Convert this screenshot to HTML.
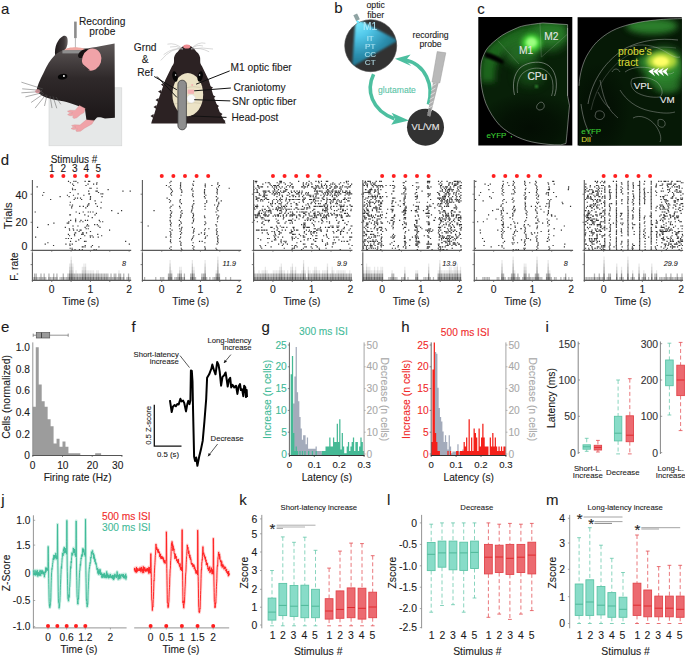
<!DOCTYPE html>
<html><head><meta charset="utf-8"><style>
html,body{margin:0;padding:0;background:#fff;width:685px;height:656px;overflow:hidden;}
svg{display:block;font-family:"Liberation Sans", sans-serif;}
</style></head><body>
<svg width="685" height="656" viewBox="0 0 685 656" font-family='"Liberation Sans", sans-serif'><defs><linearGradient id="mg" x1="0" y1="0" x2="0" y2="1"><stop offset="0" stop-color="#5e5858"/><stop offset="0.45" stop-color="#2f292a"/><stop offset="1" stop-color="#1b1617"/></linearGradient><linearGradient id="eg" x1="0" y1="0" x2="1" y2="0"><stop offset="0" stop-color="#1e191a"/><stop offset="0.7" stop-color="#3e3839"/><stop offset="1" stop-color="#6a6464"/></linearGradient><radialGradient id="cone" cx="357" cy="21" r="52" gradientUnits="userSpaceOnUse"><stop offset="0" stop-color="#7cecff"/><stop offset="0.3" stop-color="#52c8ea"/><stop offset="0.65" stop-color="#2c90b0"/><stop offset="1" stop-color="#1c6378"/></radialGradient><clipPath id="m1c"><circle cx="370.7" cy="45.7" r="25.8"/></clipPath><radialGradient id="dk" cx="0.5" cy="0.5" r="0.5"><stop offset="0" stop-color="#020a02" stop-opacity="0.85"/><stop offset="0.5" stop-color="#020a02" stop-opacity="0.6"/><stop offset="1" stop-color="#020a02" stop-opacity="0"/></radialGradient><filter id="b1" x="-50%" y="-50%" width="200%" height="200%"><feGaussianBlur stdDeviation="0.8"/></filter><filter id="b2" x="-50%" y="-50%" width="200%" height="200%"><feGaussianBlur stdDeviation="1.6"/></filter><filter id="b3" x="-50%" y="-50%" width="200%" height="200%"><feGaussianBlur stdDeviation="2.4000000000000004"/></filter><filter id="b4" x="-50%" y="-50%" width="200%" height="200%"><feGaussianBlur stdDeviation="3.2"/></filter><filter id="b6" x="-50%" y="-50%" width="200%" height="200%"><feGaussianBlur stdDeviation="4.800000000000001"/></filter><filter id="b10" x="-50%" y="-50%" width="200%" height="200%"><feGaussianBlur stdDeviation="8.0"/></filter><clipPath id="lbc"><path d="M567.6 24.6L542.9 22.9C530 24.5 522 25.5 517.3 27.8C510 31 503 34 497.7 38.6C492 43 488.5 46.5 485.9 50.4C483 56 481.5 60 481 64.2C480.5 70 480.5 76 481 81.9C481.8 90 483.5 97 485.9 103.5C489.5 112 494 119 499.6 125.2C505 130.5 511 134 517.3 137C524 140 530 141.8 537 142.9C545 144.2 553 145 560.6 144.9L566 143.5C567.5 130 568.2 118 569.5 105.5L567.6 95.7Z"/></clipPath><clipPath id="rbc"><path d="M681.8 18.6C670 18.8 662 19.3 655.6 20C648 20.8 642 21.6 636 22.9C628 24.6 622 26.5 616.3 28.8C610 31.6 605 34.8 600.6 38.6C595 43 592 47.5 588.8 52.4C585.5 57.5 583.5 62.5 581.9 68.1C580.2 74 579.4 80 579 85.8L578.8 145.5L681.8 145.5Z"/></clipPath></defs><text x="1" y="13.9" font-size="15" text-anchor="start" fill="#1a1a1a" stroke="#1a1a1a" stroke-width="0.1">a</text>
<rect x="49" y="87.8" width="72.8" height="58" fill="#e6e8e8" stroke="#d2d4d4" stroke-width="0.6"/>
<rect x="74.1" y="21.6" width="2.6" height="16.5" fill="#8c8c8c"/>
<line x1="75.4" y1="37.5" x2="75.4" y2="49" stroke="#9a9a9a" stroke-width="0.7"/>
<path d="M55.2 55.5C54 47 58 38.5 62.8 36.2C67.2 34.3 68.4 39 67.4 44.5C66.6 49 63.5 52.5 59.5 54.8Z" fill="url(#eg)" stroke="none" stroke-width="1"/>
<path d="M54.3 55.8C57.5 52.4 61 50.6 65 50.2L84 48.6C90 48 95 47 100 46.2L114.6 43.4L114.9 117.7L105 118.4C101 117.2 99 117 97 117.5L93.5 121.2L86.5 120.6L85 109.5C80 106 72 103.5 63.2 101.2C55 99.8 47 98.8 41.5 95.2L36.4 91.4C37 86 40 80 43.5 73C47 65 50.5 59.5 54.3 55.8Z" fill="url(#mg)" stroke="none" stroke-width="1"/>
<path d="M63.5 50.6C66 47.8 72 47.2 78 47.4C82 47.6 85 48.6 86 50.2Z" fill="#f0a8a2" stroke="none" stroke-width="1"/>
<rect x="62.4" y="50.2" width="19.8" height="3.2" fill="#8e8e8e"/>
<ellipse cx="83.6" cy="53.6" rx="6.2" ry="3.6" transform="rotate(-32 83.6 53.6)" fill="#171213"/>
<ellipse cx="91.7" cy="59.6" rx="9.6" ry="11.2" transform="rotate(18 91.7 59.6)" fill="#f0a3a8"/>
<path d="M80.6 62C83 66 85 69 86.5 71L90 70.2C86 67 83 64 80.6 62Z" fill="#3a3334" stroke="none" stroke-width="1"/>
<ellipse cx="62.6" cy="76.7" rx="4.8" ry="2.8" transform="rotate(-8 62.6 76.7)" fill="#050505"/>
<circle cx="63.9" cy="76" r="0.95" fill="#fff"/>
<ellipse cx="37.7" cy="91.3" rx="2.5" ry="2.0" fill="#f2a2aa"/>
<line x1="43" y1="89" x2="21.4" y2="82.2" stroke="#5a5a5a" stroke-width="0.5"/>
<line x1="42" y1="90.5" x2="22.2" y2="88.8" stroke="#5a5a5a" stroke-width="0.5"/>
<line x1="42" y1="91.5" x2="21.4" y2="92.8" stroke="#5a5a5a" stroke-width="0.5"/>
<line x1="43" y1="92.5" x2="25.4" y2="96.9" stroke="#5a5a5a" stroke-width="0.5"/>
<line x1="44" y1="93.5" x2="31.1" y2="102.5" stroke="#5a5a5a" stroke-width="0.5"/>
<line x1="46" y1="94.5" x2="35.1" y2="108.1" stroke="#5a5a5a" stroke-width="0.5"/>
<line x1="50" y1="96" x2="52" y2="108.1" stroke="#5a5a5a" stroke-width="0.5"/>
<line x1="53" y1="96.5" x2="56.8" y2="108.3" stroke="#5a5a5a" stroke-width="0.5"/>
<line x1="56" y1="97" x2="60.8" y2="104.3" stroke="#5a5a5a" stroke-width="0.5"/>
<line x1="47" y1="95" x2="44.5" y2="106" stroke="#5a5a5a" stroke-width="0.5"/>
<path d="M79.4 105.4L85.2 108.6L84 112.6L80.5 114.6L76.8 117.8L74 118.6L72.5 117.2L73.8 115.6L70 115.8L67.6 114.8L69 113.4L72.6 112.8L68.8 112.2L67.4 111.2L70.2 110.2L75 110.4Z" fill="#f0a3a8" stroke="#c88" stroke-width="0.3"/>
<path d="M86.2 119.8L94 120.4L92 124L84.5 128.2L80.5 131.2L76.6 131.6L75.8 130.2L77.4 129.2L73.2 129.6L71 128.6L72.6 127.6L76 127.2L72.6 126.6L71.6 125.4L74.5 124.8L80 125Z" fill="#f0a3a8" stroke="#c88" stroke-width="0.3"/>
<text x="102.1" y="25.3" font-size="10.2" text-anchor="middle" fill="#1a1a1a" stroke="#1a1a1a" stroke-width="0.1">Recording</text>
<text x="102.4" y="35.2" font-size="10.2" text-anchor="middle" fill="#1a1a1a" stroke="#1a1a1a" stroke-width="0.1">probe</text>
<text x="145.2" y="50.6" font-size="10.2" text-anchor="middle" fill="#1a1a1a" stroke="#1a1a1a" stroke-width="0.1">Grnd</text>
<text x="145.2" y="62.8" font-size="10.2" text-anchor="middle" fill="#1a1a1a" stroke="#1a1a1a" stroke-width="0.1">&amp;</text>
<text x="145.2" y="76.3" font-size="10.2" text-anchor="middle" fill="#1a1a1a" stroke="#1a1a1a" stroke-width="0.1">Ref</text>
<text x="230.6" y="70.6" font-size="10.2" text-anchor="start" fill="#1a1a1a" stroke="#1a1a1a" stroke-width="0.1">M1 optic fiber</text>
<text x="233.4" y="90.6" font-size="10.2" text-anchor="start" fill="#1a1a1a" stroke="#1a1a1a" stroke-width="0.1">Craniotomy</text>
<text x="231.9" y="104.6" font-size="10.2" text-anchor="start" fill="#1a1a1a" stroke="#1a1a1a" stroke-width="0.1">SNr optic fiber</text>
<text x="231.4" y="120.5" font-size="10.2" text-anchor="start" fill="#1a1a1a" stroke="#1a1a1a" stroke-width="0.1">Head-post</text>
<path d="M187 45.2C190.5 45.2 194 47.8 196.2 51.6C199.2 53.6 200.6 57 200.2 60.6C200 63 200.8 64.8 202 66.2L208.8 80.3L213.8 97L220.5 113.9L225.8 123.4L151.2 123.4L151.7 121.4L154.3 113.9L159.3 97L165.2 80.3L172 66.2C173.4 64.8 174.2 63 174 60.6C173.6 57 175 53.6 178 51.6C180.2 47.8 183.5 45.2 187 45.2Z" fill="#2c2223" stroke="none" stroke-width="1"/>
<path d="M156.5 105l-3 2l3.5 2.5z" fill="#2c2223" stroke="none" stroke-width="1"/>
<path d="M158.5 98l-3 2l3.5 2.5z" fill="#2c2223" stroke="none" stroke-width="1"/>
<path d="M161 90l-3 1.5l3.5 2.5z" fill="#2c2223" stroke="none" stroke-width="1"/>
<path d="M163.5 83l-2.5 1.5l3 2.5z" fill="#2c2223" stroke="none" stroke-width="1"/>
<path d="M210 86l3 1.5l-2.5 2.5z" fill="#2c2223" stroke="none" stroke-width="1"/>
<path d="M212.5 95l3 1.5l-2.5 2.5z" fill="#2c2223" stroke="none" stroke-width="1"/>
<path d="M216 104l3 2l-2.5 2.5z" fill="#2c2223" stroke="none" stroke-width="1"/>
<path d="M219.5 112l3 2l-2.5 2.5z" fill="#2c2223" stroke="none" stroke-width="1"/>
<path d="M153.5 114l-3 2l3.5 2.5z" fill="#2c2223" stroke="none" stroke-width="1"/>
<path d="M222.5 119l3 2l-2.5 2.5z" fill="#2c2223" stroke="none" stroke-width="1"/>
<ellipse cx="187.8" cy="94.6" rx="15.4" ry="21.6" fill="#ece3c6"/>
<path d="M174 104C180 102 186 105 192 103C196 102 199 104 202 103" fill="none" stroke="#b9ae95" stroke-width="0.4"/>
<path d="M175 88C180 87 185 89 190 87C195 86 199 88 201 87" fill="none" stroke="#b9ae95" stroke-width="0.4"/>
<ellipse cx="175.0" cy="76.5" rx="2.6" ry="5.4" transform="rotate(-12 175 76.5)" fill="#060606"/>
<ellipse cx="200.2" cy="76.5" rx="2.6" ry="5.4" transform="rotate(12 200.2 76.5)" fill="#060606"/>
<circle cx="175.6" cy="75" r="0.8" fill="#fff"/>
<circle cx="199.6" cy="75" r="0.8" fill="#fff"/>
<rect x="187.6" y="89.6" width="6.4" height="4.2" fill="#f4b2b4"/>
<circle cx="192.2" cy="85" r="1" fill="#f4b2b4"/>
<circle cx="191.2" cy="98.7" r="4.2" fill="#fbfbfb" stroke="#d8d8d8" stroke-width="0.5"/>
<rect x="177.9" y="80.2" width="8.5" height="49.6" fill="#8e8e8e" rx="4.2" stroke="#3a3a3a" stroke-width="0.8"/>
<ellipse cx="186.8" cy="46.6" rx="3.6" ry="2.0" fill="#ee8c92"/>
<path d="M183 49Q171.9 47 160.8 60.4" fill="none" stroke="#aaa" stroke-width="0.45"/>
<path d="M183 49Q175.2 42.2 167.4 44.2" fill="none" stroke="#aaa" stroke-width="0.45"/>
<path d="M183 49Q173.3 47 163.6 54.7" fill="none" stroke="#aaa" stroke-width="0.45"/>
<path d="M183 49Q176.5 45 170 47" fill="none" stroke="#aaa" stroke-width="0.45"/>
<path d="M191 49Q202 47 213 49" fill="none" stroke="#aaa" stroke-width="0.45"/>
<path d="M191 49Q198.2 41.3 205.4 43.3" fill="none" stroke="#aaa" stroke-width="0.45"/>
<path d="M191 49Q200.1 47 209.2 51.8" fill="none" stroke="#aaa" stroke-width="0.45"/>
<path d="M191 49Q197 44 203 46" fill="none" stroke="#aaa" stroke-width="0.45"/>
<line x1="229.7" y1="70.9" x2="196.1" y2="84.2" stroke="#111" stroke-width="1"/>
<line x1="230.9" y1="88" x2="194.2" y2="90.8" stroke="#111" stroke-width="1"/>
<line x1="230.3" y1="100.9" x2="194.2" y2="99.7" stroke="#111" stroke-width="1"/>
<line x1="226.5" y1="117.4" x2="191.4" y2="116" stroke="#111" stroke-width="1"/>
<line x1="154.2" y1="76.5" x2="176.9" y2="89.8" stroke="#111" stroke-width="1"/>
<line x1="157" y1="76.5" x2="176.9" y2="97.4" stroke="#111" stroke-width="1"/>
<text x="334.3" y="12.6" font-size="15" text-anchor="start" fill="#1a1a1a" stroke="#1a1a1a" stroke-width="0.1">b</text>
<text x="375.7" y="7.8" font-size="8.7" text-anchor="middle" fill="#1a1a1a" stroke="#1a1a1a" stroke-width="0.1">optic</text>
<text x="375.7" y="17.8" font-size="8.7" text-anchor="middle" fill="#1a1a1a" stroke="#1a1a1a" stroke-width="0.1">fiber</text>
<text x="430.6" y="38.3" font-size="8.7" text-anchor="middle" fill="#1a1a1a" stroke="#1a1a1a" stroke-width="0.1">recording</text>
<text x="430.6" y="47.3" font-size="8.7" text-anchor="middle" fill="#1a1a1a" stroke="#1a1a1a" stroke-width="0.1">probe</text>
<circle cx="370.7" cy="45.7" r="26" fill="#323232" stroke="#4a4a4a" stroke-width="0.6"/>
<g clip-path="url(#m1c)"><path d="M355.6 18L398 40.6L352.2 66.8Z" fill="url(#cone)" filter="url(#b1)"/></g>
<path d="M355.6 19.5L359.6 21.5L357.4 24Z" fill="#6ee8ff" stroke="none" stroke-width="1"/>
<line x1="355.2" y1="14.4" x2="358" y2="20.2" stroke="#8fa3a3" stroke-width="4.2"/>
<text x="370" y="30.4" font-size="10.2" text-anchor="middle" fill="#b6f0ff" opacity="0.9" stroke="#b6f0ff" stroke-width="0.1">M1</text>
<text x="370.2" y="41.2" font-size="8" text-anchor="middle" fill="#c0eef8" opacity="0.85" stroke="#c0eef8" stroke-width="0.1">IT</text>
<text x="370.2" y="49" font-size="8" text-anchor="middle" fill="#c0eef8" opacity="0.85" stroke="#c0eef8" stroke-width="0.1">PT</text>
<text x="370.2" y="57" font-size="8" text-anchor="middle" fill="#c0eef8" opacity="0.85" stroke="#c0eef8" stroke-width="0.1">CC</text>
<text x="370.2" y="64.9" font-size="8" text-anchor="middle" fill="#c0eef8" opacity="0.85" stroke="#c0eef8" stroke-width="0.1">CT</text>
<path d="M373.6 74.2C366 90 371 110 394.5 118.8" fill="none" stroke="#4dbfa0" stroke-width="3.6"/>
<path d="M409 120.6L391.6 112.8L395.2 118.8L391.2 124.8Z" fill="#4dbfa0" stroke="none" stroke-width="1"/>
<path d="M428.4 104.4C434 86 426 64 404 59.8" fill="none" stroke="#4dbfa0" stroke-width="3.6"/>
<path d="M395 58.8L410.6 54.6L405.6 60.6L411.2 66Z" fill="#4dbfa0" stroke="none" stroke-width="1"/>
<text x="378.1" y="93.4" font-size="8.6" text-anchor="start" fill="#58c4a6" stroke="#58c4a6" stroke-width="0.1">glutamate</text>
<circle cx="425.5" cy="127.2" r="18.5" fill="#323232"/>
<path d="M437.2 51.6L445.8 52.8L439.8 82.9L432.0 82.0Z" fill="#b9b9b9" stroke="#9a9a9a" stroke-width="0.5"/>
<path d="M433.0 82.2L438.6 82.9L430.2 116.5L427.4 115.6Z" fill="#b0b0b0" stroke="none" stroke-width="1"/>
<line x1="431.82" y1="86.2" x2="436.22" y2="83.6" stroke="#eeeeee" stroke-width="0.7"/>
<line x1="431.12" y1="90.6" x2="435.52" y2="88" stroke="#eeeeee" stroke-width="0.7"/>
<line x1="430.41" y1="95" x2="434.81" y2="92.4" stroke="#eeeeee" stroke-width="0.7"/>
<line x1="429.71" y1="99.4" x2="434.11" y2="96.8" stroke="#eeeeee" stroke-width="0.7"/>
<line x1="429" y1="103.8" x2="433.4" y2="101.2" stroke="#eeeeee" stroke-width="0.7"/>
<line x1="428.3" y1="108.2" x2="432.7" y2="105.6" stroke="#eeeeee" stroke-width="0.7"/>
<line x1="427.6" y1="112.6" x2="432" y2="110" stroke="#eeeeee" stroke-width="0.7"/>
<path d="M428.8 108L431.2 109L430.2 116.5L427.4 115.6Z" fill="#8a8a8a" stroke="none" stroke-width="1"/>
<text x="425.5" y="130.4" font-size="9.3" text-anchor="middle" fill="#ececec" stroke="#ececec" stroke-width="0.1">VL/VM</text>
<text x="477.2" y="14" font-size="15" text-anchor="start" fill="#1a1a1a" stroke="#1a1a1a" stroke-width="0.1">c</text>
<rect x="478.3" y="17" width="94" height="128.5" fill="#000"/>
<rect x="577.6" y="17.2" width="104.2" height="128.3" fill="#000"/>
<g clip-path="url(#lbc)">
<rect x="478" y="17" width="95" height="129" fill="#082008"/>
<path d="M565 24L542.9 22.9C530 24.5 522 25.5 517.3 27.8C510 31 503 34 497.7 38.6C492 43 488.5 46.5 485.9 50.4C483 56 481.5 60 481 64.2C480.5 70 480.5 76 481 81.9L495 82C494 70 497 60 503 53C512 44 524 40 540 40L566 40Z" fill="#1f661f" stroke="none" stroke-width="1" filter="url(#b4)"/>
<ellipse cx="550" cy="36" rx="17" ry="14" fill="#2c7e2c" filter="url(#b6)" opacity="0.9"/>
<ellipse cx="522" cy="52" rx="18" ry="14" fill="#2a7a2a" filter="url(#b6)" opacity="0.8"/>
<ellipse cx="531.5" cy="43" rx="10" ry="9" fill="#45d838" filter="url(#b3)"/>
<ellipse cx="531.5" cy="42.5" rx="5.5" ry="5" fill="#9cff80" filter="url(#b2)"/>
<ellipse cx="530" cy="76" rx="14" ry="10" fill="#1d5a1d" filter="url(#b6)" opacity="0.7"/>
<ellipse cx="530" cy="128" rx="56" ry="36" fill="url(#dk)"/>
<path d="M484 52C490 52.5 497 55.5 502 59.5C505 62 504.5 64.5 501 63.5C495 61.5 490 58.5 485 57.5Z" fill="#010301" stroke="none" stroke-width="1" filter="url(#b1)"/>
<circle cx="536.5" cy="86.5" r="1.2" fill="#4c4" filter="url(#b1)"/>
</g>
<path d="M567.6 24.6L542.9 22.9C530 24.5 522 25.5 517.3 27.8C510 31 503 34 497.7 38.6C492 43 488.5 46.5 485.9 50.4C483 56 481.5 60 481 64.2C480.5 70 480.5 76 481 81.9C481.8 90 483.5 97 485.9 103.5C489.5 112 494 119 499.6 125.2C505 130.5 511 134 517.3 137C524 140 530 141.8 537 142.9C545 144.2 553 145 560.6 144.9L566 143.5C567.5 130 568.2 118 569.5 105.5L567.6 95.7Z" fill="none" stroke="#d9d9d9" stroke-width="0.6" stroke-opacity="0.8"/>
<path d="M567.6 28L567.6 96" fill="none" stroke="#d0d0d0" stroke-width="0.6" stroke-opacity="0.8"/>
<path d="M497.7 40.5L519 64M540 23L541.3 57M541.5 57L567 34.5" fill="none" stroke="#cfcfcf" stroke-width="0.45" stroke-opacity="0.45"/>
<path d="M514.5 95C512 84 514 74 520 68C526 63 534 61.5 541 62.5C549 64 554 69 556 79C557 86 556 92 554.5 96" fill="none" stroke="#d0d0d0" stroke-width="0.6" stroke-opacity="0.8"/>
<path d="M517.5 93C516.5 85 518 78 523 73C529 68.5 535 67.5 541 68.5C547 70 551 74.5 552.5 81C553.5 87 553 92 551.5 96" fill="none" stroke="#d0d0d0" stroke-width="0.5" stroke-opacity="0.8"/>
<path d="M538 104C540 101.5 543 101.5 544 104.5C545 107.5 543 110 539 110C536 109 536 106 538 104Z" fill="none" stroke="#d0d0d0" stroke-width="0.5" stroke-opacity="0.8"/>
<text x="519" y="54.4" font-size="10.2" text-anchor="start" fill="#e6e6e6" stroke="#e6e6e6" stroke-width="0.1">M1</text>
<text x="544.2" y="39.6" font-size="10.2" text-anchor="start" fill="#e6e6e6" stroke="#e6e6e6" stroke-width="0.1">M2</text>
<text x="527.4" y="80" font-size="10.2" text-anchor="start" fill="#e6e6e6" stroke="#e6e6e6" stroke-width="0.1">CPu</text>
<text x="486.4" y="137.8" font-size="8" text-anchor="start" fill="#3cd034" stroke="#3cd034" stroke-width="0.1">eYFP</text>
<circle cx="511.4" cy="136.8" r="0.7" fill="#3c3"/>
<g clip-path="url(#rbc)">
<rect x="577" y="17" width="105" height="129" fill="#061906"/>
<ellipse cx="652" cy="26" rx="26" ry="8" fill="#2e842e" filter="url(#b4)" opacity="0.95"/>
<ellipse cx="664" cy="68" rx="20" ry="20" fill="#2e8a2e" filter="url(#b6)"/>
<ellipse cx="668" cy="86" rx="12" ry="7" fill="#2a7a2a" filter="url(#b4)" opacity="0.8"/>
<ellipse cx="646" cy="62" rx="10" ry="7" fill="#2e8a2e" filter="url(#b4)" opacity="0.8"/>
<ellipse cx="662" cy="61" rx="15" ry="9" fill="#b8dc3a" filter="url(#b3)"/>
<ellipse cx="661" cy="61.5" rx="8" ry="5" fill="#ffff66" filter="url(#b2)"/>
<ellipse cx="598" cy="112" rx="32" ry="50" fill="url(#dk)" opacity="0.8"/>
</g>
<path d="M681.8 18.6C670 18.8 662 19.3 655.6 20C648 20.8 642 21.6 636 22.9C628 24.6 622 26.5 616.3 28.8C610 31.6 605 34.8 600.6 38.6C595 43 592 47.5 588.8 52.4C585.5 57.5 583.5 62.5 581.9 68.1C580.2 74 579.4 80 579 85.8" fill="none" stroke="#d0d0d0" stroke-width="0.6" stroke-opacity="0.8"/>
<path d="M581 104C583 120 587 130 592 137" fill="none" stroke="#cfcfcf" stroke-width="0.5" stroke-opacity="0.8"/>
<path d="M588 104C592 80 606 60 626 48C642 40 660 38 678 40" fill="none" stroke="#cfcfcf" stroke-width="0.5" stroke-opacity="0.8"/>
<path d="M591 110C596 86 610 66 628 55C644 47 660 46 676 48" fill="none" stroke="#cfcfcf" stroke-width="0.4" stroke-opacity="0.55"/>
<path d="M630 47C640 43 655 45 666 52C672 56 676 58 680 57" fill="none" stroke="#cfcfcf" stroke-width="0.4" stroke-opacity="0.8"/>
<path d="M625 72C633 66 647 66 656 70C664 73 670 76 674 72" fill="none" stroke="#cfcfcf" stroke-width="0.45" stroke-opacity="0.8"/>
<path d="M632 79C640 76 650 77 657 82C662 87 664 93 660 97C652 98 642 96 636 92C631 88 630 83 632 79Z" fill="none" stroke="#cfcfcf" stroke-width="0.45" stroke-opacity="0.8"/>
<path d="M620 90C626 100 636 108 650 111C660 113 668 114 675 112" fill="none" stroke="#cfcfcf" stroke-width="0.45" stroke-opacity="0.8"/>
<path d="M600 80C602 90 604 100 609 108C612 113 616 116 618 118" fill="none" stroke="#cfcfcf" stroke-width="0.45" stroke-opacity="0.8"/>
<path d="M598 92C602 100 605 105 610 108" fill="none" stroke="#cfcfcf" stroke-width="0.4" stroke-opacity="0.8"/>
<path d="M596 112C600 109 606 112 604 117C602 121 596 120 595 116Z" fill="none" stroke="#cfcfcf" stroke-width="0.45" stroke-opacity="0.8"/>
<path d="M633 118C640 114 650 118 656 126C660 132 662 138 660 142" fill="none" stroke="#cfcfcf" stroke-width="0.45" stroke-opacity="0.8"/>
<path d="M658 120C662 118 666 121 665 125C664 128 660 128 658 125Z" fill="none" stroke="#cfcfcf" stroke-width="0.45" stroke-opacity="0.8"/>
<path d="M612 72C614 68 618 68 620 72" fill="none" stroke="#cfcfcf" stroke-width="0.45" stroke-opacity="0.8"/>
<text x="618" y="54.8" font-size="10.4" text-anchor="start" fill="#d8d838" stroke="#d8d838" stroke-width="0.1">probe's</text>
<text x="618" y="66.4" font-size="10.4" text-anchor="start" fill="#d8d838" stroke="#d8d838" stroke-width="0.1">tract</text>
<text x="633.8" y="89.4" font-size="9.8" text-anchor="start" fill="#ececec" stroke="#ececec" stroke-width="0.1">VPL</text>
<text x="660" y="103" font-size="9.8" text-anchor="start" fill="#ececec" stroke="#ececec" stroke-width="0.1">VM</text>
<text x="581.2" y="133.6" font-size="8" text-anchor="start" fill="#3cd034" stroke="#3cd034" stroke-width="0.1">eYFP</text>
<text x="581.2" y="141.6" font-size="8" text-anchor="start" fill="#d8d838" stroke="#d8d838" stroke-width="0.1">DiI</text>
<path d="M648.4 71.2L654.9 67.8L652.8 71.2L655 76.2Z" fill="#ffffff" stroke="none" stroke-width="1"/>
<path d="M652.9 71.2L659.4 67.8L657.3 71.2L659.5 76.2Z" fill="#ffffff" stroke="none" stroke-width="1"/>
<path d="M657.4 71.2L663.9 67.8L661.8 71.2L664 76.2Z" fill="#ffffff" stroke="none" stroke-width="1"/>
<path d="M661.9 71.2L668.4 67.8L666.3 71.2L668.5 76.2Z" fill="#ffffff" stroke="none" stroke-width="1"/>
<text x="0.8" y="165.2" font-size="15" text-anchor="start" fill="#1a1a1a" stroke="#1a1a1a" stroke-width="0.1">d</text>
<text x="74" y="162.6" font-size="10" text-anchor="middle" fill="#1a1a1a" stroke="#1a1a1a" stroke-width="0.1">Stimulus #</text>
<text x="51.7" y="171.9" font-size="10" text-anchor="middle" fill="#1a1a1a" stroke="#1a1a1a" stroke-width="0.1">1</text>
<text x="63.4" y="171.9" font-size="10" text-anchor="middle" fill="#1a1a1a" stroke="#1a1a1a" stroke-width="0.1">2</text>
<text x="74.9" y="171.9" font-size="10" text-anchor="middle" fill="#1a1a1a" stroke="#1a1a1a" stroke-width="0.1">3</text>
<text x="86.3" y="171.9" font-size="10" text-anchor="middle" fill="#1a1a1a" stroke="#1a1a1a" stroke-width="0.1">4</text>
<text x="98.3" y="171.9" font-size="10" text-anchor="middle" fill="#1a1a1a" stroke="#1a1a1a" stroke-width="0.1">5</text>
<circle cx="51.75" cy="176" r="2" fill="#ff1f1f"/>
<circle cx="63.36" cy="176" r="2" fill="#ff1f1f"/>
<circle cx="74.97" cy="176" r="2" fill="#ff1f1f"/>
<circle cx="86.58" cy="176" r="2" fill="#ff1f1f"/>
<circle cx="98.19" cy="176" r="2" fill="#ff1f1f"/>
<path d="M71.6 249.1h1.2v1.15h-1.2zM74.43 249.1h1.2v1.15h-1.2zM78.86 249.1h1.2v1.15h-1.2zM81.72 249.1h1.2v1.15h-1.2zM93.49 249.1h1.2v1.15h-1.2zM95.59 249.1h1.2v1.15h-1.2zM69.57 247.71h1.2v1.15h-1.2zM71.49 247.71h1.2v1.15h-1.2zM81.68 246.31h1.2v1.15h-1.2zM82.52 246.31h1.2v1.15h-1.2zM84.45 246.31h1.2v1.15h-1.2zM90.71 246.31h1.2v1.15h-1.2zM98.32 246.31h1.2v1.15h-1.2zM52.96 244.92h1.2v1.15h-1.2zM69.46 244.92h1.2v1.15h-1.2zM84.63 244.92h1.2v1.15h-1.2zM91.86 244.92h1.2v1.15h-1.2zM44.64 243.52h1.2v1.15h-1.2zM65.32 243.52h1.2v1.15h-1.2zM69.29 243.52h1.2v1.15h-1.2zM71.68 243.52h1.2v1.15h-1.2zM128.73 243.52h1.2v1.15h-1.2zM47.3 242.13h1.2v1.15h-1.2zM69.91 240.73h1.2v1.15h-1.2zM75.4 240.73h1.2v1.15h-1.2zM83.91 240.73h1.2v1.15h-1.2zM85.35 240.73h1.2v1.15h-1.2zM125.06 240.73h1.2v1.15h-1.2zM78.13 239.34h1.2v1.15h-1.2zM65.44 237.94h1.2v1.15h-1.2zM67.84 237.94h1.2v1.15h-1.2zM70.78 237.94h1.2v1.15h-1.2zM80.03 237.94h1.2v1.15h-1.2zM35.03 236.55h1.2v1.15h-1.2zM89.81 236.55h1.2v1.15h-1.2zM92.62 236.55h1.2v1.15h-1.2zM97.65 236.55h1.2v1.15h-1.2zM68.92 235.15h1.2v1.15h-1.2zM74.06 235.15h1.2v1.15h-1.2zM84.14 235.15h1.2v1.15h-1.2zM89.63 235.15h1.2v1.15h-1.2zM91.46 235.15h1.2v1.15h-1.2zM101.05 235.15h1.2v1.15h-1.2zM67.81 233.76h1.2v1.15h-1.2zM73.9 233.76h1.2v1.15h-1.2zM81.14 233.76h1.2v1.15h-1.2zM82.51 233.76h1.2v1.15h-1.2zM97.17 233.76h1.2v1.15h-1.2zM74.61 232.36h1.2v1.15h-1.2zM75.09 232.36h1.2v1.15h-1.2zM81.95 232.36h1.2v1.15h-1.2zM82.53 232.36h1.2v1.15h-1.2zM85.92 232.36h1.2v1.15h-1.2zM78.5 230.97h1.2v1.15h-1.2zM89.89 230.97h1.2v1.15h-1.2zM68.97 229.57h1.2v1.15h-1.2zM73.03 229.57h1.2v1.15h-1.2zM76.55 229.57h1.2v1.15h-1.2zM79.49 229.57h1.2v1.15h-1.2zM80.45 229.57h1.2v1.15h-1.2zM108.96 229.57h1.2v1.15h-1.2zM68.75 228.18h1.2v1.15h-1.2zM72.52 228.18h1.2v1.15h-1.2zM85.59 228.18h1.2v1.15h-1.2zM87.68 228.18h1.2v1.15h-1.2zM37 226.78h1.2v1.15h-1.2zM64.74 226.78h1.2v1.15h-1.2zM84.54 226.78h1.2v1.15h-1.2zM99.4 226.78h1.2v1.15h-1.2zM72.3 225.39h1.2v1.15h-1.2zM72.51 225.39h1.2v1.15h-1.2zM77.35 225.39h1.2v1.15h-1.2zM86.02 225.39h1.2v1.15h-1.2zM87.69 225.39h1.2v1.15h-1.2zM88.09 225.39h1.2v1.15h-1.2zM97.72 225.39h1.2v1.15h-1.2zM97.99 225.39h1.2v1.15h-1.2zM47.69 223.99h1.2v1.15h-1.2zM86.88 223.99h1.2v1.15h-1.2zM94.08 223.99h1.2v1.15h-1.2zM96.69 223.99h1.2v1.15h-1.2zM53.3 222.6h1.2v1.15h-1.2zM66.67 222.6h1.2v1.15h-1.2zM68.03 222.6h1.2v1.15h-1.2zM68.24 221.2h1.2v1.15h-1.2zM75.02 221.2h1.2v1.15h-1.2zM79.36 221.2h1.2v1.15h-1.2zM82.3 221.2h1.2v1.15h-1.2zM99.54 221.2h1.2v1.15h-1.2zM102.09 221.2h1.2v1.15h-1.2zM70.09 219.81h1.2v1.15h-1.2zM75.06 219.81h1.2v1.15h-1.2zM80.39 219.81h1.2v1.15h-1.2zM84.85 219.81h1.2v1.15h-1.2zM86.95 219.81h1.2v1.15h-1.2zM98.71 219.81h1.2v1.15h-1.2zM75.03 218.41h1.2v1.15h-1.2zM91.65 217.02h1.2v1.15h-1.2zM87.71 215.62h1.2v1.15h-1.2zM69.21 214.23h1.2v1.15h-1.2zM69.85 214.23h1.2v1.15h-1.2zM84.23 214.23h1.2v1.15h-1.2zM94.43 214.23h1.2v1.15h-1.2zM78.84 212.83h1.2v1.15h-1.2zM95.81 212.83h1.2v1.15h-1.2zM117.51 212.83h1.2v1.15h-1.2zM34.62 211.44h1.2v1.15h-1.2zM75.57 211.44h1.2v1.15h-1.2zM82.62 211.44h1.2v1.15h-1.2zM87.65 211.44h1.2v1.15h-1.2zM89.83 211.44h1.2v1.15h-1.2zM92.39 211.44h1.2v1.15h-1.2zM111.13 210.04h1.2v1.15h-1.2zM120.98 210.04h1.2v1.15h-1.2zM71.02 207.25h1.2v1.15h-1.2zM85.18 207.25h1.2v1.15h-1.2zM100.33 207.25h1.2v1.15h-1.2zM71.37 205.86h1.2v1.15h-1.2zM79.24 205.86h1.2v1.15h-1.2zM82.74 205.86h1.2v1.15h-1.2zM86.83 205.86h1.2v1.15h-1.2zM96.74 205.86h1.2v1.15h-1.2zM69.36 204.46h1.2v1.15h-1.2zM71.94 204.46h1.2v1.15h-1.2zM87.29 204.46h1.2v1.15h-1.2zM88.14 204.46h1.2v1.15h-1.2zM88.3 203.07h1.2v1.15h-1.2zM95.16 203.07h1.2v1.15h-1.2zM69.74 201.67h1.2v1.15h-1.2zM100.66 201.67h1.2v1.15h-1.2zM94.51 200.28h1.2v1.15h-1.2zM50.05 198.88h1.2v1.15h-1.2zM73.57 198.88h1.2v1.15h-1.2zM81.05 198.88h1.2v1.15h-1.2zM89.68 198.88h1.2v1.15h-1.2zM74.64 197.49h1.2v1.15h-1.2zM76.93 197.49h1.2v1.15h-1.2zM79.93 197.49h1.2v1.15h-1.2zM89.85 197.49h1.2v1.15h-1.2zM59.53 196.09h1.2v1.15h-1.2zM68.53 196.09h1.2v1.15h-1.2zM89.92 196.09h1.2v1.15h-1.2zM101.45 196.09h1.2v1.15h-1.2zM42.02 194.7h1.2v1.15h-1.2zM66.84 194.7h1.2v1.15h-1.2zM72.88 194.7h1.2v1.15h-1.2zM83.24 194.7h1.2v1.15h-1.2zM77.51 193.3h1.2v1.15h-1.2zM88.24 193.3h1.2v1.15h-1.2zM88.87 193.3h1.2v1.15h-1.2zM100.43 193.3h1.2v1.15h-1.2zM102.16 193.3h1.2v1.15h-1.2zM43.22 191.91h1.2v1.15h-1.2zM69.59 191.91h1.2v1.15h-1.2zM97.92 191.91h1.2v1.15h-1.2zM88.09 190.51h1.2v1.15h-1.2zM95.46 190.51h1.2v1.15h-1.2zM96.67 190.51h1.2v1.15h-1.2zM122.36 190.51h1.2v1.15h-1.2zM129.62 190.51h1.2v1.15h-1.2zM72.11 189.12h1.2v1.15h-1.2zM74.56 189.12h1.2v1.15h-1.2zM107.54 189.12h1.2v1.15h-1.2zM71.9 187.72h1.2v1.15h-1.2zM89.23 187.72h1.2v1.15h-1.2zM90.55 187.72h1.2v1.15h-1.2zM96.48 187.72h1.2v1.15h-1.2zM36.58 186.33h1.2v1.15h-1.2zM73.07 184.93h1.2v1.15h-1.2zM85.42 184.93h1.2v1.15h-1.2zM72.09 183.54h1.2v1.15h-1.2zM87.47 183.54h1.2v1.15h-1.2zM93.02 183.54h1.2v1.15h-1.2zM96.05 183.54h1.2v1.15h-1.2zM69.85 182.14h1.2v1.15h-1.2zM77.2 182.14h1.2v1.15h-1.2zM96.37 182.14h1.2v1.15h-1.2zM67.91 180.75h1.2v1.15h-1.2zM73.34 180.75h1.2v1.15h-1.2zM75.29 180.75h1.2v1.15h-1.2zM84.52 180.75h1.2v1.15h-1.2zM88.06 180.75h1.2v1.15h-1.2zM88.2 180.75h1.2v1.15h-1.2zM89.07 180.75h1.2v1.15h-1.2z" fill="#333"/>
<path d="M32.4 280.4h1.27v-3.4h-1.27zM33.99 280.4h1.27v-3.4h-1.27zM35.58 280.4h1.27v-3.4h-1.27zM37.18 280.4h1.27v-3.4h-1.27zM38.77 280.4h1.27v-3.4h-1.27zM40.36 280.4h1.27v-3.4h-1.27zM41.95 280.4h1.27v-3.4h-1.27zM43.54 280.4h1.27v-3.4h-1.27zM45.13 280.4h1.27v-3.4h-1.27zM48.32 280.4h1.27v-3.4h-1.27zM49.91 280.4h1.27v-3.4h-1.27zM51.5 280.4h1.27v-3.4h-1.27zM53.09 280.4h1.27v-3.4h-1.27zM54.68 280.4h1.27v-3.4h-1.27zM56.28 280.4h1.27v-3.4h-1.27zM59.46 280.4h1.27v-3.4h-1.27zM61.05 280.4h1.27v-3.4h-1.27zM62.64 280.4h1.27v-3.4h-1.27zM64.23 280.4h1.27v-3.4h-1.27zM65.83 280.4h1.27v-3.4h-1.27zM67.42 280.4h1.27v-3.4h-1.27zM69.01 280.4h1.27v-3.4h-1.27zM70.6 280.4h1.27v-3.4h-1.27zM72.19 280.4h1.27v-3.4h-1.27zM73.78 280.4h1.27v-3.4h-1.27zM75.38 280.4h1.27v-3.4h-1.27zM76.97 280.4h1.27v-3.4h-1.27zM78.56 280.4h1.27v-3.4h-1.27zM80.15 280.4h1.27v-3.4h-1.27zM81.74 280.4h1.27v-3.4h-1.27zM83.33 280.4h1.27v-3.4h-1.27zM84.93 280.4h1.27v-3.4h-1.27zM86.52 280.4h1.27v-3.4h-1.27zM88.11 280.4h1.27v-3.4h-1.27zM89.7 280.4h1.27v-3.4h-1.27zM91.29 280.4h1.27v-3.4h-1.27zM92.88 280.4h1.27v-3.4h-1.27zM94.48 280.4h1.27v-3.4h-1.27zM96.07 280.4h1.27v-3.4h-1.27zM97.66 280.4h1.27v-3.4h-1.27zM99.25 280.4h1.27v-3.4h-1.27zM100.84 280.4h1.27v-3.4h-1.27zM102.43 280.4h1.27v-3.4h-1.27zM104.03 280.4h1.27v-3.4h-1.27zM105.62 280.4h1.27v-3.4h-1.27zM107.21 280.4h1.27v-3.4h-1.27zM108.8 280.4h1.27v-3.4h-1.27zM110.39 280.4h1.27v-3.4h-1.27zM111.98 280.4h1.27v-3.4h-1.27zM113.58 280.4h1.27v-3.4h-1.27zM115.17 280.4h1.27v-3.4h-1.27zM116.76 280.4h1.27v-3.4h-1.27zM118.35 280.4h1.27v-3.4h-1.27zM119.94 280.4h1.27v-3.4h-1.27zM121.53 280.4h1.27v-3.4h-1.27zM123.13 280.4h1.27v-3.4h-1.27zM126.31 280.4h1.27v-3.4h-1.27zM127.9 280.4h1.27v-3.4h-1.27zM129.49 280.4h1.27v-3.4h-1.27z" fill="#000" opacity="0.3"/>
<path d="M33.99 280.4h1.27v-6.8h-1.27zM35.58 280.4h1.27v-6.8h-1.27zM40.36 280.4h1.27v-6.8h-1.27zM43.54 280.4h1.27v-6.8h-1.27zM48.32 280.4h1.27v-6.8h-1.27zM53.09 280.4h1.27v-6.8h-1.27zM56.28 280.4h1.27v-6.8h-1.27zM62.64 280.4h1.27v-6.8h-1.27zM67.42 280.4h1.27v-6.8h-1.27zM69.01 280.4h1.27v-6.8h-1.27zM70.6 280.4h1.27v-6.8h-1.27zM72.19 280.4h1.27v-6.8h-1.27zM73.78 280.4h1.27v-6.8h-1.27zM75.38 280.4h1.27v-6.8h-1.27zM76.97 280.4h1.27v-6.8h-1.27zM78.56 280.4h1.27v-6.8h-1.27zM80.15 280.4h1.27v-6.8h-1.27zM81.74 280.4h1.27v-6.8h-1.27zM83.33 280.4h1.27v-6.8h-1.27zM84.93 280.4h1.27v-6.8h-1.27zM86.52 280.4h1.27v-6.8h-1.27zM88.11 280.4h1.27v-6.8h-1.27zM89.7 280.4h1.27v-6.8h-1.27zM91.29 280.4h1.27v-6.8h-1.27zM92.88 280.4h1.27v-6.8h-1.27zM94.48 280.4h1.27v-6.8h-1.27zM96.07 280.4h1.27v-6.8h-1.27zM97.66 280.4h1.27v-6.8h-1.27zM99.25 280.4h1.27v-6.8h-1.27zM100.84 280.4h1.27v-6.8h-1.27zM102.43 280.4h1.27v-6.8h-1.27zM104.03 280.4h1.27v-6.8h-1.27zM105.62 280.4h1.27v-6.8h-1.27zM107.21 280.4h1.27v-6.8h-1.27zM110.39 280.4h1.27v-6.8h-1.27zM113.58 280.4h1.27v-6.8h-1.27zM115.17 280.4h1.27v-6.8h-1.27zM118.35 280.4h1.27v-6.8h-1.27zM119.94 280.4h1.27v-6.8h-1.27zM123.13 280.4h1.27v-6.8h-1.27zM127.9 280.4h1.27v-6.8h-1.27z" fill="#000" opacity="0.3"/>
<path d="M69.01 280.4h1.27v-10.2h-1.27zM70.6 280.4h1.27v-10.2h-1.27zM72.19 280.4h1.27v-10.2h-1.27zM75.38 280.4h1.27v-10.2h-1.27zM81.74 280.4h1.27v-10.2h-1.27zM83.33 280.4h1.27v-10.2h-1.27zM84.93 280.4h1.27v-10.2h-1.27zM86.52 280.4h1.27v-10.2h-1.27zM88.11 280.4h1.27v-10.2h-1.27zM89.7 280.4h1.27v-10.2h-1.27zM91.29 280.4h1.27v-10.2h-1.27zM92.88 280.4h1.27v-10.2h-1.27zM96.07 280.4h1.27v-10.2h-1.27zM97.66 280.4h1.27v-10.2h-1.27zM118.35 280.4h1.27v-10.2h-1.27z" fill="#000" opacity="0.09"/>
<path d="M69.01 280.4h1.27v-13.6h-1.27zM70.6 280.4h1.27v-13.6h-1.27zM72.19 280.4h1.27v-13.6h-1.27zM81.74 280.4h1.27v-13.6h-1.27zM83.33 280.4h1.27v-13.6h-1.27zM84.93 280.4h1.27v-13.6h-1.27z" fill="#000" opacity="0.09"/>
<path d="M69.01 280.4h1.27v-17h-1.27zM70.6 280.4h1.27v-17h-1.27zM72.19 280.4h1.27v-17h-1.27zM83.33 280.4h1.27v-17h-1.27zM84.93 280.4h1.27v-17h-1.27z" fill="#000" opacity="0.09"/>
<path d="M70.6 280.4h1.27v-20.4h-1.27z" fill="#000" opacity="0.09"/>
<path d="M70.6 280.4h1.27v-23.8h-1.27z" fill="#000" opacity="0.09"/>
<line x1="32.4" y1="180" x2="32.4" y2="250.9" stroke="#5a5a5a" stroke-width="1.1"/>
<line x1="32.4" y1="252.3" x2="32.4" y2="280.9" stroke="#5a5a5a" stroke-width="1.1"/>
<line x1="31.9" y1="250.4" x2="131.2" y2="250.4" stroke="#5a5a5a" stroke-width="1.2"/>
<line x1="31.9" y1="280.4" x2="131.2" y2="280.4" stroke="#5a5a5a" stroke-width="1.2"/>
<line x1="32.4" y1="280.4" x2="32.4" y2="282" stroke="#5a5a5a" stroke-width="0.8"/>
<line x1="32.4" y1="250.4" x2="32.4" y2="251.8" stroke="#5a5a5a" stroke-width="0.7"/>
<line x1="51.75" y1="280.4" x2="51.75" y2="282" stroke="#5a5a5a" stroke-width="0.8"/>
<line x1="51.75" y1="250.4" x2="51.75" y2="251.8" stroke="#5a5a5a" stroke-width="0.7"/>
<line x1="71.1" y1="280.4" x2="71.1" y2="282" stroke="#5a5a5a" stroke-width="0.8"/>
<line x1="71.1" y1="250.4" x2="71.1" y2="251.8" stroke="#5a5a5a" stroke-width="0.7"/>
<line x1="90.45" y1="280.4" x2="90.45" y2="282" stroke="#5a5a5a" stroke-width="0.8"/>
<line x1="90.45" y1="250.4" x2="90.45" y2="251.8" stroke="#5a5a5a" stroke-width="0.7"/>
<line x1="109.8" y1="280.4" x2="109.8" y2="282" stroke="#5a5a5a" stroke-width="0.8"/>
<line x1="109.8" y1="250.4" x2="109.8" y2="251.8" stroke="#5a5a5a" stroke-width="0.7"/>
<line x1="129.15" y1="280.4" x2="129.15" y2="282" stroke="#5a5a5a" stroke-width="0.8"/>
<line x1="129.15" y1="250.4" x2="129.15" y2="251.8" stroke="#5a5a5a" stroke-width="0.7"/>
<line x1="30.6" y1="250.4" x2="32.4" y2="250.4" stroke="#5a5a5a" stroke-width="0.8"/>
<line x1="30.6" y1="222.3" x2="32.4" y2="222.3" stroke="#5a5a5a" stroke-width="0.8"/>
<line x1="30.6" y1="194.2" x2="32.4" y2="194.2" stroke="#5a5a5a" stroke-width="0.8"/>
<line x1="30.6" y1="264.6" x2="32.4" y2="264.6" stroke="#5a5a5a" stroke-width="0.8"/>
<text x="51.75" y="292.9" font-size="10.4" text-anchor="middle" fill="#1a1a1a" stroke="#1a1a1a" stroke-width="0.1">0</text>
<text x="90.45" y="292.9" font-size="10.4" text-anchor="middle" fill="#1a1a1a" stroke="#1a1a1a" stroke-width="0.1">1</text>
<text x="129.15" y="292.9" font-size="10.4" text-anchor="middle" fill="#1a1a1a" stroke="#1a1a1a" stroke-width="0.1">2</text>
<text x="80.78" y="305" font-size="10.2" text-anchor="middle" fill="#1a1a1a" stroke="#1a1a1a" stroke-width="0.1">Time (s)</text>
<text x="125.9" y="266.4" font-size="7.2" text-anchor="end" fill="#222" font-style="italic" stroke="#222" stroke-width="0.1">8</text>
<circle cx="161.75" cy="176" r="2" fill="#ff1f1f"/>
<circle cx="173.36" cy="176" r="2" fill="#ff1f1f"/>
<circle cx="184.97" cy="176" r="2" fill="#ff1f1f"/>
<circle cx="196.58" cy="176" r="2" fill="#ff1f1f"/>
<circle cx="208.19" cy="176" r="2" fill="#ff1f1f"/>
<path d="M170.49 249.1h1.2v1.15h-1.2zM181.23 249.1h1.2v1.15h-1.2zM193.23 249.1h1.2v1.15h-1.2zM204.54 249.1h1.2v1.15h-1.2zM216.22 249.1h1.2v1.15h-1.2zM169 247.71h1.2v1.15h-1.2zM180.69 247.71h1.2v1.15h-1.2zM192.45 247.71h1.2v1.15h-1.2zM204.73 247.71h1.2v1.15h-1.2zM215.42 247.71h1.2v1.15h-1.2zM170.45 246.31h1.2v1.15h-1.2zM193.36 246.31h1.2v1.15h-1.2zM204.19 246.31h1.2v1.15h-1.2zM180.4 244.92h1.2v1.15h-1.2zM191.89 244.92h1.2v1.15h-1.2zM180.13 243.52h1.2v1.15h-1.2zM216.47 243.52h1.2v1.15h-1.2zM170.4 242.13h1.2v1.15h-1.2zM180.46 242.13h1.2v1.15h-1.2zM192.53 242.13h1.2v1.15h-1.2zM204.28 242.13h1.2v1.15h-1.2zM217.62 242.13h1.2v1.15h-1.2zM198.93 240.73h1.2v1.15h-1.2zM201.54 240.73h1.2v1.15h-1.2zM169.82 240.73h1.2v1.15h-1.2zM179.43 240.73h1.2v1.15h-1.2zM217.04 240.73h1.2v1.15h-1.2zM169.99 239.34h1.2v1.15h-1.2zM191.03 239.34h1.2v1.15h-1.2zM217.25 239.34h1.2v1.15h-1.2zM179.13 237.94h1.2v1.15h-1.2zM191.78 237.94h1.2v1.15h-1.2zM204.54 237.94h1.2v1.15h-1.2zM217.23 237.94h1.2v1.15h-1.2zM165.47 236.55h1.2v1.15h-1.2zM170.29 236.55h1.2v1.15h-1.2zM179.99 236.55h1.2v1.15h-1.2zM192.39 236.55h1.2v1.15h-1.2zM204.92 236.55h1.2v1.15h-1.2zM216.76 236.55h1.2v1.15h-1.2zM169.85 235.15h1.2v1.15h-1.2zM193.11 235.15h1.2v1.15h-1.2zM206.66 235.15h1.2v1.15h-1.2zM217.68 235.15h1.2v1.15h-1.2zM198.3 233.76h1.2v1.15h-1.2zM170.3 233.76h1.2v1.15h-1.2zM179.97 233.76h1.2v1.15h-1.2zM203.91 233.76h1.2v1.15h-1.2zM216.12 233.76h1.2v1.15h-1.2zM200.77 232.36h1.2v1.15h-1.2zM170.13 232.36h1.2v1.15h-1.2zM180.95 232.36h1.2v1.15h-1.2zM192.74 232.36h1.2v1.15h-1.2zM204.19 232.36h1.2v1.15h-1.2zM216.24 232.36h1.2v1.15h-1.2zM169.44 230.97h1.2v1.15h-1.2zM179.6 230.97h1.2v1.15h-1.2zM193.25 230.97h1.2v1.15h-1.2zM216.55 230.97h1.2v1.15h-1.2zM171.45 229.57h1.2v1.15h-1.2zM180.52 229.57h1.2v1.15h-1.2zM193.07 229.57h1.2v1.15h-1.2zM203.93 229.57h1.2v1.15h-1.2zM215.79 229.57h1.2v1.15h-1.2zM178.98 228.18h1.2v1.15h-1.2zM208.24 228.18h1.2v1.15h-1.2zM169.67 228.18h1.2v1.15h-1.2zM180.89 228.18h1.2v1.15h-1.2zM193.81 228.18h1.2v1.15h-1.2zM204.83 228.18h1.2v1.15h-1.2zM216.34 228.18h1.2v1.15h-1.2zM181.31 226.78h1.2v1.15h-1.2zM191.83 226.78h1.2v1.15h-1.2zM147.56 225.39h1.2v1.15h-1.2zM170.27 225.39h1.2v1.15h-1.2zM178.57 225.39h1.2v1.15h-1.2zM216.04 225.39h1.2v1.15h-1.2zM169.89 223.99h1.2v1.15h-1.2zM179.11 223.99h1.2v1.15h-1.2zM204.18 223.99h1.2v1.15h-1.2zM215.33 223.99h1.2v1.15h-1.2zM170.62 222.6h1.2v1.15h-1.2zM180.75 222.6h1.2v1.15h-1.2zM191.64 222.6h1.2v1.15h-1.2zM205.18 222.6h1.2v1.15h-1.2zM169.79 221.2h1.2v1.15h-1.2zM180.02 221.2h1.2v1.15h-1.2zM192.83 221.2h1.2v1.15h-1.2zM204.5 221.2h1.2v1.15h-1.2zM216.86 221.2h1.2v1.15h-1.2zM169.52 219.81h1.2v1.15h-1.2zM178.72 219.81h1.2v1.15h-1.2zM192.84 219.81h1.2v1.15h-1.2zM193.22 218.41h1.2v1.15h-1.2zM216.9 218.41h1.2v1.15h-1.2zM169.63 217.02h1.2v1.15h-1.2zM179.86 217.02h1.2v1.15h-1.2zM192.04 217.02h1.2v1.15h-1.2zM204.3 217.02h1.2v1.15h-1.2zM217.29 217.02h1.2v1.15h-1.2zM170.43 215.62h1.2v1.15h-1.2zM180.31 215.62h1.2v1.15h-1.2zM192.81 215.62h1.2v1.15h-1.2zM203.92 215.62h1.2v1.15h-1.2zM218.1 215.62h1.2v1.15h-1.2zM169.82 214.23h1.2v1.15h-1.2zM180.31 214.23h1.2v1.15h-1.2zM192.91 214.23h1.2v1.15h-1.2zM216.23 214.23h1.2v1.15h-1.2zM170.65 212.83h1.2v1.15h-1.2zM181.54 212.83h1.2v1.15h-1.2zM192.38 212.83h1.2v1.15h-1.2zM190.74 211.44h1.2v1.15h-1.2zM171.21 211.44h1.2v1.15h-1.2zM180.13 211.44h1.2v1.15h-1.2zM215.4 211.44h1.2v1.15h-1.2zM153.45 210.04h1.2v1.15h-1.2zM169.95 210.04h1.2v1.15h-1.2zM181.2 210.04h1.2v1.15h-1.2zM191.19 210.04h1.2v1.15h-1.2zM217.38 210.04h1.2v1.15h-1.2zM191.42 208.65h1.2v1.15h-1.2zM204.48 208.65h1.2v1.15h-1.2zM216.25 208.65h1.2v1.15h-1.2zM169.49 207.25h1.2v1.15h-1.2zM179.58 207.25h1.2v1.15h-1.2zM192.08 207.25h1.2v1.15h-1.2zM216.3 207.25h1.2v1.15h-1.2zM170.46 205.86h1.2v1.15h-1.2zM178.95 205.86h1.2v1.15h-1.2zM191.65 205.86h1.2v1.15h-1.2zM204.38 205.86h1.2v1.15h-1.2zM217.03 205.86h1.2v1.15h-1.2zM213.96 204.46h1.2v1.15h-1.2zM172.24 204.46h1.2v1.15h-1.2zM192.3 204.46h1.2v1.15h-1.2zM217.46 204.46h1.2v1.15h-1.2zM180.84 203.07h1.2v1.15h-1.2zM193.21 203.07h1.2v1.15h-1.2zM204.45 203.07h1.2v1.15h-1.2zM218.22 203.07h1.2v1.15h-1.2zM169.1 201.67h1.2v1.15h-1.2zM179.53 201.67h1.2v1.15h-1.2zM206.04 201.67h1.2v1.15h-1.2zM218.14 201.67h1.2v1.15h-1.2zM220.66 200.28h1.2v1.15h-1.2zM169.94 200.28h1.2v1.15h-1.2zM179.25 200.28h1.2v1.15h-1.2zM193.05 200.28h1.2v1.15h-1.2zM206.12 200.28h1.2v1.15h-1.2zM216 200.28h1.2v1.15h-1.2zM168.67 198.88h1.2v1.15h-1.2zM179.76 198.88h1.2v1.15h-1.2zM216.25 198.88h1.2v1.15h-1.2zM166.51 197.49h1.2v1.15h-1.2zM204.61 197.49h1.2v1.15h-1.2zM217.24 197.49h1.2v1.15h-1.2zM192.63 196.09h1.2v1.15h-1.2zM203.82 196.09h1.2v1.15h-1.2zM215.74 196.09h1.2v1.15h-1.2zM171.01 194.7h1.2v1.15h-1.2zM180.5 194.7h1.2v1.15h-1.2zM191.89 194.7h1.2v1.15h-1.2zM205.25 194.7h1.2v1.15h-1.2zM170.22 193.3h1.2v1.15h-1.2zM192.22 193.3h1.2v1.15h-1.2zM203.95 193.3h1.2v1.15h-1.2zM216.71 193.3h1.2v1.15h-1.2zM170.95 191.91h1.2v1.15h-1.2zM181.18 191.91h1.2v1.15h-1.2zM203.86 191.91h1.2v1.15h-1.2zM216.37 191.91h1.2v1.15h-1.2zM171.85 190.51h1.2v1.15h-1.2zM181.26 190.51h1.2v1.15h-1.2zM192.48 190.51h1.2v1.15h-1.2zM203.88 190.51h1.2v1.15h-1.2zM216.62 190.51h1.2v1.15h-1.2zM170.68 189.12h1.2v1.15h-1.2zM180.59 189.12h1.2v1.15h-1.2zM191.22 189.12h1.2v1.15h-1.2zM204.04 189.12h1.2v1.15h-1.2zM216.83 189.12h1.2v1.15h-1.2zM228.61 187.72h1.2v1.15h-1.2zM170.06 187.72h1.2v1.15h-1.2zM179.68 187.72h1.2v1.15h-1.2zM191.71 187.72h1.2v1.15h-1.2zM216.06 187.72h1.2v1.15h-1.2zM168.49 186.33h1.2v1.15h-1.2zM180.04 186.33h1.2v1.15h-1.2zM204.7 186.33h1.2v1.15h-1.2zM217.88 186.33h1.2v1.15h-1.2zM165.85 184.93h1.2v1.15h-1.2zM211.31 184.93h1.2v1.15h-1.2zM170.08 184.93h1.2v1.15h-1.2zM179.9 184.93h1.2v1.15h-1.2zM192.73 184.93h1.2v1.15h-1.2zM204.57 184.93h1.2v1.15h-1.2zM218.85 184.93h1.2v1.15h-1.2zM179.98 183.54h1.2v1.15h-1.2zM192.29 183.54h1.2v1.15h-1.2zM204.67 183.54h1.2v1.15h-1.2zM217.12 183.54h1.2v1.15h-1.2zM169.27 182.14h1.2v1.15h-1.2zM180.11 182.14h1.2v1.15h-1.2zM217.34 182.14h1.2v1.15h-1.2zM170.46 180.75h1.2v1.15h-1.2zM193.12 180.75h1.2v1.15h-1.2z" fill="#333"/>
<path d="M143.99 280.4h1.27v-3.4h-1.27zM155.13 280.4h1.27v-3.4h-1.27zM159.91 280.4h1.27v-3.4h-1.27zM161.5 280.4h1.27v-3.4h-1.27zM163.09 280.4h1.27v-3.4h-1.27zM167.87 280.4h1.27v-3.4h-1.27zM169.46 280.4h1.27v-3.4h-1.27zM171.05 280.4h1.27v-3.4h-1.27zM174.23 280.4h1.27v-3.4h-1.27zM175.83 280.4h1.27v-3.4h-1.27zM177.42 280.4h1.27v-3.4h-1.27zM179.01 280.4h1.27v-3.4h-1.27zM180.6 280.4h1.27v-3.4h-1.27zM182.19 280.4h1.27v-3.4h-1.27zM183.78 280.4h1.27v-3.4h-1.27zM190.15 280.4h1.27v-3.4h-1.27zM191.74 280.4h1.27v-3.4h-1.27zM193.33 280.4h1.27v-3.4h-1.27zM194.93 280.4h1.27v-3.4h-1.27zM201.29 280.4h1.27v-3.4h-1.27zM202.88 280.4h1.27v-3.4h-1.27zM204.48 280.4h1.27v-3.4h-1.27zM206.07 280.4h1.27v-3.4h-1.27zM209.25 280.4h1.27v-3.4h-1.27zM212.43 280.4h1.27v-3.4h-1.27zM214.03 280.4h1.27v-3.4h-1.27zM215.62 280.4h1.27v-3.4h-1.27zM217.21 280.4h1.27v-3.4h-1.27zM218.8 280.4h1.27v-3.4h-1.27zM225.17 280.4h1.27v-3.4h-1.27zM229.94 280.4h1.27v-3.4h-1.27z" fill="#000" opacity="0.3"/>
<path d="M167.87 280.4h1.27v-6.8h-1.27zM169.46 280.4h1.27v-6.8h-1.27zM171.05 280.4h1.27v-6.8h-1.27zM177.42 280.4h1.27v-6.8h-1.27zM179.01 280.4h1.27v-6.8h-1.27zM180.6 280.4h1.27v-6.8h-1.27zM183.78 280.4h1.27v-6.8h-1.27zM190.15 280.4h1.27v-6.8h-1.27zM191.74 280.4h1.27v-6.8h-1.27zM193.33 280.4h1.27v-6.8h-1.27zM201.29 280.4h1.27v-6.8h-1.27zM202.88 280.4h1.27v-6.8h-1.27zM204.48 280.4h1.27v-6.8h-1.27zM215.62 280.4h1.27v-6.8h-1.27zM217.21 280.4h1.27v-6.8h-1.27zM218.8 280.4h1.27v-6.8h-1.27z" fill="#000" opacity="0.3"/>
<path d="M169.46 280.4h1.27v-10.2h-1.27zM171.05 280.4h1.27v-10.2h-1.27zM179.01 280.4h1.27v-10.2h-1.27zM180.6 280.4h1.27v-10.2h-1.27zM191.74 280.4h1.27v-10.2h-1.27zM193.33 280.4h1.27v-10.2h-1.27zM204.48 280.4h1.27v-10.2h-1.27zM215.62 280.4h1.27v-10.2h-1.27zM217.21 280.4h1.27v-10.2h-1.27z" fill="#000" opacity="0.09"/>
<path d="M169.46 280.4h1.27v-13.6h-1.27zM179.01 280.4h1.27v-13.6h-1.27zM180.6 280.4h1.27v-13.6h-1.27zM191.74 280.4h1.27v-13.6h-1.27zM193.33 280.4h1.27v-13.6h-1.27zM204.48 280.4h1.27v-13.6h-1.27zM217.21 280.4h1.27v-13.6h-1.27z" fill="#000" opacity="0.09"/>
<path d="M169.46 280.4h1.27v-17h-1.27zM191.74 280.4h1.27v-17h-1.27zM204.48 280.4h1.27v-17h-1.27zM217.21 280.4h1.27v-17h-1.27z" fill="#000" opacity="0.09"/>
<path d="M169.46 280.4h1.27v-20.4h-1.27zM191.74 280.4h1.27v-20.4h-1.27zM204.48 280.4h1.27v-20.4h-1.27zM217.21 280.4h1.27v-20.4h-1.27z" fill="#000" opacity="0.09"/>
<path d="M217.21 280.4h1.27v-23.8h-1.27z" fill="#000" opacity="0.09"/>
<line x1="142.4" y1="180" x2="142.4" y2="250.9" stroke="#5a5a5a" stroke-width="1.1"/>
<line x1="142.4" y1="252.3" x2="142.4" y2="280.9" stroke="#5a5a5a" stroke-width="1.1"/>
<line x1="141.9" y1="250.4" x2="241.2" y2="250.4" stroke="#5a5a5a" stroke-width="1.2"/>
<line x1="141.9" y1="280.4" x2="241.2" y2="280.4" stroke="#5a5a5a" stroke-width="1.2"/>
<line x1="142.4" y1="280.4" x2="142.4" y2="282" stroke="#5a5a5a" stroke-width="0.8"/>
<line x1="142.4" y1="250.4" x2="142.4" y2="251.8" stroke="#5a5a5a" stroke-width="0.7"/>
<line x1="161.75" y1="280.4" x2="161.75" y2="282" stroke="#5a5a5a" stroke-width="0.8"/>
<line x1="161.75" y1="250.4" x2="161.75" y2="251.8" stroke="#5a5a5a" stroke-width="0.7"/>
<line x1="181.1" y1="280.4" x2="181.1" y2="282" stroke="#5a5a5a" stroke-width="0.8"/>
<line x1="181.1" y1="250.4" x2="181.1" y2="251.8" stroke="#5a5a5a" stroke-width="0.7"/>
<line x1="200.45" y1="280.4" x2="200.45" y2="282" stroke="#5a5a5a" stroke-width="0.8"/>
<line x1="200.45" y1="250.4" x2="200.45" y2="251.8" stroke="#5a5a5a" stroke-width="0.7"/>
<line x1="219.8" y1="280.4" x2="219.8" y2="282" stroke="#5a5a5a" stroke-width="0.8"/>
<line x1="219.8" y1="250.4" x2="219.8" y2="251.8" stroke="#5a5a5a" stroke-width="0.7"/>
<line x1="239.15" y1="280.4" x2="239.15" y2="282" stroke="#5a5a5a" stroke-width="0.8"/>
<line x1="239.15" y1="250.4" x2="239.15" y2="251.8" stroke="#5a5a5a" stroke-width="0.7"/>
<line x1="140.6" y1="250.4" x2="142.4" y2="250.4" stroke="#5a5a5a" stroke-width="0.8"/>
<line x1="140.6" y1="222.3" x2="142.4" y2="222.3" stroke="#5a5a5a" stroke-width="0.8"/>
<line x1="140.6" y1="194.2" x2="142.4" y2="194.2" stroke="#5a5a5a" stroke-width="0.8"/>
<line x1="140.6" y1="264.6" x2="142.4" y2="264.6" stroke="#5a5a5a" stroke-width="0.8"/>
<text x="161.75" y="292.9" font-size="10.4" text-anchor="middle" fill="#1a1a1a" stroke="#1a1a1a" stroke-width="0.1">0</text>
<text x="200.45" y="292.9" font-size="10.4" text-anchor="middle" fill="#1a1a1a" stroke="#1a1a1a" stroke-width="0.1">1</text>
<text x="239.15" y="292.9" font-size="10.4" text-anchor="middle" fill="#1a1a1a" stroke="#1a1a1a" stroke-width="0.1">2</text>
<text x="190.78" y="305" font-size="10.2" text-anchor="middle" fill="#1a1a1a" stroke="#1a1a1a" stroke-width="0.1">Time (s)</text>
<text x="235.9" y="266.4" font-size="7.2" text-anchor="end" fill="#222" font-style="italic" stroke="#222" stroke-width="0.1">11.9</text>
<circle cx="272.95" cy="176" r="2" fill="#ff1f1f"/>
<circle cx="284.56" cy="176" r="2" fill="#ff1f1f"/>
<circle cx="296.17" cy="176" r="2" fill="#ff1f1f"/>
<circle cx="307.78" cy="176" r="2" fill="#ff1f1f"/>
<circle cx="319.39" cy="176" r="2" fill="#ff1f1f"/>
<path d="M301.03 249.1h1.2v1.15h-1.2zM318.87 249.1h1.2v1.15h-1.2zM339.61 249.1h1.2v1.15h-1.2zM291.45 249.1h1.2v1.15h-1.2zM261.13 247.71h1.2v1.15h-1.2zM283.7 247.71h1.2v1.15h-1.2zM292.28 247.71h1.2v1.15h-1.2zM293.75 247.71h1.2v1.15h-1.2zM311.65 247.71h1.2v1.15h-1.2zM318.6 247.71h1.2v1.15h-1.2zM349.38 247.71h1.2v1.15h-1.2zM291.64 247.71h1.2v1.15h-1.2zM302.83 247.71h1.2v1.15h-1.2zM325.48 247.71h1.2v1.15h-1.2zM260.19 246.31h1.2v1.15h-1.2zM270.51 246.31h1.2v1.15h-1.2zM293.94 246.31h1.2v1.15h-1.2zM296.48 246.31h1.2v1.15h-1.2zM304.31 246.31h1.2v1.15h-1.2zM305.71 246.31h1.2v1.15h-1.2zM310.52 246.31h1.2v1.15h-1.2zM316.45 246.31h1.2v1.15h-1.2zM331.65 246.31h1.2v1.15h-1.2zM316.82 246.31h1.2v1.15h-1.2zM259.46 244.92h1.2v1.15h-1.2zM264.91 244.92h1.2v1.15h-1.2zM281.77 244.92h1.2v1.15h-1.2zM294.61 244.92h1.2v1.15h-1.2zM295.35 244.92h1.2v1.15h-1.2zM324.97 244.92h1.2v1.15h-1.2zM351.49 244.92h1.2v1.15h-1.2zM291.54 244.92h1.2v1.15h-1.2zM315.42 244.92h1.2v1.15h-1.2zM278.02 243.52h1.2v1.15h-1.2zM282.71 243.52h1.2v1.15h-1.2zM286.82 243.52h1.2v1.15h-1.2zM304.23 243.52h1.2v1.15h-1.2zM310.95 243.52h1.2v1.15h-1.2zM312.31 243.52h1.2v1.15h-1.2zM325.13 243.52h1.2v1.15h-1.2zM332.39 243.52h1.2v1.15h-1.2zM348.24 243.52h1.2v1.15h-1.2zM302.83 243.52h1.2v1.15h-1.2zM326.98 243.52h1.2v1.15h-1.2zM267.42 242.13h1.2v1.15h-1.2zM284.82 242.13h1.2v1.15h-1.2zM285.17 242.13h1.2v1.15h-1.2zM296.31 242.13h1.2v1.15h-1.2zM326.72 242.13h1.2v1.15h-1.2zM332.35 242.13h1.2v1.15h-1.2zM333.17 242.13h1.2v1.15h-1.2zM334.91 242.13h1.2v1.15h-1.2zM280.65 242.13h1.2v1.15h-1.2zM271.38 240.73h1.2v1.15h-1.2zM283.49 240.73h1.2v1.15h-1.2zM285.38 240.73h1.2v1.15h-1.2zM300.14 240.73h1.2v1.15h-1.2zM315.12 240.73h1.2v1.15h-1.2zM321.89 240.73h1.2v1.15h-1.2zM341.07 240.73h1.2v1.15h-1.2zM343.56 240.73h1.2v1.15h-1.2zM346.41 240.73h1.2v1.15h-1.2zM347.01 240.73h1.2v1.15h-1.2zM280.4 240.73h1.2v1.15h-1.2zM314.55 240.73h1.2v1.15h-1.2zM260.11 239.34h1.2v1.15h-1.2zM273.88 239.34h1.2v1.15h-1.2zM275.2 239.34h1.2v1.15h-1.2zM291.76 239.34h1.2v1.15h-1.2zM307.25 239.34h1.2v1.15h-1.2zM313.03 239.34h1.2v1.15h-1.2zM321.68 239.34h1.2v1.15h-1.2zM333.71 239.34h1.2v1.15h-1.2zM338.33 239.34h1.2v1.15h-1.2zM349.41 239.34h1.2v1.15h-1.2zM280.58 239.34h1.2v1.15h-1.2zM303.62 239.34h1.2v1.15h-1.2zM257.53 237.94h1.2v1.15h-1.2zM266.95 237.94h1.2v1.15h-1.2zM268.57 237.94h1.2v1.15h-1.2zM274.86 237.94h1.2v1.15h-1.2zM293.67 237.94h1.2v1.15h-1.2zM297.4 237.94h1.2v1.15h-1.2zM307.51 237.94h1.2v1.15h-1.2zM309.95 237.94h1.2v1.15h-1.2zM316.3 237.94h1.2v1.15h-1.2zM291.71 237.94h1.2v1.15h-1.2zM315.04 237.94h1.2v1.15h-1.2zM328.12 237.94h1.2v1.15h-1.2zM274.01 236.55h1.2v1.15h-1.2zM277.58 236.55h1.2v1.15h-1.2zM282.03 236.55h1.2v1.15h-1.2zM291.31 236.55h1.2v1.15h-1.2zM291.93 236.55h1.2v1.15h-1.2zM295.25 236.55h1.2v1.15h-1.2zM302.81 236.55h1.2v1.15h-1.2zM304.14 236.55h1.2v1.15h-1.2zM333.14 236.55h1.2v1.15h-1.2zM335.53 236.55h1.2v1.15h-1.2zM335.73 236.55h1.2v1.15h-1.2zM337.34 236.55h1.2v1.15h-1.2zM342.57 236.55h1.2v1.15h-1.2zM349.08 236.55h1.2v1.15h-1.2zM349.89 236.55h1.2v1.15h-1.2zM351.06 236.55h1.2v1.15h-1.2zM326.64 236.55h1.2v1.15h-1.2zM273.34 235.15h1.2v1.15h-1.2zM275.22 235.15h1.2v1.15h-1.2zM299.95 235.15h1.2v1.15h-1.2zM302.65 235.15h1.2v1.15h-1.2zM303.05 235.15h1.2v1.15h-1.2zM312.07 235.15h1.2v1.15h-1.2zM315.63 235.15h1.2v1.15h-1.2zM316.26 235.15h1.2v1.15h-1.2zM323.04 235.15h1.2v1.15h-1.2zM325.88 235.15h1.2v1.15h-1.2zM315.23 235.15h1.2v1.15h-1.2zM267.75 233.76h1.2v1.15h-1.2zM274.62 233.76h1.2v1.15h-1.2zM278.58 233.76h1.2v1.15h-1.2zM292.96 233.76h1.2v1.15h-1.2zM294.45 233.76h1.2v1.15h-1.2zM298.69 233.76h1.2v1.15h-1.2zM305.64 233.76h1.2v1.15h-1.2zM310.67 233.76h1.2v1.15h-1.2zM325.82 233.76h1.2v1.15h-1.2zM340 233.76h1.2v1.15h-1.2zM291.97 233.76h1.2v1.15h-1.2zM261.66 232.36h1.2v1.15h-1.2zM266.72 232.36h1.2v1.15h-1.2zM274.04 232.36h1.2v1.15h-1.2zM279.13 232.36h1.2v1.15h-1.2zM280.52 232.36h1.2v1.15h-1.2zM289.24 232.36h1.2v1.15h-1.2zM289.98 232.36h1.2v1.15h-1.2zM291.09 232.36h1.2v1.15h-1.2zM310.2 232.36h1.2v1.15h-1.2zM312.62 232.36h1.2v1.15h-1.2zM312.74 232.36h1.2v1.15h-1.2zM313.54 232.36h1.2v1.15h-1.2zM333.21 232.36h1.2v1.15h-1.2zM339.94 232.36h1.2v1.15h-1.2zM346.63 232.36h1.2v1.15h-1.2zM350.96 232.36h1.2v1.15h-1.2zM303.67 232.36h1.2v1.15h-1.2zM316.06 232.36h1.2v1.15h-1.2zM271.41 230.97h1.2v1.15h-1.2zM273.74 230.97h1.2v1.15h-1.2zM278.06 230.97h1.2v1.15h-1.2zM278.67 230.97h1.2v1.15h-1.2zM291.02 230.97h1.2v1.15h-1.2zM292.07 230.97h1.2v1.15h-1.2zM303.85 230.97h1.2v1.15h-1.2zM308.21 230.97h1.2v1.15h-1.2zM310.42 230.97h1.2v1.15h-1.2zM310.72 230.97h1.2v1.15h-1.2zM313.22 230.97h1.2v1.15h-1.2zM314.21 230.97h1.2v1.15h-1.2zM320.57 230.97h1.2v1.15h-1.2zM332.55 230.97h1.2v1.15h-1.2zM336.04 230.97h1.2v1.15h-1.2zM340.04 230.97h1.2v1.15h-1.2zM340.57 230.97h1.2v1.15h-1.2zM342.68 230.97h1.2v1.15h-1.2zM342.92 230.97h1.2v1.15h-1.2zM291.55 230.97h1.2v1.15h-1.2zM314.59 230.97h1.2v1.15h-1.2zM326.56 230.97h1.2v1.15h-1.2zM255.9 229.57h1.2v1.15h-1.2zM257.23 229.57h1.2v1.15h-1.2zM257.61 229.57h1.2v1.15h-1.2zM258.38 229.57h1.2v1.15h-1.2zM260.94 229.57h1.2v1.15h-1.2zM261.21 229.57h1.2v1.15h-1.2zM261.61 229.57h1.2v1.15h-1.2zM263.3 229.57h1.2v1.15h-1.2zM264.06 229.57h1.2v1.15h-1.2zM264.11 229.57h1.2v1.15h-1.2zM265.87 229.57h1.2v1.15h-1.2zM266.3 229.57h1.2v1.15h-1.2zM276.51 229.57h1.2v1.15h-1.2zM281.6 229.57h1.2v1.15h-1.2zM284.87 229.57h1.2v1.15h-1.2zM293.77 229.57h1.2v1.15h-1.2zM295.92 229.57h1.2v1.15h-1.2zM297.18 229.57h1.2v1.15h-1.2zM305.81 229.57h1.2v1.15h-1.2zM308.86 229.57h1.2v1.15h-1.2zM315.98 229.57h1.2v1.15h-1.2zM317.21 229.57h1.2v1.15h-1.2zM319.56 229.57h1.2v1.15h-1.2zM320.69 229.57h1.2v1.15h-1.2zM337.09 229.57h1.2v1.15h-1.2zM338.1 229.57h1.2v1.15h-1.2zM341.23 229.57h1.2v1.15h-1.2zM348.47 229.57h1.2v1.15h-1.2zM290.7 229.57h1.2v1.15h-1.2zM326.7 229.57h1.2v1.15h-1.2zM273.61 228.18h1.2v1.15h-1.2zM277.28 228.18h1.2v1.15h-1.2zM313.57 228.18h1.2v1.15h-1.2zM314.61 228.18h1.2v1.15h-1.2zM317.5 228.18h1.2v1.15h-1.2zM319.38 228.18h1.2v1.15h-1.2zM342.75 228.18h1.2v1.15h-1.2zM343.5 228.18h1.2v1.15h-1.2zM349.75 228.18h1.2v1.15h-1.2zM293.02 228.18h1.2v1.15h-1.2zM303.3 228.18h1.2v1.15h-1.2zM314.84 228.18h1.2v1.15h-1.2zM261.18 226.78h1.2v1.15h-1.2zM270.24 226.78h1.2v1.15h-1.2zM271.46 226.78h1.2v1.15h-1.2zM276.57 226.78h1.2v1.15h-1.2zM283.05 226.78h1.2v1.15h-1.2zM286.25 226.78h1.2v1.15h-1.2zM292.51 226.78h1.2v1.15h-1.2zM293.37 226.78h1.2v1.15h-1.2zM304.08 226.78h1.2v1.15h-1.2zM306.3 226.78h1.2v1.15h-1.2zM306.6 226.78h1.2v1.15h-1.2zM307.26 226.78h1.2v1.15h-1.2zM308.43 226.78h1.2v1.15h-1.2zM308.64 226.78h1.2v1.15h-1.2zM319.91 226.78h1.2v1.15h-1.2zM327.61 226.78h1.2v1.15h-1.2zM328.78 226.78h1.2v1.15h-1.2zM331.64 226.78h1.2v1.15h-1.2zM332.51 226.78h1.2v1.15h-1.2zM336.57 226.78h1.2v1.15h-1.2zM337.5 226.78h1.2v1.15h-1.2zM343.76 226.78h1.2v1.15h-1.2zM281.39 226.78h1.2v1.15h-1.2zM302.9 226.78h1.2v1.15h-1.2zM324.92 226.78h1.2v1.15h-1.2zM275.88 225.39h1.2v1.15h-1.2zM302.9 225.39h1.2v1.15h-1.2zM304.53 225.39h1.2v1.15h-1.2zM304.68 225.39h1.2v1.15h-1.2zM330.3 225.39h1.2v1.15h-1.2zM332.26 225.39h1.2v1.15h-1.2zM336.41 225.39h1.2v1.15h-1.2zM338.27 225.39h1.2v1.15h-1.2zM350.51 225.39h1.2v1.15h-1.2zM351.33 225.39h1.2v1.15h-1.2zM279.73 225.39h1.2v1.15h-1.2zM313.69 225.39h1.2v1.15h-1.2zM263.46 223.99h1.2v1.15h-1.2zM301.04 223.99h1.2v1.15h-1.2zM303.37 223.99h1.2v1.15h-1.2zM313.04 223.99h1.2v1.15h-1.2zM346.1 223.99h1.2v1.15h-1.2zM346.32 223.99h1.2v1.15h-1.2zM304.25 223.99h1.2v1.15h-1.2zM261.19 222.6h1.2v1.15h-1.2zM261.69 222.6h1.2v1.15h-1.2zM277.31 222.6h1.2v1.15h-1.2zM278.45 222.6h1.2v1.15h-1.2zM284.46 222.6h1.2v1.15h-1.2zM289.54 222.6h1.2v1.15h-1.2zM291.79 222.6h1.2v1.15h-1.2zM304.47 222.6h1.2v1.15h-1.2zM311.59 222.6h1.2v1.15h-1.2zM321.22 222.6h1.2v1.15h-1.2zM328.88 222.6h1.2v1.15h-1.2zM337.55 222.6h1.2v1.15h-1.2zM337.99 222.6h1.2v1.15h-1.2zM344.33 222.6h1.2v1.15h-1.2zM303.24 222.6h1.2v1.15h-1.2zM256.79 221.2h1.2v1.15h-1.2zM262.35 221.2h1.2v1.15h-1.2zM267.95 221.2h1.2v1.15h-1.2zM276.25 221.2h1.2v1.15h-1.2zM285.48 221.2h1.2v1.15h-1.2zM291.38 221.2h1.2v1.15h-1.2zM291.45 221.2h1.2v1.15h-1.2zM318.13 221.2h1.2v1.15h-1.2zM322.39 221.2h1.2v1.15h-1.2zM328.88 221.2h1.2v1.15h-1.2zM338.53 221.2h1.2v1.15h-1.2zM347.66 221.2h1.2v1.15h-1.2zM314.47 221.2h1.2v1.15h-1.2zM326.25 221.2h1.2v1.15h-1.2zM253.43 219.81h1.2v1.15h-1.2zM264.7 219.81h1.2v1.15h-1.2zM266.34 219.81h1.2v1.15h-1.2zM268.04 219.81h1.2v1.15h-1.2zM268.73 219.81h1.2v1.15h-1.2zM277.52 219.81h1.2v1.15h-1.2zM288.07 219.81h1.2v1.15h-1.2zM288.65 219.81h1.2v1.15h-1.2zM289.74 219.81h1.2v1.15h-1.2zM290.83 219.81h1.2v1.15h-1.2zM294.48 219.81h1.2v1.15h-1.2zM304.48 219.81h1.2v1.15h-1.2zM307.04 219.81h1.2v1.15h-1.2zM309.84 219.81h1.2v1.15h-1.2zM312.93 219.81h1.2v1.15h-1.2zM321.29 219.81h1.2v1.15h-1.2zM321.61 219.81h1.2v1.15h-1.2zM321.76 219.81h1.2v1.15h-1.2zM336.04 219.81h1.2v1.15h-1.2zM342.04 219.81h1.2v1.15h-1.2zM342.87 219.81h1.2v1.15h-1.2zM261.4 218.41h1.2v1.15h-1.2zM263.54 218.41h1.2v1.15h-1.2zM275.52 218.41h1.2v1.15h-1.2zM282.68 218.41h1.2v1.15h-1.2zM282.8 218.41h1.2v1.15h-1.2zM298.46 218.41h1.2v1.15h-1.2zM306.53 218.41h1.2v1.15h-1.2zM308.13 218.41h1.2v1.15h-1.2zM310.22 218.41h1.2v1.15h-1.2zM311.35 218.41h1.2v1.15h-1.2zM320.75 218.41h1.2v1.15h-1.2zM326.11 218.41h1.2v1.15h-1.2zM292.13 218.41h1.2v1.15h-1.2zM255.17 217.02h1.2v1.15h-1.2zM256.52 217.02h1.2v1.15h-1.2zM260.63 217.02h1.2v1.15h-1.2zM262.1 217.02h1.2v1.15h-1.2zM262.29 217.02h1.2v1.15h-1.2zM283.16 217.02h1.2v1.15h-1.2zM296.02 217.02h1.2v1.15h-1.2zM307.34 217.02h1.2v1.15h-1.2zM312.72 217.02h1.2v1.15h-1.2zM316.07 217.02h1.2v1.15h-1.2zM322 217.02h1.2v1.15h-1.2zM322.5 217.02h1.2v1.15h-1.2zM324.07 217.02h1.2v1.15h-1.2zM335.35 217.02h1.2v1.15h-1.2zM340.76 217.02h1.2v1.15h-1.2zM341.59 217.02h1.2v1.15h-1.2zM302.45 217.02h1.2v1.15h-1.2zM314.26 217.02h1.2v1.15h-1.2zM325.86 217.02h1.2v1.15h-1.2zM255.3 215.62h1.2v1.15h-1.2zM257.14 215.62h1.2v1.15h-1.2zM259.69 215.62h1.2v1.15h-1.2zM264.58 215.62h1.2v1.15h-1.2zM266.61 215.62h1.2v1.15h-1.2zM267.57 215.62h1.2v1.15h-1.2zM272.58 215.62h1.2v1.15h-1.2zM274.97 215.62h1.2v1.15h-1.2zM277.36 215.62h1.2v1.15h-1.2zM277.8 215.62h1.2v1.15h-1.2zM279.92 215.62h1.2v1.15h-1.2zM282.69 215.62h1.2v1.15h-1.2zM285.64 215.62h1.2v1.15h-1.2zM289.44 215.62h1.2v1.15h-1.2zM291.55 215.62h1.2v1.15h-1.2zM291.71 215.62h1.2v1.15h-1.2zM295.96 215.62h1.2v1.15h-1.2zM299.53 215.62h1.2v1.15h-1.2zM303.09 215.62h1.2v1.15h-1.2zM309.47 215.62h1.2v1.15h-1.2zM311.21 215.62h1.2v1.15h-1.2zM311.4 215.62h1.2v1.15h-1.2zM314.02 215.62h1.2v1.15h-1.2zM315.67 215.62h1.2v1.15h-1.2zM320.25 215.62h1.2v1.15h-1.2zM323.15 215.62h1.2v1.15h-1.2zM325.8 215.62h1.2v1.15h-1.2zM328.2 215.62h1.2v1.15h-1.2zM328.26 215.62h1.2v1.15h-1.2zM336.57 215.62h1.2v1.15h-1.2zM340.49 215.62h1.2v1.15h-1.2zM341.41 215.62h1.2v1.15h-1.2zM345.86 215.62h1.2v1.15h-1.2zM346.19 215.62h1.2v1.15h-1.2zM347.3 215.62h1.2v1.15h-1.2zM349.13 215.62h1.2v1.15h-1.2zM349.21 215.62h1.2v1.15h-1.2zM302.95 215.62h1.2v1.15h-1.2zM314.17 215.62h1.2v1.15h-1.2zM324.99 215.62h1.2v1.15h-1.2zM254.31 214.23h1.2v1.15h-1.2zM254.78 214.23h1.2v1.15h-1.2zM256.42 214.23h1.2v1.15h-1.2zM257.53 214.23h1.2v1.15h-1.2zM258.64 214.23h1.2v1.15h-1.2zM263.06 214.23h1.2v1.15h-1.2zM263.51 214.23h1.2v1.15h-1.2zM264.43 214.23h1.2v1.15h-1.2zM264.64 214.23h1.2v1.15h-1.2zM264.8 214.23h1.2v1.15h-1.2zM265.27 214.23h1.2v1.15h-1.2zM265.59 214.23h1.2v1.15h-1.2zM268.36 214.23h1.2v1.15h-1.2zM274.29 214.23h1.2v1.15h-1.2zM276.66 214.23h1.2v1.15h-1.2zM277.93 214.23h1.2v1.15h-1.2zM282.69 214.23h1.2v1.15h-1.2zM286.08 214.23h1.2v1.15h-1.2zM289.65 214.23h1.2v1.15h-1.2zM291.13 214.23h1.2v1.15h-1.2zM292.85 214.23h1.2v1.15h-1.2zM294.04 214.23h1.2v1.15h-1.2zM298.33 214.23h1.2v1.15h-1.2zM299.21 214.23h1.2v1.15h-1.2zM304.86 214.23h1.2v1.15h-1.2zM305.27 214.23h1.2v1.15h-1.2zM308.5 214.23h1.2v1.15h-1.2zM313.54 214.23h1.2v1.15h-1.2zM316.87 214.23h1.2v1.15h-1.2zM317.97 214.23h1.2v1.15h-1.2zM319.72 214.23h1.2v1.15h-1.2zM320.15 214.23h1.2v1.15h-1.2zM323.67 214.23h1.2v1.15h-1.2zM326.41 214.23h1.2v1.15h-1.2zM326.52 214.23h1.2v1.15h-1.2zM327.06 214.23h1.2v1.15h-1.2zM327.49 214.23h1.2v1.15h-1.2zM331 214.23h1.2v1.15h-1.2zM331.95 214.23h1.2v1.15h-1.2zM334.42 214.23h1.2v1.15h-1.2zM336.07 214.23h1.2v1.15h-1.2zM336.81 214.23h1.2v1.15h-1.2zM338.84 214.23h1.2v1.15h-1.2zM340.62 214.23h1.2v1.15h-1.2zM347.81 214.23h1.2v1.15h-1.2zM291.7 214.23h1.2v1.15h-1.2zM314.55 214.23h1.2v1.15h-1.2zM257.62 212.83h1.2v1.15h-1.2zM258.89 212.83h1.2v1.15h-1.2zM260.99 212.83h1.2v1.15h-1.2zM264.42 212.83h1.2v1.15h-1.2zM270.47 212.83h1.2v1.15h-1.2zM278.94 212.83h1.2v1.15h-1.2zM284.26 212.83h1.2v1.15h-1.2zM287.73 212.83h1.2v1.15h-1.2zM292.21 212.83h1.2v1.15h-1.2zM303.04 212.83h1.2v1.15h-1.2zM308.33 212.83h1.2v1.15h-1.2zM313.23 212.83h1.2v1.15h-1.2zM314.33 212.83h1.2v1.15h-1.2zM319.16 212.83h1.2v1.15h-1.2zM321.47 212.83h1.2v1.15h-1.2zM330.29 212.83h1.2v1.15h-1.2zM333.49 212.83h1.2v1.15h-1.2zM333.62 212.83h1.2v1.15h-1.2zM343.93 212.83h1.2v1.15h-1.2zM344.94 212.83h1.2v1.15h-1.2zM346.84 212.83h1.2v1.15h-1.2zM280.36 212.83h1.2v1.15h-1.2zM292.13 212.83h1.2v1.15h-1.2zM304.09 212.83h1.2v1.15h-1.2zM327.69 212.83h1.2v1.15h-1.2zM258.21 211.44h1.2v1.15h-1.2zM258.73 211.44h1.2v1.15h-1.2zM263.28 211.44h1.2v1.15h-1.2zM265.04 211.44h1.2v1.15h-1.2zM267.65 211.44h1.2v1.15h-1.2zM269.57 211.44h1.2v1.15h-1.2zM270.49 211.44h1.2v1.15h-1.2zM281.15 211.44h1.2v1.15h-1.2zM285.07 211.44h1.2v1.15h-1.2zM289.74 211.44h1.2v1.15h-1.2zM289.86 211.44h1.2v1.15h-1.2zM296.02 211.44h1.2v1.15h-1.2zM296.44 211.44h1.2v1.15h-1.2zM299.27 211.44h1.2v1.15h-1.2zM301.08 211.44h1.2v1.15h-1.2zM302.03 211.44h1.2v1.15h-1.2zM303.37 211.44h1.2v1.15h-1.2zM304.91 211.44h1.2v1.15h-1.2zM306.12 211.44h1.2v1.15h-1.2zM310.02 211.44h1.2v1.15h-1.2zM316.99 211.44h1.2v1.15h-1.2zM317.11 211.44h1.2v1.15h-1.2zM317.25 211.44h1.2v1.15h-1.2zM318.11 211.44h1.2v1.15h-1.2zM324.61 211.44h1.2v1.15h-1.2zM339.81 211.44h1.2v1.15h-1.2zM341.25 211.44h1.2v1.15h-1.2zM291.74 211.44h1.2v1.15h-1.2zM314.36 211.44h1.2v1.15h-1.2zM326.69 211.44h1.2v1.15h-1.2zM259.5 210.04h1.2v1.15h-1.2zM261.87 210.04h1.2v1.15h-1.2zM266.21 210.04h1.2v1.15h-1.2zM268.01 210.04h1.2v1.15h-1.2zM268.1 210.04h1.2v1.15h-1.2zM268.8 210.04h1.2v1.15h-1.2zM270.1 210.04h1.2v1.15h-1.2zM276.92 210.04h1.2v1.15h-1.2zM279.21 210.04h1.2v1.15h-1.2zM280.48 210.04h1.2v1.15h-1.2zM285.79 210.04h1.2v1.15h-1.2zM312.22 210.04h1.2v1.15h-1.2zM322.07 210.04h1.2v1.15h-1.2zM323.75 210.04h1.2v1.15h-1.2zM324.67 210.04h1.2v1.15h-1.2zM326.31 210.04h1.2v1.15h-1.2zM333.87 210.04h1.2v1.15h-1.2zM336.25 210.04h1.2v1.15h-1.2zM341.97 210.04h1.2v1.15h-1.2zM342.72 210.04h1.2v1.15h-1.2zM344.75 210.04h1.2v1.15h-1.2zM350.33 210.04h1.2v1.15h-1.2zM279.55 210.04h1.2v1.15h-1.2zM326.2 210.04h1.2v1.15h-1.2zM254.24 208.65h1.2v1.15h-1.2zM261.64 208.65h1.2v1.15h-1.2zM263.84 208.65h1.2v1.15h-1.2zM264.71 208.65h1.2v1.15h-1.2zM269.35 208.65h1.2v1.15h-1.2zM272.4 208.65h1.2v1.15h-1.2zM275.11 208.65h1.2v1.15h-1.2zM276.27 208.65h1.2v1.15h-1.2zM276.41 208.65h1.2v1.15h-1.2zM277.46 208.65h1.2v1.15h-1.2zM282.56 208.65h1.2v1.15h-1.2zM285.28 208.65h1.2v1.15h-1.2zM285.73 208.65h1.2v1.15h-1.2zM287.34 208.65h1.2v1.15h-1.2zM288.68 208.65h1.2v1.15h-1.2zM290.5 208.65h1.2v1.15h-1.2zM290.59 208.65h1.2v1.15h-1.2zM293.65 208.65h1.2v1.15h-1.2zM297.3 208.65h1.2v1.15h-1.2zM298.17 208.65h1.2v1.15h-1.2zM300.59 208.65h1.2v1.15h-1.2zM301.77 208.65h1.2v1.15h-1.2zM302.25 208.65h1.2v1.15h-1.2zM303.23 208.65h1.2v1.15h-1.2zM306.26 208.65h1.2v1.15h-1.2zM313.01 208.65h1.2v1.15h-1.2zM314.12 208.65h1.2v1.15h-1.2zM321.97 208.65h1.2v1.15h-1.2zM322.23 208.65h1.2v1.15h-1.2zM322.6 208.65h1.2v1.15h-1.2zM325.15 208.65h1.2v1.15h-1.2zM326.73 208.65h1.2v1.15h-1.2zM326.99 208.65h1.2v1.15h-1.2zM327.1 208.65h1.2v1.15h-1.2zM330.91 208.65h1.2v1.15h-1.2zM337.74 208.65h1.2v1.15h-1.2zM339.73 208.65h1.2v1.15h-1.2zM339.93 208.65h1.2v1.15h-1.2zM341.88 208.65h1.2v1.15h-1.2zM342.7 208.65h1.2v1.15h-1.2zM346.63 208.65h1.2v1.15h-1.2zM350.56 208.65h1.2v1.15h-1.2zM280.5 208.65h1.2v1.15h-1.2zM314.12 208.65h1.2v1.15h-1.2zM253.56 207.25h1.2v1.15h-1.2zM256.35 207.25h1.2v1.15h-1.2zM268.24 207.25h1.2v1.15h-1.2zM275.8 207.25h1.2v1.15h-1.2zM275.91 207.25h1.2v1.15h-1.2zM277.99 207.25h1.2v1.15h-1.2zM278.94 207.25h1.2v1.15h-1.2zM281.51 207.25h1.2v1.15h-1.2zM284.37 207.25h1.2v1.15h-1.2zM295.29 207.25h1.2v1.15h-1.2zM296.37 207.25h1.2v1.15h-1.2zM303.79 207.25h1.2v1.15h-1.2zM303.87 207.25h1.2v1.15h-1.2zM306.2 207.25h1.2v1.15h-1.2zM306.6 207.25h1.2v1.15h-1.2zM306.98 207.25h1.2v1.15h-1.2zM307.31 207.25h1.2v1.15h-1.2zM309.2 207.25h1.2v1.15h-1.2zM324.72 207.25h1.2v1.15h-1.2zM325.11 207.25h1.2v1.15h-1.2zM326.64 207.25h1.2v1.15h-1.2zM329.98 207.25h1.2v1.15h-1.2zM340.23 207.25h1.2v1.15h-1.2zM279.88 207.25h1.2v1.15h-1.2zM325.96 207.25h1.2v1.15h-1.2zM254.97 205.86h1.2v1.15h-1.2zM255.45 205.86h1.2v1.15h-1.2zM256.26 205.86h1.2v1.15h-1.2zM257.14 205.86h1.2v1.15h-1.2zM262.42 205.86h1.2v1.15h-1.2zM267.11 205.86h1.2v1.15h-1.2zM271.62 205.86h1.2v1.15h-1.2zM277.4 205.86h1.2v1.15h-1.2zM283.02 205.86h1.2v1.15h-1.2zM283.96 205.86h1.2v1.15h-1.2zM285.99 205.86h1.2v1.15h-1.2zM290.66 205.86h1.2v1.15h-1.2zM301.93 205.86h1.2v1.15h-1.2zM308.93 205.86h1.2v1.15h-1.2zM313.53 205.86h1.2v1.15h-1.2zM314.48 205.86h1.2v1.15h-1.2zM314.96 205.86h1.2v1.15h-1.2zM315.39 205.86h1.2v1.15h-1.2zM317.26 205.86h1.2v1.15h-1.2zM318.95 205.86h1.2v1.15h-1.2zM319.95 205.86h1.2v1.15h-1.2zM320.42 205.86h1.2v1.15h-1.2zM320.73 205.86h1.2v1.15h-1.2zM322.16 205.86h1.2v1.15h-1.2zM324.03 205.86h1.2v1.15h-1.2zM330.55 205.86h1.2v1.15h-1.2zM333.01 205.86h1.2v1.15h-1.2zM333.27 205.86h1.2v1.15h-1.2zM336.17 205.86h1.2v1.15h-1.2zM339.81 205.86h1.2v1.15h-1.2zM341.02 205.86h1.2v1.15h-1.2zM342.43 205.86h1.2v1.15h-1.2zM343.15 205.86h1.2v1.15h-1.2zM346.54 205.86h1.2v1.15h-1.2zM350.62 205.86h1.2v1.15h-1.2zM351.3 205.86h1.2v1.15h-1.2zM351.51 205.86h1.2v1.15h-1.2zM281.1 205.86h1.2v1.15h-1.2zM314.6 205.86h1.2v1.15h-1.2zM326.85 205.86h1.2v1.15h-1.2zM253.34 204.46h1.2v1.15h-1.2zM256.6 204.46h1.2v1.15h-1.2zM270.48 204.46h1.2v1.15h-1.2zM280.33 204.46h1.2v1.15h-1.2zM284.89 204.46h1.2v1.15h-1.2zM295.76 204.46h1.2v1.15h-1.2zM296.62 204.46h1.2v1.15h-1.2zM297.04 204.46h1.2v1.15h-1.2zM305.37 204.46h1.2v1.15h-1.2zM307.85 204.46h1.2v1.15h-1.2zM323.12 204.46h1.2v1.15h-1.2zM324.22 204.46h1.2v1.15h-1.2zM326.78 204.46h1.2v1.15h-1.2zM338.71 204.46h1.2v1.15h-1.2zM340.44 204.46h1.2v1.15h-1.2zM343.46 204.46h1.2v1.15h-1.2zM343.56 204.46h1.2v1.15h-1.2zM349.2 204.46h1.2v1.15h-1.2zM349.8 204.46h1.2v1.15h-1.2zM327 204.46h1.2v1.15h-1.2zM270.04 203.07h1.2v1.15h-1.2zM271.76 203.07h1.2v1.15h-1.2zM274.76 203.07h1.2v1.15h-1.2zM278.44 203.07h1.2v1.15h-1.2zM278.68 203.07h1.2v1.15h-1.2zM280.32 203.07h1.2v1.15h-1.2zM286.59 203.07h1.2v1.15h-1.2zM295.62 203.07h1.2v1.15h-1.2zM296.02 203.07h1.2v1.15h-1.2zM307.32 203.07h1.2v1.15h-1.2zM310.43 203.07h1.2v1.15h-1.2zM314.92 203.07h1.2v1.15h-1.2zM317.9 203.07h1.2v1.15h-1.2zM319.62 203.07h1.2v1.15h-1.2zM324.88 203.07h1.2v1.15h-1.2zM325.67 203.07h1.2v1.15h-1.2zM330.1 203.07h1.2v1.15h-1.2zM335.33 203.07h1.2v1.15h-1.2zM336.81 203.07h1.2v1.15h-1.2zM290.43 203.07h1.2v1.15h-1.2zM268.02 201.67h1.2v1.15h-1.2zM271.94 201.67h1.2v1.15h-1.2zM276.84 201.67h1.2v1.15h-1.2zM281.07 201.67h1.2v1.15h-1.2zM287.25 201.67h1.2v1.15h-1.2zM293.53 201.67h1.2v1.15h-1.2zM298.6 201.67h1.2v1.15h-1.2zM302.91 201.67h1.2v1.15h-1.2zM310.83 201.67h1.2v1.15h-1.2zM311.39 201.67h1.2v1.15h-1.2zM314.07 201.67h1.2v1.15h-1.2zM329.66 201.67h1.2v1.15h-1.2zM329.72 201.67h1.2v1.15h-1.2zM330.08 201.67h1.2v1.15h-1.2zM332.22 201.67h1.2v1.15h-1.2zM332.29 201.67h1.2v1.15h-1.2zM335.93 201.67h1.2v1.15h-1.2zM339.42 201.67h1.2v1.15h-1.2zM340.69 201.67h1.2v1.15h-1.2zM344.42 201.67h1.2v1.15h-1.2zM326.08 201.67h1.2v1.15h-1.2zM257.32 200.28h1.2v1.15h-1.2zM260.08 200.28h1.2v1.15h-1.2zM262.19 200.28h1.2v1.15h-1.2zM271.95 200.28h1.2v1.15h-1.2zM277.25 200.28h1.2v1.15h-1.2zM279.74 200.28h1.2v1.15h-1.2zM285.22 200.28h1.2v1.15h-1.2zM289.01 200.28h1.2v1.15h-1.2zM302.16 200.28h1.2v1.15h-1.2zM312.82 200.28h1.2v1.15h-1.2zM315.25 200.28h1.2v1.15h-1.2zM317.45 200.28h1.2v1.15h-1.2zM320.56 200.28h1.2v1.15h-1.2zM330.57 200.28h1.2v1.15h-1.2zM332.64 200.28h1.2v1.15h-1.2zM336.45 200.28h1.2v1.15h-1.2zM338.62 200.28h1.2v1.15h-1.2zM340.84 200.28h1.2v1.15h-1.2zM347.16 200.28h1.2v1.15h-1.2zM347.43 200.28h1.2v1.15h-1.2zM348.54 200.28h1.2v1.15h-1.2zM302.64 200.28h1.2v1.15h-1.2zM314.86 200.28h1.2v1.15h-1.2zM326.23 200.28h1.2v1.15h-1.2zM255.68 198.88h1.2v1.15h-1.2zM256.3 198.88h1.2v1.15h-1.2zM260.38 198.88h1.2v1.15h-1.2zM261.24 198.88h1.2v1.15h-1.2zM263.73 198.88h1.2v1.15h-1.2zM266.53 198.88h1.2v1.15h-1.2zM267.16 198.88h1.2v1.15h-1.2zM267.98 198.88h1.2v1.15h-1.2zM273.31 198.88h1.2v1.15h-1.2zM275.86 198.88h1.2v1.15h-1.2zM279.01 198.88h1.2v1.15h-1.2zM281.11 198.88h1.2v1.15h-1.2zM281.46 198.88h1.2v1.15h-1.2zM285.59 198.88h1.2v1.15h-1.2zM288.52 198.88h1.2v1.15h-1.2zM288.81 198.88h1.2v1.15h-1.2zM289.48 198.88h1.2v1.15h-1.2zM291.6 198.88h1.2v1.15h-1.2zM292.77 198.88h1.2v1.15h-1.2zM293.29 198.88h1.2v1.15h-1.2zM295.45 198.88h1.2v1.15h-1.2zM297.25 198.88h1.2v1.15h-1.2zM298.03 198.88h1.2v1.15h-1.2zM299.02 198.88h1.2v1.15h-1.2zM303.75 198.88h1.2v1.15h-1.2zM308.96 198.88h1.2v1.15h-1.2zM309.66 198.88h1.2v1.15h-1.2zM310.1 198.88h1.2v1.15h-1.2zM310.98 198.88h1.2v1.15h-1.2zM312.94 198.88h1.2v1.15h-1.2zM313.19 198.88h1.2v1.15h-1.2zM314.12 198.88h1.2v1.15h-1.2zM322.66 198.88h1.2v1.15h-1.2zM323.64 198.88h1.2v1.15h-1.2zM328.65 198.88h1.2v1.15h-1.2zM329.49 198.88h1.2v1.15h-1.2zM329.82 198.88h1.2v1.15h-1.2zM332.6 198.88h1.2v1.15h-1.2zM332.77 198.88h1.2v1.15h-1.2zM333.88 198.88h1.2v1.15h-1.2zM334.67 198.88h1.2v1.15h-1.2zM337.43 198.88h1.2v1.15h-1.2zM342.78 198.88h1.2v1.15h-1.2zM343.87 198.88h1.2v1.15h-1.2zM345.85 198.88h1.2v1.15h-1.2zM279.29 198.88h1.2v1.15h-1.2zM302.29 198.88h1.2v1.15h-1.2zM326.58 198.88h1.2v1.15h-1.2zM255.86 197.49h1.2v1.15h-1.2zM257.1 197.49h1.2v1.15h-1.2zM257.72 197.49h1.2v1.15h-1.2zM258.54 197.49h1.2v1.15h-1.2zM264.64 197.49h1.2v1.15h-1.2zM265.49 197.49h1.2v1.15h-1.2zM265.92 197.49h1.2v1.15h-1.2zM279.85 197.49h1.2v1.15h-1.2zM285.81 197.49h1.2v1.15h-1.2zM304.78 197.49h1.2v1.15h-1.2zM313.54 197.49h1.2v1.15h-1.2zM317.38 197.49h1.2v1.15h-1.2zM318.17 197.49h1.2v1.15h-1.2zM321.63 197.49h1.2v1.15h-1.2zM322.35 197.49h1.2v1.15h-1.2zM333.38 197.49h1.2v1.15h-1.2zM334.27 197.49h1.2v1.15h-1.2zM343.91 197.49h1.2v1.15h-1.2zM344.55 197.49h1.2v1.15h-1.2zM347.62 197.49h1.2v1.15h-1.2zM349.5 197.49h1.2v1.15h-1.2zM303.27 197.49h1.2v1.15h-1.2zM315.43 197.49h1.2v1.15h-1.2zM326.31 197.49h1.2v1.15h-1.2zM255.45 196.09h1.2v1.15h-1.2zM262.35 196.09h1.2v1.15h-1.2zM263.78 196.09h1.2v1.15h-1.2zM276.35 196.09h1.2v1.15h-1.2zM281.87 196.09h1.2v1.15h-1.2zM289.21 196.09h1.2v1.15h-1.2zM295.01 196.09h1.2v1.15h-1.2zM298.48 196.09h1.2v1.15h-1.2zM301.97 196.09h1.2v1.15h-1.2zM309.56 196.09h1.2v1.15h-1.2zM310.09 196.09h1.2v1.15h-1.2zM312.6 196.09h1.2v1.15h-1.2zM323.27 196.09h1.2v1.15h-1.2zM331.78 196.09h1.2v1.15h-1.2zM336.29 196.09h1.2v1.15h-1.2zM292.57 196.09h1.2v1.15h-1.2zM315.24 196.09h1.2v1.15h-1.2zM258.67 194.7h1.2v1.15h-1.2zM260.11 194.7h1.2v1.15h-1.2zM263.07 194.7h1.2v1.15h-1.2zM263.71 194.7h1.2v1.15h-1.2zM264.08 194.7h1.2v1.15h-1.2zM265.55 194.7h1.2v1.15h-1.2zM266.33 194.7h1.2v1.15h-1.2zM266.48 194.7h1.2v1.15h-1.2zM273.68 194.7h1.2v1.15h-1.2zM278.7 194.7h1.2v1.15h-1.2zM281.4 194.7h1.2v1.15h-1.2zM281.75 194.7h1.2v1.15h-1.2zM286.54 194.7h1.2v1.15h-1.2zM287.38 194.7h1.2v1.15h-1.2zM291.54 194.7h1.2v1.15h-1.2zM291.95 194.7h1.2v1.15h-1.2zM293.19 194.7h1.2v1.15h-1.2zM298.64 194.7h1.2v1.15h-1.2zM302.89 194.7h1.2v1.15h-1.2zM303.12 194.7h1.2v1.15h-1.2zM306.44 194.7h1.2v1.15h-1.2zM308.2 194.7h1.2v1.15h-1.2zM308.63 194.7h1.2v1.15h-1.2zM308.99 194.7h1.2v1.15h-1.2zM310.22 194.7h1.2v1.15h-1.2zM312.63 194.7h1.2v1.15h-1.2zM315.54 194.7h1.2v1.15h-1.2zM320.35 194.7h1.2v1.15h-1.2zM323.76 194.7h1.2v1.15h-1.2zM323.88 194.7h1.2v1.15h-1.2zM326.32 194.7h1.2v1.15h-1.2zM329.58 194.7h1.2v1.15h-1.2zM331.98 194.7h1.2v1.15h-1.2zM333.97 194.7h1.2v1.15h-1.2zM335.28 194.7h1.2v1.15h-1.2zM335.91 194.7h1.2v1.15h-1.2zM337.92 194.7h1.2v1.15h-1.2zM344.5 194.7h1.2v1.15h-1.2zM348.37 194.7h1.2v1.15h-1.2zM326.85 194.7h1.2v1.15h-1.2zM258.8 193.3h1.2v1.15h-1.2zM263.48 193.3h1.2v1.15h-1.2zM264.1 193.3h1.2v1.15h-1.2zM271.6 193.3h1.2v1.15h-1.2zM273.65 193.3h1.2v1.15h-1.2zM274.28 193.3h1.2v1.15h-1.2zM275.16 193.3h1.2v1.15h-1.2zM276.79 193.3h1.2v1.15h-1.2zM288.93 193.3h1.2v1.15h-1.2zM295.86 193.3h1.2v1.15h-1.2zM296.12 193.3h1.2v1.15h-1.2zM296.46 193.3h1.2v1.15h-1.2zM297.68 193.3h1.2v1.15h-1.2zM298.16 193.3h1.2v1.15h-1.2zM300.9 193.3h1.2v1.15h-1.2zM305.05 193.3h1.2v1.15h-1.2zM307.2 193.3h1.2v1.15h-1.2zM307.57 193.3h1.2v1.15h-1.2zM316.14 193.3h1.2v1.15h-1.2zM317.45 193.3h1.2v1.15h-1.2zM322.78 193.3h1.2v1.15h-1.2zM324.76 193.3h1.2v1.15h-1.2zM327.02 193.3h1.2v1.15h-1.2zM327.85 193.3h1.2v1.15h-1.2zM330.55 193.3h1.2v1.15h-1.2zM334.1 193.3h1.2v1.15h-1.2zM334.44 193.3h1.2v1.15h-1.2zM337.29 193.3h1.2v1.15h-1.2zM339.36 193.3h1.2v1.15h-1.2zM340.1 193.3h1.2v1.15h-1.2zM345.53 193.3h1.2v1.15h-1.2zM346.98 193.3h1.2v1.15h-1.2zM347.28 193.3h1.2v1.15h-1.2zM348.84 193.3h1.2v1.15h-1.2zM349.67 193.3h1.2v1.15h-1.2zM351.06 193.3h1.2v1.15h-1.2zM279.05 193.3h1.2v1.15h-1.2zM314.53 193.3h1.2v1.15h-1.2zM327.41 193.3h1.2v1.15h-1.2zM253.37 191.91h1.2v1.15h-1.2zM255.47 191.91h1.2v1.15h-1.2zM256.9 191.91h1.2v1.15h-1.2zM257.23 191.91h1.2v1.15h-1.2zM263.39 191.91h1.2v1.15h-1.2zM265.14 191.91h1.2v1.15h-1.2zM265.2 191.91h1.2v1.15h-1.2zM269.42 191.91h1.2v1.15h-1.2zM272.81 191.91h1.2v1.15h-1.2zM275.62 191.91h1.2v1.15h-1.2zM277.71 191.91h1.2v1.15h-1.2zM278.58 191.91h1.2v1.15h-1.2zM281.35 191.91h1.2v1.15h-1.2zM283.16 191.91h1.2v1.15h-1.2zM287.82 191.91h1.2v1.15h-1.2zM291.03 191.91h1.2v1.15h-1.2zM291.36 191.91h1.2v1.15h-1.2zM294.84 191.91h1.2v1.15h-1.2zM297.81 191.91h1.2v1.15h-1.2zM298.16 191.91h1.2v1.15h-1.2zM298.53 191.91h1.2v1.15h-1.2zM298.93 191.91h1.2v1.15h-1.2zM301.36 191.91h1.2v1.15h-1.2zM305.62 191.91h1.2v1.15h-1.2zM307.79 191.91h1.2v1.15h-1.2zM316.57 191.91h1.2v1.15h-1.2zM321.53 191.91h1.2v1.15h-1.2zM324.31 191.91h1.2v1.15h-1.2zM324.54 191.91h1.2v1.15h-1.2zM326.45 191.91h1.2v1.15h-1.2zM326.82 191.91h1.2v1.15h-1.2zM327.19 191.91h1.2v1.15h-1.2zM329.47 191.91h1.2v1.15h-1.2zM331.7 191.91h1.2v1.15h-1.2zM334.73 191.91h1.2v1.15h-1.2zM336.03 191.91h1.2v1.15h-1.2zM336.52 191.91h1.2v1.15h-1.2zM338.27 191.91h1.2v1.15h-1.2zM338.84 191.91h1.2v1.15h-1.2zM342.39 191.91h1.2v1.15h-1.2zM343.86 191.91h1.2v1.15h-1.2zM344.99 191.91h1.2v1.15h-1.2zM347.1 191.91h1.2v1.15h-1.2zM348.65 191.91h1.2v1.15h-1.2zM349.48 191.91h1.2v1.15h-1.2zM256.59 190.51h1.2v1.15h-1.2zM256.8 190.51h1.2v1.15h-1.2zM262.64 190.51h1.2v1.15h-1.2zM263.84 190.51h1.2v1.15h-1.2zM264.67 190.51h1.2v1.15h-1.2zM264.82 190.51h1.2v1.15h-1.2zM265.33 190.51h1.2v1.15h-1.2zM267.58 190.51h1.2v1.15h-1.2zM268.66 190.51h1.2v1.15h-1.2zM272.5 190.51h1.2v1.15h-1.2zM274.31 190.51h1.2v1.15h-1.2zM276.53 190.51h1.2v1.15h-1.2zM282.9 190.51h1.2v1.15h-1.2zM284.04 190.51h1.2v1.15h-1.2zM285.13 190.51h1.2v1.15h-1.2zM290.68 190.51h1.2v1.15h-1.2zM293.62 190.51h1.2v1.15h-1.2zM293.88 190.51h1.2v1.15h-1.2zM296.42 190.51h1.2v1.15h-1.2zM298.88 190.51h1.2v1.15h-1.2zM301.51 190.51h1.2v1.15h-1.2zM313.95 190.51h1.2v1.15h-1.2zM315.94 190.51h1.2v1.15h-1.2zM316.14 190.51h1.2v1.15h-1.2zM316.59 190.51h1.2v1.15h-1.2zM317.06 190.51h1.2v1.15h-1.2zM318.89 190.51h1.2v1.15h-1.2zM319.66 190.51h1.2v1.15h-1.2zM321.24 190.51h1.2v1.15h-1.2zM321.39 190.51h1.2v1.15h-1.2zM325.78 190.51h1.2v1.15h-1.2zM327.36 190.51h1.2v1.15h-1.2zM327.95 190.51h1.2v1.15h-1.2zM328.53 190.51h1.2v1.15h-1.2zM330.64 190.51h1.2v1.15h-1.2zM331.92 190.51h1.2v1.15h-1.2zM332.2 190.51h1.2v1.15h-1.2zM334.58 190.51h1.2v1.15h-1.2zM335.2 190.51h1.2v1.15h-1.2zM336.04 190.51h1.2v1.15h-1.2zM338 190.51h1.2v1.15h-1.2zM339.68 190.51h1.2v1.15h-1.2zM342.01 190.51h1.2v1.15h-1.2zM345.16 190.51h1.2v1.15h-1.2zM346.06 190.51h1.2v1.15h-1.2zM346.23 190.51h1.2v1.15h-1.2zM349.11 190.51h1.2v1.15h-1.2zM280 190.51h1.2v1.15h-1.2zM315.65 190.51h1.2v1.15h-1.2zM253.23 189.12h1.2v1.15h-1.2zM256.45 189.12h1.2v1.15h-1.2zM273.98 189.12h1.2v1.15h-1.2zM277.85 189.12h1.2v1.15h-1.2zM285.23 189.12h1.2v1.15h-1.2zM286.33 189.12h1.2v1.15h-1.2zM314.74 189.12h1.2v1.15h-1.2zM326.99 189.12h1.2v1.15h-1.2zM332.35 189.12h1.2v1.15h-1.2zM340.47 189.12h1.2v1.15h-1.2zM327.47 189.12h1.2v1.15h-1.2zM255.24 187.72h1.2v1.15h-1.2zM258.54 187.72h1.2v1.15h-1.2zM258.78 187.72h1.2v1.15h-1.2zM273.32 187.72h1.2v1.15h-1.2zM273.59 187.72h1.2v1.15h-1.2zM276.03 187.72h1.2v1.15h-1.2zM284.06 187.72h1.2v1.15h-1.2zM292.22 187.72h1.2v1.15h-1.2zM303.56 187.72h1.2v1.15h-1.2zM313.18 187.72h1.2v1.15h-1.2zM315.38 187.72h1.2v1.15h-1.2zM315.46 187.72h1.2v1.15h-1.2zM318.53 187.72h1.2v1.15h-1.2zM319.36 187.72h1.2v1.15h-1.2zM322.7 187.72h1.2v1.15h-1.2zM325.68 187.72h1.2v1.15h-1.2zM329.04 187.72h1.2v1.15h-1.2zM329.77 187.72h1.2v1.15h-1.2zM333.69 187.72h1.2v1.15h-1.2zM335.22 187.72h1.2v1.15h-1.2zM338.91 187.72h1.2v1.15h-1.2zM340.38 187.72h1.2v1.15h-1.2zM346.81 187.72h1.2v1.15h-1.2zM346.93 187.72h1.2v1.15h-1.2zM280.15 187.72h1.2v1.15h-1.2zM314.37 187.72h1.2v1.15h-1.2zM253.06 186.33h1.2v1.15h-1.2zM257.52 186.33h1.2v1.15h-1.2zM258.38 186.33h1.2v1.15h-1.2zM260.37 186.33h1.2v1.15h-1.2zM261.47 186.33h1.2v1.15h-1.2zM261.91 186.33h1.2v1.15h-1.2zM267.14 186.33h1.2v1.15h-1.2zM267.24 186.33h1.2v1.15h-1.2zM271.82 186.33h1.2v1.15h-1.2zM274.3 186.33h1.2v1.15h-1.2zM275.93 186.33h1.2v1.15h-1.2zM278.7 186.33h1.2v1.15h-1.2zM281.61 186.33h1.2v1.15h-1.2zM285.79 186.33h1.2v1.15h-1.2zM289.11 186.33h1.2v1.15h-1.2zM292.67 186.33h1.2v1.15h-1.2zM301.08 186.33h1.2v1.15h-1.2zM301.44 186.33h1.2v1.15h-1.2zM302.27 186.33h1.2v1.15h-1.2zM302.37 186.33h1.2v1.15h-1.2zM304.11 186.33h1.2v1.15h-1.2zM304.73 186.33h1.2v1.15h-1.2zM304.82 186.33h1.2v1.15h-1.2zM306.79 186.33h1.2v1.15h-1.2zM311.03 186.33h1.2v1.15h-1.2zM312.05 186.33h1.2v1.15h-1.2zM316.04 186.33h1.2v1.15h-1.2zM316.37 186.33h1.2v1.15h-1.2zM318.06 186.33h1.2v1.15h-1.2zM320.82 186.33h1.2v1.15h-1.2zM321.69 186.33h1.2v1.15h-1.2zM326.02 186.33h1.2v1.15h-1.2zM326.34 186.33h1.2v1.15h-1.2zM330.46 186.33h1.2v1.15h-1.2zM330.53 186.33h1.2v1.15h-1.2zM331.03 186.33h1.2v1.15h-1.2zM334.08 186.33h1.2v1.15h-1.2zM335.48 186.33h1.2v1.15h-1.2zM336.77 186.33h1.2v1.15h-1.2zM339.64 186.33h1.2v1.15h-1.2zM341.58 186.33h1.2v1.15h-1.2zM344.47 186.33h1.2v1.15h-1.2zM346.23 186.33h1.2v1.15h-1.2zM348.15 186.33h1.2v1.15h-1.2zM348.46 186.33h1.2v1.15h-1.2zM349.16 186.33h1.2v1.15h-1.2zM349.26 186.33h1.2v1.15h-1.2zM349.43 186.33h1.2v1.15h-1.2zM291.55 186.33h1.2v1.15h-1.2zM315.49 186.33h1.2v1.15h-1.2zM256.99 184.93h1.2v1.15h-1.2zM257.55 184.93h1.2v1.15h-1.2zM270.6 184.93h1.2v1.15h-1.2zM273.15 184.93h1.2v1.15h-1.2zM274.35 184.93h1.2v1.15h-1.2zM275.08 184.93h1.2v1.15h-1.2zM277.07 184.93h1.2v1.15h-1.2zM277.73 184.93h1.2v1.15h-1.2zM287.34 184.93h1.2v1.15h-1.2zM289.78 184.93h1.2v1.15h-1.2zM302.94 184.93h1.2v1.15h-1.2zM307.35 184.93h1.2v1.15h-1.2zM307.94 184.93h1.2v1.15h-1.2zM315.19 184.93h1.2v1.15h-1.2zM317.23 184.93h1.2v1.15h-1.2zM321.07 184.93h1.2v1.15h-1.2zM323.81 184.93h1.2v1.15h-1.2zM326.05 184.93h1.2v1.15h-1.2zM329.23 184.93h1.2v1.15h-1.2zM335.26 184.93h1.2v1.15h-1.2zM342.16 184.93h1.2v1.15h-1.2zM349.91 184.93h1.2v1.15h-1.2zM262.26 183.54h1.2v1.15h-1.2zM269.42 183.54h1.2v1.15h-1.2zM269.62 183.54h1.2v1.15h-1.2zM278.49 183.54h1.2v1.15h-1.2zM284.77 183.54h1.2v1.15h-1.2zM290.91 183.54h1.2v1.15h-1.2zM305.46 183.54h1.2v1.15h-1.2zM308.05 183.54h1.2v1.15h-1.2zM311.34 183.54h1.2v1.15h-1.2zM320.93 183.54h1.2v1.15h-1.2zM324.88 183.54h1.2v1.15h-1.2zM330.21 183.54h1.2v1.15h-1.2zM332.11 183.54h1.2v1.15h-1.2zM334.17 183.54h1.2v1.15h-1.2zM338.64 183.54h1.2v1.15h-1.2zM347.54 183.54h1.2v1.15h-1.2zM351.02 183.54h1.2v1.15h-1.2zM291.51 183.54h1.2v1.15h-1.2zM302.65 183.54h1.2v1.15h-1.2zM255.54 182.14h1.2v1.15h-1.2zM265.07 182.14h1.2v1.15h-1.2zM267.61 182.14h1.2v1.15h-1.2zM268.61 182.14h1.2v1.15h-1.2zM276.61 182.14h1.2v1.15h-1.2zM279.44 182.14h1.2v1.15h-1.2zM280.29 182.14h1.2v1.15h-1.2zM280.77 182.14h1.2v1.15h-1.2zM283.37 182.14h1.2v1.15h-1.2zM289.55 182.14h1.2v1.15h-1.2zM302.77 182.14h1.2v1.15h-1.2zM306.07 182.14h1.2v1.15h-1.2zM310.59 182.14h1.2v1.15h-1.2zM318.24 182.14h1.2v1.15h-1.2zM318.64 182.14h1.2v1.15h-1.2zM332.41 182.14h1.2v1.15h-1.2zM339.99 182.14h1.2v1.15h-1.2zM343.45 182.14h1.2v1.15h-1.2zM345.99 182.14h1.2v1.15h-1.2zM254.71 180.75h1.2v1.15h-1.2zM254.97 180.75h1.2v1.15h-1.2zM256.13 180.75h1.2v1.15h-1.2zM279.25 180.75h1.2v1.15h-1.2zM280.28 180.75h1.2v1.15h-1.2zM280.84 180.75h1.2v1.15h-1.2zM298.04 180.75h1.2v1.15h-1.2zM308.51 180.75h1.2v1.15h-1.2zM315.32 180.75h1.2v1.15h-1.2zM315.39 180.75h1.2v1.15h-1.2zM317.98 180.75h1.2v1.15h-1.2zM320.82 180.75h1.2v1.15h-1.2zM327.05 180.75h1.2v1.15h-1.2zM345.79 180.75h1.2v1.15h-1.2zM347.6 180.75h1.2v1.15h-1.2zM279.85 180.75h1.2v1.15h-1.2zM325.78 180.75h1.2v1.15h-1.2z" fill="#333"/>
<path d="M253.6 280.4h1.27v-3.4h-1.27zM255.19 280.4h1.27v-3.4h-1.27zM256.78 280.4h1.27v-3.4h-1.27zM258.38 280.4h1.27v-3.4h-1.27zM259.97 280.4h1.27v-3.4h-1.27zM261.56 280.4h1.27v-3.4h-1.27zM263.15 280.4h1.27v-3.4h-1.27zM264.74 280.4h1.27v-3.4h-1.27zM266.33 280.4h1.27v-3.4h-1.27zM267.93 280.4h1.27v-3.4h-1.27zM269.52 280.4h1.27v-3.4h-1.27zM271.11 280.4h1.27v-3.4h-1.27zM272.7 280.4h1.27v-3.4h-1.27zM274.29 280.4h1.27v-3.4h-1.27zM275.88 280.4h1.27v-3.4h-1.27zM277.48 280.4h1.27v-3.4h-1.27zM279.07 280.4h1.27v-3.4h-1.27zM280.66 280.4h1.27v-3.4h-1.27zM282.25 280.4h1.27v-3.4h-1.27zM283.84 280.4h1.27v-3.4h-1.27zM285.43 280.4h1.27v-3.4h-1.27zM287.03 280.4h1.27v-3.4h-1.27zM288.62 280.4h1.27v-3.4h-1.27zM290.21 280.4h1.27v-3.4h-1.27zM291.8 280.4h1.27v-3.4h-1.27zM293.39 280.4h1.27v-3.4h-1.27zM294.98 280.4h1.27v-3.4h-1.27zM296.58 280.4h1.27v-3.4h-1.27zM298.17 280.4h1.27v-3.4h-1.27zM299.76 280.4h1.27v-3.4h-1.27zM301.35 280.4h1.27v-3.4h-1.27zM302.94 280.4h1.27v-3.4h-1.27zM304.53 280.4h1.27v-3.4h-1.27zM306.13 280.4h1.27v-3.4h-1.27zM307.72 280.4h1.27v-3.4h-1.27zM309.31 280.4h1.27v-3.4h-1.27zM310.9 280.4h1.27v-3.4h-1.27zM312.49 280.4h1.27v-3.4h-1.27zM314.08 280.4h1.27v-3.4h-1.27zM315.68 280.4h1.27v-3.4h-1.27zM317.27 280.4h1.27v-3.4h-1.27zM318.86 280.4h1.27v-3.4h-1.27zM320.45 280.4h1.27v-3.4h-1.27zM322.04 280.4h1.27v-3.4h-1.27zM323.63 280.4h1.27v-3.4h-1.27zM325.23 280.4h1.27v-3.4h-1.27zM326.82 280.4h1.27v-3.4h-1.27zM328.41 280.4h1.27v-3.4h-1.27zM330 280.4h1.27v-3.4h-1.27zM331.59 280.4h1.27v-3.4h-1.27zM333.18 280.4h1.27v-3.4h-1.27zM334.78 280.4h1.27v-3.4h-1.27zM336.37 280.4h1.27v-3.4h-1.27zM337.96 280.4h1.27v-3.4h-1.27zM339.55 280.4h1.27v-3.4h-1.27zM341.14 280.4h1.27v-3.4h-1.27zM342.73 280.4h1.27v-3.4h-1.27zM344.33 280.4h1.27v-3.4h-1.27zM345.92 280.4h1.27v-3.4h-1.27zM347.51 280.4h1.27v-3.4h-1.27zM349.1 280.4h1.27v-3.4h-1.27zM350.69 280.4h1.27v-3.4h-1.27z" fill="#000" opacity="0.3"/>
<path d="M253.6 280.4h1.27v-6.8h-1.27zM255.19 280.4h1.27v-6.8h-1.27zM256.78 280.4h1.27v-6.8h-1.27zM258.38 280.4h1.27v-6.8h-1.27zM259.97 280.4h1.27v-6.8h-1.27zM261.56 280.4h1.27v-6.8h-1.27zM263.15 280.4h1.27v-6.8h-1.27zM264.74 280.4h1.27v-6.8h-1.27zM266.33 280.4h1.27v-6.8h-1.27zM267.93 280.4h1.27v-6.8h-1.27zM269.52 280.4h1.27v-6.8h-1.27zM271.11 280.4h1.27v-6.8h-1.27zM272.7 280.4h1.27v-6.8h-1.27zM274.29 280.4h1.27v-6.8h-1.27zM275.88 280.4h1.27v-6.8h-1.27zM277.48 280.4h1.27v-6.8h-1.27zM279.07 280.4h1.27v-6.8h-1.27zM280.66 280.4h1.27v-6.8h-1.27zM282.25 280.4h1.27v-6.8h-1.27zM283.84 280.4h1.27v-6.8h-1.27zM285.43 280.4h1.27v-6.8h-1.27zM287.03 280.4h1.27v-6.8h-1.27zM288.62 280.4h1.27v-6.8h-1.27zM290.21 280.4h1.27v-6.8h-1.27zM291.8 280.4h1.27v-6.8h-1.27zM293.39 280.4h1.27v-6.8h-1.27zM294.98 280.4h1.27v-6.8h-1.27zM296.58 280.4h1.27v-6.8h-1.27zM298.17 280.4h1.27v-6.8h-1.27zM299.76 280.4h1.27v-6.8h-1.27zM301.35 280.4h1.27v-6.8h-1.27zM302.94 280.4h1.27v-6.8h-1.27zM304.53 280.4h1.27v-6.8h-1.27zM307.72 280.4h1.27v-6.8h-1.27zM309.31 280.4h1.27v-6.8h-1.27zM310.9 280.4h1.27v-6.8h-1.27zM312.49 280.4h1.27v-6.8h-1.27zM314.08 280.4h1.27v-6.8h-1.27zM315.68 280.4h1.27v-6.8h-1.27zM317.27 280.4h1.27v-6.8h-1.27zM318.86 280.4h1.27v-6.8h-1.27zM320.45 280.4h1.27v-6.8h-1.27zM322.04 280.4h1.27v-6.8h-1.27zM323.63 280.4h1.27v-6.8h-1.27zM325.23 280.4h1.27v-6.8h-1.27zM326.82 280.4h1.27v-6.8h-1.27zM328.41 280.4h1.27v-6.8h-1.27zM330 280.4h1.27v-6.8h-1.27zM331.59 280.4h1.27v-6.8h-1.27zM333.18 280.4h1.27v-6.8h-1.27zM334.78 280.4h1.27v-6.8h-1.27zM336.37 280.4h1.27v-6.8h-1.27zM337.96 280.4h1.27v-6.8h-1.27zM339.55 280.4h1.27v-6.8h-1.27zM341.14 280.4h1.27v-6.8h-1.27zM342.73 280.4h1.27v-6.8h-1.27zM344.33 280.4h1.27v-6.8h-1.27zM345.92 280.4h1.27v-6.8h-1.27zM347.51 280.4h1.27v-6.8h-1.27zM349.1 280.4h1.27v-6.8h-1.27zM350.69 280.4h1.27v-6.8h-1.27z" fill="#000" opacity="0.3"/>
<path d="M253.6 280.4h1.27v-10.2h-1.27zM258.38 280.4h1.27v-10.2h-1.27zM261.56 280.4h1.27v-10.2h-1.27zM263.15 280.4h1.27v-10.2h-1.27zM264.74 280.4h1.27v-10.2h-1.27zM266.33 280.4h1.27v-10.2h-1.27zM272.7 280.4h1.27v-10.2h-1.27zM274.29 280.4h1.27v-10.2h-1.27zM275.88 280.4h1.27v-10.2h-1.27zM277.48 280.4h1.27v-10.2h-1.27zM279.07 280.4h1.27v-10.2h-1.27zM280.66 280.4h1.27v-10.2h-1.27zM282.25 280.4h1.27v-10.2h-1.27zM283.84 280.4h1.27v-10.2h-1.27zM287.03 280.4h1.27v-10.2h-1.27zM290.21 280.4h1.27v-10.2h-1.27zM291.8 280.4h1.27v-10.2h-1.27zM293.39 280.4h1.27v-10.2h-1.27zM294.98 280.4h1.27v-10.2h-1.27zM301.35 280.4h1.27v-10.2h-1.27zM302.94 280.4h1.27v-10.2h-1.27zM304.53 280.4h1.27v-10.2h-1.27zM307.72 280.4h1.27v-10.2h-1.27zM309.31 280.4h1.27v-10.2h-1.27zM312.49 280.4h1.27v-10.2h-1.27zM314.08 280.4h1.27v-10.2h-1.27zM315.68 280.4h1.27v-10.2h-1.27zM317.27 280.4h1.27v-10.2h-1.27zM318.86 280.4h1.27v-10.2h-1.27zM322.04 280.4h1.27v-10.2h-1.27zM323.63 280.4h1.27v-10.2h-1.27zM325.23 280.4h1.27v-10.2h-1.27zM326.82 280.4h1.27v-10.2h-1.27zM331.59 280.4h1.27v-10.2h-1.27zM333.18 280.4h1.27v-10.2h-1.27zM336.37 280.4h1.27v-10.2h-1.27zM337.96 280.4h1.27v-10.2h-1.27zM339.55 280.4h1.27v-10.2h-1.27zM341.14 280.4h1.27v-10.2h-1.27zM342.73 280.4h1.27v-10.2h-1.27zM344.33 280.4h1.27v-10.2h-1.27zM349.1 280.4h1.27v-10.2h-1.27z" fill="#000" opacity="0.09"/>
<path d="M253.6 280.4h1.27v-13.6h-1.27zM264.74 280.4h1.27v-13.6h-1.27zM279.07 280.4h1.27v-13.6h-1.27zM280.66 280.4h1.27v-13.6h-1.27zM290.21 280.4h1.27v-13.6h-1.27zM291.8 280.4h1.27v-13.6h-1.27zM294.98 280.4h1.27v-13.6h-1.27zM302.94 280.4h1.27v-13.6h-1.27zM307.72 280.4h1.27v-13.6h-1.27zM314.08 280.4h1.27v-13.6h-1.27zM315.68 280.4h1.27v-13.6h-1.27zM326.82 280.4h1.27v-13.6h-1.27zM331.59 280.4h1.27v-13.6h-1.27z" fill="#000" opacity="0.09"/>
<path d="M280.66 280.4h1.27v-17h-1.27zM291.8 280.4h1.27v-17h-1.27zM302.94 280.4h1.27v-17h-1.27zM326.82 280.4h1.27v-17h-1.27z" fill="#000" opacity="0.09"/>
<path d="M302.94 280.4h1.27v-20.4h-1.27z" fill="#000" opacity="0.09"/>
<line x1="253.6" y1="180" x2="253.6" y2="250.9" stroke="#5a5a5a" stroke-width="1.1"/>
<line x1="253.6" y1="252.3" x2="253.6" y2="280.9" stroke="#5a5a5a" stroke-width="1.1"/>
<line x1="253.1" y1="250.4" x2="352.4" y2="250.4" stroke="#5a5a5a" stroke-width="1.2"/>
<line x1="253.1" y1="280.4" x2="352.4" y2="280.4" stroke="#5a5a5a" stroke-width="1.2"/>
<line x1="253.6" y1="280.4" x2="253.6" y2="282" stroke="#5a5a5a" stroke-width="0.8"/>
<line x1="253.6" y1="250.4" x2="253.6" y2="251.8" stroke="#5a5a5a" stroke-width="0.7"/>
<line x1="272.95" y1="280.4" x2="272.95" y2="282" stroke="#5a5a5a" stroke-width="0.8"/>
<line x1="272.95" y1="250.4" x2="272.95" y2="251.8" stroke="#5a5a5a" stroke-width="0.7"/>
<line x1="292.3" y1="280.4" x2="292.3" y2="282" stroke="#5a5a5a" stroke-width="0.8"/>
<line x1="292.3" y1="250.4" x2="292.3" y2="251.8" stroke="#5a5a5a" stroke-width="0.7"/>
<line x1="311.65" y1="280.4" x2="311.65" y2="282" stroke="#5a5a5a" stroke-width="0.8"/>
<line x1="311.65" y1="250.4" x2="311.65" y2="251.8" stroke="#5a5a5a" stroke-width="0.7"/>
<line x1="331" y1="280.4" x2="331" y2="282" stroke="#5a5a5a" stroke-width="0.8"/>
<line x1="331" y1="250.4" x2="331" y2="251.8" stroke="#5a5a5a" stroke-width="0.7"/>
<line x1="350.35" y1="280.4" x2="350.35" y2="282" stroke="#5a5a5a" stroke-width="0.8"/>
<line x1="350.35" y1="250.4" x2="350.35" y2="251.8" stroke="#5a5a5a" stroke-width="0.7"/>
<line x1="251.8" y1="250.4" x2="253.6" y2="250.4" stroke="#5a5a5a" stroke-width="0.8"/>
<line x1="251.8" y1="222.3" x2="253.6" y2="222.3" stroke="#5a5a5a" stroke-width="0.8"/>
<line x1="251.8" y1="194.2" x2="253.6" y2="194.2" stroke="#5a5a5a" stroke-width="0.8"/>
<line x1="251.8" y1="264.6" x2="253.6" y2="264.6" stroke="#5a5a5a" stroke-width="0.8"/>
<text x="272.95" y="292.9" font-size="10.4" text-anchor="middle" fill="#1a1a1a" stroke="#1a1a1a" stroke-width="0.1">0</text>
<text x="311.65" y="292.9" font-size="10.4" text-anchor="middle" fill="#1a1a1a" stroke="#1a1a1a" stroke-width="0.1">1</text>
<text x="350.35" y="292.9" font-size="10.4" text-anchor="middle" fill="#1a1a1a" stroke="#1a1a1a" stroke-width="0.1">2</text>
<text x="301.98" y="305" font-size="10.2" text-anchor="middle" fill="#1a1a1a" stroke="#1a1a1a" stroke-width="0.1">Time (s)</text>
<text x="347.1" y="266.4" font-size="7.2" text-anchor="end" fill="#222" font-style="italic" stroke="#222" stroke-width="0.1">9.9</text>
<circle cx="382.15" cy="176" r="2" fill="#ff1f1f"/>
<circle cx="393.76" cy="176" r="2" fill="#ff1f1f"/>
<circle cx="405.37" cy="176" r="2" fill="#ff1f1f"/>
<circle cx="416.98" cy="176" r="2" fill="#ff1f1f"/>
<circle cx="428.59" cy="176" r="2" fill="#ff1f1f"/>
<path d="M366.14 249.1h1.2v1.15h-1.2zM366.75 249.1h1.2v1.15h-1.2zM376.6 249.1h1.2v1.15h-1.2zM380.2 249.1h1.2v1.15h-1.2zM398.65 249.1h1.2v1.15h-1.2zM416.69 249.1h1.2v1.15h-1.2zM416.8 249.1h1.2v1.15h-1.2zM431.47 249.1h1.2v1.15h-1.2zM438.49 249.1h1.2v1.15h-1.2zM440.01 249.1h1.2v1.15h-1.2zM440.22 249.1h1.2v1.15h-1.2zM442.24 249.1h1.2v1.15h-1.2zM443.15 249.1h1.2v1.15h-1.2zM446.34 249.1h1.2v1.15h-1.2zM460.58 249.1h1.2v1.15h-1.2zM362.9 247.71h1.2v1.15h-1.2zM365.83 247.71h1.2v1.15h-1.2zM368.32 247.71h1.2v1.15h-1.2zM370.67 247.71h1.2v1.15h-1.2zM370.97 247.71h1.2v1.15h-1.2zM372.83 247.71h1.2v1.15h-1.2zM374.75 247.71h1.2v1.15h-1.2zM377.14 247.71h1.2v1.15h-1.2zM391.81 247.71h1.2v1.15h-1.2zM394.83 247.71h1.2v1.15h-1.2zM404.94 247.71h1.2v1.15h-1.2zM405.3 247.71h1.2v1.15h-1.2zM426.61 247.71h1.2v1.15h-1.2zM427.66 247.71h1.2v1.15h-1.2zM437.68 247.71h1.2v1.15h-1.2zM439.99 247.71h1.2v1.15h-1.2zM451.54 247.71h1.2v1.15h-1.2zM451.8 247.71h1.2v1.15h-1.2zM362.56 246.31h1.2v1.15h-1.2zM365.89 246.31h1.2v1.15h-1.2zM369.89 246.31h1.2v1.15h-1.2zM371.35 246.31h1.2v1.15h-1.2zM377.14 246.31h1.2v1.15h-1.2zM380.69 246.31h1.2v1.15h-1.2zM397.44 246.31h1.2v1.15h-1.2zM402.8 246.31h1.2v1.15h-1.2zM405.27 246.31h1.2v1.15h-1.2zM417.61 246.31h1.2v1.15h-1.2zM426.86 246.31h1.2v1.15h-1.2zM428.01 246.31h1.2v1.15h-1.2zM428.12 246.31h1.2v1.15h-1.2zM428.92 246.31h1.2v1.15h-1.2zM438.59 246.31h1.2v1.15h-1.2zM439.84 246.31h1.2v1.15h-1.2zM441.74 246.31h1.2v1.15h-1.2zM442.02 246.31h1.2v1.15h-1.2zM444.58 246.31h1.2v1.15h-1.2zM460.32 246.31h1.2v1.15h-1.2zM363.64 244.92h1.2v1.15h-1.2zM365.18 244.92h1.2v1.15h-1.2zM367.05 244.92h1.2v1.15h-1.2zM369.66 244.92h1.2v1.15h-1.2zM370.17 244.92h1.2v1.15h-1.2zM371.36 244.92h1.2v1.15h-1.2zM374.43 244.92h1.2v1.15h-1.2zM380.35 244.92h1.2v1.15h-1.2zM380.54 244.92h1.2v1.15h-1.2zM382.61 244.92h1.2v1.15h-1.2zM393.1 244.92h1.2v1.15h-1.2zM397.77 244.92h1.2v1.15h-1.2zM404.31 244.92h1.2v1.15h-1.2zM409.03 244.92h1.2v1.15h-1.2zM415.47 244.92h1.2v1.15h-1.2zM416.47 244.92h1.2v1.15h-1.2zM437.98 244.92h1.2v1.15h-1.2zM445.55 244.92h1.2v1.15h-1.2zM447.05 244.92h1.2v1.15h-1.2zM447.35 244.92h1.2v1.15h-1.2zM447.59 244.92h1.2v1.15h-1.2zM451.33 244.92h1.2v1.15h-1.2zM455.45 244.92h1.2v1.15h-1.2zM455.54 244.92h1.2v1.15h-1.2zM460.24 244.92h1.2v1.15h-1.2zM363.87 243.52h1.2v1.15h-1.2zM370.08 243.52h1.2v1.15h-1.2zM373.3 243.52h1.2v1.15h-1.2zM377.23 243.52h1.2v1.15h-1.2zM378.07 243.52h1.2v1.15h-1.2zM380.62 243.52h1.2v1.15h-1.2zM381.11 243.52h1.2v1.15h-1.2zM389.6 243.52h1.2v1.15h-1.2zM404.44 243.52h1.2v1.15h-1.2zM404.74 243.52h1.2v1.15h-1.2zM415.17 243.52h1.2v1.15h-1.2zM415.64 243.52h1.2v1.15h-1.2zM416.77 243.52h1.2v1.15h-1.2zM417.27 243.52h1.2v1.15h-1.2zM426.33 243.52h1.2v1.15h-1.2zM427.45 243.52h1.2v1.15h-1.2zM428.24 243.52h1.2v1.15h-1.2zM429.71 243.52h1.2v1.15h-1.2zM430.82 243.52h1.2v1.15h-1.2zM437.74 243.52h1.2v1.15h-1.2zM438.47 243.52h1.2v1.15h-1.2zM447.11 243.52h1.2v1.15h-1.2zM448.99 243.52h1.2v1.15h-1.2zM449.36 243.52h1.2v1.15h-1.2zM452.64 243.52h1.2v1.15h-1.2zM453.85 243.52h1.2v1.15h-1.2zM454.15 243.52h1.2v1.15h-1.2zM454.86 243.52h1.2v1.15h-1.2zM455.1 243.52h1.2v1.15h-1.2zM457.94 243.52h1.2v1.15h-1.2zM458.85 243.52h1.2v1.15h-1.2zM363.07 242.13h1.2v1.15h-1.2zM367.89 242.13h1.2v1.15h-1.2zM373.62 242.13h1.2v1.15h-1.2zM378.2 242.13h1.2v1.15h-1.2zM378.73 242.13h1.2v1.15h-1.2zM380.34 242.13h1.2v1.15h-1.2zM391.29 242.13h1.2v1.15h-1.2zM404.3 242.13h1.2v1.15h-1.2zM405.42 242.13h1.2v1.15h-1.2zM416.44 242.13h1.2v1.15h-1.2zM416.47 242.13h1.2v1.15h-1.2zM417.89 242.13h1.2v1.15h-1.2zM418.98 242.13h1.2v1.15h-1.2zM427.59 242.13h1.2v1.15h-1.2zM428 242.13h1.2v1.15h-1.2zM440.95 242.13h1.2v1.15h-1.2zM441.71 242.13h1.2v1.15h-1.2zM444.97 242.13h1.2v1.15h-1.2zM446.25 242.13h1.2v1.15h-1.2zM449.11 242.13h1.2v1.15h-1.2zM452.69 242.13h1.2v1.15h-1.2zM453.13 242.13h1.2v1.15h-1.2zM453.67 242.13h1.2v1.15h-1.2zM454 242.13h1.2v1.15h-1.2zM454.17 242.13h1.2v1.15h-1.2zM456.94 242.13h1.2v1.15h-1.2zM362.5 240.73h1.2v1.15h-1.2zM364.27 240.73h1.2v1.15h-1.2zM367.24 240.73h1.2v1.15h-1.2zM369.47 240.73h1.2v1.15h-1.2zM370.36 240.73h1.2v1.15h-1.2zM372.19 240.73h1.2v1.15h-1.2zM372.84 240.73h1.2v1.15h-1.2zM374.35 240.73h1.2v1.15h-1.2zM374.58 240.73h1.2v1.15h-1.2zM376.81 240.73h1.2v1.15h-1.2zM376.85 240.73h1.2v1.15h-1.2zM381.03 240.73h1.2v1.15h-1.2zM393.69 240.73h1.2v1.15h-1.2zM403.86 240.73h1.2v1.15h-1.2zM404.7 240.73h1.2v1.15h-1.2zM415.38 240.73h1.2v1.15h-1.2zM415.6 240.73h1.2v1.15h-1.2zM417.26 240.73h1.2v1.15h-1.2zM417.74 240.73h1.2v1.15h-1.2zM417.86 240.73h1.2v1.15h-1.2zM418.39 240.73h1.2v1.15h-1.2zM427.76 240.73h1.2v1.15h-1.2zM443.52 240.73h1.2v1.15h-1.2zM445.2 240.73h1.2v1.15h-1.2zM447.51 240.73h1.2v1.15h-1.2zM448.15 240.73h1.2v1.15h-1.2zM448.67 240.73h1.2v1.15h-1.2zM450.54 240.73h1.2v1.15h-1.2zM364.02 239.34h1.2v1.15h-1.2zM365.27 239.34h1.2v1.15h-1.2zM372.32 239.34h1.2v1.15h-1.2zM375.48 239.34h1.2v1.15h-1.2zM380.43 239.34h1.2v1.15h-1.2zM409.2 239.34h1.2v1.15h-1.2zM409.6 239.34h1.2v1.15h-1.2zM415.6 239.34h1.2v1.15h-1.2zM438.64 239.34h1.2v1.15h-1.2zM441.05 239.34h1.2v1.15h-1.2zM446.84 239.34h1.2v1.15h-1.2zM446.97 239.34h1.2v1.15h-1.2zM448.86 239.34h1.2v1.15h-1.2zM452.53 239.34h1.2v1.15h-1.2zM454.77 239.34h1.2v1.15h-1.2zM367.11 237.94h1.2v1.15h-1.2zM369.53 237.94h1.2v1.15h-1.2zM380.72 237.94h1.2v1.15h-1.2zM392.37 237.94h1.2v1.15h-1.2zM392.52 237.94h1.2v1.15h-1.2zM403.67 237.94h1.2v1.15h-1.2zM404.34 237.94h1.2v1.15h-1.2zM415.63 237.94h1.2v1.15h-1.2zM415.83 237.94h1.2v1.15h-1.2zM417.82 237.94h1.2v1.15h-1.2zM429.91 237.94h1.2v1.15h-1.2zM440.94 237.94h1.2v1.15h-1.2zM442.73 237.94h1.2v1.15h-1.2zM444.97 237.94h1.2v1.15h-1.2zM445.89 237.94h1.2v1.15h-1.2zM447.33 237.94h1.2v1.15h-1.2zM448.06 237.94h1.2v1.15h-1.2zM448.2 237.94h1.2v1.15h-1.2zM449.95 237.94h1.2v1.15h-1.2zM454.18 237.94h1.2v1.15h-1.2zM456.07 237.94h1.2v1.15h-1.2zM460.29 237.94h1.2v1.15h-1.2zM368.18 236.55h1.2v1.15h-1.2zM368.41 236.55h1.2v1.15h-1.2zM370.92 236.55h1.2v1.15h-1.2zM373.34 236.55h1.2v1.15h-1.2zM374.97 236.55h1.2v1.15h-1.2zM380.86 236.55h1.2v1.15h-1.2zM381.31 236.55h1.2v1.15h-1.2zM390.48 236.55h1.2v1.15h-1.2zM392.48 236.55h1.2v1.15h-1.2zM392.65 236.55h1.2v1.15h-1.2zM393.74 236.55h1.2v1.15h-1.2zM404.11 236.55h1.2v1.15h-1.2zM404.59 236.55h1.2v1.15h-1.2zM411.86 236.55h1.2v1.15h-1.2zM414.84 236.55h1.2v1.15h-1.2zM415.81 236.55h1.2v1.15h-1.2zM417.27 236.55h1.2v1.15h-1.2zM417.35 236.55h1.2v1.15h-1.2zM417.45 236.55h1.2v1.15h-1.2zM427.59 236.55h1.2v1.15h-1.2zM428.38 236.55h1.2v1.15h-1.2zM438.56 236.55h1.2v1.15h-1.2zM438.9 236.55h1.2v1.15h-1.2zM439.22 236.55h1.2v1.15h-1.2zM441.6 236.55h1.2v1.15h-1.2zM442.8 236.55h1.2v1.15h-1.2zM443.77 236.55h1.2v1.15h-1.2zM446.2 236.55h1.2v1.15h-1.2zM448.67 236.55h1.2v1.15h-1.2zM450.93 236.55h1.2v1.15h-1.2zM451.42 236.55h1.2v1.15h-1.2zM452.4 236.55h1.2v1.15h-1.2zM456.16 236.55h1.2v1.15h-1.2zM457.3 236.55h1.2v1.15h-1.2zM362.6 235.15h1.2v1.15h-1.2zM363 235.15h1.2v1.15h-1.2zM363.75 235.15h1.2v1.15h-1.2zM365.75 235.15h1.2v1.15h-1.2zM373.64 235.15h1.2v1.15h-1.2zM374.74 235.15h1.2v1.15h-1.2zM376.8 235.15h1.2v1.15h-1.2zM378.57 235.15h1.2v1.15h-1.2zM391.95 235.15h1.2v1.15h-1.2zM394.24 235.15h1.2v1.15h-1.2zM403.94 235.15h1.2v1.15h-1.2zM414.75 235.15h1.2v1.15h-1.2zM416.36 235.15h1.2v1.15h-1.2zM416.38 235.15h1.2v1.15h-1.2zM423.69 235.15h1.2v1.15h-1.2zM426.85 235.15h1.2v1.15h-1.2zM427.49 235.15h1.2v1.15h-1.2zM439.08 235.15h1.2v1.15h-1.2zM440.12 235.15h1.2v1.15h-1.2zM440.21 235.15h1.2v1.15h-1.2zM442.02 235.15h1.2v1.15h-1.2zM446.96 235.15h1.2v1.15h-1.2zM448.16 235.15h1.2v1.15h-1.2zM449.46 235.15h1.2v1.15h-1.2zM455.36 235.15h1.2v1.15h-1.2zM458.43 235.15h1.2v1.15h-1.2zM365.18 233.76h1.2v1.15h-1.2zM365.94 233.76h1.2v1.15h-1.2zM370.03 233.76h1.2v1.15h-1.2zM371.37 233.76h1.2v1.15h-1.2zM373.1 233.76h1.2v1.15h-1.2zM380.8 233.76h1.2v1.15h-1.2zM392.83 233.76h1.2v1.15h-1.2zM415.92 233.76h1.2v1.15h-1.2zM438.8 233.76h1.2v1.15h-1.2zM455.01 233.76h1.2v1.15h-1.2zM459.37 233.76h1.2v1.15h-1.2zM459.83 233.76h1.2v1.15h-1.2zM363.48 232.36h1.2v1.15h-1.2zM363.94 232.36h1.2v1.15h-1.2zM377.18 232.36h1.2v1.15h-1.2zM404.51 232.36h1.2v1.15h-1.2zM416.58 232.36h1.2v1.15h-1.2zM416.98 232.36h1.2v1.15h-1.2zM427.97 232.36h1.2v1.15h-1.2zM428.1 232.36h1.2v1.15h-1.2zM428.25 232.36h1.2v1.15h-1.2zM437.81 232.36h1.2v1.15h-1.2zM441.48 232.36h1.2v1.15h-1.2zM445.47 232.36h1.2v1.15h-1.2zM445.9 232.36h1.2v1.15h-1.2zM447.37 232.36h1.2v1.15h-1.2zM450.36 232.36h1.2v1.15h-1.2zM450.61 232.36h1.2v1.15h-1.2zM450.87 232.36h1.2v1.15h-1.2zM458.88 232.36h1.2v1.15h-1.2zM363.43 230.97h1.2v1.15h-1.2zM366.61 230.97h1.2v1.15h-1.2zM367.76 230.97h1.2v1.15h-1.2zM368.4 230.97h1.2v1.15h-1.2zM370.73 230.97h1.2v1.15h-1.2zM371.59 230.97h1.2v1.15h-1.2zM382.11 230.97h1.2v1.15h-1.2zM405.03 230.97h1.2v1.15h-1.2zM416.47 230.97h1.2v1.15h-1.2zM418.02 230.97h1.2v1.15h-1.2zM427.08 230.97h1.2v1.15h-1.2zM429.26 230.97h1.2v1.15h-1.2zM431.14 230.97h1.2v1.15h-1.2zM438.55 230.97h1.2v1.15h-1.2zM444.03 230.97h1.2v1.15h-1.2zM444.52 230.97h1.2v1.15h-1.2zM446.33 230.97h1.2v1.15h-1.2zM448.61 230.97h1.2v1.15h-1.2zM449.32 230.97h1.2v1.15h-1.2zM452.73 230.97h1.2v1.15h-1.2zM453.01 230.97h1.2v1.15h-1.2zM456.02 230.97h1.2v1.15h-1.2zM366.33 229.57h1.2v1.15h-1.2zM376.55 229.57h1.2v1.15h-1.2zM376.82 229.57h1.2v1.15h-1.2zM380.03 229.57h1.2v1.15h-1.2zM380.74 229.57h1.2v1.15h-1.2zM385.85 229.57h1.2v1.15h-1.2zM408.14 229.57h1.2v1.15h-1.2zM414.22 229.57h1.2v1.15h-1.2zM415.17 229.57h1.2v1.15h-1.2zM416.66 229.57h1.2v1.15h-1.2zM425.35 229.57h1.2v1.15h-1.2zM426.78 229.57h1.2v1.15h-1.2zM427.26 229.57h1.2v1.15h-1.2zM427.7 229.57h1.2v1.15h-1.2zM428.21 229.57h1.2v1.15h-1.2zM429.25 229.57h1.2v1.15h-1.2zM432.17 229.57h1.2v1.15h-1.2zM438.05 229.57h1.2v1.15h-1.2zM440.13 229.57h1.2v1.15h-1.2zM447.88 229.57h1.2v1.15h-1.2zM450.64 229.57h1.2v1.15h-1.2zM451.19 229.57h1.2v1.15h-1.2zM453.75 229.57h1.2v1.15h-1.2zM454.49 229.57h1.2v1.15h-1.2zM460.28 229.57h1.2v1.15h-1.2zM364.95 228.18h1.2v1.15h-1.2zM370.41 228.18h1.2v1.15h-1.2zM373.6 228.18h1.2v1.15h-1.2zM376.36 228.18h1.2v1.15h-1.2zM377.32 228.18h1.2v1.15h-1.2zM381.37 228.18h1.2v1.15h-1.2zM384.9 228.18h1.2v1.15h-1.2zM392.42 228.18h1.2v1.15h-1.2zM402.85 228.18h1.2v1.15h-1.2zM416.6 228.18h1.2v1.15h-1.2zM421.35 228.18h1.2v1.15h-1.2zM428.29 228.18h1.2v1.15h-1.2zM428.44 228.18h1.2v1.15h-1.2zM429.92 228.18h1.2v1.15h-1.2zM439.07 228.18h1.2v1.15h-1.2zM446.95 228.18h1.2v1.15h-1.2zM447.05 228.18h1.2v1.15h-1.2zM449.82 228.18h1.2v1.15h-1.2zM450.15 228.18h1.2v1.15h-1.2zM459.48 228.18h1.2v1.15h-1.2zM460.4 228.18h1.2v1.15h-1.2zM363.61 226.78h1.2v1.15h-1.2zM367.02 226.78h1.2v1.15h-1.2zM367.35 226.78h1.2v1.15h-1.2zM374.07 226.78h1.2v1.15h-1.2zM378.74 226.78h1.2v1.15h-1.2zM379.62 226.78h1.2v1.15h-1.2zM381 226.78h1.2v1.15h-1.2zM392.64 226.78h1.2v1.15h-1.2zM403.83 226.78h1.2v1.15h-1.2zM404.12 226.78h1.2v1.15h-1.2zM404.98 226.78h1.2v1.15h-1.2zM415.15 226.78h1.2v1.15h-1.2zM416.2 226.78h1.2v1.15h-1.2zM420.05 226.78h1.2v1.15h-1.2zM437.9 226.78h1.2v1.15h-1.2zM439.11 226.78h1.2v1.15h-1.2zM439.97 226.78h1.2v1.15h-1.2zM444.23 226.78h1.2v1.15h-1.2zM450.54 226.78h1.2v1.15h-1.2zM450.81 226.78h1.2v1.15h-1.2zM453.84 226.78h1.2v1.15h-1.2zM460.87 226.78h1.2v1.15h-1.2zM365.16 225.39h1.2v1.15h-1.2zM365.71 225.39h1.2v1.15h-1.2zM374.95 225.39h1.2v1.15h-1.2zM391.31 225.39h1.2v1.15h-1.2zM414.16 225.39h1.2v1.15h-1.2zM415.37 225.39h1.2v1.15h-1.2zM416.5 225.39h1.2v1.15h-1.2zM418.42 225.39h1.2v1.15h-1.2zM441.56 225.39h1.2v1.15h-1.2zM448.18 225.39h1.2v1.15h-1.2zM449.6 225.39h1.2v1.15h-1.2zM452.99 225.39h1.2v1.15h-1.2zM459.1 225.39h1.2v1.15h-1.2zM366.22 223.99h1.2v1.15h-1.2zM367.13 223.99h1.2v1.15h-1.2zM373.59 223.99h1.2v1.15h-1.2zM377.04 223.99h1.2v1.15h-1.2zM392.55 223.99h1.2v1.15h-1.2zM401.98 223.99h1.2v1.15h-1.2zM405.59 223.99h1.2v1.15h-1.2zM413.99 223.99h1.2v1.15h-1.2zM427.84 223.99h1.2v1.15h-1.2zM428.3 223.99h1.2v1.15h-1.2zM428.62 223.99h1.2v1.15h-1.2zM438.71 223.99h1.2v1.15h-1.2zM443.18 223.99h1.2v1.15h-1.2zM445.63 223.99h1.2v1.15h-1.2zM448.5 223.99h1.2v1.15h-1.2zM451.88 223.99h1.2v1.15h-1.2zM456.6 223.99h1.2v1.15h-1.2zM458.73 223.99h1.2v1.15h-1.2zM458.84 223.99h1.2v1.15h-1.2zM460.04 223.99h1.2v1.15h-1.2zM460.8 223.99h1.2v1.15h-1.2zM365.9 222.6h1.2v1.15h-1.2zM366.09 222.6h1.2v1.15h-1.2zM367.37 222.6h1.2v1.15h-1.2zM370.81 222.6h1.2v1.15h-1.2zM374.15 222.6h1.2v1.15h-1.2zM376 222.6h1.2v1.15h-1.2zM376.3 222.6h1.2v1.15h-1.2zM377.18 222.6h1.2v1.15h-1.2zM380.71 222.6h1.2v1.15h-1.2zM381.88 222.6h1.2v1.15h-1.2zM388.96 222.6h1.2v1.15h-1.2zM392.5 222.6h1.2v1.15h-1.2zM392.86 222.6h1.2v1.15h-1.2zM403.92 222.6h1.2v1.15h-1.2zM404.26 222.6h1.2v1.15h-1.2zM405.64 222.6h1.2v1.15h-1.2zM415.96 222.6h1.2v1.15h-1.2zM416.33 222.6h1.2v1.15h-1.2zM427.68 222.6h1.2v1.15h-1.2zM427.78 222.6h1.2v1.15h-1.2zM428.87 222.6h1.2v1.15h-1.2zM439.73 222.6h1.2v1.15h-1.2zM445.51 222.6h1.2v1.15h-1.2zM449.45 222.6h1.2v1.15h-1.2zM449.79 222.6h1.2v1.15h-1.2zM456.4 222.6h1.2v1.15h-1.2zM457.18 222.6h1.2v1.15h-1.2zM363.06 221.2h1.2v1.15h-1.2zM368.88 221.2h1.2v1.15h-1.2zM373.97 221.2h1.2v1.15h-1.2zM374.33 221.2h1.2v1.15h-1.2zM376.32 221.2h1.2v1.15h-1.2zM380.32 221.2h1.2v1.15h-1.2zM386.99 221.2h1.2v1.15h-1.2zM392.84 221.2h1.2v1.15h-1.2zM393.16 221.2h1.2v1.15h-1.2zM393.7 221.2h1.2v1.15h-1.2zM403.45 221.2h1.2v1.15h-1.2zM416.19 221.2h1.2v1.15h-1.2zM416.42 221.2h1.2v1.15h-1.2zM426.43 221.2h1.2v1.15h-1.2zM428.13 221.2h1.2v1.15h-1.2zM428.17 221.2h1.2v1.15h-1.2zM440.35 221.2h1.2v1.15h-1.2zM440.97 221.2h1.2v1.15h-1.2zM442.52 221.2h1.2v1.15h-1.2zM447.4 221.2h1.2v1.15h-1.2zM451.02 221.2h1.2v1.15h-1.2zM451.4 221.2h1.2v1.15h-1.2zM454.03 221.2h1.2v1.15h-1.2zM459.96 221.2h1.2v1.15h-1.2zM362.66 219.81h1.2v1.15h-1.2zM372.2 219.81h1.2v1.15h-1.2zM376.53 219.81h1.2v1.15h-1.2zM390.38 219.81h1.2v1.15h-1.2zM391.65 219.81h1.2v1.15h-1.2zM391.69 219.81h1.2v1.15h-1.2zM399.06 219.81h1.2v1.15h-1.2zM415.12 219.81h1.2v1.15h-1.2zM415.73 219.81h1.2v1.15h-1.2zM416.41 219.81h1.2v1.15h-1.2zM433.34 219.81h1.2v1.15h-1.2zM433.91 219.81h1.2v1.15h-1.2zM439.95 219.81h1.2v1.15h-1.2zM440.03 219.81h1.2v1.15h-1.2zM440.87 219.81h1.2v1.15h-1.2zM444.75 219.81h1.2v1.15h-1.2zM448.94 219.81h1.2v1.15h-1.2zM452.91 219.81h1.2v1.15h-1.2zM457.84 219.81h1.2v1.15h-1.2zM457.97 219.81h1.2v1.15h-1.2zM458.28 219.81h1.2v1.15h-1.2zM458.69 219.81h1.2v1.15h-1.2zM364.25 218.41h1.2v1.15h-1.2zM364.77 218.41h1.2v1.15h-1.2zM365.23 218.41h1.2v1.15h-1.2zM367.97 218.41h1.2v1.15h-1.2zM368.34 218.41h1.2v1.15h-1.2zM369.35 218.41h1.2v1.15h-1.2zM369.82 218.41h1.2v1.15h-1.2zM376.59 218.41h1.2v1.15h-1.2zM378.13 218.41h1.2v1.15h-1.2zM379.36 218.41h1.2v1.15h-1.2zM393.47 218.41h1.2v1.15h-1.2zM403.33 218.41h1.2v1.15h-1.2zM404.89 218.41h1.2v1.15h-1.2zM418.67 218.41h1.2v1.15h-1.2zM438.17 218.41h1.2v1.15h-1.2zM439.19 218.41h1.2v1.15h-1.2zM439.77 218.41h1.2v1.15h-1.2zM442.07 218.41h1.2v1.15h-1.2zM442.24 218.41h1.2v1.15h-1.2zM443.7 218.41h1.2v1.15h-1.2zM445.34 218.41h1.2v1.15h-1.2zM447.73 218.41h1.2v1.15h-1.2zM448.91 218.41h1.2v1.15h-1.2zM448.97 218.41h1.2v1.15h-1.2zM449.79 218.41h1.2v1.15h-1.2zM453.67 218.41h1.2v1.15h-1.2zM453.94 218.41h1.2v1.15h-1.2zM457.61 218.41h1.2v1.15h-1.2zM460.15 218.41h1.2v1.15h-1.2zM460.28 218.41h1.2v1.15h-1.2zM364.11 217.02h1.2v1.15h-1.2zM365.61 217.02h1.2v1.15h-1.2zM371.74 217.02h1.2v1.15h-1.2zM371.92 217.02h1.2v1.15h-1.2zM374.03 217.02h1.2v1.15h-1.2zM381.04 217.02h1.2v1.15h-1.2zM385.3 217.02h1.2v1.15h-1.2zM391.37 217.02h1.2v1.15h-1.2zM392.49 217.02h1.2v1.15h-1.2zM403.77 217.02h1.2v1.15h-1.2zM404.97 217.02h1.2v1.15h-1.2zM428 217.02h1.2v1.15h-1.2zM434.69 217.02h1.2v1.15h-1.2zM439.09 217.02h1.2v1.15h-1.2zM441.41 217.02h1.2v1.15h-1.2zM445.58 217.02h1.2v1.15h-1.2zM448.51 217.02h1.2v1.15h-1.2zM455.52 217.02h1.2v1.15h-1.2zM457.88 217.02h1.2v1.15h-1.2zM458.2 217.02h1.2v1.15h-1.2zM458.97 217.02h1.2v1.15h-1.2zM459.3 217.02h1.2v1.15h-1.2zM460.32 217.02h1.2v1.15h-1.2zM363.17 215.62h1.2v1.15h-1.2zM363.35 215.62h1.2v1.15h-1.2zM364.08 215.62h1.2v1.15h-1.2zM368.21 215.62h1.2v1.15h-1.2zM369.36 215.62h1.2v1.15h-1.2zM370.94 215.62h1.2v1.15h-1.2zM372.83 215.62h1.2v1.15h-1.2zM376.99 215.62h1.2v1.15h-1.2zM377.07 215.62h1.2v1.15h-1.2zM378.11 215.62h1.2v1.15h-1.2zM379.75 215.62h1.2v1.15h-1.2zM393.44 215.62h1.2v1.15h-1.2zM393.98 215.62h1.2v1.15h-1.2zM414.77 215.62h1.2v1.15h-1.2zM417.89 215.62h1.2v1.15h-1.2zM426.47 215.62h1.2v1.15h-1.2zM428.28 215.62h1.2v1.15h-1.2zM442.87 215.62h1.2v1.15h-1.2zM445.14 215.62h1.2v1.15h-1.2zM446.6 215.62h1.2v1.15h-1.2zM447.65 215.62h1.2v1.15h-1.2zM448.05 215.62h1.2v1.15h-1.2zM448.22 215.62h1.2v1.15h-1.2zM451.19 215.62h1.2v1.15h-1.2zM452.67 215.62h1.2v1.15h-1.2zM455.76 215.62h1.2v1.15h-1.2zM455.83 215.62h1.2v1.15h-1.2zM460.08 215.62h1.2v1.15h-1.2zM366.94 214.23h1.2v1.15h-1.2zM368.17 214.23h1.2v1.15h-1.2zM370.83 214.23h1.2v1.15h-1.2zM374.98 214.23h1.2v1.15h-1.2zM380.07 214.23h1.2v1.15h-1.2zM381.75 214.23h1.2v1.15h-1.2zM381.83 214.23h1.2v1.15h-1.2zM394 214.23h1.2v1.15h-1.2zM403.04 214.23h1.2v1.15h-1.2zM403.09 214.23h1.2v1.15h-1.2zM404.15 214.23h1.2v1.15h-1.2zM417.42 214.23h1.2v1.15h-1.2zM430.89 214.23h1.2v1.15h-1.2zM442.11 214.23h1.2v1.15h-1.2zM445.31 214.23h1.2v1.15h-1.2zM445.98 214.23h1.2v1.15h-1.2zM447.6 214.23h1.2v1.15h-1.2zM451.28 214.23h1.2v1.15h-1.2zM453.06 214.23h1.2v1.15h-1.2zM455.92 214.23h1.2v1.15h-1.2zM457.28 214.23h1.2v1.15h-1.2zM457.65 214.23h1.2v1.15h-1.2zM458.5 214.23h1.2v1.15h-1.2zM362.4 212.83h1.2v1.15h-1.2zM362.78 212.83h1.2v1.15h-1.2zM363.95 212.83h1.2v1.15h-1.2zM365.92 212.83h1.2v1.15h-1.2zM366.14 212.83h1.2v1.15h-1.2zM367.4 212.83h1.2v1.15h-1.2zM385.97 212.83h1.2v1.15h-1.2zM404.31 212.83h1.2v1.15h-1.2zM404.49 212.83h1.2v1.15h-1.2zM404.97 212.83h1.2v1.15h-1.2zM425.35 212.83h1.2v1.15h-1.2zM426.38 212.83h1.2v1.15h-1.2zM427.45 212.83h1.2v1.15h-1.2zM428.61 212.83h1.2v1.15h-1.2zM439.42 212.83h1.2v1.15h-1.2zM445.08 212.83h1.2v1.15h-1.2zM447.61 212.83h1.2v1.15h-1.2zM450.98 212.83h1.2v1.15h-1.2zM364.17 211.44h1.2v1.15h-1.2zM364.84 211.44h1.2v1.15h-1.2zM368.42 211.44h1.2v1.15h-1.2zM376.45 211.44h1.2v1.15h-1.2zM378.13 211.44h1.2v1.15h-1.2zM378.5 211.44h1.2v1.15h-1.2zM378.77 211.44h1.2v1.15h-1.2zM381.35 211.44h1.2v1.15h-1.2zM391.61 211.44h1.2v1.15h-1.2zM401.6 211.44h1.2v1.15h-1.2zM402.83 211.44h1.2v1.15h-1.2zM404.35 211.44h1.2v1.15h-1.2zM404.73 211.44h1.2v1.15h-1.2zM415.47 211.44h1.2v1.15h-1.2zM416.96 211.44h1.2v1.15h-1.2zM427.55 211.44h1.2v1.15h-1.2zM439.46 211.44h1.2v1.15h-1.2zM441.69 211.44h1.2v1.15h-1.2zM443.37 211.44h1.2v1.15h-1.2zM444.77 211.44h1.2v1.15h-1.2zM450.51 211.44h1.2v1.15h-1.2zM453.52 211.44h1.2v1.15h-1.2zM453.75 211.44h1.2v1.15h-1.2zM454.53 211.44h1.2v1.15h-1.2zM458.7 211.44h1.2v1.15h-1.2zM459.66 211.44h1.2v1.15h-1.2zM363.87 210.04h1.2v1.15h-1.2zM366.64 210.04h1.2v1.15h-1.2zM367.7 210.04h1.2v1.15h-1.2zM371.81 210.04h1.2v1.15h-1.2zM376.12 210.04h1.2v1.15h-1.2zM391.7 210.04h1.2v1.15h-1.2zM392.23 210.04h1.2v1.15h-1.2zM403.04 210.04h1.2v1.15h-1.2zM404.05 210.04h1.2v1.15h-1.2zM404.46 210.04h1.2v1.15h-1.2zM404.56 210.04h1.2v1.15h-1.2zM405.48 210.04h1.2v1.15h-1.2zM410.82 210.04h1.2v1.15h-1.2zM414.69 210.04h1.2v1.15h-1.2zM415.77 210.04h1.2v1.15h-1.2zM422.88 210.04h1.2v1.15h-1.2zM428.31 210.04h1.2v1.15h-1.2zM438.45 210.04h1.2v1.15h-1.2zM443.09 210.04h1.2v1.15h-1.2zM444.12 210.04h1.2v1.15h-1.2zM451.01 210.04h1.2v1.15h-1.2zM451.97 210.04h1.2v1.15h-1.2zM363.24 208.65h1.2v1.15h-1.2zM366.16 208.65h1.2v1.15h-1.2zM367.23 208.65h1.2v1.15h-1.2zM367.34 208.65h1.2v1.15h-1.2zM371.81 208.65h1.2v1.15h-1.2zM375.66 208.65h1.2v1.15h-1.2zM376.39 208.65h1.2v1.15h-1.2zM378.64 208.65h1.2v1.15h-1.2zM379.28 208.65h1.2v1.15h-1.2zM380.34 208.65h1.2v1.15h-1.2zM387.04 208.65h1.2v1.15h-1.2zM390.45 208.65h1.2v1.15h-1.2zM391.15 208.65h1.2v1.15h-1.2zM392.42 208.65h1.2v1.15h-1.2zM403.8 208.65h1.2v1.15h-1.2zM404.85 208.65h1.2v1.15h-1.2zM416.35 208.65h1.2v1.15h-1.2zM418.17 208.65h1.2v1.15h-1.2zM425.86 208.65h1.2v1.15h-1.2zM427.03 208.65h1.2v1.15h-1.2zM441.29 208.65h1.2v1.15h-1.2zM455.81 208.65h1.2v1.15h-1.2zM365.68 207.25h1.2v1.15h-1.2zM372.99 207.25h1.2v1.15h-1.2zM373.68 207.25h1.2v1.15h-1.2zM374.74 207.25h1.2v1.15h-1.2zM375.74 207.25h1.2v1.15h-1.2zM376.5 207.25h1.2v1.15h-1.2zM378.78 207.25h1.2v1.15h-1.2zM404.56 207.25h1.2v1.15h-1.2zM405.8 207.25h1.2v1.15h-1.2zM417.77 207.25h1.2v1.15h-1.2zM427 207.25h1.2v1.15h-1.2zM427.45 207.25h1.2v1.15h-1.2zM434.23 207.25h1.2v1.15h-1.2zM441.55 207.25h1.2v1.15h-1.2zM453.55 207.25h1.2v1.15h-1.2zM454.65 207.25h1.2v1.15h-1.2zM456.17 207.25h1.2v1.15h-1.2zM363.44 205.86h1.2v1.15h-1.2zM366.89 205.86h1.2v1.15h-1.2zM366.95 205.86h1.2v1.15h-1.2zM369.39 205.86h1.2v1.15h-1.2zM369.62 205.86h1.2v1.15h-1.2zM370.04 205.86h1.2v1.15h-1.2zM375.36 205.86h1.2v1.15h-1.2zM379.74 205.86h1.2v1.15h-1.2zM380.48 205.86h1.2v1.15h-1.2zM391.46 205.86h1.2v1.15h-1.2zM391.69 205.86h1.2v1.15h-1.2zM391.82 205.86h1.2v1.15h-1.2zM392.62 205.86h1.2v1.15h-1.2zM392.83 205.86h1.2v1.15h-1.2zM393.16 205.86h1.2v1.15h-1.2zM399.71 205.86h1.2v1.15h-1.2zM405.32 205.86h1.2v1.15h-1.2zM415.36 205.86h1.2v1.15h-1.2zM416.32 205.86h1.2v1.15h-1.2zM417.79 205.86h1.2v1.15h-1.2zM426.33 205.86h1.2v1.15h-1.2zM426.74 205.86h1.2v1.15h-1.2zM428.49 205.86h1.2v1.15h-1.2zM430.23 205.86h1.2v1.15h-1.2zM438.57 205.86h1.2v1.15h-1.2zM440.35 205.86h1.2v1.15h-1.2zM444.03 205.86h1.2v1.15h-1.2zM446.04 205.86h1.2v1.15h-1.2zM447.63 205.86h1.2v1.15h-1.2zM447.68 205.86h1.2v1.15h-1.2zM447.95 205.86h1.2v1.15h-1.2zM455.49 205.86h1.2v1.15h-1.2zM363.6 204.46h1.2v1.15h-1.2zM364.52 204.46h1.2v1.15h-1.2zM367.01 204.46h1.2v1.15h-1.2zM369.12 204.46h1.2v1.15h-1.2zM378.01 204.46h1.2v1.15h-1.2zM379.2 204.46h1.2v1.15h-1.2zM397.67 204.46h1.2v1.15h-1.2zM403.48 204.46h1.2v1.15h-1.2zM403.8 204.46h1.2v1.15h-1.2zM412.91 204.46h1.2v1.15h-1.2zM429.18 204.46h1.2v1.15h-1.2zM436.93 204.46h1.2v1.15h-1.2zM439.41 204.46h1.2v1.15h-1.2zM439.54 204.46h1.2v1.15h-1.2zM446.57 204.46h1.2v1.15h-1.2zM447.38 204.46h1.2v1.15h-1.2zM454.69 204.46h1.2v1.15h-1.2zM366.11 203.07h1.2v1.15h-1.2zM369.14 203.07h1.2v1.15h-1.2zM373.91 203.07h1.2v1.15h-1.2zM380.14 203.07h1.2v1.15h-1.2zM381 203.07h1.2v1.15h-1.2zM391.29 203.07h1.2v1.15h-1.2zM402.81 203.07h1.2v1.15h-1.2zM403.66 203.07h1.2v1.15h-1.2zM432.53 203.07h1.2v1.15h-1.2zM437.71 203.07h1.2v1.15h-1.2zM439.75 203.07h1.2v1.15h-1.2zM441.19 203.07h1.2v1.15h-1.2zM445.24 203.07h1.2v1.15h-1.2zM447.31 203.07h1.2v1.15h-1.2zM447.6 203.07h1.2v1.15h-1.2zM363.89 201.67h1.2v1.15h-1.2zM368.02 201.67h1.2v1.15h-1.2zM369.14 201.67h1.2v1.15h-1.2zM369.65 201.67h1.2v1.15h-1.2zM370.07 201.67h1.2v1.15h-1.2zM371.65 201.67h1.2v1.15h-1.2zM371.86 201.67h1.2v1.15h-1.2zM372.65 201.67h1.2v1.15h-1.2zM375.04 201.67h1.2v1.15h-1.2zM377.91 201.67h1.2v1.15h-1.2zM377.97 201.67h1.2v1.15h-1.2zM379.95 201.67h1.2v1.15h-1.2zM380.93 201.67h1.2v1.15h-1.2zM391.67 201.67h1.2v1.15h-1.2zM395.11 201.67h1.2v1.15h-1.2zM404.31 201.67h1.2v1.15h-1.2zM416.33 201.67h1.2v1.15h-1.2zM418.65 201.67h1.2v1.15h-1.2zM426.88 201.67h1.2v1.15h-1.2zM441.2 201.67h1.2v1.15h-1.2zM443.66 201.67h1.2v1.15h-1.2zM445.92 201.67h1.2v1.15h-1.2zM446.92 201.67h1.2v1.15h-1.2zM447.12 201.67h1.2v1.15h-1.2zM448.96 201.67h1.2v1.15h-1.2zM449.89 201.67h1.2v1.15h-1.2zM451.15 201.67h1.2v1.15h-1.2zM453.06 201.67h1.2v1.15h-1.2zM458.16 201.67h1.2v1.15h-1.2zM458.95 201.67h1.2v1.15h-1.2zM366.75 200.28h1.2v1.15h-1.2zM369.1 200.28h1.2v1.15h-1.2zM375.74 200.28h1.2v1.15h-1.2zM377.55 200.28h1.2v1.15h-1.2zM378.15 200.28h1.2v1.15h-1.2zM378.37 200.28h1.2v1.15h-1.2zM378.73 200.28h1.2v1.15h-1.2zM381.95 200.28h1.2v1.15h-1.2zM391.7 200.28h1.2v1.15h-1.2zM392.61 200.28h1.2v1.15h-1.2zM399.55 200.28h1.2v1.15h-1.2zM403.47 200.28h1.2v1.15h-1.2zM440.23 200.28h1.2v1.15h-1.2zM440.95 200.28h1.2v1.15h-1.2zM441.81 200.28h1.2v1.15h-1.2zM444.41 200.28h1.2v1.15h-1.2zM446.03 200.28h1.2v1.15h-1.2zM446.89 200.28h1.2v1.15h-1.2zM448.8 200.28h1.2v1.15h-1.2zM451.48 200.28h1.2v1.15h-1.2zM455.81 200.28h1.2v1.15h-1.2zM456.27 200.28h1.2v1.15h-1.2zM457.77 200.28h1.2v1.15h-1.2zM458.38 200.28h1.2v1.15h-1.2zM460.37 200.28h1.2v1.15h-1.2zM364.31 198.88h1.2v1.15h-1.2zM370.37 198.88h1.2v1.15h-1.2zM370.44 198.88h1.2v1.15h-1.2zM374.46 198.88h1.2v1.15h-1.2zM403.57 198.88h1.2v1.15h-1.2zM415.32 198.88h1.2v1.15h-1.2zM430.01 198.88h1.2v1.15h-1.2zM438.83 198.88h1.2v1.15h-1.2zM441.28 198.88h1.2v1.15h-1.2zM443.13 198.88h1.2v1.15h-1.2zM443.92 198.88h1.2v1.15h-1.2zM446.88 198.88h1.2v1.15h-1.2zM449.28 198.88h1.2v1.15h-1.2zM451.14 198.88h1.2v1.15h-1.2zM451.45 198.88h1.2v1.15h-1.2zM454.66 198.88h1.2v1.15h-1.2zM456.3 198.88h1.2v1.15h-1.2zM456.8 198.88h1.2v1.15h-1.2zM458.65 198.88h1.2v1.15h-1.2zM365.33 197.49h1.2v1.15h-1.2zM367.23 197.49h1.2v1.15h-1.2zM372.18 197.49h1.2v1.15h-1.2zM375.05 197.49h1.2v1.15h-1.2zM375.44 197.49h1.2v1.15h-1.2zM379.45 197.49h1.2v1.15h-1.2zM379.5 197.49h1.2v1.15h-1.2zM379.79 197.49h1.2v1.15h-1.2zM380.52 197.49h1.2v1.15h-1.2zM392.18 197.49h1.2v1.15h-1.2zM392.77 197.49h1.2v1.15h-1.2zM394.18 197.49h1.2v1.15h-1.2zM403.5 197.49h1.2v1.15h-1.2zM404.66 197.49h1.2v1.15h-1.2zM416.41 197.49h1.2v1.15h-1.2zM416.58 197.49h1.2v1.15h-1.2zM437.13 197.49h1.2v1.15h-1.2zM438.03 197.49h1.2v1.15h-1.2zM439.21 197.49h1.2v1.15h-1.2zM440.34 197.49h1.2v1.15h-1.2zM442.13 197.49h1.2v1.15h-1.2zM443 197.49h1.2v1.15h-1.2zM444.5 197.49h1.2v1.15h-1.2zM449.17 197.49h1.2v1.15h-1.2zM450.71 197.49h1.2v1.15h-1.2zM455.61 197.49h1.2v1.15h-1.2zM460.06 197.49h1.2v1.15h-1.2zM362.33 196.09h1.2v1.15h-1.2zM367.94 196.09h1.2v1.15h-1.2zM368.24 196.09h1.2v1.15h-1.2zM370.43 196.09h1.2v1.15h-1.2zM371.98 196.09h1.2v1.15h-1.2zM373.4 196.09h1.2v1.15h-1.2zM374.78 196.09h1.2v1.15h-1.2zM376.81 196.09h1.2v1.15h-1.2zM379.33 196.09h1.2v1.15h-1.2zM379.82 196.09h1.2v1.15h-1.2zM381.91 196.09h1.2v1.15h-1.2zM382.04 196.09h1.2v1.15h-1.2zM386.24 196.09h1.2v1.15h-1.2zM404.5 196.09h1.2v1.15h-1.2zM404.57 196.09h1.2v1.15h-1.2zM414.82 196.09h1.2v1.15h-1.2zM416.19 196.09h1.2v1.15h-1.2zM416.37 196.09h1.2v1.15h-1.2zM416.77 196.09h1.2v1.15h-1.2zM427.6 196.09h1.2v1.15h-1.2zM442.08 196.09h1.2v1.15h-1.2zM443.56 196.09h1.2v1.15h-1.2zM444.79 196.09h1.2v1.15h-1.2zM447.86 196.09h1.2v1.15h-1.2zM452.06 196.09h1.2v1.15h-1.2zM456.25 196.09h1.2v1.15h-1.2zM459.07 196.09h1.2v1.15h-1.2zM371.41 194.7h1.2v1.15h-1.2zM374.33 194.7h1.2v1.15h-1.2zM376.86 194.7h1.2v1.15h-1.2zM404.43 194.7h1.2v1.15h-1.2zM416.66 194.7h1.2v1.15h-1.2zM428.3 194.7h1.2v1.15h-1.2zM429.11 194.7h1.2v1.15h-1.2zM439.05 194.7h1.2v1.15h-1.2zM443.64 194.7h1.2v1.15h-1.2zM445.31 194.7h1.2v1.15h-1.2zM448.65 194.7h1.2v1.15h-1.2zM455.04 194.7h1.2v1.15h-1.2zM455.41 194.7h1.2v1.15h-1.2zM460.12 194.7h1.2v1.15h-1.2zM460.51 194.7h1.2v1.15h-1.2zM362.86 193.3h1.2v1.15h-1.2zM368.45 193.3h1.2v1.15h-1.2zM370.15 193.3h1.2v1.15h-1.2zM377.69 193.3h1.2v1.15h-1.2zM378.13 193.3h1.2v1.15h-1.2zM379.01 193.3h1.2v1.15h-1.2zM391.15 193.3h1.2v1.15h-1.2zM401.32 193.3h1.2v1.15h-1.2zM403.32 193.3h1.2v1.15h-1.2zM405.34 193.3h1.2v1.15h-1.2zM414.6 193.3h1.2v1.15h-1.2zM427.21 193.3h1.2v1.15h-1.2zM427.97 193.3h1.2v1.15h-1.2zM429.63 193.3h1.2v1.15h-1.2zM438.02 193.3h1.2v1.15h-1.2zM438.82 193.3h1.2v1.15h-1.2zM444.66 193.3h1.2v1.15h-1.2zM445.98 193.3h1.2v1.15h-1.2zM448.03 193.3h1.2v1.15h-1.2zM449.31 193.3h1.2v1.15h-1.2zM453.05 193.3h1.2v1.15h-1.2zM455.54 193.3h1.2v1.15h-1.2zM458.2 193.3h1.2v1.15h-1.2zM363.47 191.91h1.2v1.15h-1.2zM365.1 191.91h1.2v1.15h-1.2zM366.46 191.91h1.2v1.15h-1.2zM367.8 191.91h1.2v1.15h-1.2zM368.42 191.91h1.2v1.15h-1.2zM368.79 191.91h1.2v1.15h-1.2zM368.99 191.91h1.2v1.15h-1.2zM369.11 191.91h1.2v1.15h-1.2zM369.31 191.91h1.2v1.15h-1.2zM373.79 191.91h1.2v1.15h-1.2zM377.57 191.91h1.2v1.15h-1.2zM385.36 191.91h1.2v1.15h-1.2zM403.34 191.91h1.2v1.15h-1.2zM415.6 191.91h1.2v1.15h-1.2zM416.14 191.91h1.2v1.15h-1.2zM436.9 191.91h1.2v1.15h-1.2zM437.26 191.91h1.2v1.15h-1.2zM443.44 191.91h1.2v1.15h-1.2zM446.59 191.91h1.2v1.15h-1.2zM447.09 191.91h1.2v1.15h-1.2zM447.93 191.91h1.2v1.15h-1.2zM453.41 191.91h1.2v1.15h-1.2zM455.67 191.91h1.2v1.15h-1.2zM460.26 191.91h1.2v1.15h-1.2zM367.69 190.51h1.2v1.15h-1.2zM368.06 190.51h1.2v1.15h-1.2zM369.01 190.51h1.2v1.15h-1.2zM369.82 190.51h1.2v1.15h-1.2zM374.13 190.51h1.2v1.15h-1.2zM375.15 190.51h1.2v1.15h-1.2zM377.71 190.51h1.2v1.15h-1.2zM392.6 190.51h1.2v1.15h-1.2zM393.22 190.51h1.2v1.15h-1.2zM404.38 190.51h1.2v1.15h-1.2zM421.47 190.51h1.2v1.15h-1.2zM439.63 190.51h1.2v1.15h-1.2zM441.48 190.51h1.2v1.15h-1.2zM441.86 190.51h1.2v1.15h-1.2zM445.11 190.51h1.2v1.15h-1.2zM446.9 190.51h1.2v1.15h-1.2zM447.02 190.51h1.2v1.15h-1.2zM448.79 190.51h1.2v1.15h-1.2zM451.58 190.51h1.2v1.15h-1.2zM456.45 190.51h1.2v1.15h-1.2zM458.53 190.51h1.2v1.15h-1.2zM364.92 189.12h1.2v1.15h-1.2zM365.29 189.12h1.2v1.15h-1.2zM369.25 189.12h1.2v1.15h-1.2zM369.81 189.12h1.2v1.15h-1.2zM370.89 189.12h1.2v1.15h-1.2zM371.01 189.12h1.2v1.15h-1.2zM371.26 189.12h1.2v1.15h-1.2zM374.44 189.12h1.2v1.15h-1.2zM377.32 189.12h1.2v1.15h-1.2zM380.26 189.12h1.2v1.15h-1.2zM405.15 189.12h1.2v1.15h-1.2zM415.91 189.12h1.2v1.15h-1.2zM441.76 189.12h1.2v1.15h-1.2zM444.92 189.12h1.2v1.15h-1.2zM447.51 189.12h1.2v1.15h-1.2zM447.95 189.12h1.2v1.15h-1.2zM448.56 189.12h1.2v1.15h-1.2zM449.41 189.12h1.2v1.15h-1.2zM451.23 189.12h1.2v1.15h-1.2zM452.68 189.12h1.2v1.15h-1.2zM457.66 189.12h1.2v1.15h-1.2zM370.67 187.72h1.2v1.15h-1.2zM377.71 187.72h1.2v1.15h-1.2zM392.74 187.72h1.2v1.15h-1.2zM393.23 187.72h1.2v1.15h-1.2zM402.98 187.72h1.2v1.15h-1.2zM403.79 187.72h1.2v1.15h-1.2zM404.49 187.72h1.2v1.15h-1.2zM405.13 187.72h1.2v1.15h-1.2zM417.51 187.72h1.2v1.15h-1.2zM427.04 187.72h1.2v1.15h-1.2zM427.75 187.72h1.2v1.15h-1.2zM428.19 187.72h1.2v1.15h-1.2zM428.79 187.72h1.2v1.15h-1.2zM440.51 187.72h1.2v1.15h-1.2zM443.76 187.72h1.2v1.15h-1.2zM443.9 187.72h1.2v1.15h-1.2zM445.86 187.72h1.2v1.15h-1.2zM448.64 187.72h1.2v1.15h-1.2zM450.2 187.72h1.2v1.15h-1.2zM456.89 187.72h1.2v1.15h-1.2zM459.64 187.72h1.2v1.15h-1.2zM460.28 187.72h1.2v1.15h-1.2zM366.83 186.33h1.2v1.15h-1.2zM372.68 186.33h1.2v1.15h-1.2zM376.32 186.33h1.2v1.15h-1.2zM377.2 186.33h1.2v1.15h-1.2zM379.77 186.33h1.2v1.15h-1.2zM382.02 186.33h1.2v1.15h-1.2zM382.37 186.33h1.2v1.15h-1.2zM394.07 186.33h1.2v1.15h-1.2zM404.39 186.33h1.2v1.15h-1.2zM416.18 186.33h1.2v1.15h-1.2zM418.21 186.33h1.2v1.15h-1.2zM426.76 186.33h1.2v1.15h-1.2zM427.34 186.33h1.2v1.15h-1.2zM427.81 186.33h1.2v1.15h-1.2zM427.92 186.33h1.2v1.15h-1.2zM430.35 186.33h1.2v1.15h-1.2zM439.92 186.33h1.2v1.15h-1.2zM442.49 186.33h1.2v1.15h-1.2zM444.82 186.33h1.2v1.15h-1.2zM445.84 186.33h1.2v1.15h-1.2zM446.74 186.33h1.2v1.15h-1.2zM449.87 186.33h1.2v1.15h-1.2zM453.23 186.33h1.2v1.15h-1.2zM457.41 186.33h1.2v1.15h-1.2zM459.37 186.33h1.2v1.15h-1.2zM363.31 184.93h1.2v1.15h-1.2zM363.83 184.93h1.2v1.15h-1.2zM366.31 184.93h1.2v1.15h-1.2zM366.75 184.93h1.2v1.15h-1.2zM371.57 184.93h1.2v1.15h-1.2zM372.03 184.93h1.2v1.15h-1.2zM374.68 184.93h1.2v1.15h-1.2zM376.21 184.93h1.2v1.15h-1.2zM378.16 184.93h1.2v1.15h-1.2zM379.62 184.93h1.2v1.15h-1.2zM381.03 184.93h1.2v1.15h-1.2zM381.55 184.93h1.2v1.15h-1.2zM385.43 184.93h1.2v1.15h-1.2zM389.7 184.93h1.2v1.15h-1.2zM391.91 184.93h1.2v1.15h-1.2zM393.29 184.93h1.2v1.15h-1.2zM402.9 184.93h1.2v1.15h-1.2zM412.07 184.93h1.2v1.15h-1.2zM427.16 184.93h1.2v1.15h-1.2zM439.99 184.93h1.2v1.15h-1.2zM440.83 184.93h1.2v1.15h-1.2zM448.21 184.93h1.2v1.15h-1.2zM453.55 184.93h1.2v1.15h-1.2zM454.36 184.93h1.2v1.15h-1.2zM455.19 184.93h1.2v1.15h-1.2zM455.41 184.93h1.2v1.15h-1.2zM459.64 184.93h1.2v1.15h-1.2zM460.65 184.93h1.2v1.15h-1.2zM362.59 183.54h1.2v1.15h-1.2zM365.29 183.54h1.2v1.15h-1.2zM365.3 183.54h1.2v1.15h-1.2zM366.93 183.54h1.2v1.15h-1.2zM370.56 183.54h1.2v1.15h-1.2zM372.86 183.54h1.2v1.15h-1.2zM373.19 183.54h1.2v1.15h-1.2zM373.73 183.54h1.2v1.15h-1.2zM374.23 183.54h1.2v1.15h-1.2zM438.52 183.54h1.2v1.15h-1.2zM441.25 183.54h1.2v1.15h-1.2zM448.13 183.54h1.2v1.15h-1.2zM448.49 183.54h1.2v1.15h-1.2zM451.73 183.54h1.2v1.15h-1.2zM453.9 183.54h1.2v1.15h-1.2zM454.92 183.54h1.2v1.15h-1.2zM456.32 183.54h1.2v1.15h-1.2zM457.16 183.54h1.2v1.15h-1.2zM364.16 182.14h1.2v1.15h-1.2zM365.39 182.14h1.2v1.15h-1.2zM369.83 182.14h1.2v1.15h-1.2zM372.07 182.14h1.2v1.15h-1.2zM374.52 182.14h1.2v1.15h-1.2zM402.66 182.14h1.2v1.15h-1.2zM403.77 182.14h1.2v1.15h-1.2zM415.69 182.14h1.2v1.15h-1.2zM417.28 182.14h1.2v1.15h-1.2zM426.92 182.14h1.2v1.15h-1.2zM428.4 182.14h1.2v1.15h-1.2zM428.92 182.14h1.2v1.15h-1.2zM439.92 182.14h1.2v1.15h-1.2zM448.65 182.14h1.2v1.15h-1.2zM448.79 182.14h1.2v1.15h-1.2zM449.39 182.14h1.2v1.15h-1.2zM449.93 182.14h1.2v1.15h-1.2zM451.89 182.14h1.2v1.15h-1.2zM456.84 182.14h1.2v1.15h-1.2zM457.08 182.14h1.2v1.15h-1.2zM457.48 182.14h1.2v1.15h-1.2zM458.18 182.14h1.2v1.15h-1.2zM460.74 182.14h1.2v1.15h-1.2zM364.74 180.75h1.2v1.15h-1.2zM367.26 180.75h1.2v1.15h-1.2zM368.28 180.75h1.2v1.15h-1.2zM369.66 180.75h1.2v1.15h-1.2zM375.62 180.75h1.2v1.15h-1.2zM379.09 180.75h1.2v1.15h-1.2zM380.57 180.75h1.2v1.15h-1.2zM380.74 180.75h1.2v1.15h-1.2zM392.73 180.75h1.2v1.15h-1.2zM405.24 180.75h1.2v1.15h-1.2zM426.93 180.75h1.2v1.15h-1.2zM427.86 180.75h1.2v1.15h-1.2zM428.45 180.75h1.2v1.15h-1.2zM429.08 180.75h1.2v1.15h-1.2zM437.94 180.75h1.2v1.15h-1.2zM441.23 180.75h1.2v1.15h-1.2zM446.47 180.75h1.2v1.15h-1.2zM453.68 180.75h1.2v1.15h-1.2zM454.72 180.75h1.2v1.15h-1.2zM454.97 180.75h1.2v1.15h-1.2zM455.14 180.75h1.2v1.15h-1.2zM456.72 180.75h1.2v1.15h-1.2zM457.45 180.75h1.2v1.15h-1.2zM459.42 180.75h1.2v1.15h-1.2z" fill="#333"/>
<path d="M362.8 280.4h1.27v-3.4h-1.27zM364.39 280.4h1.27v-3.4h-1.27zM365.98 280.4h1.27v-3.4h-1.27zM367.58 280.4h1.27v-3.4h-1.27zM369.17 280.4h1.27v-3.4h-1.27zM370.76 280.4h1.27v-3.4h-1.27zM372.35 280.4h1.27v-3.4h-1.27zM373.94 280.4h1.27v-3.4h-1.27zM375.53 280.4h1.27v-3.4h-1.27zM377.13 280.4h1.27v-3.4h-1.27zM378.72 280.4h1.27v-3.4h-1.27zM380.31 280.4h1.27v-3.4h-1.27zM381.9 280.4h1.27v-3.4h-1.27zM388.27 280.4h1.27v-3.4h-1.27zM389.86 280.4h1.27v-3.4h-1.27zM391.45 280.4h1.27v-3.4h-1.27zM393.04 280.4h1.27v-3.4h-1.27zM394.63 280.4h1.27v-3.4h-1.27zM396.23 280.4h1.27v-3.4h-1.27zM401 280.4h1.27v-3.4h-1.27zM402.59 280.4h1.27v-3.4h-1.27zM404.18 280.4h1.27v-3.4h-1.27zM407.37 280.4h1.27v-3.4h-1.27zM415.33 280.4h1.27v-3.4h-1.27zM416.92 280.4h1.27v-3.4h-1.27zM423.28 280.4h1.27v-3.4h-1.27zM424.88 280.4h1.27v-3.4h-1.27zM426.47 280.4h1.27v-3.4h-1.27zM428.06 280.4h1.27v-3.4h-1.27zM429.65 280.4h1.27v-3.4h-1.27zM432.83 280.4h1.27v-3.4h-1.27zM437.61 280.4h1.27v-3.4h-1.27zM439.2 280.4h1.27v-3.4h-1.27zM440.79 280.4h1.27v-3.4h-1.27zM442.38 280.4h1.27v-3.4h-1.27zM443.98 280.4h1.27v-3.4h-1.27zM445.57 280.4h1.27v-3.4h-1.27zM447.16 280.4h1.27v-3.4h-1.27zM448.75 280.4h1.27v-3.4h-1.27zM450.34 280.4h1.27v-3.4h-1.27zM451.93 280.4h1.27v-3.4h-1.27zM453.53 280.4h1.27v-3.4h-1.27zM455.12 280.4h1.27v-3.4h-1.27zM456.71 280.4h1.27v-3.4h-1.27zM458.3 280.4h1.27v-3.4h-1.27zM459.89 280.4h1.27v-3.4h-1.27z" fill="#000" opacity="0.3"/>
<path d="M362.8 280.4h1.27v-6.8h-1.27zM364.39 280.4h1.27v-6.8h-1.27zM365.98 280.4h1.27v-6.8h-1.27zM367.58 280.4h1.27v-6.8h-1.27zM369.17 280.4h1.27v-6.8h-1.27zM370.76 280.4h1.27v-6.8h-1.27zM372.35 280.4h1.27v-6.8h-1.27zM373.94 280.4h1.27v-6.8h-1.27zM375.53 280.4h1.27v-6.8h-1.27zM377.13 280.4h1.27v-6.8h-1.27zM378.72 280.4h1.27v-6.8h-1.27zM380.31 280.4h1.27v-6.8h-1.27zM381.9 280.4h1.27v-6.8h-1.27zM391.45 280.4h1.27v-6.8h-1.27zM393.04 280.4h1.27v-6.8h-1.27zM404.18 280.4h1.27v-6.8h-1.27zM415.33 280.4h1.27v-6.8h-1.27zM416.92 280.4h1.27v-6.8h-1.27zM428.06 280.4h1.27v-6.8h-1.27zM437.61 280.4h1.27v-6.8h-1.27zM439.2 280.4h1.27v-6.8h-1.27zM440.79 280.4h1.27v-6.8h-1.27zM442.38 280.4h1.27v-6.8h-1.27zM443.98 280.4h1.27v-6.8h-1.27zM445.57 280.4h1.27v-6.8h-1.27zM447.16 280.4h1.27v-6.8h-1.27zM448.75 280.4h1.27v-6.8h-1.27zM450.34 280.4h1.27v-6.8h-1.27zM451.93 280.4h1.27v-6.8h-1.27zM453.53 280.4h1.27v-6.8h-1.27zM455.12 280.4h1.27v-6.8h-1.27zM456.71 280.4h1.27v-6.8h-1.27zM458.3 280.4h1.27v-6.8h-1.27zM459.89 280.4h1.27v-6.8h-1.27z" fill="#000" opacity="0.3"/>
<path d="M362.8 280.4h1.27v-10.2h-1.27zM364.39 280.4h1.27v-10.2h-1.27zM365.98 280.4h1.27v-10.2h-1.27zM367.58 280.4h1.27v-10.2h-1.27zM369.17 280.4h1.27v-10.2h-1.27zM370.76 280.4h1.27v-10.2h-1.27zM372.35 280.4h1.27v-10.2h-1.27zM373.94 280.4h1.27v-10.2h-1.27zM375.53 280.4h1.27v-10.2h-1.27zM377.13 280.4h1.27v-10.2h-1.27zM378.72 280.4h1.27v-10.2h-1.27zM380.31 280.4h1.27v-10.2h-1.27zM381.9 280.4h1.27v-10.2h-1.27zM391.45 280.4h1.27v-10.2h-1.27zM404.18 280.4h1.27v-10.2h-1.27zM415.33 280.4h1.27v-10.2h-1.27zM416.92 280.4h1.27v-10.2h-1.27zM428.06 280.4h1.27v-10.2h-1.27zM437.61 280.4h1.27v-10.2h-1.27zM439.2 280.4h1.27v-10.2h-1.27zM440.79 280.4h1.27v-10.2h-1.27zM442.38 280.4h1.27v-10.2h-1.27zM443.98 280.4h1.27v-10.2h-1.27zM445.57 280.4h1.27v-10.2h-1.27zM447.16 280.4h1.27v-10.2h-1.27zM448.75 280.4h1.27v-10.2h-1.27zM450.34 280.4h1.27v-10.2h-1.27zM451.93 280.4h1.27v-10.2h-1.27zM453.53 280.4h1.27v-10.2h-1.27zM455.12 280.4h1.27v-10.2h-1.27zM456.71 280.4h1.27v-10.2h-1.27zM458.3 280.4h1.27v-10.2h-1.27zM459.89 280.4h1.27v-10.2h-1.27z" fill="#000" opacity="0.09"/>
<path d="M362.8 280.4h1.27v-13.6h-1.27zM365.98 280.4h1.27v-13.6h-1.27zM367.58 280.4h1.27v-13.6h-1.27zM369.17 280.4h1.27v-13.6h-1.27zM373.94 280.4h1.27v-13.6h-1.27zM377.13 280.4h1.27v-13.6h-1.27zM380.31 280.4h1.27v-13.6h-1.27zM381.9 280.4h1.27v-13.6h-1.27zM404.18 280.4h1.27v-13.6h-1.27zM428.06 280.4h1.27v-13.6h-1.27zM439.2 280.4h1.27v-13.6h-1.27zM448.75 280.4h1.27v-13.6h-1.27zM450.34 280.4h1.27v-13.6h-1.27zM453.53 280.4h1.27v-13.6h-1.27zM455.12 280.4h1.27v-13.6h-1.27zM456.71 280.4h1.27v-13.6h-1.27zM459.89 280.4h1.27v-13.6h-1.27z" fill="#000" opacity="0.09"/>
<path d="M365.98 280.4h1.27v-17h-1.27zM428.06 280.4h1.27v-17h-1.27zM439.2 280.4h1.27v-17h-1.27zM456.71 280.4h1.27v-17h-1.27z" fill="#000" opacity="0.09"/>
<path d="M439.2 280.4h1.27v-20.4h-1.27z" fill="#000" opacity="0.09"/>
<line x1="362.8" y1="180" x2="362.8" y2="250.9" stroke="#5a5a5a" stroke-width="1.1"/>
<line x1="362.8" y1="252.3" x2="362.8" y2="280.9" stroke="#5a5a5a" stroke-width="1.1"/>
<line x1="362.3" y1="250.4" x2="461.6" y2="250.4" stroke="#5a5a5a" stroke-width="1.2"/>
<line x1="362.3" y1="280.4" x2="461.6" y2="280.4" stroke="#5a5a5a" stroke-width="1.2"/>
<line x1="362.8" y1="280.4" x2="362.8" y2="282" stroke="#5a5a5a" stroke-width="0.8"/>
<line x1="362.8" y1="250.4" x2="362.8" y2="251.8" stroke="#5a5a5a" stroke-width="0.7"/>
<line x1="382.15" y1="280.4" x2="382.15" y2="282" stroke="#5a5a5a" stroke-width="0.8"/>
<line x1="382.15" y1="250.4" x2="382.15" y2="251.8" stroke="#5a5a5a" stroke-width="0.7"/>
<line x1="401.5" y1="280.4" x2="401.5" y2="282" stroke="#5a5a5a" stroke-width="0.8"/>
<line x1="401.5" y1="250.4" x2="401.5" y2="251.8" stroke="#5a5a5a" stroke-width="0.7"/>
<line x1="420.85" y1="280.4" x2="420.85" y2="282" stroke="#5a5a5a" stroke-width="0.8"/>
<line x1="420.85" y1="250.4" x2="420.85" y2="251.8" stroke="#5a5a5a" stroke-width="0.7"/>
<line x1="440.2" y1="280.4" x2="440.2" y2="282" stroke="#5a5a5a" stroke-width="0.8"/>
<line x1="440.2" y1="250.4" x2="440.2" y2="251.8" stroke="#5a5a5a" stroke-width="0.7"/>
<line x1="459.55" y1="280.4" x2="459.55" y2="282" stroke="#5a5a5a" stroke-width="0.8"/>
<line x1="459.55" y1="250.4" x2="459.55" y2="251.8" stroke="#5a5a5a" stroke-width="0.7"/>
<line x1="361" y1="250.4" x2="362.8" y2="250.4" stroke="#5a5a5a" stroke-width="0.8"/>
<line x1="361" y1="222.3" x2="362.8" y2="222.3" stroke="#5a5a5a" stroke-width="0.8"/>
<line x1="361" y1="194.2" x2="362.8" y2="194.2" stroke="#5a5a5a" stroke-width="0.8"/>
<line x1="361" y1="264.6" x2="362.8" y2="264.6" stroke="#5a5a5a" stroke-width="0.8"/>
<text x="382.15" y="292.9" font-size="10.4" text-anchor="middle" fill="#1a1a1a" stroke="#1a1a1a" stroke-width="0.1">0</text>
<text x="420.85" y="292.9" font-size="10.4" text-anchor="middle" fill="#1a1a1a" stroke="#1a1a1a" stroke-width="0.1">1</text>
<text x="459.55" y="292.9" font-size="10.4" text-anchor="middle" fill="#1a1a1a" stroke="#1a1a1a" stroke-width="0.1">2</text>
<text x="411.18" y="305" font-size="10.2" text-anchor="middle" fill="#1a1a1a" stroke="#1a1a1a" stroke-width="0.1">Time (s)</text>
<text x="456.3" y="266.4" font-size="7.2" text-anchor="end" fill="#222" font-style="italic" stroke="#222" stroke-width="0.1">13.9</text>
<circle cx="493.65" cy="176" r="2" fill="#ff1f1f"/>
<circle cx="505.26" cy="176" r="2" fill="#ff1f1f"/>
<circle cx="516.87" cy="176" r="2" fill="#ff1f1f"/>
<circle cx="528.48" cy="176" r="2" fill="#ff1f1f"/>
<circle cx="540.09" cy="176" r="2" fill="#ff1f1f"/>
<path d="M512.66 249.1h1.2v1.15h-1.2zM517.76 249.1h1.2v1.15h-1.2zM515.47 249.1h1.2v1.15h-1.2zM523.75 249.1h1.2v1.15h-1.2zM536.01 249.1h1.2v1.15h-1.2zM548.41 249.1h1.2v1.15h-1.2zM474.74 247.71h1.2v1.15h-1.2zM524.61 247.71h1.2v1.15h-1.2zM503.29 247.71h1.2v1.15h-1.2zM523.26 247.71h1.2v1.15h-1.2zM537.29 247.71h1.2v1.15h-1.2zM549.14 247.71h1.2v1.15h-1.2zM490.58 246.31h1.2v1.15h-1.2zM563.81 246.31h1.2v1.15h-1.2zM501.48 246.31h1.2v1.15h-1.2zM536.43 246.31h1.2v1.15h-1.2zM548.39 246.31h1.2v1.15h-1.2zM483.38 244.92h1.2v1.15h-1.2zM498.2 244.92h1.2v1.15h-1.2zM552.51 244.92h1.2v1.15h-1.2zM501.4 244.92h1.2v1.15h-1.2zM524.05 244.92h1.2v1.15h-1.2zM537.34 244.92h1.2v1.15h-1.2zM564.2 243.52h1.2v1.15h-1.2zM512.29 243.52h1.2v1.15h-1.2zM524.76 243.52h1.2v1.15h-1.2zM537.38 243.52h1.2v1.15h-1.2zM511.54 242.13h1.2v1.15h-1.2zM516.94 242.13h1.2v1.15h-1.2zM502.62 242.13h1.2v1.15h-1.2zM513.5 242.13h1.2v1.15h-1.2zM523.8 242.13h1.2v1.15h-1.2zM537.55 242.13h1.2v1.15h-1.2zM483.78 240.73h1.2v1.15h-1.2zM546.52 240.73h1.2v1.15h-1.2zM503.94 240.73h1.2v1.15h-1.2zM524.2 240.73h1.2v1.15h-1.2zM536.25 240.73h1.2v1.15h-1.2zM546.97 240.73h1.2v1.15h-1.2zM520.91 239.34h1.2v1.15h-1.2zM529.92 239.34h1.2v1.15h-1.2zM513.04 239.34h1.2v1.15h-1.2zM524.42 239.34h1.2v1.15h-1.2zM536.12 239.34h1.2v1.15h-1.2zM548.66 239.34h1.2v1.15h-1.2zM481.97 237.94h1.2v1.15h-1.2zM527.7 237.94h1.2v1.15h-1.2zM502.19 237.94h1.2v1.15h-1.2zM512.38 237.94h1.2v1.15h-1.2zM525.98 237.94h1.2v1.15h-1.2zM536.41 237.94h1.2v1.15h-1.2zM547.19 237.94h1.2v1.15h-1.2zM501.26 236.55h1.2v1.15h-1.2zM512.44 236.55h1.2v1.15h-1.2zM525.49 236.55h1.2v1.15h-1.2zM535.4 236.55h1.2v1.15h-1.2zM547.92 236.55h1.2v1.15h-1.2zM553.2 235.15h1.2v1.15h-1.2zM501.53 235.15h1.2v1.15h-1.2zM514.44 235.15h1.2v1.15h-1.2zM525.46 235.15h1.2v1.15h-1.2zM536.51 235.15h1.2v1.15h-1.2zM531.51 233.76h1.2v1.15h-1.2zM501.23 233.76h1.2v1.15h-1.2zM512.7 233.76h1.2v1.15h-1.2zM525.29 233.76h1.2v1.15h-1.2zM548.34 233.76h1.2v1.15h-1.2zM479.85 232.36h1.2v1.15h-1.2zM530.76 232.36h1.2v1.15h-1.2zM534.02 232.36h1.2v1.15h-1.2zM502.38 232.36h1.2v1.15h-1.2zM513.83 232.36h1.2v1.15h-1.2zM523.89 232.36h1.2v1.15h-1.2zM536.97 232.36h1.2v1.15h-1.2zM503.63 230.97h1.2v1.15h-1.2zM516.66 230.97h1.2v1.15h-1.2zM540.52 230.97h1.2v1.15h-1.2zM500.79 230.97h1.2v1.15h-1.2zM514.08 230.97h1.2v1.15h-1.2zM524.67 230.97h1.2v1.15h-1.2zM547.84 230.97h1.2v1.15h-1.2zM479.57 229.57h1.2v1.15h-1.2zM497.19 229.57h1.2v1.15h-1.2zM560.79 229.57h1.2v1.15h-1.2zM502.09 229.57h1.2v1.15h-1.2zM515.12 229.57h1.2v1.15h-1.2zM524.37 229.57h1.2v1.15h-1.2zM548.15 229.57h1.2v1.15h-1.2zM510.17 228.18h1.2v1.15h-1.2zM520.12 228.18h1.2v1.15h-1.2zM520.81 228.18h1.2v1.15h-1.2zM553.44 228.18h1.2v1.15h-1.2zM553.76 228.18h1.2v1.15h-1.2zM501.4 228.18h1.2v1.15h-1.2zM524.87 228.18h1.2v1.15h-1.2zM536.29 228.18h1.2v1.15h-1.2zM507.5 226.78h1.2v1.15h-1.2zM503.01 226.78h1.2v1.15h-1.2zM514.66 226.78h1.2v1.15h-1.2zM524.35 226.78h1.2v1.15h-1.2zM536.58 226.78h1.2v1.15h-1.2zM529.22 225.39h1.2v1.15h-1.2zM563.75 225.39h1.2v1.15h-1.2zM502.22 225.39h1.2v1.15h-1.2zM514.45 225.39h1.2v1.15h-1.2zM523.27 225.39h1.2v1.15h-1.2zM536.89 225.39h1.2v1.15h-1.2zM547.37 225.39h1.2v1.15h-1.2zM501.45 223.99h1.2v1.15h-1.2zM510.26 223.99h1.2v1.15h-1.2zM527.59 223.99h1.2v1.15h-1.2zM502.64 223.99h1.2v1.15h-1.2zM523.84 223.99h1.2v1.15h-1.2zM548.71 223.99h1.2v1.15h-1.2zM517 222.6h1.2v1.15h-1.2zM535.25 222.6h1.2v1.15h-1.2zM542.05 222.6h1.2v1.15h-1.2zM502.84 222.6h1.2v1.15h-1.2zM514.13 222.6h1.2v1.15h-1.2zM536.44 222.6h1.2v1.15h-1.2zM547.07 222.6h1.2v1.15h-1.2zM477.03 221.2h1.2v1.15h-1.2zM482.8 221.2h1.2v1.15h-1.2zM502.4 221.2h1.2v1.15h-1.2zM513.18 221.2h1.2v1.15h-1.2zM524.12 221.2h1.2v1.15h-1.2zM538.35 221.2h1.2v1.15h-1.2zM546.96 221.2h1.2v1.15h-1.2zM500.91 219.81h1.2v1.15h-1.2zM525.2 219.81h1.2v1.15h-1.2zM537.24 219.81h1.2v1.15h-1.2zM548.35 219.81h1.2v1.15h-1.2zM486.49 218.41h1.2v1.15h-1.2zM495.39 218.41h1.2v1.15h-1.2zM556.33 218.41h1.2v1.15h-1.2zM502.53 218.41h1.2v1.15h-1.2zM511.96 218.41h1.2v1.15h-1.2zM537.3 218.41h1.2v1.15h-1.2zM546.54 218.41h1.2v1.15h-1.2zM509.5 217.02h1.2v1.15h-1.2zM501.51 217.02h1.2v1.15h-1.2zM526.01 217.02h1.2v1.15h-1.2zM535.2 217.02h1.2v1.15h-1.2zM551.14 215.62h1.2v1.15h-1.2zM554.49 215.62h1.2v1.15h-1.2zM502.39 215.62h1.2v1.15h-1.2zM512.12 215.62h1.2v1.15h-1.2zM536.25 215.62h1.2v1.15h-1.2zM487.98 214.23h1.2v1.15h-1.2zM550.83 214.23h1.2v1.15h-1.2zM551.05 214.23h1.2v1.15h-1.2zM500.56 214.23h1.2v1.15h-1.2zM512.47 214.23h1.2v1.15h-1.2zM526.19 214.23h1.2v1.15h-1.2zM546.88 214.23h1.2v1.15h-1.2zM506.55 212.83h1.2v1.15h-1.2zM501.2 212.83h1.2v1.15h-1.2zM512.11 212.83h1.2v1.15h-1.2zM525.48 212.83h1.2v1.15h-1.2zM536.6 212.83h1.2v1.15h-1.2zM547.79 212.83h1.2v1.15h-1.2zM513.45 211.44h1.2v1.15h-1.2zM543.44 211.44h1.2v1.15h-1.2zM500.75 211.44h1.2v1.15h-1.2zM526.64 211.44h1.2v1.15h-1.2zM536.32 211.44h1.2v1.15h-1.2zM547.8 211.44h1.2v1.15h-1.2zM474.46 210.04h1.2v1.15h-1.2zM492.02 210.04h1.2v1.15h-1.2zM502.81 210.04h1.2v1.15h-1.2zM513.62 210.04h1.2v1.15h-1.2zM500.61 210.04h1.2v1.15h-1.2zM514.28 210.04h1.2v1.15h-1.2zM525.54 210.04h1.2v1.15h-1.2zM535.25 210.04h1.2v1.15h-1.2zM547.8 210.04h1.2v1.15h-1.2zM496.25 208.65h1.2v1.15h-1.2zM497.75 208.65h1.2v1.15h-1.2zM511.89 208.65h1.2v1.15h-1.2zM540.35 208.65h1.2v1.15h-1.2zM502.27 208.65h1.2v1.15h-1.2zM514.64 208.65h1.2v1.15h-1.2zM524.55 208.65h1.2v1.15h-1.2zM534.92 208.65h1.2v1.15h-1.2zM548.27 207.25h1.2v1.15h-1.2zM502.26 207.25h1.2v1.15h-1.2zM513 207.25h1.2v1.15h-1.2zM524.51 207.25h1.2v1.15h-1.2zM536.4 207.25h1.2v1.15h-1.2zM513.44 205.86h1.2v1.15h-1.2zM530.76 205.86h1.2v1.15h-1.2zM539.39 205.86h1.2v1.15h-1.2zM545.28 205.86h1.2v1.15h-1.2zM569.94 205.86h1.2v1.15h-1.2zM500.35 205.86h1.2v1.15h-1.2zM513.79 205.86h1.2v1.15h-1.2zM525.04 205.86h1.2v1.15h-1.2zM534.93 205.86h1.2v1.15h-1.2zM548.58 205.86h1.2v1.15h-1.2zM500.72 204.46h1.2v1.15h-1.2zM524.57 204.46h1.2v1.15h-1.2zM548.74 204.46h1.2v1.15h-1.2zM546.31 203.07h1.2v1.15h-1.2zM562.21 203.07h1.2v1.15h-1.2zM502.29 203.07h1.2v1.15h-1.2zM524.72 203.07h1.2v1.15h-1.2zM536.92 203.07h1.2v1.15h-1.2zM548.48 203.07h1.2v1.15h-1.2zM505.83 201.67h1.2v1.15h-1.2zM538.07 201.67h1.2v1.15h-1.2zM561.6 201.67h1.2v1.15h-1.2zM512.46 201.67h1.2v1.15h-1.2zM524.53 201.67h1.2v1.15h-1.2zM536.06 201.67h1.2v1.15h-1.2zM548.66 201.67h1.2v1.15h-1.2zM482.53 200.28h1.2v1.15h-1.2zM502.15 200.28h1.2v1.15h-1.2zM513.33 200.28h1.2v1.15h-1.2zM549.09 200.28h1.2v1.15h-1.2zM474.94 198.88h1.2v1.15h-1.2zM503.57 198.88h1.2v1.15h-1.2zM550.33 198.88h1.2v1.15h-1.2zM503.26 198.88h1.2v1.15h-1.2zM511.61 198.88h1.2v1.15h-1.2zM524.67 198.88h1.2v1.15h-1.2zM537.39 198.88h1.2v1.15h-1.2zM547.6 198.88h1.2v1.15h-1.2zM490.81 197.49h1.2v1.15h-1.2zM525.06 197.49h1.2v1.15h-1.2zM512.36 197.49h1.2v1.15h-1.2zM524.22 197.49h1.2v1.15h-1.2zM536.08 197.49h1.2v1.15h-1.2zM489.16 196.09h1.2v1.15h-1.2zM555.68 196.09h1.2v1.15h-1.2zM525.24 196.09h1.2v1.15h-1.2zM537.67 196.09h1.2v1.15h-1.2zM478.67 194.7h1.2v1.15h-1.2zM538.02 194.7h1.2v1.15h-1.2zM502.49 194.7h1.2v1.15h-1.2zM523.52 194.7h1.2v1.15h-1.2zM535.67 194.7h1.2v1.15h-1.2zM547.89 194.7h1.2v1.15h-1.2zM501.42 193.3h1.2v1.15h-1.2zM511.3 193.3h1.2v1.15h-1.2zM545.63 193.3h1.2v1.15h-1.2zM513.19 193.3h1.2v1.15h-1.2zM524.7 193.3h1.2v1.15h-1.2zM536.58 193.3h1.2v1.15h-1.2zM547.77 193.3h1.2v1.15h-1.2zM480.02 191.91h1.2v1.15h-1.2zM492.45 191.91h1.2v1.15h-1.2zM528.73 191.91h1.2v1.15h-1.2zM546.36 191.91h1.2v1.15h-1.2zM553.03 191.91h1.2v1.15h-1.2zM503.15 191.91h1.2v1.15h-1.2zM514.41 191.91h1.2v1.15h-1.2zM524.44 191.91h1.2v1.15h-1.2zM535.82 191.91h1.2v1.15h-1.2zM547.89 191.91h1.2v1.15h-1.2zM501.76 190.51h1.2v1.15h-1.2zM513.87 190.51h1.2v1.15h-1.2zM536.1 190.51h1.2v1.15h-1.2zM488.3 189.12h1.2v1.15h-1.2zM547.69 189.12h1.2v1.15h-1.2zM567.74 189.12h1.2v1.15h-1.2zM502.39 189.12h1.2v1.15h-1.2zM512.65 189.12h1.2v1.15h-1.2zM524.76 189.12h1.2v1.15h-1.2zM536.73 189.12h1.2v1.15h-1.2zM548.85 189.12h1.2v1.15h-1.2zM567.93 187.72h1.2v1.15h-1.2zM501.13 187.72h1.2v1.15h-1.2zM514.27 187.72h1.2v1.15h-1.2zM525.29 187.72h1.2v1.15h-1.2zM535.95 187.72h1.2v1.15h-1.2zM548.77 187.72h1.2v1.15h-1.2zM474.2 186.33h1.2v1.15h-1.2zM568.05 186.33h1.2v1.15h-1.2zM502.08 186.33h1.2v1.15h-1.2zM514 186.33h1.2v1.15h-1.2zM536.36 186.33h1.2v1.15h-1.2zM548.33 186.33h1.2v1.15h-1.2zM487.71 184.93h1.2v1.15h-1.2zM508.3 184.93h1.2v1.15h-1.2zM501.95 184.93h1.2v1.15h-1.2zM512.37 184.93h1.2v1.15h-1.2zM524.92 184.93h1.2v1.15h-1.2zM535.48 184.93h1.2v1.15h-1.2zM484.45 183.54h1.2v1.15h-1.2zM489.7 183.54h1.2v1.15h-1.2zM553.62 183.54h1.2v1.15h-1.2zM502.83 183.54h1.2v1.15h-1.2zM512.71 183.54h1.2v1.15h-1.2zM524.1 183.54h1.2v1.15h-1.2zM534.58 183.54h1.2v1.15h-1.2zM547.95 183.54h1.2v1.15h-1.2zM506.95 182.14h1.2v1.15h-1.2zM529.16 182.14h1.2v1.15h-1.2zM513.79 182.14h1.2v1.15h-1.2zM524.42 182.14h1.2v1.15h-1.2zM535.82 182.14h1.2v1.15h-1.2zM547.43 182.14h1.2v1.15h-1.2zM475.23 180.75h1.2v1.15h-1.2zM552.22 180.75h1.2v1.15h-1.2zM553.09 180.75h1.2v1.15h-1.2zM502.49 180.75h1.2v1.15h-1.2zM512.81 180.75h1.2v1.15h-1.2zM524.06 180.75h1.2v1.15h-1.2zM535.14 180.75h1.2v1.15h-1.2z" fill="#333"/>
<path d="M475.89 280.4h1.27v-3.4h-1.27zM482.26 280.4h1.27v-3.4h-1.27zM483.85 280.4h1.27v-3.4h-1.27zM485.44 280.4h1.27v-3.4h-1.27zM487.03 280.4h1.27v-3.4h-1.27zM488.63 280.4h1.27v-3.4h-1.27zM496.58 280.4h1.27v-3.4h-1.27zM498.18 280.4h1.27v-3.4h-1.27zM501.36 280.4h1.27v-3.4h-1.27zM502.95 280.4h1.27v-3.4h-1.27zM504.54 280.4h1.27v-3.4h-1.27zM507.73 280.4h1.27v-3.4h-1.27zM509.32 280.4h1.27v-3.4h-1.27zM510.91 280.4h1.27v-3.4h-1.27zM512.5 280.4h1.27v-3.4h-1.27zM514.09 280.4h1.27v-3.4h-1.27zM515.68 280.4h1.27v-3.4h-1.27zM517.28 280.4h1.27v-3.4h-1.27zM518.87 280.4h1.27v-3.4h-1.27zM522.05 280.4h1.27v-3.4h-1.27zM523.64 280.4h1.27v-3.4h-1.27zM525.23 280.4h1.27v-3.4h-1.27zM526.83 280.4h1.27v-3.4h-1.27zM528.42 280.4h1.27v-3.4h-1.27zM530.01 280.4h1.27v-3.4h-1.27zM531.6 280.4h1.27v-3.4h-1.27zM533.19 280.4h1.27v-3.4h-1.27zM534.78 280.4h1.27v-3.4h-1.27zM536.38 280.4h1.27v-3.4h-1.27zM537.97 280.4h1.27v-3.4h-1.27zM539.56 280.4h1.27v-3.4h-1.27zM541.15 280.4h1.27v-3.4h-1.27zM545.93 280.4h1.27v-3.4h-1.27zM547.52 280.4h1.27v-3.4h-1.27zM549.11 280.4h1.27v-3.4h-1.27zM550.7 280.4h1.27v-3.4h-1.27zM553.88 280.4h1.27v-3.4h-1.27zM555.48 280.4h1.27v-3.4h-1.27zM560.25 280.4h1.27v-3.4h-1.27zM563.43 280.4h1.27v-3.4h-1.27zM565.03 280.4h1.27v-3.4h-1.27zM568.21 280.4h1.27v-3.4h-1.27zM571.39 280.4h1.27v-3.4h-1.27z" fill="#000" opacity="0.3"/>
<path d="M501.36 280.4h1.27v-6.8h-1.27zM502.95 280.4h1.27v-6.8h-1.27zM510.91 280.4h1.27v-6.8h-1.27zM512.5 280.4h1.27v-6.8h-1.27zM514.09 280.4h1.27v-6.8h-1.27zM517.28 280.4h1.27v-6.8h-1.27zM523.64 280.4h1.27v-6.8h-1.27zM525.23 280.4h1.27v-6.8h-1.27zM528.42 280.4h1.27v-6.8h-1.27zM534.78 280.4h1.27v-6.8h-1.27zM536.38 280.4h1.27v-6.8h-1.27zM537.97 280.4h1.27v-6.8h-1.27zM545.93 280.4h1.27v-6.8h-1.27zM547.52 280.4h1.27v-6.8h-1.27zM549.11 280.4h1.27v-6.8h-1.27zM565.03 280.4h1.27v-6.8h-1.27z" fill="#000" opacity="0.3"/>
<path d="M501.36 280.4h1.27v-10.2h-1.27zM512.5 280.4h1.27v-10.2h-1.27zM514.09 280.4h1.27v-10.2h-1.27zM523.64 280.4h1.27v-10.2h-1.27zM525.23 280.4h1.27v-10.2h-1.27zM536.38 280.4h1.27v-10.2h-1.27zM547.52 280.4h1.27v-10.2h-1.27zM549.11 280.4h1.27v-10.2h-1.27z" fill="#000" opacity="0.09"/>
<path d="M501.36 280.4h1.27v-13.6h-1.27zM512.5 280.4h1.27v-13.6h-1.27zM523.64 280.4h1.27v-13.6h-1.27zM525.23 280.4h1.27v-13.6h-1.27zM536.38 280.4h1.27v-13.6h-1.27zM547.52 280.4h1.27v-13.6h-1.27z" fill="#000" opacity="0.09"/>
<path d="M501.36 280.4h1.27v-17h-1.27zM512.5 280.4h1.27v-17h-1.27zM523.64 280.4h1.27v-17h-1.27zM525.23 280.4h1.27v-17h-1.27zM536.38 280.4h1.27v-17h-1.27zM547.52 280.4h1.27v-17h-1.27z" fill="#000" opacity="0.09"/>
<path d="M501.36 280.4h1.27v-20.4h-1.27zM512.5 280.4h1.27v-20.4h-1.27zM536.38 280.4h1.27v-20.4h-1.27zM547.52 280.4h1.27v-20.4h-1.27z" fill="#000" opacity="0.09"/>
<path d="M512.5 280.4h1.27v-23.8h-1.27zM536.38 280.4h1.27v-23.8h-1.27z" fill="#000" opacity="0.09"/>
<line x1="474.3" y1="180" x2="474.3" y2="250.9" stroke="#5a5a5a" stroke-width="1.1"/>
<line x1="474.3" y1="252.3" x2="474.3" y2="280.9" stroke="#5a5a5a" stroke-width="1.1"/>
<line x1="473.8" y1="250.4" x2="573.1" y2="250.4" stroke="#5a5a5a" stroke-width="1.2"/>
<line x1="473.8" y1="280.4" x2="573.1" y2="280.4" stroke="#5a5a5a" stroke-width="1.2"/>
<line x1="474.3" y1="280.4" x2="474.3" y2="282" stroke="#5a5a5a" stroke-width="0.8"/>
<line x1="474.3" y1="250.4" x2="474.3" y2="251.8" stroke="#5a5a5a" stroke-width="0.7"/>
<line x1="493.65" y1="280.4" x2="493.65" y2="282" stroke="#5a5a5a" stroke-width="0.8"/>
<line x1="493.65" y1="250.4" x2="493.65" y2="251.8" stroke="#5a5a5a" stroke-width="0.7"/>
<line x1="513" y1="280.4" x2="513" y2="282" stroke="#5a5a5a" stroke-width="0.8"/>
<line x1="513" y1="250.4" x2="513" y2="251.8" stroke="#5a5a5a" stroke-width="0.7"/>
<line x1="532.35" y1="280.4" x2="532.35" y2="282" stroke="#5a5a5a" stroke-width="0.8"/>
<line x1="532.35" y1="250.4" x2="532.35" y2="251.8" stroke="#5a5a5a" stroke-width="0.7"/>
<line x1="551.7" y1="280.4" x2="551.7" y2="282" stroke="#5a5a5a" stroke-width="0.8"/>
<line x1="551.7" y1="250.4" x2="551.7" y2="251.8" stroke="#5a5a5a" stroke-width="0.7"/>
<line x1="571.05" y1="280.4" x2="571.05" y2="282" stroke="#5a5a5a" stroke-width="0.8"/>
<line x1="571.05" y1="250.4" x2="571.05" y2="251.8" stroke="#5a5a5a" stroke-width="0.7"/>
<line x1="472.5" y1="250.4" x2="474.3" y2="250.4" stroke="#5a5a5a" stroke-width="0.8"/>
<line x1="472.5" y1="222.3" x2="474.3" y2="222.3" stroke="#5a5a5a" stroke-width="0.8"/>
<line x1="472.5" y1="194.2" x2="474.3" y2="194.2" stroke="#5a5a5a" stroke-width="0.8"/>
<line x1="472.5" y1="264.6" x2="474.3" y2="264.6" stroke="#5a5a5a" stroke-width="0.8"/>
<text x="493.65" y="292.9" font-size="10.4" text-anchor="middle" fill="#1a1a1a" stroke="#1a1a1a" stroke-width="0.1">0</text>
<text x="532.35" y="292.9" font-size="10.4" text-anchor="middle" fill="#1a1a1a" stroke="#1a1a1a" stroke-width="0.1">1</text>
<text x="571.05" y="292.9" font-size="10.4" text-anchor="middle" fill="#1a1a1a" stroke="#1a1a1a" stroke-width="0.1">2</text>
<text x="522.67" y="305" font-size="10.2" text-anchor="middle" fill="#1a1a1a" stroke="#1a1a1a" stroke-width="0.1">Time (s)</text>
<text x="567.8" y="266.4" font-size="7.2" text-anchor="end" fill="#222" font-style="italic" stroke="#222" stroke-width="0.1">8</text>
<circle cx="603.65" cy="176" r="2" fill="#ff1f1f"/>
<circle cx="615.26" cy="176" r="2" fill="#ff1f1f"/>
<circle cx="626.87" cy="176" r="2" fill="#ff1f1f"/>
<circle cx="638.48" cy="176" r="2" fill="#ff1f1f"/>
<circle cx="650.09" cy="176" r="2" fill="#ff1f1f"/>
<path d="M583.87 249.1h1.2v1.15h-1.2zM588.48 249.1h1.2v1.15h-1.2zM592.11 249.1h1.2v1.15h-1.2zM600.87 249.1h1.2v1.15h-1.2zM602.75 249.1h1.2v1.15h-1.2zM632 249.1h1.2v1.15h-1.2zM650.54 249.1h1.2v1.15h-1.2zM665.71 249.1h1.2v1.15h-1.2zM678.55 249.1h1.2v1.15h-1.2zM604.11 249.1h1.2v1.15h-1.2zM609.14 249.1h1.2v1.15h-1.2zM616.03 249.1h1.2v1.15h-1.2zM620.73 249.1h1.2v1.15h-1.2zM627.39 249.1h1.2v1.15h-1.2zM639 249.1h1.2v1.15h-1.2zM644.59 249.1h1.2v1.15h-1.2zM650.59 249.1h1.2v1.15h-1.2zM655.76 249.1h1.2v1.15h-1.2zM585.01 247.71h1.2v1.15h-1.2zM588.1 247.71h1.2v1.15h-1.2zM591.76 247.71h1.2v1.15h-1.2zM594.25 247.71h1.2v1.15h-1.2zM594.73 247.71h1.2v1.15h-1.2zM596.69 247.71h1.2v1.15h-1.2zM599.57 247.71h1.2v1.15h-1.2zM602.42 247.71h1.2v1.15h-1.2zM631.51 247.71h1.2v1.15h-1.2zM632.48 247.71h1.2v1.15h-1.2zM663.21 247.71h1.2v1.15h-1.2zM666.85 247.71h1.2v1.15h-1.2zM671.81 247.71h1.2v1.15h-1.2zM681.01 247.71h1.2v1.15h-1.2zM609.15 247.71h1.2v1.15h-1.2zM615.85 247.71h1.2v1.15h-1.2zM627.5 247.71h1.2v1.15h-1.2zM632.06 247.71h1.2v1.15h-1.2zM639 247.71h1.2v1.15h-1.2zM650.68 247.71h1.2v1.15h-1.2zM655.11 247.71h1.2v1.15h-1.2zM591.18 246.31h1.2v1.15h-1.2zM591.48 246.31h1.2v1.15h-1.2zM596.84 246.31h1.2v1.15h-1.2zM598.12 246.31h1.2v1.15h-1.2zM600.89 246.31h1.2v1.15h-1.2zM601.31 246.31h1.2v1.15h-1.2zM603.03 246.31h1.2v1.15h-1.2zM613.44 246.31h1.2v1.15h-1.2zM660.6 246.31h1.2v1.15h-1.2zM664.59 246.31h1.2v1.15h-1.2zM669.95 246.31h1.2v1.15h-1.2zM671.72 246.31h1.2v1.15h-1.2zM672.68 246.31h1.2v1.15h-1.2zM673.33 246.31h1.2v1.15h-1.2zM674.41 246.31h1.2v1.15h-1.2zM676.96 246.31h1.2v1.15h-1.2zM604.17 246.31h1.2v1.15h-1.2zM608.69 246.31h1.2v1.15h-1.2zM615.84 246.31h1.2v1.15h-1.2zM621.56 246.31h1.2v1.15h-1.2zM627.34 246.31h1.2v1.15h-1.2zM631.82 246.31h1.2v1.15h-1.2zM639.06 246.31h1.2v1.15h-1.2zM644.47 246.31h1.2v1.15h-1.2zM650.63 246.31h1.2v1.15h-1.2zM654.73 246.31h1.2v1.15h-1.2zM587.29 244.92h1.2v1.15h-1.2zM590.04 244.92h1.2v1.15h-1.2zM601.29 244.92h1.2v1.15h-1.2zM602.97 244.92h1.2v1.15h-1.2zM632.79 244.92h1.2v1.15h-1.2zM633.74 244.92h1.2v1.15h-1.2zM664.86 244.92h1.2v1.15h-1.2zM667.47 244.92h1.2v1.15h-1.2zM667.59 244.92h1.2v1.15h-1.2zM671.63 244.92h1.2v1.15h-1.2zM678.4 244.92h1.2v1.15h-1.2zM679.19 244.92h1.2v1.15h-1.2zM681.76 244.92h1.2v1.15h-1.2zM604.21 244.92h1.2v1.15h-1.2zM609.4 244.92h1.2v1.15h-1.2zM615.68 244.92h1.2v1.15h-1.2zM627.4 244.92h1.2v1.15h-1.2zM638.97 244.92h1.2v1.15h-1.2zM656.65 244.92h1.2v1.15h-1.2zM584.96 243.52h1.2v1.15h-1.2zM585.8 243.52h1.2v1.15h-1.2zM591.7 243.52h1.2v1.15h-1.2zM593.34 243.52h1.2v1.15h-1.2zM599.57 243.52h1.2v1.15h-1.2zM663.75 243.52h1.2v1.15h-1.2zM665 243.52h1.2v1.15h-1.2zM665.46 243.52h1.2v1.15h-1.2zM667.99 243.52h1.2v1.15h-1.2zM669.64 243.52h1.2v1.15h-1.2zM670.71 243.52h1.2v1.15h-1.2zM673.87 243.52h1.2v1.15h-1.2zM674.74 243.52h1.2v1.15h-1.2zM675.89 243.52h1.2v1.15h-1.2zM676.53 243.52h1.2v1.15h-1.2zM680.66 243.52h1.2v1.15h-1.2zM604.18 243.52h1.2v1.15h-1.2zM609.54 243.52h1.2v1.15h-1.2zM615.82 243.52h1.2v1.15h-1.2zM620.48 243.52h1.2v1.15h-1.2zM627.58 243.52h1.2v1.15h-1.2zM632.04 243.52h1.2v1.15h-1.2zM639.13 243.52h1.2v1.15h-1.2zM644.49 243.52h1.2v1.15h-1.2zM650.66 243.52h1.2v1.15h-1.2zM590.76 242.13h1.2v1.15h-1.2zM591.5 242.13h1.2v1.15h-1.2zM596.07 242.13h1.2v1.15h-1.2zM596.3 242.13h1.2v1.15h-1.2zM596.46 242.13h1.2v1.15h-1.2zM661.12 242.13h1.2v1.15h-1.2zM661.54 242.13h1.2v1.15h-1.2zM668.37 242.13h1.2v1.15h-1.2zM675.96 242.13h1.2v1.15h-1.2zM678.35 242.13h1.2v1.15h-1.2zM679.37 242.13h1.2v1.15h-1.2zM604.29 242.13h1.2v1.15h-1.2zM609.08 242.13h1.2v1.15h-1.2zM615.66 242.13h1.2v1.15h-1.2zM621.15 242.13h1.2v1.15h-1.2zM627.42 242.13h1.2v1.15h-1.2zM639.1 242.13h1.2v1.15h-1.2zM650.57 242.13h1.2v1.15h-1.2zM655.87 242.13h1.2v1.15h-1.2zM584.07 240.73h1.2v1.15h-1.2zM589.56 240.73h1.2v1.15h-1.2zM590.44 240.73h1.2v1.15h-1.2zM592.29 240.73h1.2v1.15h-1.2zM593.28 240.73h1.2v1.15h-1.2zM596.7 240.73h1.2v1.15h-1.2zM598.8 240.73h1.2v1.15h-1.2zM666.45 240.73h1.2v1.15h-1.2zM669.86 240.73h1.2v1.15h-1.2zM671.41 240.73h1.2v1.15h-1.2zM672.78 240.73h1.2v1.15h-1.2zM677.74 240.73h1.2v1.15h-1.2zM678.36 240.73h1.2v1.15h-1.2zM680.39 240.73h1.2v1.15h-1.2zM681.01 240.73h1.2v1.15h-1.2zM681.21 240.73h1.2v1.15h-1.2zM681.9 240.73h1.2v1.15h-1.2zM604.09 240.73h1.2v1.15h-1.2zM615.79 240.73h1.2v1.15h-1.2zM621.27 240.73h1.2v1.15h-1.2zM627.48 240.73h1.2v1.15h-1.2zM639.08 240.73h1.2v1.15h-1.2zM644.28 240.73h1.2v1.15h-1.2zM650.63 240.73h1.2v1.15h-1.2zM584.54 239.34h1.2v1.15h-1.2zM588.91 239.34h1.2v1.15h-1.2zM591.36 239.34h1.2v1.15h-1.2zM594.02 239.34h1.2v1.15h-1.2zM595.79 239.34h1.2v1.15h-1.2zM662.34 239.34h1.2v1.15h-1.2zM662.52 239.34h1.2v1.15h-1.2zM662.77 239.34h1.2v1.15h-1.2zM663.91 239.34h1.2v1.15h-1.2zM669.74 239.34h1.2v1.15h-1.2zM672.12 239.34h1.2v1.15h-1.2zM679.93 239.34h1.2v1.15h-1.2zM681.38 239.34h1.2v1.15h-1.2zM681.53 239.34h1.2v1.15h-1.2zM681.55 239.34h1.2v1.15h-1.2zM604.09 239.34h1.2v1.15h-1.2zM609.79 239.34h1.2v1.15h-1.2zM615.82 239.34h1.2v1.15h-1.2zM627.46 239.34h1.2v1.15h-1.2zM639.13 239.34h1.2v1.15h-1.2zM650.66 239.34h1.2v1.15h-1.2zM655.97 239.34h1.2v1.15h-1.2zM588.76 237.94h1.2v1.15h-1.2zM589.18 237.94h1.2v1.15h-1.2zM591.15 237.94h1.2v1.15h-1.2zM593.87 237.94h1.2v1.15h-1.2zM595.23 237.94h1.2v1.15h-1.2zM596.03 237.94h1.2v1.15h-1.2zM596.61 237.94h1.2v1.15h-1.2zM661.04 237.94h1.2v1.15h-1.2zM662.2 237.94h1.2v1.15h-1.2zM662.62 237.94h1.2v1.15h-1.2zM667.17 237.94h1.2v1.15h-1.2zM668.12 237.94h1.2v1.15h-1.2zM670.58 237.94h1.2v1.15h-1.2zM676.73 237.94h1.2v1.15h-1.2zM677.51 237.94h1.2v1.15h-1.2zM679.96 237.94h1.2v1.15h-1.2zM604.16 237.94h1.2v1.15h-1.2zM615.73 237.94h1.2v1.15h-1.2zM639.15 237.94h1.2v1.15h-1.2zM644.8 237.94h1.2v1.15h-1.2zM650.69 237.94h1.2v1.15h-1.2zM596.55 236.55h1.2v1.15h-1.2zM601.63 236.55h1.2v1.15h-1.2zM648.07 236.55h1.2v1.15h-1.2zM656.41 236.55h1.2v1.15h-1.2zM662.87 236.55h1.2v1.15h-1.2zM666.31 236.55h1.2v1.15h-1.2zM670.22 236.55h1.2v1.15h-1.2zM677.08 236.55h1.2v1.15h-1.2zM677.93 236.55h1.2v1.15h-1.2zM681.07 236.55h1.2v1.15h-1.2zM609.71 236.55h1.2v1.15h-1.2zM615.83 236.55h1.2v1.15h-1.2zM639 236.55h1.2v1.15h-1.2zM643.41 236.55h1.2v1.15h-1.2zM650.72 236.55h1.2v1.15h-1.2zM656.09 236.55h1.2v1.15h-1.2zM584.55 235.15h1.2v1.15h-1.2zM589.05 235.15h1.2v1.15h-1.2zM591.63 235.15h1.2v1.15h-1.2zM596.1 235.15h1.2v1.15h-1.2zM596.24 235.15h1.2v1.15h-1.2zM596.77 235.15h1.2v1.15h-1.2zM601.35 235.15h1.2v1.15h-1.2zM602.71 235.15h1.2v1.15h-1.2zM603.04 235.15h1.2v1.15h-1.2zM621.29 235.15h1.2v1.15h-1.2zM644.34 235.15h1.2v1.15h-1.2zM659.34 235.15h1.2v1.15h-1.2zM659.45 235.15h1.2v1.15h-1.2zM671.44 235.15h1.2v1.15h-1.2zM676.22 235.15h1.2v1.15h-1.2zM682.14 235.15h1.2v1.15h-1.2zM604.09 235.15h1.2v1.15h-1.2zM608.63 235.15h1.2v1.15h-1.2zM620.82 235.15h1.2v1.15h-1.2zM627.57 235.15h1.2v1.15h-1.2zM639 235.15h1.2v1.15h-1.2zM643.93 235.15h1.2v1.15h-1.2zM650.56 235.15h1.2v1.15h-1.2zM655.99 235.15h1.2v1.15h-1.2zM584.19 233.76h1.2v1.15h-1.2zM584.67 233.76h1.2v1.15h-1.2zM592.35 233.76h1.2v1.15h-1.2zM596.42 233.76h1.2v1.15h-1.2zM599.3 233.76h1.2v1.15h-1.2zM643.04 233.76h1.2v1.15h-1.2zM659.2 233.76h1.2v1.15h-1.2zM661.96 233.76h1.2v1.15h-1.2zM662.47 233.76h1.2v1.15h-1.2zM675.25 233.76h1.2v1.15h-1.2zM676.21 233.76h1.2v1.15h-1.2zM681.8 233.76h1.2v1.15h-1.2zM604.15 233.76h1.2v1.15h-1.2zM609.49 233.76h1.2v1.15h-1.2zM615.82 233.76h1.2v1.15h-1.2zM627.42 233.76h1.2v1.15h-1.2zM633.53 233.76h1.2v1.15h-1.2zM639.08 233.76h1.2v1.15h-1.2zM650.56 233.76h1.2v1.15h-1.2zM655.95 233.76h1.2v1.15h-1.2zM585.15 232.36h1.2v1.15h-1.2zM590.76 232.36h1.2v1.15h-1.2zM591.5 232.36h1.2v1.15h-1.2zM591.62 232.36h1.2v1.15h-1.2zM592.7 232.36h1.2v1.15h-1.2zM593.64 232.36h1.2v1.15h-1.2zM656.59 232.36h1.2v1.15h-1.2zM661.43 232.36h1.2v1.15h-1.2zM662.43 232.36h1.2v1.15h-1.2zM671.84 232.36h1.2v1.15h-1.2zM675.51 232.36h1.2v1.15h-1.2zM676.1 232.36h1.2v1.15h-1.2zM676.75 232.36h1.2v1.15h-1.2zM677.98 232.36h1.2v1.15h-1.2zM615.86 232.36h1.2v1.15h-1.2zM621.15 232.36h1.2v1.15h-1.2zM627.47 232.36h1.2v1.15h-1.2zM639.13 232.36h1.2v1.15h-1.2zM644.7 232.36h1.2v1.15h-1.2zM650.54 232.36h1.2v1.15h-1.2zM589.13 230.97h1.2v1.15h-1.2zM590.75 230.97h1.2v1.15h-1.2zM591.06 230.97h1.2v1.15h-1.2zM595.99 230.97h1.2v1.15h-1.2zM596.1 230.97h1.2v1.15h-1.2zM597.4 230.97h1.2v1.15h-1.2zM599.6 230.97h1.2v1.15h-1.2zM600.82 230.97h1.2v1.15h-1.2zM608.9 230.97h1.2v1.15h-1.2zM609.6 230.97h1.2v1.15h-1.2zM620.68 230.97h1.2v1.15h-1.2zM633.61 230.97h1.2v1.15h-1.2zM643.26 230.97h1.2v1.15h-1.2zM651.42 230.97h1.2v1.15h-1.2zM655.64 230.97h1.2v1.15h-1.2zM659.77 230.97h1.2v1.15h-1.2zM660.55 230.97h1.2v1.15h-1.2zM661.3 230.97h1.2v1.15h-1.2zM661.54 230.97h1.2v1.15h-1.2zM662.95 230.97h1.2v1.15h-1.2zM664.09 230.97h1.2v1.15h-1.2zM664.8 230.97h1.2v1.15h-1.2zM665.6 230.97h1.2v1.15h-1.2zM666.23 230.97h1.2v1.15h-1.2zM668.38 230.97h1.2v1.15h-1.2zM674.37 230.97h1.2v1.15h-1.2zM677.82 230.97h1.2v1.15h-1.2zM678.49 230.97h1.2v1.15h-1.2zM678.78 230.97h1.2v1.15h-1.2zM679.19 230.97h1.2v1.15h-1.2zM681.4 230.97h1.2v1.15h-1.2zM608.81 230.97h1.2v1.15h-1.2zM615.85 230.97h1.2v1.15h-1.2zM620.6 230.97h1.2v1.15h-1.2zM627.38 230.97h1.2v1.15h-1.2zM639.18 230.97h1.2v1.15h-1.2zM650.63 230.97h1.2v1.15h-1.2zM656.31 230.97h1.2v1.15h-1.2zM584.16 229.57h1.2v1.15h-1.2zM584.59 229.57h1.2v1.15h-1.2zM591.41 229.57h1.2v1.15h-1.2zM595.07 229.57h1.2v1.15h-1.2zM595.59 229.57h1.2v1.15h-1.2zM598.49 229.57h1.2v1.15h-1.2zM599.72 229.57h1.2v1.15h-1.2zM659.36 229.57h1.2v1.15h-1.2zM660.44 229.57h1.2v1.15h-1.2zM662.21 229.57h1.2v1.15h-1.2zM665.3 229.57h1.2v1.15h-1.2zM666.88 229.57h1.2v1.15h-1.2zM668.92 229.57h1.2v1.15h-1.2zM670.02 229.57h1.2v1.15h-1.2zM671.6 229.57h1.2v1.15h-1.2zM604.15 229.57h1.2v1.15h-1.2zM609.73 229.57h1.2v1.15h-1.2zM615.91 229.57h1.2v1.15h-1.2zM620.89 229.57h1.2v1.15h-1.2zM627.35 229.57h1.2v1.15h-1.2zM639.2 229.57h1.2v1.15h-1.2zM643.53 229.57h1.2v1.15h-1.2zM650.73 229.57h1.2v1.15h-1.2zM587.82 228.18h1.2v1.15h-1.2zM594.61 228.18h1.2v1.15h-1.2zM596.83 228.18h1.2v1.15h-1.2zM601.68 228.18h1.2v1.15h-1.2zM601.92 228.18h1.2v1.15h-1.2zM602.33 228.18h1.2v1.15h-1.2zM606.27 228.18h1.2v1.15h-1.2zM650.65 228.18h1.2v1.15h-1.2zM664.31 228.18h1.2v1.15h-1.2zM666.19 228.18h1.2v1.15h-1.2zM667.83 228.18h1.2v1.15h-1.2zM670.54 228.18h1.2v1.15h-1.2zM677.62 228.18h1.2v1.15h-1.2zM681.58 228.18h1.2v1.15h-1.2zM604.14 228.18h1.2v1.15h-1.2zM609.86 228.18h1.2v1.15h-1.2zM620.74 228.18h1.2v1.15h-1.2zM627.53 228.18h1.2v1.15h-1.2zM632.14 228.18h1.2v1.15h-1.2zM639.06 228.18h1.2v1.15h-1.2zM644.49 228.18h1.2v1.15h-1.2zM650.52 228.18h1.2v1.15h-1.2zM586.86 226.78h1.2v1.15h-1.2zM589.32 226.78h1.2v1.15h-1.2zM599.87 226.78h1.2v1.15h-1.2zM600.34 226.78h1.2v1.15h-1.2zM603.55 226.78h1.2v1.15h-1.2zM655.89 226.78h1.2v1.15h-1.2zM660.6 226.78h1.2v1.15h-1.2zM661.34 226.78h1.2v1.15h-1.2zM661.74 226.78h1.2v1.15h-1.2zM662.75 226.78h1.2v1.15h-1.2zM663.39 226.78h1.2v1.15h-1.2zM668.32 226.78h1.2v1.15h-1.2zM672.95 226.78h1.2v1.15h-1.2zM604.14 226.78h1.2v1.15h-1.2zM609.42 226.78h1.2v1.15h-1.2zM615.81 226.78h1.2v1.15h-1.2zM627.38 226.78h1.2v1.15h-1.2zM632.1 226.78h1.2v1.15h-1.2zM639.06 226.78h1.2v1.15h-1.2zM650.69 226.78h1.2v1.15h-1.2zM655.31 226.78h1.2v1.15h-1.2zM596.72 225.39h1.2v1.15h-1.2zM597.21 225.39h1.2v1.15h-1.2zM599.73 225.39h1.2v1.15h-1.2zM600.99 225.39h1.2v1.15h-1.2zM655.27 225.39h1.2v1.15h-1.2zM660.78 225.39h1.2v1.15h-1.2zM665.62 225.39h1.2v1.15h-1.2zM674.89 225.39h1.2v1.15h-1.2zM680.33 225.39h1.2v1.15h-1.2zM680.45 225.39h1.2v1.15h-1.2zM681.91 225.39h1.2v1.15h-1.2zM604.18 225.39h1.2v1.15h-1.2zM609.57 225.39h1.2v1.15h-1.2zM615.77 225.39h1.2v1.15h-1.2zM627.31 225.39h1.2v1.15h-1.2zM639.12 225.39h1.2v1.15h-1.2zM644.21 225.39h1.2v1.15h-1.2zM583.89 223.99h1.2v1.15h-1.2zM584.71 223.99h1.2v1.15h-1.2zM589.39 223.99h1.2v1.15h-1.2zM591 223.99h1.2v1.15h-1.2zM593.5 223.99h1.2v1.15h-1.2zM596.67 223.99h1.2v1.15h-1.2zM597.22 223.99h1.2v1.15h-1.2zM597.75 223.99h1.2v1.15h-1.2zM598.21 223.99h1.2v1.15h-1.2zM599.2 223.99h1.2v1.15h-1.2zM599.77 223.99h1.2v1.15h-1.2zM632.53 223.99h1.2v1.15h-1.2zM634.12 223.99h1.2v1.15h-1.2zM651.9 223.99h1.2v1.15h-1.2zM663.24 223.99h1.2v1.15h-1.2zM669.87 223.99h1.2v1.15h-1.2zM671.67 223.99h1.2v1.15h-1.2zM609.95 223.99h1.2v1.15h-1.2zM615.8 223.99h1.2v1.15h-1.2zM621.58 223.99h1.2v1.15h-1.2zM627.58 223.99h1.2v1.15h-1.2zM632.41 223.99h1.2v1.15h-1.2zM639.1 223.99h1.2v1.15h-1.2zM650.68 223.99h1.2v1.15h-1.2zM587.1 222.6h1.2v1.15h-1.2zM591.95 222.6h1.2v1.15h-1.2zM592.73 222.6h1.2v1.15h-1.2zM593.43 222.6h1.2v1.15h-1.2zM599.71 222.6h1.2v1.15h-1.2zM612.79 222.6h1.2v1.15h-1.2zM622.31 222.6h1.2v1.15h-1.2zM631.75 222.6h1.2v1.15h-1.2zM655.56 222.6h1.2v1.15h-1.2zM665.56 222.6h1.2v1.15h-1.2zM669.86 222.6h1.2v1.15h-1.2zM604.23 222.6h1.2v1.15h-1.2zM608.56 222.6h1.2v1.15h-1.2zM615.66 222.6h1.2v1.15h-1.2zM620.28 222.6h1.2v1.15h-1.2zM627.41 222.6h1.2v1.15h-1.2zM639.06 222.6h1.2v1.15h-1.2zM643.72 222.6h1.2v1.15h-1.2zM650.66 222.6h1.2v1.15h-1.2zM656.57 222.6h1.2v1.15h-1.2zM585.08 221.2h1.2v1.15h-1.2zM585.47 221.2h1.2v1.15h-1.2zM585.82 221.2h1.2v1.15h-1.2zM591.37 221.2h1.2v1.15h-1.2zM592.34 221.2h1.2v1.15h-1.2zM593.01 221.2h1.2v1.15h-1.2zM594.43 221.2h1.2v1.15h-1.2zM600.23 221.2h1.2v1.15h-1.2zM601.04 221.2h1.2v1.15h-1.2zM602.62 221.2h1.2v1.15h-1.2zM616.13 221.2h1.2v1.15h-1.2zM656.56 221.2h1.2v1.15h-1.2zM662.49 221.2h1.2v1.15h-1.2zM668.14 221.2h1.2v1.15h-1.2zM670.45 221.2h1.2v1.15h-1.2zM674.73 221.2h1.2v1.15h-1.2zM679.27 221.2h1.2v1.15h-1.2zM680.17 221.2h1.2v1.15h-1.2zM680.84 221.2h1.2v1.15h-1.2zM604.17 221.2h1.2v1.15h-1.2zM615.82 221.2h1.2v1.15h-1.2zM627.28 221.2h1.2v1.15h-1.2zM644.23 221.2h1.2v1.15h-1.2zM650.6 221.2h1.2v1.15h-1.2zM656.28 221.2h1.2v1.15h-1.2zM586.74 219.81h1.2v1.15h-1.2zM587.1 219.81h1.2v1.15h-1.2zM590.09 219.81h1.2v1.15h-1.2zM590.6 219.81h1.2v1.15h-1.2zM591.69 219.81h1.2v1.15h-1.2zM595.77 219.81h1.2v1.15h-1.2zM597.01 219.81h1.2v1.15h-1.2zM597.68 219.81h1.2v1.15h-1.2zM659.77 219.81h1.2v1.15h-1.2zM662.18 219.81h1.2v1.15h-1.2zM678.07 219.81h1.2v1.15h-1.2zM678.14 219.81h1.2v1.15h-1.2zM604.19 219.81h1.2v1.15h-1.2zM608.77 219.81h1.2v1.15h-1.2zM615.83 219.81h1.2v1.15h-1.2zM627.33 219.81h1.2v1.15h-1.2zM639.03 219.81h1.2v1.15h-1.2zM650.71 219.81h1.2v1.15h-1.2zM655.78 219.81h1.2v1.15h-1.2zM587.86 218.41h1.2v1.15h-1.2zM589.05 218.41h1.2v1.15h-1.2zM591.47 218.41h1.2v1.15h-1.2zM593.03 218.41h1.2v1.15h-1.2zM594.18 218.41h1.2v1.15h-1.2zM595.96 218.41h1.2v1.15h-1.2zM620.59 218.41h1.2v1.15h-1.2zM621.55 218.41h1.2v1.15h-1.2zM632.21 218.41h1.2v1.15h-1.2zM660.67 218.41h1.2v1.15h-1.2zM663.72 218.41h1.2v1.15h-1.2zM664.67 218.41h1.2v1.15h-1.2zM668.28 218.41h1.2v1.15h-1.2zM673.97 218.41h1.2v1.15h-1.2zM674.24 218.41h1.2v1.15h-1.2zM674.58 218.41h1.2v1.15h-1.2zM604.07 218.41h1.2v1.15h-1.2zM609.29 218.41h1.2v1.15h-1.2zM615.7 218.41h1.2v1.15h-1.2zM627.37 218.41h1.2v1.15h-1.2zM631.89 218.41h1.2v1.15h-1.2zM639.01 218.41h1.2v1.15h-1.2zM643.6 218.41h1.2v1.15h-1.2zM586.18 217.02h1.2v1.15h-1.2zM587.25 217.02h1.2v1.15h-1.2zM588.29 217.02h1.2v1.15h-1.2zM590.08 217.02h1.2v1.15h-1.2zM600.7 217.02h1.2v1.15h-1.2zM662.36 217.02h1.2v1.15h-1.2zM663.28 217.02h1.2v1.15h-1.2zM670.04 217.02h1.2v1.15h-1.2zM674.22 217.02h1.2v1.15h-1.2zM676.38 217.02h1.2v1.15h-1.2zM677.44 217.02h1.2v1.15h-1.2zM604.09 217.02h1.2v1.15h-1.2zM615.88 217.02h1.2v1.15h-1.2zM627.45 217.02h1.2v1.15h-1.2zM632.46 217.02h1.2v1.15h-1.2zM639.12 217.02h1.2v1.15h-1.2zM643.71 217.02h1.2v1.15h-1.2zM650.71 217.02h1.2v1.15h-1.2zM584.43 215.62h1.2v1.15h-1.2zM586.39 215.62h1.2v1.15h-1.2zM586.6 215.62h1.2v1.15h-1.2zM587.04 215.62h1.2v1.15h-1.2zM592.04 215.62h1.2v1.15h-1.2zM592.67 215.62h1.2v1.15h-1.2zM592.84 215.62h1.2v1.15h-1.2zM596.52 215.62h1.2v1.15h-1.2zM601.05 215.62h1.2v1.15h-1.2zM602.65 215.62h1.2v1.15h-1.2zM632.23 215.62h1.2v1.15h-1.2zM649.53 215.62h1.2v1.15h-1.2zM659.2 215.62h1.2v1.15h-1.2zM663.72 215.62h1.2v1.15h-1.2zM664.89 215.62h1.2v1.15h-1.2zM666.5 215.62h1.2v1.15h-1.2zM669.86 215.62h1.2v1.15h-1.2zM671.76 215.62h1.2v1.15h-1.2zM672.95 215.62h1.2v1.15h-1.2zM675.97 215.62h1.2v1.15h-1.2zM677.29 215.62h1.2v1.15h-1.2zM677.36 215.62h1.2v1.15h-1.2zM677.67 215.62h1.2v1.15h-1.2zM677.9 215.62h1.2v1.15h-1.2zM609.56 215.62h1.2v1.15h-1.2zM615.8 215.62h1.2v1.15h-1.2zM619.83 215.62h1.2v1.15h-1.2zM627.4 215.62h1.2v1.15h-1.2zM632.36 215.62h1.2v1.15h-1.2zM639.13 215.62h1.2v1.15h-1.2zM644.3 215.62h1.2v1.15h-1.2zM650.53 215.62h1.2v1.15h-1.2zM583.78 214.23h1.2v1.15h-1.2zM586.33 214.23h1.2v1.15h-1.2zM587.22 214.23h1.2v1.15h-1.2zM587.88 214.23h1.2v1.15h-1.2zM588.19 214.23h1.2v1.15h-1.2zM590.39 214.23h1.2v1.15h-1.2zM590.44 214.23h1.2v1.15h-1.2zM595.06 214.23h1.2v1.15h-1.2zM596.35 214.23h1.2v1.15h-1.2zM599.22 214.23h1.2v1.15h-1.2zM660.53 214.23h1.2v1.15h-1.2zM663.03 214.23h1.2v1.15h-1.2zM663.7 214.23h1.2v1.15h-1.2zM669.19 214.23h1.2v1.15h-1.2zM669.58 214.23h1.2v1.15h-1.2zM673.68 214.23h1.2v1.15h-1.2zM604.2 214.23h1.2v1.15h-1.2zM608.42 214.23h1.2v1.15h-1.2zM615.92 214.23h1.2v1.15h-1.2zM620.85 214.23h1.2v1.15h-1.2zM627.48 214.23h1.2v1.15h-1.2zM632.25 214.23h1.2v1.15h-1.2zM639.03 214.23h1.2v1.15h-1.2zM650.66 214.23h1.2v1.15h-1.2zM587.41 212.83h1.2v1.15h-1.2zM588.31 212.83h1.2v1.15h-1.2zM588.74 212.83h1.2v1.15h-1.2zM599.53 212.83h1.2v1.15h-1.2zM600.76 212.83h1.2v1.15h-1.2zM621.27 212.83h1.2v1.15h-1.2zM665.82 212.83h1.2v1.15h-1.2zM666.13 212.83h1.2v1.15h-1.2zM673.75 212.83h1.2v1.15h-1.2zM680.56 212.83h1.2v1.15h-1.2zM604.3 212.83h1.2v1.15h-1.2zM608.65 212.83h1.2v1.15h-1.2zM615.88 212.83h1.2v1.15h-1.2zM620.22 212.83h1.2v1.15h-1.2zM627.5 212.83h1.2v1.15h-1.2zM639.02 212.83h1.2v1.15h-1.2zM650.65 212.83h1.2v1.15h-1.2zM587.58 211.44h1.2v1.15h-1.2zM589.37 211.44h1.2v1.15h-1.2zM594.8 211.44h1.2v1.15h-1.2zM595.76 211.44h1.2v1.15h-1.2zM602.23 211.44h1.2v1.15h-1.2zM661.62 211.44h1.2v1.15h-1.2zM661.76 211.44h1.2v1.15h-1.2zM663.51 211.44h1.2v1.15h-1.2zM664.33 211.44h1.2v1.15h-1.2zM668.19 211.44h1.2v1.15h-1.2zM674.13 211.44h1.2v1.15h-1.2zM674.53 211.44h1.2v1.15h-1.2zM674.64 211.44h1.2v1.15h-1.2zM676.5 211.44h1.2v1.15h-1.2zM604.03 211.44h1.2v1.15h-1.2zM615.8 211.44h1.2v1.15h-1.2zM627.47 211.44h1.2v1.15h-1.2zM632.86 211.44h1.2v1.15h-1.2zM638.94 211.44h1.2v1.15h-1.2zM650.48 211.44h1.2v1.15h-1.2zM584.5 210.04h1.2v1.15h-1.2zM585.13 210.04h1.2v1.15h-1.2zM587.92 210.04h1.2v1.15h-1.2zM591.21 210.04h1.2v1.15h-1.2zM602.68 210.04h1.2v1.15h-1.2zM631.7 210.04h1.2v1.15h-1.2zM667.44 210.04h1.2v1.15h-1.2zM667.77 210.04h1.2v1.15h-1.2zM679.29 210.04h1.2v1.15h-1.2zM680.13 210.04h1.2v1.15h-1.2zM604.29 210.04h1.2v1.15h-1.2zM609.28 210.04h1.2v1.15h-1.2zM615.84 210.04h1.2v1.15h-1.2zM627.5 210.04h1.2v1.15h-1.2zM639.08 210.04h1.2v1.15h-1.2zM655.36 210.04h1.2v1.15h-1.2zM593.79 208.65h1.2v1.15h-1.2zM599.06 208.65h1.2v1.15h-1.2zM632.74 208.65h1.2v1.15h-1.2zM659.81 208.65h1.2v1.15h-1.2zM661.58 208.65h1.2v1.15h-1.2zM663.43 208.65h1.2v1.15h-1.2zM665.26 208.65h1.2v1.15h-1.2zM667.16 208.65h1.2v1.15h-1.2zM675.21 208.65h1.2v1.15h-1.2zM677.79 208.65h1.2v1.15h-1.2zM681.93 208.65h1.2v1.15h-1.2zM604.37 208.65h1.2v1.15h-1.2zM609.44 208.65h1.2v1.15h-1.2zM615.73 208.65h1.2v1.15h-1.2zM627.41 208.65h1.2v1.15h-1.2zM632.94 208.65h1.2v1.15h-1.2zM638.89 208.65h1.2v1.15h-1.2zM650.67 208.65h1.2v1.15h-1.2zM585.83 207.25h1.2v1.15h-1.2zM590.81 207.25h1.2v1.15h-1.2zM591.7 207.25h1.2v1.15h-1.2zM596.24 207.25h1.2v1.15h-1.2zM597.34 207.25h1.2v1.15h-1.2zM601.68 207.25h1.2v1.15h-1.2zM659.18 207.25h1.2v1.15h-1.2zM662.63 207.25h1.2v1.15h-1.2zM663.03 207.25h1.2v1.15h-1.2zM663.76 207.25h1.2v1.15h-1.2zM668.15 207.25h1.2v1.15h-1.2zM672.54 207.25h1.2v1.15h-1.2zM678.67 207.25h1.2v1.15h-1.2zM679.4 207.25h1.2v1.15h-1.2zM609.68 207.25h1.2v1.15h-1.2zM615.89 207.25h1.2v1.15h-1.2zM627.37 207.25h1.2v1.15h-1.2zM632.85 207.25h1.2v1.15h-1.2zM639.25 207.25h1.2v1.15h-1.2zM650.66 207.25h1.2v1.15h-1.2zM655.59 207.25h1.2v1.15h-1.2zM586.97 205.86h1.2v1.15h-1.2zM589.26 205.86h1.2v1.15h-1.2zM590.07 205.86h1.2v1.15h-1.2zM593.03 205.86h1.2v1.15h-1.2zM596.11 205.86h1.2v1.15h-1.2zM660.23 205.86h1.2v1.15h-1.2zM662.55 205.86h1.2v1.15h-1.2zM662.82 205.86h1.2v1.15h-1.2zM667.54 205.86h1.2v1.15h-1.2zM675.17 205.86h1.2v1.15h-1.2zM682.31 205.86h1.2v1.15h-1.2zM604.09 205.86h1.2v1.15h-1.2zM608.93 205.86h1.2v1.15h-1.2zM627.34 205.86h1.2v1.15h-1.2zM650.67 205.86h1.2v1.15h-1.2zM656.54 205.86h1.2v1.15h-1.2zM589.72 204.46h1.2v1.15h-1.2zM590.8 204.46h1.2v1.15h-1.2zM591.5 204.46h1.2v1.15h-1.2zM593.62 204.46h1.2v1.15h-1.2zM594.38 204.46h1.2v1.15h-1.2zM594.47 204.46h1.2v1.15h-1.2zM596.86 204.46h1.2v1.15h-1.2zM598.54 204.46h1.2v1.15h-1.2zM659.36 204.46h1.2v1.15h-1.2zM659.8 204.46h1.2v1.15h-1.2zM661.12 204.46h1.2v1.15h-1.2zM661.5 204.46h1.2v1.15h-1.2zM661.9 204.46h1.2v1.15h-1.2zM667.28 204.46h1.2v1.15h-1.2zM669.13 204.46h1.2v1.15h-1.2zM669.25 204.46h1.2v1.15h-1.2zM673.14 204.46h1.2v1.15h-1.2zM673.22 204.46h1.2v1.15h-1.2zM674.47 204.46h1.2v1.15h-1.2zM674.51 204.46h1.2v1.15h-1.2zM678.98 204.46h1.2v1.15h-1.2zM679.54 204.46h1.2v1.15h-1.2zM604.2 204.46h1.2v1.15h-1.2zM608.77 204.46h1.2v1.15h-1.2zM615.69 204.46h1.2v1.15h-1.2zM632.55 204.46h1.2v1.15h-1.2zM639.06 204.46h1.2v1.15h-1.2zM650.6 204.46h1.2v1.15h-1.2zM593.06 203.07h1.2v1.15h-1.2zM594.95 203.07h1.2v1.15h-1.2zM600.81 203.07h1.2v1.15h-1.2zM611.06 203.07h1.2v1.15h-1.2zM632.89 203.07h1.2v1.15h-1.2zM665.98 203.07h1.2v1.15h-1.2zM668.18 203.07h1.2v1.15h-1.2zM676.41 203.07h1.2v1.15h-1.2zM680.52 203.07h1.2v1.15h-1.2zM681.26 203.07h1.2v1.15h-1.2zM682.01 203.07h1.2v1.15h-1.2zM604.09 203.07h1.2v1.15h-1.2zM609.38 203.07h1.2v1.15h-1.2zM615.85 203.07h1.2v1.15h-1.2zM621.29 203.07h1.2v1.15h-1.2zM627.31 203.07h1.2v1.15h-1.2zM633.06 203.07h1.2v1.15h-1.2zM639.02 203.07h1.2v1.15h-1.2zM643.95 203.07h1.2v1.15h-1.2zM650.64 203.07h1.2v1.15h-1.2zM586.66 201.67h1.2v1.15h-1.2zM596.29 201.67h1.2v1.15h-1.2zM597.28 201.67h1.2v1.15h-1.2zM603 201.67h1.2v1.15h-1.2zM627.06 201.67h1.2v1.15h-1.2zM661.03 201.67h1.2v1.15h-1.2zM665.15 201.67h1.2v1.15h-1.2zM673.79 201.67h1.2v1.15h-1.2zM674.71 201.67h1.2v1.15h-1.2zM604.23 201.67h1.2v1.15h-1.2zM615.73 201.67h1.2v1.15h-1.2zM631.66 201.67h1.2v1.15h-1.2zM638.92 201.67h1.2v1.15h-1.2zM643.95 201.67h1.2v1.15h-1.2zM650.66 201.67h1.2v1.15h-1.2zM592.73 200.28h1.2v1.15h-1.2zM596.05 200.28h1.2v1.15h-1.2zM596.52 200.28h1.2v1.15h-1.2zM598.85 200.28h1.2v1.15h-1.2zM600 200.28h1.2v1.15h-1.2zM664.58 200.28h1.2v1.15h-1.2zM666.14 200.28h1.2v1.15h-1.2zM667.28 200.28h1.2v1.15h-1.2zM673.51 200.28h1.2v1.15h-1.2zM674.52 200.28h1.2v1.15h-1.2zM674.94 200.28h1.2v1.15h-1.2zM677.32 200.28h1.2v1.15h-1.2zM604.09 200.28h1.2v1.15h-1.2zM615.8 200.28h1.2v1.15h-1.2zM621.13 200.28h1.2v1.15h-1.2zM627.33 200.28h1.2v1.15h-1.2zM632.57 200.28h1.2v1.15h-1.2zM639.07 200.28h1.2v1.15h-1.2zM644.05 200.28h1.2v1.15h-1.2zM650.55 200.28h1.2v1.15h-1.2zM584.89 198.88h1.2v1.15h-1.2zM590.54 198.88h1.2v1.15h-1.2zM591.97 198.88h1.2v1.15h-1.2zM594.56 198.88h1.2v1.15h-1.2zM594.76 198.88h1.2v1.15h-1.2zM597.07 198.88h1.2v1.15h-1.2zM599.32 198.88h1.2v1.15h-1.2zM632.28 198.88h1.2v1.15h-1.2zM660.34 198.88h1.2v1.15h-1.2zM660.44 198.88h1.2v1.15h-1.2zM663.71 198.88h1.2v1.15h-1.2zM664.12 198.88h1.2v1.15h-1.2zM665.56 198.88h1.2v1.15h-1.2zM676.71 198.88h1.2v1.15h-1.2zM677.59 198.88h1.2v1.15h-1.2zM677.84 198.88h1.2v1.15h-1.2zM680.43 198.88h1.2v1.15h-1.2zM681.05 198.88h1.2v1.15h-1.2zM681.61 198.88h1.2v1.15h-1.2zM609.01 198.88h1.2v1.15h-1.2zM621.38 198.88h1.2v1.15h-1.2zM627.54 198.88h1.2v1.15h-1.2zM632.18 198.88h1.2v1.15h-1.2zM638.98 198.88h1.2v1.15h-1.2zM644.25 198.88h1.2v1.15h-1.2zM650.6 198.88h1.2v1.15h-1.2zM586.06 197.49h1.2v1.15h-1.2zM586.33 197.49h1.2v1.15h-1.2zM586.64 197.49h1.2v1.15h-1.2zM588.23 197.49h1.2v1.15h-1.2zM589.82 197.49h1.2v1.15h-1.2zM590.72 197.49h1.2v1.15h-1.2zM601.37 197.49h1.2v1.15h-1.2zM604.51 197.49h1.2v1.15h-1.2zM609.54 197.49h1.2v1.15h-1.2zM643.4 197.49h1.2v1.15h-1.2zM662.89 197.49h1.2v1.15h-1.2zM670.5 197.49h1.2v1.15h-1.2zM671.71 197.49h1.2v1.15h-1.2zM671.93 197.49h1.2v1.15h-1.2zM675.35 197.49h1.2v1.15h-1.2zM680.21 197.49h1.2v1.15h-1.2zM681.87 197.49h1.2v1.15h-1.2zM604.11 197.49h1.2v1.15h-1.2zM609.9 197.49h1.2v1.15h-1.2zM615.81 197.49h1.2v1.15h-1.2zM627.41 197.49h1.2v1.15h-1.2zM633.41 197.49h1.2v1.15h-1.2zM638.97 197.49h1.2v1.15h-1.2zM643.83 197.49h1.2v1.15h-1.2zM650.63 197.49h1.2v1.15h-1.2zM586.94 196.09h1.2v1.15h-1.2zM587.64 196.09h1.2v1.15h-1.2zM590.01 196.09h1.2v1.15h-1.2zM594.36 196.09h1.2v1.15h-1.2zM598.35 196.09h1.2v1.15h-1.2zM599.19 196.09h1.2v1.15h-1.2zM602.05 196.09h1.2v1.15h-1.2zM632.96 196.09h1.2v1.15h-1.2zM659.93 196.09h1.2v1.15h-1.2zM662.26 196.09h1.2v1.15h-1.2zM663.29 196.09h1.2v1.15h-1.2zM671.92 196.09h1.2v1.15h-1.2zM672.27 196.09h1.2v1.15h-1.2zM604.25 196.09h1.2v1.15h-1.2zM609.6 196.09h1.2v1.15h-1.2zM615.81 196.09h1.2v1.15h-1.2zM627.38 196.09h1.2v1.15h-1.2zM632.88 196.09h1.2v1.15h-1.2zM639.12 196.09h1.2v1.15h-1.2zM644.27 196.09h1.2v1.15h-1.2zM650.57 196.09h1.2v1.15h-1.2zM586.97 194.7h1.2v1.15h-1.2zM587.54 194.7h1.2v1.15h-1.2zM593.29 194.7h1.2v1.15h-1.2zM595.79 194.7h1.2v1.15h-1.2zM596.93 194.7h1.2v1.15h-1.2zM597.58 194.7h1.2v1.15h-1.2zM609.36 194.7h1.2v1.15h-1.2zM664.57 194.7h1.2v1.15h-1.2zM666.57 194.7h1.2v1.15h-1.2zM673.2 194.7h1.2v1.15h-1.2zM673.44 194.7h1.2v1.15h-1.2zM680.24 194.7h1.2v1.15h-1.2zM604.18 194.7h1.2v1.15h-1.2zM609.79 194.7h1.2v1.15h-1.2zM615.76 194.7h1.2v1.15h-1.2zM632.99 194.7h1.2v1.15h-1.2zM638.99 194.7h1.2v1.15h-1.2zM643.9 194.7h1.2v1.15h-1.2zM650.65 194.7h1.2v1.15h-1.2zM655.65 194.7h1.2v1.15h-1.2zM589.21 193.3h1.2v1.15h-1.2zM589.36 193.3h1.2v1.15h-1.2zM591.14 193.3h1.2v1.15h-1.2zM591.37 193.3h1.2v1.15h-1.2zM596.33 193.3h1.2v1.15h-1.2zM597.67 193.3h1.2v1.15h-1.2zM600.69 193.3h1.2v1.15h-1.2zM644.17 193.3h1.2v1.15h-1.2zM672.96 193.3h1.2v1.15h-1.2zM682.38 193.3h1.2v1.15h-1.2zM609.41 193.3h1.2v1.15h-1.2zM615.85 193.3h1.2v1.15h-1.2zM622.11 193.3h1.2v1.15h-1.2zM627.53 193.3h1.2v1.15h-1.2zM632.42 193.3h1.2v1.15h-1.2zM639.02 193.3h1.2v1.15h-1.2zM643.68 193.3h1.2v1.15h-1.2zM650.7 193.3h1.2v1.15h-1.2zM584.39 191.91h1.2v1.15h-1.2zM591.91 191.91h1.2v1.15h-1.2zM593.02 191.91h1.2v1.15h-1.2zM597.32 191.91h1.2v1.15h-1.2zM610.43 191.91h1.2v1.15h-1.2zM647.45 191.91h1.2v1.15h-1.2zM667.88 191.91h1.2v1.15h-1.2zM671.94 191.91h1.2v1.15h-1.2zM676.45 191.91h1.2v1.15h-1.2zM678.27 191.91h1.2v1.15h-1.2zM680.22 191.91h1.2v1.15h-1.2zM604.27 191.91h1.2v1.15h-1.2zM608.86 191.91h1.2v1.15h-1.2zM615.83 191.91h1.2v1.15h-1.2zM620.59 191.91h1.2v1.15h-1.2zM627.56 191.91h1.2v1.15h-1.2zM639.26 191.91h1.2v1.15h-1.2zM643.89 191.91h1.2v1.15h-1.2zM650.53 191.91h1.2v1.15h-1.2zM656.09 191.91h1.2v1.15h-1.2zM584.24 190.51h1.2v1.15h-1.2zM586.49 190.51h1.2v1.15h-1.2zM587.99 190.51h1.2v1.15h-1.2zM592.03 190.51h1.2v1.15h-1.2zM592.72 190.51h1.2v1.15h-1.2zM595.04 190.51h1.2v1.15h-1.2zM595.58 190.51h1.2v1.15h-1.2zM596.8 190.51h1.2v1.15h-1.2zM598.58 190.51h1.2v1.15h-1.2zM600.99 190.51h1.2v1.15h-1.2zM632.09 190.51h1.2v1.15h-1.2zM660.7 190.51h1.2v1.15h-1.2zM662.55 190.51h1.2v1.15h-1.2zM669.08 190.51h1.2v1.15h-1.2zM674.42 190.51h1.2v1.15h-1.2zM676.41 190.51h1.2v1.15h-1.2zM678.89 190.51h1.2v1.15h-1.2zM680.29 190.51h1.2v1.15h-1.2zM604.22 190.51h1.2v1.15h-1.2zM608.85 190.51h1.2v1.15h-1.2zM615.84 190.51h1.2v1.15h-1.2zM621.09 190.51h1.2v1.15h-1.2zM632.61 190.51h1.2v1.15h-1.2zM639.12 190.51h1.2v1.15h-1.2zM643.83 190.51h1.2v1.15h-1.2zM650.59 190.51h1.2v1.15h-1.2zM655.07 190.51h1.2v1.15h-1.2zM584.95 189.12h1.2v1.15h-1.2zM589.11 189.12h1.2v1.15h-1.2zM589.12 189.12h1.2v1.15h-1.2zM589.31 189.12h1.2v1.15h-1.2zM591.29 189.12h1.2v1.15h-1.2zM597.74 189.12h1.2v1.15h-1.2zM609.34 189.12h1.2v1.15h-1.2zM620.45 189.12h1.2v1.15h-1.2zM643.39 189.12h1.2v1.15h-1.2zM667.1 189.12h1.2v1.15h-1.2zM668.71 189.12h1.2v1.15h-1.2zM675.62 189.12h1.2v1.15h-1.2zM676.27 189.12h1.2v1.15h-1.2zM604.16 189.12h1.2v1.15h-1.2zM609.27 189.12h1.2v1.15h-1.2zM615.71 189.12h1.2v1.15h-1.2zM627.51 189.12h1.2v1.15h-1.2zM639 189.12h1.2v1.15h-1.2zM650.6 189.12h1.2v1.15h-1.2zM586.36 187.72h1.2v1.15h-1.2zM596.3 187.72h1.2v1.15h-1.2zM598.62 187.72h1.2v1.15h-1.2zM599.08 187.72h1.2v1.15h-1.2zM601.46 187.72h1.2v1.15h-1.2zM632.84 187.72h1.2v1.15h-1.2zM643.78 187.72h1.2v1.15h-1.2zM661.94 187.72h1.2v1.15h-1.2zM669.67 187.72h1.2v1.15h-1.2zM678.72 187.72h1.2v1.15h-1.2zM681.5 187.72h1.2v1.15h-1.2zM604.21 187.72h1.2v1.15h-1.2zM615.86 187.72h1.2v1.15h-1.2zM621.88 187.72h1.2v1.15h-1.2zM627.39 187.72h1.2v1.15h-1.2zM639.14 187.72h1.2v1.15h-1.2zM643.98 187.72h1.2v1.15h-1.2zM650.63 187.72h1.2v1.15h-1.2zM584.65 186.33h1.2v1.15h-1.2zM585.14 186.33h1.2v1.15h-1.2zM589.6 186.33h1.2v1.15h-1.2zM594.09 186.33h1.2v1.15h-1.2zM598.07 186.33h1.2v1.15h-1.2zM608.35 186.33h1.2v1.15h-1.2zM632.74 186.33h1.2v1.15h-1.2zM655.7 186.33h1.2v1.15h-1.2zM667.11 186.33h1.2v1.15h-1.2zM667.72 186.33h1.2v1.15h-1.2zM671.56 186.33h1.2v1.15h-1.2zM674.18 186.33h1.2v1.15h-1.2zM676.11 186.33h1.2v1.15h-1.2zM676.28 186.33h1.2v1.15h-1.2zM677.09 186.33h1.2v1.15h-1.2zM678.86 186.33h1.2v1.15h-1.2zM604.23 186.33h1.2v1.15h-1.2zM609.37 186.33h1.2v1.15h-1.2zM615.93 186.33h1.2v1.15h-1.2zM620.5 186.33h1.2v1.15h-1.2zM627.5 186.33h1.2v1.15h-1.2zM639.06 186.33h1.2v1.15h-1.2zM650.65 186.33h1.2v1.15h-1.2zM655.15 186.33h1.2v1.15h-1.2zM589.74 184.93h1.2v1.15h-1.2zM595.92 184.93h1.2v1.15h-1.2zM597.28 184.93h1.2v1.15h-1.2zM601.02 184.93h1.2v1.15h-1.2zM601.31 184.93h1.2v1.15h-1.2zM601.38 184.93h1.2v1.15h-1.2zM602.82 184.93h1.2v1.15h-1.2zM637.53 184.93h1.2v1.15h-1.2zM659.57 184.93h1.2v1.15h-1.2zM661.36 184.93h1.2v1.15h-1.2zM666.71 184.93h1.2v1.15h-1.2zM672.87 184.93h1.2v1.15h-1.2zM678.49 184.93h1.2v1.15h-1.2zM608.58 184.93h1.2v1.15h-1.2zM615.91 184.93h1.2v1.15h-1.2zM627.49 184.93h1.2v1.15h-1.2zM632.81 184.93h1.2v1.15h-1.2zM638.97 184.93h1.2v1.15h-1.2zM655.64 184.93h1.2v1.15h-1.2zM585.29 183.54h1.2v1.15h-1.2zM621.29 183.54h1.2v1.15h-1.2zM632.43 183.54h1.2v1.15h-1.2zM661.77 183.54h1.2v1.15h-1.2zM662.05 183.54h1.2v1.15h-1.2zM666.72 183.54h1.2v1.15h-1.2zM667.97 183.54h1.2v1.15h-1.2zM669.11 183.54h1.2v1.15h-1.2zM670.34 183.54h1.2v1.15h-1.2zM670.65 183.54h1.2v1.15h-1.2zM673.64 183.54h1.2v1.15h-1.2zM673.77 183.54h1.2v1.15h-1.2zM675.07 183.54h1.2v1.15h-1.2zM615.85 183.54h1.2v1.15h-1.2zM627.43 183.54h1.2v1.15h-1.2zM639.02 183.54h1.2v1.15h-1.2zM643.5 183.54h1.2v1.15h-1.2zM650.62 183.54h1.2v1.15h-1.2zM655.87 183.54h1.2v1.15h-1.2zM595.98 182.14h1.2v1.15h-1.2zM596.53 182.14h1.2v1.15h-1.2zM599.88 182.14h1.2v1.15h-1.2zM603.04 182.14h1.2v1.15h-1.2zM620.84 182.14h1.2v1.15h-1.2zM621 182.14h1.2v1.15h-1.2zM670.63 182.14h1.2v1.15h-1.2zM680.77 182.14h1.2v1.15h-1.2zM682.28 182.14h1.2v1.15h-1.2zM604.13 182.14h1.2v1.15h-1.2zM627.33 182.14h1.2v1.15h-1.2zM632.55 182.14h1.2v1.15h-1.2zM639.11 182.14h1.2v1.15h-1.2zM650.7 182.14h1.2v1.15h-1.2zM594.65 180.75h1.2v1.15h-1.2zM594.84 180.75h1.2v1.15h-1.2zM596.95 180.75h1.2v1.15h-1.2zM601.42 180.75h1.2v1.15h-1.2zM612.79 180.75h1.2v1.15h-1.2zM658.15 180.75h1.2v1.15h-1.2zM660.56 180.75h1.2v1.15h-1.2zM663.51 180.75h1.2v1.15h-1.2zM664.26 180.75h1.2v1.15h-1.2zM665.18 180.75h1.2v1.15h-1.2zM667.55 180.75h1.2v1.15h-1.2zM671.22 180.75h1.2v1.15h-1.2zM671.42 180.75h1.2v1.15h-1.2zM676.41 180.75h1.2v1.15h-1.2zM677.48 180.75h1.2v1.15h-1.2zM679.43 180.75h1.2v1.15h-1.2zM604.12 180.75h1.2v1.15h-1.2zM615.9 180.75h1.2v1.15h-1.2zM627.52 180.75h1.2v1.15h-1.2zM638.96 180.75h1.2v1.15h-1.2zM644.05 180.75h1.2v1.15h-1.2zM650.63 180.75h1.2v1.15h-1.2z" fill="#333"/>
<path d="M584.3 280.4h1.27v-3.4h-1.27zM585.89 280.4h1.27v-3.4h-1.27zM587.48 280.4h1.27v-3.4h-1.27zM589.08 280.4h1.27v-3.4h-1.27zM590.67 280.4h1.27v-3.4h-1.27zM592.26 280.4h1.27v-3.4h-1.27zM593.85 280.4h1.27v-3.4h-1.27zM595.44 280.4h1.27v-3.4h-1.27zM597.03 280.4h1.27v-3.4h-1.27zM598.63 280.4h1.27v-3.4h-1.27zM600.22 280.4h1.27v-3.4h-1.27zM601.81 280.4h1.27v-3.4h-1.27zM603.4 280.4h1.27v-3.4h-1.27zM606.58 280.4h1.27v-3.4h-1.27zM608.18 280.4h1.27v-3.4h-1.27zM609.77 280.4h1.27v-3.4h-1.27zM616.13 280.4h1.27v-3.4h-1.27zM619.32 280.4h1.27v-3.4h-1.27zM620.91 280.4h1.27v-3.4h-1.27zM622.5 280.4h1.27v-3.4h-1.27zM627.28 280.4h1.27v-3.4h-1.27zM630.46 280.4h1.27v-3.4h-1.27zM632.05 280.4h1.27v-3.4h-1.27zM633.64 280.4h1.27v-3.4h-1.27zM638.42 280.4h1.27v-3.4h-1.27zM641.6 280.4h1.27v-3.4h-1.27zM643.19 280.4h1.27v-3.4h-1.27zM644.78 280.4h1.27v-3.4h-1.27zM647.97 280.4h1.27v-3.4h-1.27zM651.15 280.4h1.27v-3.4h-1.27zM654.33 280.4h1.27v-3.4h-1.27zM655.93 280.4h1.27v-3.4h-1.27zM659.11 280.4h1.27v-3.4h-1.27zM660.7 280.4h1.27v-3.4h-1.27zM662.29 280.4h1.27v-3.4h-1.27zM663.88 280.4h1.27v-3.4h-1.27zM665.48 280.4h1.27v-3.4h-1.27zM667.07 280.4h1.27v-3.4h-1.27zM668.66 280.4h1.27v-3.4h-1.27zM670.25 280.4h1.27v-3.4h-1.27zM671.84 280.4h1.27v-3.4h-1.27zM673.43 280.4h1.27v-3.4h-1.27zM675.03 280.4h1.27v-3.4h-1.27zM676.62 280.4h1.27v-3.4h-1.27zM678.21 280.4h1.27v-3.4h-1.27zM679.8 280.4h1.27v-3.4h-1.27zM681.39 280.4h1.27v-3.4h-1.27z" fill="#000" opacity="0.3"/>
<path d="M593.85 280.4h1.27v-6.8h-1.27zM598.63 280.4h1.27v-6.8h-1.27zM603.4 280.4h1.27v-6.8h-1.27zM608.18 280.4h1.27v-6.8h-1.27zM609.77 280.4h1.27v-6.8h-1.27zM616.13 280.4h1.27v-6.8h-1.27zM620.91 280.4h1.27v-6.8h-1.27zM627.28 280.4h1.27v-6.8h-1.27zM632.05 280.4h1.27v-6.8h-1.27zM638.42 280.4h1.27v-6.8h-1.27zM643.19 280.4h1.27v-6.8h-1.27zM644.78 280.4h1.27v-6.8h-1.27zM651.15 280.4h1.27v-6.8h-1.27zM654.33 280.4h1.27v-6.8h-1.27zM655.93 280.4h1.27v-6.8h-1.27zM665.48 280.4h1.27v-6.8h-1.27zM670.25 280.4h1.27v-6.8h-1.27zM676.62 280.4h1.27v-6.8h-1.27zM681.39 280.4h1.27v-6.8h-1.27z" fill="#000" opacity="0.3"/>
<path d="M603.4 280.4h1.27v-10.2h-1.27zM616.13 280.4h1.27v-10.2h-1.27zM620.91 280.4h1.27v-10.2h-1.27zM627.28 280.4h1.27v-10.2h-1.27zM632.05 280.4h1.27v-10.2h-1.27zM638.42 280.4h1.27v-10.2h-1.27zM643.19 280.4h1.27v-10.2h-1.27zM651.15 280.4h1.27v-10.2h-1.27zM655.93 280.4h1.27v-10.2h-1.27z" fill="#000" opacity="0.09"/>
<path d="M603.4 280.4h1.27v-13.6h-1.27zM616.13 280.4h1.27v-13.6h-1.27zM620.91 280.4h1.27v-13.6h-1.27zM627.28 280.4h1.27v-13.6h-1.27zM638.42 280.4h1.27v-13.6h-1.27zM651.15 280.4h1.27v-13.6h-1.27z" fill="#000" opacity="0.09"/>
<path d="M603.4 280.4h1.27v-17h-1.27zM616.13 280.4h1.27v-17h-1.27zM627.28 280.4h1.27v-17h-1.27zM638.42 280.4h1.27v-17h-1.27zM651.15 280.4h1.27v-17h-1.27z" fill="#000" opacity="0.09"/>
<path d="M603.4 280.4h1.27v-20.4h-1.27zM627.28 280.4h1.27v-20.4h-1.27z" fill="#000" opacity="0.09"/>
<path d="M603.4 280.4h1.27v-23.8h-1.27zM627.28 280.4h1.27v-23.8h-1.27z" fill="#000" opacity="0.09"/>
<line x1="584.3" y1="180" x2="584.3" y2="250.9" stroke="#5a5a5a" stroke-width="1.1"/>
<line x1="584.3" y1="252.3" x2="584.3" y2="280.9" stroke="#5a5a5a" stroke-width="1.1"/>
<line x1="583.8" y1="250.4" x2="683.1" y2="250.4" stroke="#5a5a5a" stroke-width="1.2"/>
<line x1="583.8" y1="280.4" x2="683.1" y2="280.4" stroke="#5a5a5a" stroke-width="1.2"/>
<line x1="584.3" y1="280.4" x2="584.3" y2="282" stroke="#5a5a5a" stroke-width="0.8"/>
<line x1="584.3" y1="250.4" x2="584.3" y2="251.8" stroke="#5a5a5a" stroke-width="0.7"/>
<line x1="603.65" y1="280.4" x2="603.65" y2="282" stroke="#5a5a5a" stroke-width="0.8"/>
<line x1="603.65" y1="250.4" x2="603.65" y2="251.8" stroke="#5a5a5a" stroke-width="0.7"/>
<line x1="623" y1="280.4" x2="623" y2="282" stroke="#5a5a5a" stroke-width="0.8"/>
<line x1="623" y1="250.4" x2="623" y2="251.8" stroke="#5a5a5a" stroke-width="0.7"/>
<line x1="642.35" y1="280.4" x2="642.35" y2="282" stroke="#5a5a5a" stroke-width="0.8"/>
<line x1="642.35" y1="250.4" x2="642.35" y2="251.8" stroke="#5a5a5a" stroke-width="0.7"/>
<line x1="661.7" y1="280.4" x2="661.7" y2="282" stroke="#5a5a5a" stroke-width="0.8"/>
<line x1="661.7" y1="250.4" x2="661.7" y2="251.8" stroke="#5a5a5a" stroke-width="0.7"/>
<line x1="681.05" y1="280.4" x2="681.05" y2="282" stroke="#5a5a5a" stroke-width="0.8"/>
<line x1="681.05" y1="250.4" x2="681.05" y2="251.8" stroke="#5a5a5a" stroke-width="0.7"/>
<line x1="582.5" y1="250.4" x2="584.3" y2="250.4" stroke="#5a5a5a" stroke-width="0.8"/>
<line x1="582.5" y1="222.3" x2="584.3" y2="222.3" stroke="#5a5a5a" stroke-width="0.8"/>
<line x1="582.5" y1="194.2" x2="584.3" y2="194.2" stroke="#5a5a5a" stroke-width="0.8"/>
<line x1="582.5" y1="264.6" x2="584.3" y2="264.6" stroke="#5a5a5a" stroke-width="0.8"/>
<text x="603.65" y="292.9" font-size="10.4" text-anchor="middle" fill="#1a1a1a" stroke="#1a1a1a" stroke-width="0.1">0</text>
<text x="642.35" y="292.9" font-size="10.4" text-anchor="middle" fill="#1a1a1a" stroke="#1a1a1a" stroke-width="0.1">1</text>
<text x="681.05" y="292.9" font-size="10.4" text-anchor="middle" fill="#1a1a1a" stroke="#1a1a1a" stroke-width="0.1">2</text>
<text x="632.67" y="305" font-size="10.2" text-anchor="middle" fill="#1a1a1a" stroke="#1a1a1a" stroke-width="0.1">Time (s)</text>
<text x="677.8" y="266.4" font-size="7.2" text-anchor="end" fill="#222" font-style="italic" stroke="#222" stroke-width="0.1">29.9</text>
<text x="27.3" y="198.9" font-size="10.6" text-anchor="end" fill="#1a1a1a" stroke="#1a1a1a" stroke-width="0.1">40</text>
<text x="27.3" y="226.2" font-size="10.6" text-anchor="end" fill="#1a1a1a" stroke="#1a1a1a" stroke-width="0.1">20</text>
<text x="27.3" y="250.4" font-size="10.6" text-anchor="end" fill="#1a1a1a" stroke="#1a1a1a" stroke-width="0.1">0</text>
<text transform="translate(11.6,215.8) rotate(-90)" font-size="11.2" text-anchor="middle" fill="#1a1a1a" stroke="#1a1a1a" stroke-width="0.1">Trials</text>
<text transform="translate(17.6,266.5) rotate(-90)" font-size="10.2" text-anchor="middle" fill="#1a1a1a" stroke="#1a1a1a" stroke-width="0.1">F. rate</text>
<text x="1" y="332.2" font-size="15" text-anchor="start" fill="#1a1a1a" stroke="#1a1a1a" stroke-width="0.1">e</text>
<line x1="33.2" y1="335.2" x2="36.3" y2="335.2" stroke="#666" stroke-width="0.7"/>
<line x1="49.7" y1="335.2" x2="68.2" y2="335.2" stroke="#666" stroke-width="0.7"/>
<line x1="33.2" y1="333.6" x2="33.2" y2="336.8" stroke="#666" stroke-width="0.7"/>
<line x1="68.2" y1="333.6" x2="68.2" y2="336.8" stroke="#666" stroke-width="0.7"/>
<rect x="36.3" y="332.6" width="13.4" height="5.4" fill="#9a9a9a" stroke="#555" stroke-width="0.7"/>
<line x1="41.5" y1="332.6" x2="41.5" y2="338" stroke="#333" stroke-width="0.8"/>
<path d="M32.8 455.5h2.97v-48.73h-2.97zM35.77 455.5h2.97v-108.3h-2.97zM38.74 455.5h2.97v-70.94h-2.97zM41.71 455.5h2.97v-54.15h-2.97zM44.68 455.5h2.97v-48.73h-2.97zM47.65 455.5h2.97v-36.28h-2.97zM50.62 455.5h2.97v-29.24h-2.97zM53.59 455.5h2.97v-11.91h-2.97zM56.56 455.5h2.97v-16.79h-2.97zM59.53 455.5h2.97v-8.66h-2.97zM62.5 455.5h2.97v-14.08h-2.97zM65.47 455.5h2.97v-8.66h-2.97zM68.44 455.5h2.97v-2.17h-2.97zM71.41 455.5h2.97v-2.17h-2.97zM74.38 455.5h2.97v-2.17h-2.97zM77.35 455.5h2.97v-2.17h-2.97zM95.17 455.5h2.97v-2.17h-2.97zM98.14 455.5h2.97v-2.17h-2.97z" fill="#9c9c9c"/>
<line x1="32.8" y1="342.4" x2="32.8" y2="455.9" stroke="#8a8a8a" stroke-width="0.9"/>
<line x1="32.4" y1="455.5" x2="122.4" y2="455.5" stroke="#555" stroke-width="1"/>
<text x="30" y="351.1" font-size="10.2" text-anchor="end" fill="#1a1a1a" stroke="#1a1a1a" stroke-width="0.1">1.0</text>
<text x="30" y="372.76" font-size="10.2" text-anchor="end" fill="#1a1a1a" stroke="#1a1a1a" stroke-width="0.1">0.8</text>
<text x="30" y="394.42" font-size="10.2" text-anchor="end" fill="#1a1a1a" stroke="#1a1a1a" stroke-width="0.1">0.6</text>
<text x="30" y="416.08" font-size="10.2" text-anchor="end" fill="#1a1a1a" stroke="#1a1a1a" stroke-width="0.1">0.4</text>
<text x="30" y="437.74" font-size="10.2" text-anchor="end" fill="#1a1a1a" stroke="#1a1a1a" stroke-width="0.1">0.2</text>
<text x="30" y="459.4" font-size="10.2" text-anchor="end" fill="#1a1a1a" stroke="#1a1a1a" stroke-width="0.1">0</text>
<line x1="32.8" y1="455.5" x2="32.8" y2="457" stroke="#555" stroke-width="0.7"/>
<text x="32.6" y="469" font-size="10.2" text-anchor="middle" fill="#1a1a1a" stroke="#1a1a1a" stroke-width="0.1">0</text>
<line x1="62.5" y1="455.5" x2="62.5" y2="457" stroke="#555" stroke-width="0.7"/>
<text x="62.8" y="469" font-size="10.2" text-anchor="middle" fill="#1a1a1a" stroke="#1a1a1a" stroke-width="0.1">10</text>
<line x1="92.2" y1="455.5" x2="92.2" y2="457" stroke="#555" stroke-width="0.7"/>
<text x="92.5" y="469" font-size="10.2" text-anchor="middle" fill="#1a1a1a" stroke="#1a1a1a" stroke-width="0.1">20</text>
<line x1="121.9" y1="455.5" x2="121.9" y2="457" stroke="#555" stroke-width="0.7"/>
<text x="117.7" y="469" font-size="10.2" text-anchor="middle" fill="#1a1a1a" stroke="#1a1a1a" stroke-width="0.1">30</text>
<text x="77.6" y="481" font-size="10.2" text-anchor="middle" fill="#1a1a1a" stroke="#1a1a1a" stroke-width="0.1">Firing rate (Hz)</text>
<text transform="translate(10.2,397) rotate(-90)" font-size="10.4" text-anchor="middle" fill="#1a1a1a" stroke="#1a1a1a" stroke-width="0.1">Cells (normalized)</text>
<text x="131.6" y="332.2" font-size="15" text-anchor="start" fill="#1a1a1a" stroke="#1a1a1a" stroke-width="0.1">f</text>
<polyline points="169.9,400.2 171.7,412 172.9,406.7 174.6,405 175.9,406.2 177.3,404.1 178.7,404.4 180.4,398.8 181.6,401.4 183.1,400.6 184.3,403.2 186,411.4 187.3,404.1 188.3,400.9 189.5,404.1 190.4,400.6 190.9,370.4 191.8,370.8 192.5,381.3 193,407.6 193.6,433.9 194.1,456.6 195.1,461 196.2,457.5 197.4,465.8 199.2,456.6 200.9,449.6 202.7,440.9 204.4,421.6 206.2,398.8 207.1,377.8 209.2,374.3 210.2,371.6 211.4,368.7 212.3,364.6 213.7,369.4 215.5,374.3 217.2,362 218.5,364.6 219.7,371.6 221.1,385.7 222.5,376.9 224.2,375.2 225.6,372.5 226.7,379.5 227.7,386.5 229,379.5 230.2,377.8 231.2,387.4 232.5,384.8 234.2,387.4 236,385.7 237.4,393.9 238.6,386.5 240,384 240.9,390 242.1,389.2 243.3,396.2 244.2,385.7 245.3,387.4 246,397.1 246.7,390 247,397.1" fill="none" stroke="#000" stroke-width="2" stroke-linejoin="round"/>
<path d="M154.3 404.7V446.2H181.5" fill="none" stroke="#111" stroke-width="1.3"/>
<text transform="translate(151.2,425.4) rotate(-90)" font-size="7.7" text-anchor="middle" fill="#1a1a1a" stroke="#1a1a1a" stroke-width="0.1">0.5 Z-score</text>
<text x="168" y="457.3" font-size="7.8" text-anchor="middle" fill="#1a1a1a" stroke="#1a1a1a" stroke-width="0.1">0.5 (s)</text>
<text x="178.8" y="356.8" font-size="7.7" text-anchor="end" fill="#1a1a1a" stroke="#1a1a1a" stroke-width="0.1">Short-latency</text>
<text x="178.8" y="364.1" font-size="7.7" text-anchor="end" fill="#1a1a1a" stroke="#1a1a1a" stroke-width="0.1">increase</text>
<text x="207.4" y="342.6" font-size="7.7" text-anchor="start" fill="#1a1a1a" stroke="#1a1a1a" stroke-width="0.1">Long-latency</text>
<text x="251.6" y="349.8" font-size="7.7" text-anchor="end" fill="#1a1a1a" stroke="#1a1a1a" stroke-width="0.1">increase</text>
<text x="210.6" y="440.6" font-size="7.7" text-anchor="start" fill="#1a1a1a" stroke="#1a1a1a" stroke-width="0.1">Decrease</text>
<line x1="180" y1="355.6" x2="189.5" y2="367.6" stroke="#111" stroke-width="0.7"/>
<line x1="230.9" y1="354.6" x2="223.9" y2="363" stroke="#111" stroke-width="0.7"/>
<path d="M223.9 363L224.67 359.74L226.97 361.66Z" fill="#111" stroke="none" stroke-width="1"/>
<line x1="217.6" y1="444" x2="208" y2="456.3" stroke="#111" stroke-width="0.7"/>
<path d="M208 456.3L208.66 453.01L211.03 454.86Z" fill="#111" stroke="none" stroke-width="1"/>
<text x="261.4" y="332.2" font-size="15" text-anchor="start" fill="#1a1a1a" stroke="#1a1a1a" stroke-width="0.1">g</text>
<path d="M293.13 455.5h1.25v-51.98h-1.25zM294.38 455.5h1.25v-79.1h-1.25zM295.62 455.5h1.25v-108.48h-1.25zM296.87 455.5h1.25v-63.28h-1.25zM298.11 455.5h1.25v-54.24h-1.25zM299.36 455.5h1.25v-38.42h-1.25zM300.6 455.5h1.25v-27.12h-1.25zM301.85 455.5h1.25v-15.82h-1.25zM303.09 455.5h1.25v-20.34h-1.25zM304.34 455.5h1.25v-20.34h-1.25zM305.58 455.5h1.25v-11.3h-1.25zM306.83 455.5h1.25v-18.08h-1.25zM308.07 455.5h1.25v-6.78h-1.25zM309.32 455.5h1.25v-6.78h-1.25zM310.56 455.5h1.25v-6.78h-1.25zM311.81 455.5h1.25v-6.78h-1.25zM313.05 455.5h1.25v-6.78h-1.25zM314.3 455.5h1.25v-6.78h-1.25zM315.54 455.5h1.25v-9.04h-1.25zM316.79 455.5h1.25v-4.52h-1.25zM318.03 455.5h1.25v-4.52h-1.25zM319.28 455.5h1.25v-4.52h-1.25zM320.52 455.5h1.25v-4.52h-1.25zM321.77 455.5h1.25v-2.26h-1.25z" fill="#a3abbb"/>
<path d="M290.64 455.5h1.25v-81.36h-1.25zM291.89 455.5h1.25v-99.44h-1.25zM293.13 455.5h1.25v-22.6h-1.25zM294.38 455.5h1.25v-4.52h-1.25zM295.62 455.5h1.25v-9.04h-1.25zM296.87 455.5h1.25v-4.52h-1.25zM299.36 455.5h1.25v-4.52h-1.25zM301.85 455.5h1.25v-4.52h-1.25zM304.34 455.5h1.25v-4.52h-1.25zM308.07 455.5h1.25v-4.52h-1.25zM311.81 455.5h1.25v-4.52h-1.25zM315.54 455.5h1.25v-4.52h-1.25zM321.77 455.5h1.25v-4.52h-1.25zM323.01 455.5h1.25v-4.52h-1.25zM324.26 455.5h1.25v-4.52h-1.25zM325.5 455.5h1.25v-9.04h-1.25zM326.75 455.5h1.25v-9.04h-1.25zM328 455.5h1.25v-9.04h-1.25zM329.24 455.5h1.25v-18.08h-1.25zM330.48 455.5h1.25v-9.04h-1.25zM331.73 455.5h1.25v-9.04h-1.25zM332.97 455.5h1.25v-18.08h-1.25zM334.22 455.5h1.25v-13.56h-1.25zM335.46 455.5h1.25v-13.56h-1.25zM336.71 455.5h1.25v-31.64h-1.25zM337.95 455.5h1.25v-13.56h-1.25zM339.2 455.5h1.25v-36.16h-1.25zM340.44 455.5h1.25v-5.88h-1.25zM341.69 455.5h1.25v-22.6h-1.25zM342.94 455.5h1.25v-9.04h-1.25zM344.18 455.5h1.25v-2.26h-1.25zM345.42 455.5h1.25v-2.26h-1.25zM346.67 455.5h1.25v-9.04h-1.25zM347.91 455.5h1.25v-13.56h-1.25zM349.16 455.5h1.25v-4.52h-1.25zM350.4 455.5h1.25v-9.04h-1.25zM351.65 455.5h1.25v-13.56h-1.25zM352.89 455.5h1.25v-18.08h-1.25zM354.14 455.5h1.25v-4.52h-1.25zM355.38 455.5h1.25v-13.56h-1.25zM356.63 455.5h1.25v-13.56h-1.25zM357.88 455.5h1.25v-4.52h-1.25zM359.12 455.5h1.25v-9.04h-1.25zM360.37 455.5h1.25v-18.08h-1.25zM361.61 455.5h1.25v-13.56h-1.25zM362.86 455.5h1.25v-4.52h-1.25z" fill="#45b995"/>
<line x1="289.4" y1="342.4" x2="289.4" y2="456" stroke="#555" stroke-width="0.9"/>
<line x1="364.1" y1="342.4" x2="364.1" y2="456" stroke="#9a9a9a" stroke-width="0.9"/>
<line x1="289" y1="455.5" x2="364.5" y2="455.5" stroke="#333" stroke-width="1"/>
<line x1="287.8" y1="454" x2="289.4" y2="454" stroke="#555" stroke-width="0.7"/>
<text x="286.8" y="457.6" font-size="10.2" text-anchor="end" fill="#3fba98" stroke="#3fba98" stroke-width="0.1">0</text>
<line x1="287.8" y1="432.2" x2="289.4" y2="432.2" stroke="#555" stroke-width="0.7"/>
<text x="286.8" y="435.8" font-size="10.2" text-anchor="end" fill="#3fba98" stroke="#3fba98" stroke-width="0.1">5</text>
<line x1="287.8" y1="410.4" x2="289.4" y2="410.4" stroke="#555" stroke-width="0.7"/>
<text x="286.8" y="414" font-size="10.2" text-anchor="end" fill="#3fba98" stroke="#3fba98" stroke-width="0.1">10</text>
<line x1="287.8" y1="388.6" x2="289.4" y2="388.6" stroke="#555" stroke-width="0.7"/>
<text x="286.8" y="392.2" font-size="10.2" text-anchor="end" fill="#3fba98" stroke="#3fba98" stroke-width="0.1">15</text>
<line x1="287.8" y1="366.8" x2="289.4" y2="366.8" stroke="#555" stroke-width="0.7"/>
<text x="286.8" y="370.4" font-size="10.2" text-anchor="end" fill="#3fba98" stroke="#3fba98" stroke-width="0.1">20</text>
<line x1="287.8" y1="345" x2="289.4" y2="345" stroke="#555" stroke-width="0.7"/>
<text x="286.8" y="348.6" font-size="10.2" text-anchor="end" fill="#3fba98" stroke="#3fba98" stroke-width="0.1">25</text>
<line x1="364.1" y1="454" x2="365.7" y2="454" stroke="#9a9a9a" stroke-width="0.7"/>
<text x="366.6" y="457.6" font-size="10.2" text-anchor="start" fill="#a8a8a8" stroke="#a8a8a8" stroke-width="0.1">0</text>
<line x1="364.1" y1="432.2" x2="365.7" y2="432.2" stroke="#9a9a9a" stroke-width="0.7"/>
<text x="366.6" y="435.8" font-size="10.2" text-anchor="start" fill="#a8a8a8" stroke="#a8a8a8" stroke-width="0.1">10</text>
<line x1="364.1" y1="410.4" x2="365.7" y2="410.4" stroke="#9a9a9a" stroke-width="0.7"/>
<text x="366.6" y="414" font-size="10.2" text-anchor="start" fill="#a8a8a8" stroke="#a8a8a8" stroke-width="0.1">20</text>
<line x1="364.1" y1="388.6" x2="365.7" y2="388.6" stroke="#9a9a9a" stroke-width="0.7"/>
<text x="366.6" y="392.2" font-size="10.2" text-anchor="start" fill="#a8a8a8" stroke="#a8a8a8" stroke-width="0.1">30</text>
<line x1="364.1" y1="366.8" x2="365.7" y2="366.8" stroke="#9a9a9a" stroke-width="0.7"/>
<text x="366.6" y="370.4" font-size="10.2" text-anchor="start" fill="#a8a8a8" stroke="#a8a8a8" stroke-width="0.1">40</text>
<line x1="364.1" y1="345" x2="365.7" y2="345" stroke="#9a9a9a" stroke-width="0.7"/>
<text x="366.6" y="348.6" font-size="10.2" text-anchor="start" fill="#a8a8a8" stroke="#a8a8a8" stroke-width="0.1">50</text>
<line x1="289.4" y1="455.5" x2="289.4" y2="457" stroke="#333" stroke-width="0.7"/>
<text x="289.4" y="468.4" font-size="9.6" text-anchor="middle" fill="#1a1a1a" stroke="#1a1a1a" stroke-width="0.1">0</text>
<line x1="314.3" y1="455.5" x2="314.3" y2="457" stroke="#333" stroke-width="0.7"/>
<text x="314.3" y="468.4" font-size="9.6" text-anchor="middle" fill="#1a1a1a" stroke="#1a1a1a" stroke-width="0.1">0.1</text>
<line x1="339.2" y1="455.5" x2="339.2" y2="457" stroke="#333" stroke-width="0.7"/>
<text x="339.2" y="468.4" font-size="9.6" text-anchor="middle" fill="#1a1a1a" stroke="#1a1a1a" stroke-width="0.1">0.2</text>
<line x1="364.1" y1="455.5" x2="364.1" y2="457" stroke="#333" stroke-width="0.7"/>
<text x="364.1" y="468.4" font-size="9.6" text-anchor="middle" fill="#1a1a1a" stroke="#1a1a1a" stroke-width="0.1">0.3</text>
<text x="326.9" y="480.8" font-size="10.2" text-anchor="middle" fill="#1a1a1a" stroke="#1a1a1a" stroke-width="0.1">Latency (s)</text>
<text x="323.4" y="335.2" font-size="10.2" text-anchor="middle" fill="#3fba98" stroke="#3fba98" stroke-width="0.1">300 ms ISI</text>
<text transform="translate(271.4,399.4) rotate(-90)" font-size="10.4" text-anchor="middle" fill="#3fba98" stroke="#3fba98" stroke-width="0.1">Increase (n cells)</text>
<text transform="translate(381.4,399.4) rotate(90)" font-size="10.4" text-anchor="middle" fill="#aaaaaa" stroke="#aaaaaa" stroke-width="0.1">Decrease (n cells)</text>
<text x="401.2" y="332.2" font-size="15" text-anchor="start" fill="#1a1a1a" stroke="#1a1a1a" stroke-width="0.1">h</text>
<path d="M434.94 455.5h1.25v-103.51h-1.25zM436.18 455.5h1.25v-101.7h-1.25zM437.43 455.5h1.25v-67.8h-1.25zM438.67 455.5h1.25v-47.46h-1.25zM439.91 455.5h1.25v-38.42h-1.25zM441.16 455.5h1.25v-33.9h-1.25zM442.4 455.5h1.25v-23.96h-1.25zM443.65 455.5h1.25v-13.56h-1.25zM444.89 455.5h1.25v-20.34h-1.25zM446.14 455.5h1.25v-13.56h-1.25zM447.38 455.5h1.25v-6.1h-1.25zM448.63 455.5h1.25v-20.34h-1.25zM449.88 455.5h1.25v-9.04h-1.25zM451.12 455.5h1.25v-2.26h-1.25zM452.37 455.5h1.25v-4.07h-1.25zM453.61 455.5h1.25v-4.07h-1.25zM454.86 455.5h1.25v-4.07h-1.25zM456.1 455.5h1.25v-4.07h-1.25zM457.34 455.5h1.25v-11.3h-1.25zM458.59 455.5h1.25v-4.07h-1.25zM459.83 455.5h1.25v-2.26h-1.25zM461.08 455.5h1.25v-2.26h-1.25zM462.32 455.5h1.25v-6.1h-1.25z" fill="#a3abbb"/>
<path d="M431.2 455.5h1.25v-13.56h-1.25zM432.44 455.5h1.25v-85.88h-1.25zM433.69 455.5h1.25v-113h-1.25zM434.94 455.5h1.25v-22.6h-1.25zM436.18 455.5h1.25v-13.56h-1.25zM437.43 455.5h1.25v-4.52h-1.25zM438.67 455.5h1.25v-4.52h-1.25zM447.38 455.5h1.25v-4.52h-1.25zM449.88 455.5h1.25v-4.52h-1.25zM456.1 455.5h1.25v-4.52h-1.25zM457.34 455.5h1.25v-4.52h-1.25zM459.83 455.5h1.25v-4.52h-1.25zM461.08 455.5h1.25v-4.52h-1.25zM462.32 455.5h1.25v-4.52h-1.25zM463.57 455.5h1.25v-13.56h-1.25zM464.81 455.5h1.25v-9.04h-1.25zM466.06 455.5h1.25v-18.08h-1.25zM467.31 455.5h1.25v-4.52h-1.25zM468.55 455.5h1.25v-36.16h-1.25zM469.8 455.5h1.25v-4.52h-1.25zM471.04 455.5h1.25v-18.08h-1.25zM472.28 455.5h1.25v-4.52h-1.25zM473.53 455.5h1.25v-27.12h-1.25zM474.77 455.5h1.25v-22.6h-1.25zM476.02 455.5h1.25v-18.08h-1.25zM477.26 455.5h1.25v-4.52h-1.25zM478.51 455.5h1.25v-27.12h-1.25zM479.75 455.5h1.25v-9.04h-1.25zM481 455.5h1.25v-18.08h-1.25zM482.25 455.5h1.25v-31.64h-1.25zM483.49 455.5h1.25v-18.08h-1.25zM484.74 455.5h1.25v-9.04h-1.25zM485.98 455.5h1.25v-9.04h-1.25zM487.23 455.5h1.25v-9.04h-1.25zM489.71 455.5h1.25v-18.08h-1.25zM490.96 455.5h1.25v-9.04h-1.25zM492.2 455.5h1.25v-22.6h-1.25zM493.45 455.5h1.25v-9.04h-1.25zM494.69 455.5h1.25v-18.08h-1.25zM495.94 455.5h1.25v-9.04h-1.25zM497.19 455.5h1.25v-4.52h-1.25zM498.43 455.5h1.25v-9.04h-1.25zM499.68 455.5h1.25v-4.52h-1.25zM500.92 455.5h1.25v-9.04h-1.25zM502.16 455.5h1.25v-4.52h-1.25zM503.41 455.5h1.25v-9.04h-1.25zM504.65 455.5h1.25v-9.04h-1.25z" fill="#f4201a"/>
<line x1="431.2" y1="342.4" x2="431.2" y2="456" stroke="#555" stroke-width="0.9"/>
<line x1="505.9" y1="342.4" x2="505.9" y2="456" stroke="#9a9a9a" stroke-width="0.9"/>
<line x1="430.8" y1="455.5" x2="506.3" y2="455.5" stroke="#333" stroke-width="1"/>
<line x1="429.6" y1="454" x2="431.2" y2="454" stroke="#555" stroke-width="0.7"/>
<text x="428.6" y="457.6" font-size="10.2" text-anchor="end" fill="#f02a2a" stroke="#f02a2a" stroke-width="0.1">0</text>
<line x1="429.6" y1="432.2" x2="431.2" y2="432.2" stroke="#555" stroke-width="0.7"/>
<text x="428.6" y="435.8" font-size="10.2" text-anchor="end" fill="#f02a2a" stroke="#f02a2a" stroke-width="0.1">5</text>
<line x1="429.6" y1="410.4" x2="431.2" y2="410.4" stroke="#555" stroke-width="0.7"/>
<text x="428.6" y="414" font-size="10.2" text-anchor="end" fill="#f02a2a" stroke="#f02a2a" stroke-width="0.1">10</text>
<line x1="429.6" y1="388.6" x2="431.2" y2="388.6" stroke="#555" stroke-width="0.7"/>
<text x="428.6" y="392.2" font-size="10.2" text-anchor="end" fill="#f02a2a" stroke="#f02a2a" stroke-width="0.1">15</text>
<line x1="429.6" y1="366.8" x2="431.2" y2="366.8" stroke="#555" stroke-width="0.7"/>
<text x="428.6" y="370.4" font-size="10.2" text-anchor="end" fill="#f02a2a" stroke="#f02a2a" stroke-width="0.1">20</text>
<line x1="429.6" y1="345" x2="431.2" y2="345" stroke="#555" stroke-width="0.7"/>
<text x="428.6" y="348.6" font-size="10.2" text-anchor="end" fill="#f02a2a" stroke="#f02a2a" stroke-width="0.1">25</text>
<line x1="505.9" y1="454" x2="507.5" y2="454" stroke="#9a9a9a" stroke-width="0.7"/>
<text x="508.4" y="457.6" font-size="10.2" text-anchor="start" fill="#a8a8a8" stroke="#a8a8a8" stroke-width="0.1">0</text>
<line x1="505.9" y1="432.2" x2="507.5" y2="432.2" stroke="#9a9a9a" stroke-width="0.7"/>
<text x="508.4" y="435.8" font-size="10.2" text-anchor="start" fill="#a8a8a8" stroke="#a8a8a8" stroke-width="0.1">10</text>
<line x1="505.9" y1="410.4" x2="507.5" y2="410.4" stroke="#9a9a9a" stroke-width="0.7"/>
<text x="508.4" y="414" font-size="10.2" text-anchor="start" fill="#a8a8a8" stroke="#a8a8a8" stroke-width="0.1">20</text>
<line x1="505.9" y1="388.6" x2="507.5" y2="388.6" stroke="#9a9a9a" stroke-width="0.7"/>
<text x="508.4" y="392.2" font-size="10.2" text-anchor="start" fill="#a8a8a8" stroke="#a8a8a8" stroke-width="0.1">30</text>
<line x1="505.9" y1="366.8" x2="507.5" y2="366.8" stroke="#9a9a9a" stroke-width="0.7"/>
<text x="508.4" y="370.4" font-size="10.2" text-anchor="start" fill="#a8a8a8" stroke="#a8a8a8" stroke-width="0.1">40</text>
<line x1="505.9" y1="345" x2="507.5" y2="345" stroke="#9a9a9a" stroke-width="0.7"/>
<text x="508.4" y="348.6" font-size="10.2" text-anchor="start" fill="#a8a8a8" stroke="#a8a8a8" stroke-width="0.1">50</text>
<line x1="431.2" y1="455.5" x2="431.2" y2="457" stroke="#333" stroke-width="0.7"/>
<text x="431.2" y="468.4" font-size="9.6" text-anchor="middle" fill="#1a1a1a" stroke="#1a1a1a" stroke-width="0.1">0</text>
<line x1="456.1" y1="455.5" x2="456.1" y2="457" stroke="#333" stroke-width="0.7"/>
<text x="456.1" y="468.4" font-size="9.6" text-anchor="middle" fill="#1a1a1a" stroke="#1a1a1a" stroke-width="0.1">0.1</text>
<line x1="481" y1="455.5" x2="481" y2="457" stroke="#333" stroke-width="0.7"/>
<text x="481" y="468.4" font-size="9.6" text-anchor="middle" fill="#1a1a1a" stroke="#1a1a1a" stroke-width="0.1">0.2</text>
<line x1="505.9" y1="455.5" x2="505.9" y2="457" stroke="#333" stroke-width="0.7"/>
<text x="505.9" y="468.4" font-size="9.6" text-anchor="middle" fill="#1a1a1a" stroke="#1a1a1a" stroke-width="0.1">0.3</text>
<text x="468.7" y="480.8" font-size="10.2" text-anchor="middle" fill="#1a1a1a" stroke="#1a1a1a" stroke-width="0.1">Latency (s)</text>
<text x="465.2" y="336.4" font-size="10.2" text-anchor="middle" fill="#f02a2a" stroke="#f02a2a" stroke-width="0.1">500 ms ISI</text>
<text transform="translate(409.5,399.4) rotate(-90)" font-size="10.4" text-anchor="middle" fill="#f02a2a" stroke="#f02a2a" stroke-width="0.1">Increase (n cells)</text>
<text transform="translate(528.9,399.4) rotate(90)" font-size="10.4" text-anchor="middle" fill="#aaaaaa" stroke="#aaaaaa" stroke-width="0.1">Decrease (n cells)</text>
<text x="545.6" y="332.2" font-size="15" text-anchor="start" fill="#1a1a1a" stroke="#1a1a1a" stroke-width="0.1">i</text>
<line x1="578.2" y1="341.5" x2="578.2" y2="454" stroke="#777" stroke-width="0.9"/>
<line x1="578.2" y1="452.6" x2="580" y2="452.6" stroke="#777" stroke-width="0.7"/>
<text x="575.8" y="456.5" font-size="10.4" text-anchor="end" fill="#333" stroke="#333" stroke-width="0.1">0</text>
<line x1="578.2" y1="416.3" x2="580" y2="416.3" stroke="#777" stroke-width="0.7"/>
<text x="575.8" y="420.2" font-size="10.4" text-anchor="end" fill="#333" stroke="#333" stroke-width="0.1">50</text>
<line x1="578.2" y1="380" x2="580" y2="380" stroke="#777" stroke-width="0.7"/>
<text x="575.8" y="383.9" font-size="10.4" text-anchor="end" fill="#333" stroke="#333" stroke-width="0.1">100</text>
<line x1="578.2" y1="343.7" x2="580" y2="343.7" stroke="#777" stroke-width="0.7"/>
<text x="575.8" y="347.6" font-size="10.4" text-anchor="end" fill="#333" stroke="#333" stroke-width="0.1">150</text>
<line x1="660.4" y1="341.5" x2="660.4" y2="454" stroke="#777" stroke-width="0.9"/>
<line x1="660.4" y1="452.6" x2="662.2" y2="452.6" stroke="#777" stroke-width="0.7"/>
<text x="658" y="456.5" font-size="10.4" text-anchor="end" fill="#333" stroke="#333" stroke-width="0.1">0</text>
<line x1="660.4" y1="416.3" x2="662.2" y2="416.3" stroke="#777" stroke-width="0.7"/>
<text x="658" y="420.2" font-size="10.4" text-anchor="end" fill="#333" stroke="#333" stroke-width="0.1">100</text>
<line x1="660.4" y1="380" x2="662.2" y2="380" stroke="#777" stroke-width="0.7"/>
<text x="658" y="383.9" font-size="10.4" text-anchor="end" fill="#333" stroke="#333" stroke-width="0.1">200</text>
<line x1="660.4" y1="343.7" x2="662.2" y2="343.7" stroke="#777" stroke-width="0.7"/>
<text x="658" y="347.6" font-size="10.4" text-anchor="end" fill="#333" stroke="#333" stroke-width="0.1">300</text>
<text transform="translate(555.2,398) rotate(-90)" font-size="10.4" text-anchor="middle" fill="#1a1a1a" stroke="#1a1a1a" stroke-width="0.1">Latency (ms)</text>
<line x1="586.7" y1="438.3" x2="586.7" y2="444.8" stroke="#5cc4a6" stroke-width="0.9" stroke-dasharray="4,2.6" stroke-opacity="0.8"/>
<line x1="586.7" y1="449.2" x2="586.7" y2="451.3" stroke="#5cc4a6" stroke-width="0.9" stroke-dasharray="4,2.6" stroke-opacity="0.8"/>
<line x1="584.8" y1="438.3" x2="588.6" y2="438.3" stroke="#5cc4a6" stroke-width="0.9" stroke-opacity="0.85"/>
<line x1="584.8" y1="451.3" x2="588.6" y2="451.3" stroke="#5cc4a6" stroke-width="0.9" stroke-opacity="0.85"/>
<rect x="583" y="444.8" width="7.4" height="4.4" fill="#88dcc8" stroke="#5cc4a6" stroke-width="0.9"/>
<line x1="583" y1="446.8" x2="590.4" y2="446.8" stroke="#4fb899" stroke-width="1"/>
<line x1="597.9" y1="440.4" x2="597.9" y2="445.3" stroke="#e2444a" stroke-width="0.9" stroke-dasharray="4,2.6" stroke-opacity="0.8"/>
<line x1="597.9" y1="450" x2="597.9" y2="452" stroke="#e2444a" stroke-width="0.9" stroke-dasharray="4,2.6" stroke-opacity="0.8"/>
<line x1="596" y1="440.4" x2="599.8" y2="440.4" stroke="#e2444a" stroke-width="0.9" stroke-opacity="0.85"/>
<line x1="596" y1="452" x2="599.8" y2="452" stroke="#e2444a" stroke-width="0.9" stroke-opacity="0.85"/>
<rect x="594.2" y="445.3" width="7.4" height="4.7" fill="#ec6a70" stroke="#e2444a" stroke-width="0.9"/>
<line x1="594.2" y1="447.4" x2="601.6" y2="447.4" stroke="#e02a2f" stroke-width="1"/>
<line x1="618.1" y1="380" x2="618.1" y2="416.3" stroke="#5cc4a6" stroke-width="0.9" stroke-dasharray="4,2.6" stroke-opacity="0.8"/>
<line x1="618.1" y1="440.9" x2="618.1" y2="453.9" stroke="#5cc4a6" stroke-width="0.9" stroke-dasharray="4,2.6" stroke-opacity="0.8"/>
<line x1="616.2" y1="380" x2="620" y2="380" stroke="#5cc4a6" stroke-width="0.9" stroke-opacity="0.85"/>
<line x1="616.2" y1="453.9" x2="620" y2="453.9" stroke="#5cc4a6" stroke-width="0.9" stroke-opacity="0.85"/>
<rect x="614.4" y="416.3" width="7.4" height="24.6" fill="#88dcc8" stroke="#5cc4a6" stroke-width="0.9"/>
<line x1="614.4" y1="433.2" x2="621.8" y2="433.2" stroke="#4fb899" stroke-width="1"/>
<line x1="629.8" y1="378.7" x2="629.8" y2="415.8" stroke="#e2444a" stroke-width="0.9" stroke-dasharray="4,2.6" stroke-opacity="0.8"/>
<line x1="629.8" y1="441.7" x2="629.8" y2="453.9" stroke="#e2444a" stroke-width="0.9" stroke-dasharray="4,2.6" stroke-opacity="0.8"/>
<line x1="627.9" y1="378.7" x2="631.7" y2="378.7" stroke="#e2444a" stroke-width="0.9" stroke-opacity="0.85"/>
<line x1="627.9" y1="453.9" x2="631.7" y2="453.9" stroke="#e2444a" stroke-width="0.9" stroke-opacity="0.85"/>
<rect x="626.1" y="415.8" width="7.4" height="25.9" fill="#ec6a70" stroke="#e2444a" stroke-width="0.9"/>
<line x1="626.1" y1="435.2" x2="633.5" y2="435.2" stroke="#e02a2f" stroke-width="1"/>
<line x1="669.4" y1="343.2" x2="669.4" y2="360" stroke="#5cc4a6" stroke-width="0.9" stroke-dasharray="4,2.6" stroke-opacity="0.8"/>
<line x1="669.4" y1="385.7" x2="669.4" y2="415" stroke="#5cc4a6" stroke-width="0.9" stroke-dasharray="4,2.6" stroke-opacity="0.8"/>
<line x1="667.5" y1="343.2" x2="671.3" y2="343.2" stroke="#5cc4a6" stroke-width="0.9" stroke-opacity="0.85"/>
<line x1="667.5" y1="415" x2="671.3" y2="415" stroke="#5cc4a6" stroke-width="0.9" stroke-opacity="0.85"/>
<rect x="665.6" y="360" width="7.6" height="25.7" fill="#88dcc8" stroke="#5cc4a6" stroke-width="0.9"/>
<line x1="665.6" y1="375.3" x2="673.2" y2="375.3" stroke="#4fb899" stroke-width="1"/>
<line x1="680.6" y1="342.4" x2="680.6" y2="365.2" stroke="#e2444a" stroke-width="0.9" stroke-dasharray="4,2.6" stroke-opacity="0.8"/>
<line x1="680.6" y1="395.6" x2="680.6" y2="430.6" stroke="#e2444a" stroke-width="0.9" stroke-dasharray="4,2.6" stroke-opacity="0.8"/>
<line x1="678.7" y1="342.4" x2="682.5" y2="342.4" stroke="#e2444a" stroke-width="0.9" stroke-opacity="0.85"/>
<line x1="678.7" y1="430.6" x2="682.5" y2="430.6" stroke="#e2444a" stroke-width="0.9" stroke-opacity="0.85"/>
<rect x="676.8" y="365.2" width="7.6" height="30.4" fill="#ec6a70" stroke="#e2444a" stroke-width="0.9"/>
<line x1="676.8" y1="380" x2="684.4" y2="380" stroke="#e02a2f" stroke-width="1"/>
<text x="587.8" y="471" font-size="7.8" text-anchor="middle" fill="#222" stroke="#222" stroke-width="0.1">Short-L.</text>
<text x="587.8" y="478.2" font-size="7.8" text-anchor="middle" fill="#222" stroke="#222" stroke-width="0.1">Increase</text>
<text x="622.8" y="474.8" font-size="7.8" text-anchor="middle" fill="#222" stroke="#222" stroke-width="0.1">Decrease</text>
<text x="670.7" y="471" font-size="7.8" text-anchor="middle" fill="#222" stroke="#222" stroke-width="0.1">Long-L.</text>
<text x="670.7" y="478.2" font-size="7.8" text-anchor="middle" fill="#222" stroke="#222" stroke-width="0.1">Increase</text>
<text x="1.2" y="505.3" font-size="15" text-anchor="start" fill="#1a1a1a" stroke="#1a1a1a" stroke-width="0.1">j</text>
<line x1="33.4" y1="515.3" x2="33.4" y2="628.3" stroke="#888" stroke-width="0.9"/>
<line x1="33.4" y1="520.3" x2="35.2" y2="520.3" stroke="#888" stroke-width="0.7"/>
<text x="30.4" y="524" font-size="10.2" text-anchor="end" fill="#1a1a1a" stroke="#1a1a1a" stroke-width="0.1">1.0</text>
<line x1="33.4" y1="545.1" x2="35.2" y2="545.1" stroke="#888" stroke-width="0.7"/>
<text x="30.4" y="548.8" font-size="10.2" text-anchor="end" fill="#1a1a1a" stroke="#1a1a1a" stroke-width="0.1">1.5</text>
<line x1="33.4" y1="573" x2="35.2" y2="573" stroke="#888" stroke-width="0.7"/>
<text x="30.4" y="576.7" font-size="10.2" text-anchor="end" fill="#1a1a1a" stroke="#1a1a1a" stroke-width="0.1">0</text>
<line x1="33.4" y1="600.5" x2="35.2" y2="600.5" stroke="#888" stroke-width="0.7"/>
<text x="30.4" y="604.2" font-size="10.2" text-anchor="end" fill="#1a1a1a" stroke="#1a1a1a" stroke-width="0.1">-0.5</text>
<line x1="33.4" y1="626.6" x2="35.2" y2="626.6" stroke="#888" stroke-width="0.7"/>
<text x="30.4" y="630.3" font-size="10.2" text-anchor="end" fill="#1a1a1a" stroke="#1a1a1a" stroke-width="0.1">-1.0</text>
<text transform="translate(10,572.9) rotate(-90)" font-size="10.3" text-anchor="middle" fill="#1a1a1a" stroke="#1a1a1a" stroke-width="0.1">Z-Score</text>
<line x1="33" y1="627.9" x2="126.6" y2="627.9" stroke="#888" stroke-width="0.9"/>
<line x1="134.2" y1="627.9" x2="229.2" y2="627.9" stroke="#888" stroke-width="0.9"/>
<polyline points="33.38,571.11 33.51,570.65 33.63,572.44 33.76,574.87 33.88,575.26 34.01,573.67 34.13,573.46 34.25,573.75 34.38,573.71 34.5,573.55 34.63,574.89 34.75,573.45 34.88,571.13 35,570.26 35.12,571.14 35.25,573.37 35.37,574 35.5,575.21 35.62,573.6 35.75,573.13 35.87,575.42 36,574.47 36.12,571.65 36.24,571.18 36.37,573.83 36.49,574.84 36.62,573.09 36.74,572.51 36.87,573.98 36.99,574.06 37.12,572.46 37.24,570.12 37.36,572.23 37.49,574.98 37.61,574.51 37.74,576.41 37.86,576.53 37.99,575.06 38.11,572.89 38.23,571.95 38.36,574.86 38.48,574.03 38.61,572.69 38.73,575.22 38.86,575.47 38.98,574.25 39.11,574.55 39.23,573.89 39.35,575.34 39.48,575.66 39.6,572.21 39.73,571.03 39.85,570.93 39.98,570.65 40.1,570.24 40.23,572.61 40.35,573.29 40.47,574.07 40.6,575.6 40.72,575.66 40.85,573.92 40.97,570.48 41.1,571.8 41.22,571.33 41.34,571.84 41.47,573.55 41.59,572.68 41.72,573.96 41.84,573.66 41.97,570.49 42.09,572.03 42.22,573.13 42.34,572.21 42.46,571.29 42.59,570.62 42.71,571.77 42.84,571.61 42.96,572.06 43.09,574.21 43.21,573 43.34,572.98 43.46,574.2 43.58,572.1 43.71,573.24 43.83,573.73 43.96,571.61 44.08,571.79 44.21,573.96 44.33,577.02 44.45,577.11 44.58,574.65 44.7,574.17 44.83,574.56 44.95,573.47 45.08,572.78 45.2,573 45.33,571.39 45.45,571.89 45.57,572.63 45.7,569.16 45.82,567.63 45.95,570.99 46.07,571.71 46.2,569.45 46.32,567.78 46.45,567.93 46.57,569.5 46.69,570.14 46.82,568.86 46.94,567.98 47.07,569.42 47.19,570.17 47.32,570.28 47.44,569.53 47.56,570.04 47.69,570.51 47.81,567.79 47.94,566.71 48.06,561.08 48.19,546.44 48.31,553.43 48.44,561.56 48.56,568.85 48.68,578.4 48.81,584.63 48.93,589.75 49.06,597.33 49.18,601.57 49.31,603.35 49.43,605.61 49.56,606.28 49.68,604.67 49.8,607.69 49.93,606.47 50.05,605.84 50.18,604.89 50.3,605.06 50.43,602.75 50.55,601.91 50.67,601.05 50.8,597.9 50.92,592.49 51.05,587.85 51.17,583.08 51.3,580.43 51.42,577.42 51.55,572.66 51.67,571.89 51.79,570.38 51.92,568.62 52.04,569.33 52.17,567.63 52.29,566.92 52.42,566.91 52.54,564.53 52.67,563.06 52.79,562.75 52.91,562.15 53.04,560.45 53.16,558.48 53.29,558.9 53.41,559.61 53.54,558.78 53.66,559.96 53.78,556.59 53.91,555.03 54.03,559.16 54.16,557.33 54.28,556.62 54.41,557.45 54.53,555.14 54.66,555.95 54.78,557.06 54.9,556.67 55.03,556.09 55.15,556.97 55.28,558.24 55.4,556.77 55.53,554.47 55.65,553.75 55.78,553.13 55.9,553.16 56.02,555.63 56.15,556.6 56.27,558.3 56.4,559.29 56.52,558.33 56.65,557.13 56.77,555.46 56.89,556.44 57.02,557.85 57.14,559 57.27,558.51 57.39,545.77 57.52,524.22 57.64,540.84 57.77,555.47 57.89,565.19 58.01,574.76 58.14,583.96 58.26,591.57 58.39,598.22 58.51,602.18 58.64,603.01 58.76,603.36 58.89,603.61 59.01,604.39 59.13,608.23 59.26,607.03 59.38,606.42 59.51,606.55 59.63,603.22 59.76,602.18 59.88,601.19 60,597.46 60.13,595.69 60.25,590.55 60.38,587.18 60.5,584.3 60.63,580.97 60.75,578.27 60.88,574.58 61,572.89 61.12,569.69 61.25,567.88 61.37,566.48 61.5,567.84 61.62,568.34 61.75,563.61 61.87,562.64 62,560.77 62.12,558.48 62.24,558.63 62.37,557.55 62.49,553.2 62.62,552.96 62.74,555.18 62.87,555.48 62.99,555.22 63.11,555.69 63.24,555.6 63.36,551.21 63.49,549.44 63.61,550.92 63.74,550.45 63.86,548.71 63.99,548.81 64.11,548.18 64.23,547.24 64.36,548.82 64.48,547.7 64.61,550.61 64.73,553.27 64.86,550.73 64.98,551.33 65.11,552.01 65.23,551.96 65.35,552.72 65.48,549.42 65.6,548.3 65.73,551.46 65.85,550.97 65.98,551.4 66.1,552.09 66.22,551.71 66.35,551.16 66.47,553.27 66.6,554.18 66.72,541.53 66.85,520.43 66.97,538.3 67.1,555.78 67.22,567.12 67.34,571.72 67.47,578.77 67.59,585.3 67.72,591.15 67.84,596.83 67.97,598.89 68.09,598.76 68.22,599.73 68.34,600.29 68.46,601.12 68.59,601.06 68.71,598.86 68.84,594.62 68.96,595.89 69.09,597.45 69.21,596.02 69.33,591.84 69.46,587.32 69.58,587.1 69.71,586.93 69.83,583.95 69.96,581.65 70.08,579.44 70.21,575.06 70.33,572.77 70.45,570.13 70.58,566.52 70.7,567.76 70.83,568.38 70.95,566.51 71.08,562.51 71.2,561.33 71.33,562.96 71.45,560.68 71.57,557.28 71.7,556.49 71.82,554.01 71.95,552.69 72.07,553.56 72.2,554.35 72.32,554.5 72.44,553.4 72.57,555.39 72.69,554.55 72.82,553.68 72.94,553.65 73.07,552.94 73.19,550.41 73.32,548.14 73.44,549 73.56,548 73.69,549.95 73.81,552.96 73.94,552.25 74.06,549.23 74.19,549.12 74.31,549.58 74.44,549.03 74.56,551.77 74.68,552.8 74.81,549.48 74.93,550.73 75.06,555.29 75.18,555.27 75.31,553.95 75.43,553.6 75.55,554.4 75.68,555.08 75.8,556.82 75.93,556.01 76.05,540.79 76.18,520.97 76.3,538.76 76.43,557.35 76.55,570.88 76.67,577.32 76.8,580.63 76.92,588.38 77.05,594.34 77.17,596.93 77.3,597.48 77.42,598.68 77.55,600.6 77.67,603.98 77.79,603.35 77.92,604.18 78.04,601.73 78.17,600.33 78.29,598.16 78.42,598.17 78.54,599.1 78.66,594.89 78.79,591.86 78.91,588.59 79.04,585.92 79.16,581.92 79.29,578.64 79.41,575.94 79.54,572.61 79.66,570.48 79.78,570.62 79.91,570.35 80.03,568.03 80.16,567.03 80.28,564.02 80.41,564.16 80.53,565.52 80.66,564.07 80.78,561.1 80.9,560.74 81.03,559.61 81.15,557.9 81.28,558.81 81.4,557.44 81.53,555.43 81.65,555.3 81.77,555.82 81.9,554.8 82.02,554.17 82.15,556.56 82.27,556.32 82.4,553 82.52,550.99 82.65,548.51 82.77,548.57 82.89,550.25 83.02,551.57 83.14,551.16 83.27,549.66 83.39,548.75 83.52,550.85 83.64,552.27 83.77,550.82 83.89,549.44 84.01,550.37 84.14,553.25 84.26,554.59 84.39,554.73 84.51,555.03 84.64,554.12 84.76,552.64 84.88,553.08 85.01,553.29 85.13,554.88 85.26,556.46 85.38,544.28 85.51,519.34 85.63,536.21 85.76,554.5 85.88,570.4 86,577.68 86.13,583.51 86.25,591.88 86.38,599.01 86.5,600.51 86.63,599.08 86.75,601.8 86.88,603.7 87,603.12 87.12,606.6 87.25,606.97 87.37,604.89 87.5,603.76 87.62,604.49 87.75,604.14 87.87,600.43 87.99,595.32 88.12,591.08 88.24,589.36 88.37,585.9 88.49,581.42 88.62,581.42 88.74,577.9 88.87,573.42 88.99,572.08 89.11,570.84 89.24,569.12 89.36,567.76 89.49,568.35 89.61,566.61 89.74,565.06 89.86,565.53 89.99,563.46 90.11,562.47 90.23,563.51 90.36,562.66 90.48,562.55 90.61,561.58 90.73,557.33 90.86,556.97 90.98,558.19 91.1,557.66 91.23,557.58 91.35,554.07 91.48,551.74 91.6,553.25 91.73,553.45 91.85,552.95 91.98,553.04 92.1,552.4 92.22,552.38 92.35,551.53 92.47,550.41 92.6,550.7 92.72,551.97 92.85,554.38 92.97,554.74 93.1,554.74 93.22,554.2 93.34,553.09 93.47,553.7 93.59,555.11 93.72,558.28 93.84,557.36 93.97,554.61 94.09,557.65 94.21,559.26 94.34,556.89 94.46,558.63 94.59,558.49 94.71,558.17 94.84,561.61 94.96,560.22 95.09,559.21 95.21,561.78 95.33,561.6 95.46,563.41 95.58,562.85 95.71,562.08 95.83,564.13 95.96,564.12 96.08,564.4 96.21,563.47 96.33,565.24 96.45,565.78 96.58,565.65 96.7,567.64 96.83,568 96.95,568.77 97.08,569.81 97.2,568.18 97.32,567.93 97.45,568.16 97.57,567.98 97.7,570.7 97.82,573.46 97.95,573.25 98.07,571.12 98.2,570.53 98.32,571.84 98.44,570.93 98.57,572.05 98.69,574.6 98.82,572.78 98.94,569.28 99.07,569.13 99.19,572.66 99.32,572.62 99.44,570.99 99.56,570.78 99.69,572.08 99.81,574.07 99.94,573.67 100.06,572.53 100.19,571.12 100.31,569.5 100.43,572.12 100.56,575.03 100.68,574.48 100.81,574.34 100.93,573.86 101.06,573.14 101.18,573.43 101.31,572.58 101.43,573.07 101.55,575.66 101.68,577.2 101.8,577.23 101.93,576.74 102.05,577.69 102.18,575.94 102.3,573.81 102.43,575.01 102.55,576.2 102.67,577.48 102.8,577.57 102.92,574 103.05,575.42 103.17,577.27 103.3,574.21 103.42,574.27 103.54,575.44 103.67,574.83 103.79,575.71 103.92,575.99 104.04,573.37 104.17,575.11 104.29,577.54 104.42,576.35 104.54,574.49 104.66,573.28 104.79,573.66 104.91,575.83 105.04,577.79 105.16,576.87 105.29,575.33 105.41,576.8 105.54,577.22 105.66,575.76 105.78,574.77 105.91,576.22 106.03,576.79 106.16,577.03 106.28,578.13 106.41,577.03 106.53,575.03 106.65,571.5 106.78,572.89 106.9,575.92 107.03,575.18 107.15,577.17 107.28,577.44 107.4,577.32 107.53,576.42 107.65,573.6 107.77,574.8 107.9,577.19 108.02,575.96 108.15,574.85 108.27,576.51 108.4,576.18 108.52,578.12 108.65,578.29 108.77,575.43 108.89,575.54 109.02,576.45 109.14,577.83 109.27,577.31 109.39,576.1 109.52,576.78 109.64,577.6 109.76,576.72 109.89,574.81 110.01,575.32 110.14,575.7 110.26,574.72 110.39,574 110.51,575.18 110.64,577.09 110.76,577.78 110.88,577.55 111.01,576.54 111.13,575.57 111.26,576.62 111.38,577.46 111.51,578.07 111.63,576.91 111.76,576.28 111.88,577.25 112,577.6 112.13,578.31 112.25,578.28 112.38,576.18 112.5,575.08 112.63,577.07 112.75,578.46 112.87,578.94 113,577.35 113.12,574.96 113.25,577.08 113.37,579.8 113.5,578.44 113.62,578.1 113.75,579.64 113.87,578.92 113.99,576.34 114.12,578 114.24,578.54 114.37,575.82 114.49,574.97 114.62,576.4 114.74,574.97 114.87,573.91 114.99,577.17 115.11,576.68 115.24,576.98 115.36,577.04 115.49,577.15 115.61,577.23 115.74,576.48 115.86,576.09 115.98,574.66 116.11,575.35 116.23,576.04 116.36,575.33 116.48,577.26 116.61,577.92 116.73,575.55 116.86,575.38 116.98,574.91 117.1,571.56 117.23,572.28 117.35,575.31 117.48,575.24 117.6,574.39 117.73,576.66 117.85,576.49 117.98,575.04 118.1,579.2 118.22,579.58 118.35,577.34 118.47,575.97 118.6,575.8 118.72,575.11 118.85,575.06 118.97,575.96 119.09,578.16 119.22,577.54 119.34,574.18 119.47,575.1 119.59,578.14 119.72,579.12 119.84,575.38 119.97,574.62 120.09,577.1 120.21,577.33 120.34,575.92 120.46,575.69 120.59,577.33 120.71,578.31 120.84,577.52 120.96,574.88 121.09,574.93 121.21,575.07 121.33,574.74 121.46,575.52 121.58,575.53 121.71,575.66 121.83,574.77 121.96,574.3 122.08,576.01 122.2,576.4 122.33,575.88 122.45,575.51 122.58,575.25 122.7,575.33 122.83,577.09 122.95,577.14 123.08,574.2 123.2,576.04 123.32,575.75 123.45,574.01 123.57,575.94 123.7,578.17 123.82,576.81 123.95,575.94 124.07,577.63 124.2,576.04 124.32,576.6 124.44,578.23 124.57,578.37 124.69,577.45 124.82,575.62 124.94,575.09 125.07,575.29 125.19,576.09 125.31,576.38 125.44,576.76 125.56,574.81 125.69,573.88 125.81,578.07 125.94,579.41 126.06,575.67 126.19,575.99 126.31,578.15" fill="none" stroke="#8fdcc6" stroke-width="2.8" stroke-linejoin="round" opacity="0.5"/>
<polyline points="33.38,571.11 33.51,570.65 33.63,572.44 33.76,574.87 33.88,575.26 34.01,573.67 34.13,573.46 34.25,573.75 34.38,573.71 34.5,573.55 34.63,574.89 34.75,573.45 34.88,571.13 35,570.26 35.12,571.14 35.25,573.37 35.37,574 35.5,575.21 35.62,573.6 35.75,573.13 35.87,575.42 36,574.47 36.12,571.65 36.24,571.18 36.37,573.83 36.49,574.84 36.62,573.09 36.74,572.51 36.87,573.98 36.99,574.06 37.12,572.46 37.24,570.12 37.36,572.23 37.49,574.98 37.61,574.51 37.74,576.41 37.86,576.53 37.99,575.06 38.11,572.89 38.23,571.95 38.36,574.86 38.48,574.03 38.61,572.69 38.73,575.22 38.86,575.47 38.98,574.25 39.11,574.55 39.23,573.89 39.35,575.34 39.48,575.66 39.6,572.21 39.73,571.03 39.85,570.93 39.98,570.65 40.1,570.24 40.23,572.61 40.35,573.29 40.47,574.07 40.6,575.6 40.72,575.66 40.85,573.92 40.97,570.48 41.1,571.8 41.22,571.33 41.34,571.84 41.47,573.55 41.59,572.68 41.72,573.96 41.84,573.66 41.97,570.49 42.09,572.03 42.22,573.13 42.34,572.21 42.46,571.29 42.59,570.62 42.71,571.77 42.84,571.61 42.96,572.06 43.09,574.21 43.21,573 43.34,572.98 43.46,574.2 43.58,572.1 43.71,573.24 43.83,573.73 43.96,571.61 44.08,571.79 44.21,573.96 44.33,577.02 44.45,577.11 44.58,574.65 44.7,574.17 44.83,574.56 44.95,573.47 45.08,572.78 45.2,573 45.33,571.39 45.45,571.89 45.57,572.63 45.7,569.16 45.82,567.63 45.95,570.99 46.07,571.71 46.2,569.45 46.32,567.78 46.45,567.93 46.57,569.5 46.69,570.14 46.82,568.86 46.94,567.98 47.07,569.42 47.19,570.17 47.32,570.28 47.44,569.53 47.56,570.04 47.69,570.51 47.81,567.79 47.94,566.71 48.06,561.08 48.19,546.44 48.31,553.43 48.44,561.56 48.56,568.85 48.68,578.4 48.81,584.63 48.93,589.75 49.06,597.33 49.18,601.57 49.31,603.35 49.43,605.61 49.56,606.28 49.68,604.67 49.8,607.69 49.93,606.47 50.05,605.84 50.18,604.89 50.3,605.06 50.43,602.75 50.55,601.91 50.67,601.05 50.8,597.9 50.92,592.49 51.05,587.85 51.17,583.08 51.3,580.43 51.42,577.42 51.55,572.66 51.67,571.89 51.79,570.38 51.92,568.62 52.04,569.33 52.17,567.63 52.29,566.92 52.42,566.91 52.54,564.53 52.67,563.06 52.79,562.75 52.91,562.15 53.04,560.45 53.16,558.48 53.29,558.9 53.41,559.61 53.54,558.78 53.66,559.96 53.78,556.59 53.91,555.03 54.03,559.16 54.16,557.33 54.28,556.62 54.41,557.45 54.53,555.14 54.66,555.95 54.78,557.06 54.9,556.67 55.03,556.09 55.15,556.97 55.28,558.24 55.4,556.77 55.53,554.47 55.65,553.75 55.78,553.13 55.9,553.16 56.02,555.63 56.15,556.6 56.27,558.3 56.4,559.29 56.52,558.33 56.65,557.13 56.77,555.46 56.89,556.44 57.02,557.85 57.14,559 57.27,558.51 57.39,545.77 57.52,524.22 57.64,540.84 57.77,555.47 57.89,565.19 58.01,574.76 58.14,583.96 58.26,591.57 58.39,598.22 58.51,602.18 58.64,603.01 58.76,603.36 58.89,603.61 59.01,604.39 59.13,608.23 59.26,607.03 59.38,606.42 59.51,606.55 59.63,603.22 59.76,602.18 59.88,601.19 60,597.46 60.13,595.69 60.25,590.55 60.38,587.18 60.5,584.3 60.63,580.97 60.75,578.27 60.88,574.58 61,572.89 61.12,569.69 61.25,567.88 61.37,566.48 61.5,567.84 61.62,568.34 61.75,563.61 61.87,562.64 62,560.77 62.12,558.48 62.24,558.63 62.37,557.55 62.49,553.2 62.62,552.96 62.74,555.18 62.87,555.48 62.99,555.22 63.11,555.69 63.24,555.6 63.36,551.21 63.49,549.44 63.61,550.92 63.74,550.45 63.86,548.71 63.99,548.81 64.11,548.18 64.23,547.24 64.36,548.82 64.48,547.7 64.61,550.61 64.73,553.27 64.86,550.73 64.98,551.33 65.11,552.01 65.23,551.96 65.35,552.72 65.48,549.42 65.6,548.3 65.73,551.46 65.85,550.97 65.98,551.4 66.1,552.09 66.22,551.71 66.35,551.16 66.47,553.27 66.6,554.18 66.72,541.53 66.85,520.43 66.97,538.3 67.1,555.78 67.22,567.12 67.34,571.72 67.47,578.77 67.59,585.3 67.72,591.15 67.84,596.83 67.97,598.89 68.09,598.76 68.22,599.73 68.34,600.29 68.46,601.12 68.59,601.06 68.71,598.86 68.84,594.62 68.96,595.89 69.09,597.45 69.21,596.02 69.33,591.84 69.46,587.32 69.58,587.1 69.71,586.93 69.83,583.95 69.96,581.65 70.08,579.44 70.21,575.06 70.33,572.77 70.45,570.13 70.58,566.52 70.7,567.76 70.83,568.38 70.95,566.51 71.08,562.51 71.2,561.33 71.33,562.96 71.45,560.68 71.57,557.28 71.7,556.49 71.82,554.01 71.95,552.69 72.07,553.56 72.2,554.35 72.32,554.5 72.44,553.4 72.57,555.39 72.69,554.55 72.82,553.68 72.94,553.65 73.07,552.94 73.19,550.41 73.32,548.14 73.44,549 73.56,548 73.69,549.95 73.81,552.96 73.94,552.25 74.06,549.23 74.19,549.12 74.31,549.58 74.44,549.03 74.56,551.77 74.68,552.8 74.81,549.48 74.93,550.73 75.06,555.29 75.18,555.27 75.31,553.95 75.43,553.6 75.55,554.4 75.68,555.08 75.8,556.82 75.93,556.01 76.05,540.79 76.18,520.97 76.3,538.76 76.43,557.35 76.55,570.88 76.67,577.32 76.8,580.63 76.92,588.38 77.05,594.34 77.17,596.93 77.3,597.48 77.42,598.68 77.55,600.6 77.67,603.98 77.79,603.35 77.92,604.18 78.04,601.73 78.17,600.33 78.29,598.16 78.42,598.17 78.54,599.1 78.66,594.89 78.79,591.86 78.91,588.59 79.04,585.92 79.16,581.92 79.29,578.64 79.41,575.94 79.54,572.61 79.66,570.48 79.78,570.62 79.91,570.35 80.03,568.03 80.16,567.03 80.28,564.02 80.41,564.16 80.53,565.52 80.66,564.07 80.78,561.1 80.9,560.74 81.03,559.61 81.15,557.9 81.28,558.81 81.4,557.44 81.53,555.43 81.65,555.3 81.77,555.82 81.9,554.8 82.02,554.17 82.15,556.56 82.27,556.32 82.4,553 82.52,550.99 82.65,548.51 82.77,548.57 82.89,550.25 83.02,551.57 83.14,551.16 83.27,549.66 83.39,548.75 83.52,550.85 83.64,552.27 83.77,550.82 83.89,549.44 84.01,550.37 84.14,553.25 84.26,554.59 84.39,554.73 84.51,555.03 84.64,554.12 84.76,552.64 84.88,553.08 85.01,553.29 85.13,554.88 85.26,556.46 85.38,544.28 85.51,519.34 85.63,536.21 85.76,554.5 85.88,570.4 86,577.68 86.13,583.51 86.25,591.88 86.38,599.01 86.5,600.51 86.63,599.08 86.75,601.8 86.88,603.7 87,603.12 87.12,606.6 87.25,606.97 87.37,604.89 87.5,603.76 87.62,604.49 87.75,604.14 87.87,600.43 87.99,595.32 88.12,591.08 88.24,589.36 88.37,585.9 88.49,581.42 88.62,581.42 88.74,577.9 88.87,573.42 88.99,572.08 89.11,570.84 89.24,569.12 89.36,567.76 89.49,568.35 89.61,566.61 89.74,565.06 89.86,565.53 89.99,563.46 90.11,562.47 90.23,563.51 90.36,562.66 90.48,562.55 90.61,561.58 90.73,557.33 90.86,556.97 90.98,558.19 91.1,557.66 91.23,557.58 91.35,554.07 91.48,551.74 91.6,553.25 91.73,553.45 91.85,552.95 91.98,553.04 92.1,552.4 92.22,552.38 92.35,551.53 92.47,550.41 92.6,550.7 92.72,551.97 92.85,554.38 92.97,554.74 93.1,554.74 93.22,554.2 93.34,553.09 93.47,553.7 93.59,555.11 93.72,558.28 93.84,557.36 93.97,554.61 94.09,557.65 94.21,559.26 94.34,556.89 94.46,558.63 94.59,558.49 94.71,558.17 94.84,561.61 94.96,560.22 95.09,559.21 95.21,561.78 95.33,561.6 95.46,563.41 95.58,562.85 95.71,562.08 95.83,564.13 95.96,564.12 96.08,564.4 96.21,563.47 96.33,565.24 96.45,565.78 96.58,565.65 96.7,567.64 96.83,568 96.95,568.77 97.08,569.81 97.2,568.18 97.32,567.93 97.45,568.16 97.57,567.98 97.7,570.7 97.82,573.46 97.95,573.25 98.07,571.12 98.2,570.53 98.32,571.84 98.44,570.93 98.57,572.05 98.69,574.6 98.82,572.78 98.94,569.28 99.07,569.13 99.19,572.66 99.32,572.62 99.44,570.99 99.56,570.78 99.69,572.08 99.81,574.07 99.94,573.67 100.06,572.53 100.19,571.12 100.31,569.5 100.43,572.12 100.56,575.03 100.68,574.48 100.81,574.34 100.93,573.86 101.06,573.14 101.18,573.43 101.31,572.58 101.43,573.07 101.55,575.66 101.68,577.2 101.8,577.23 101.93,576.74 102.05,577.69 102.18,575.94 102.3,573.81 102.43,575.01 102.55,576.2 102.67,577.48 102.8,577.57 102.92,574 103.05,575.42 103.17,577.27 103.3,574.21 103.42,574.27 103.54,575.44 103.67,574.83 103.79,575.71 103.92,575.99 104.04,573.37 104.17,575.11 104.29,577.54 104.42,576.35 104.54,574.49 104.66,573.28 104.79,573.66 104.91,575.83 105.04,577.79 105.16,576.87 105.29,575.33 105.41,576.8 105.54,577.22 105.66,575.76 105.78,574.77 105.91,576.22 106.03,576.79 106.16,577.03 106.28,578.13 106.41,577.03 106.53,575.03 106.65,571.5 106.78,572.89 106.9,575.92 107.03,575.18 107.15,577.17 107.28,577.44 107.4,577.32 107.53,576.42 107.65,573.6 107.77,574.8 107.9,577.19 108.02,575.96 108.15,574.85 108.27,576.51 108.4,576.18 108.52,578.12 108.65,578.29 108.77,575.43 108.89,575.54 109.02,576.45 109.14,577.83 109.27,577.31 109.39,576.1 109.52,576.78 109.64,577.6 109.76,576.72 109.89,574.81 110.01,575.32 110.14,575.7 110.26,574.72 110.39,574 110.51,575.18 110.64,577.09 110.76,577.78 110.88,577.55 111.01,576.54 111.13,575.57 111.26,576.62 111.38,577.46 111.51,578.07 111.63,576.91 111.76,576.28 111.88,577.25 112,577.6 112.13,578.31 112.25,578.28 112.38,576.18 112.5,575.08 112.63,577.07 112.75,578.46 112.87,578.94 113,577.35 113.12,574.96 113.25,577.08 113.37,579.8 113.5,578.44 113.62,578.1 113.75,579.64 113.87,578.92 113.99,576.34 114.12,578 114.24,578.54 114.37,575.82 114.49,574.97 114.62,576.4 114.74,574.97 114.87,573.91 114.99,577.17 115.11,576.68 115.24,576.98 115.36,577.04 115.49,577.15 115.61,577.23 115.74,576.48 115.86,576.09 115.98,574.66 116.11,575.35 116.23,576.04 116.36,575.33 116.48,577.26 116.61,577.92 116.73,575.55 116.86,575.38 116.98,574.91 117.1,571.56 117.23,572.28 117.35,575.31 117.48,575.24 117.6,574.39 117.73,576.66 117.85,576.49 117.98,575.04 118.1,579.2 118.22,579.58 118.35,577.34 118.47,575.97 118.6,575.8 118.72,575.11 118.85,575.06 118.97,575.96 119.09,578.16 119.22,577.54 119.34,574.18 119.47,575.1 119.59,578.14 119.72,579.12 119.84,575.38 119.97,574.62 120.09,577.1 120.21,577.33 120.34,575.92 120.46,575.69 120.59,577.33 120.71,578.31 120.84,577.52 120.96,574.88 121.09,574.93 121.21,575.07 121.33,574.74 121.46,575.52 121.58,575.53 121.71,575.66 121.83,574.77 121.96,574.3 122.08,576.01 122.2,576.4 122.33,575.88 122.45,575.51 122.58,575.25 122.7,575.33 122.83,577.09 122.95,577.14 123.08,574.2 123.2,576.04 123.32,575.75 123.45,574.01 123.57,575.94 123.7,578.17 123.82,576.81 123.95,575.94 124.07,577.63 124.2,576.04 124.32,576.6 124.44,578.23 124.57,578.37 124.69,577.45 124.82,575.62 124.94,575.09 125.07,575.29 125.19,576.09 125.31,576.38 125.44,576.76 125.56,574.81 125.69,573.88 125.81,578.07 125.94,579.41 126.06,575.67 126.19,575.99 126.31,578.15" fill="none" stroke="#3fba98" stroke-width="0.95" stroke-linejoin="round"/>
<polyline points="134.32,569.82 134.45,570.17 134.57,568.06 134.7,567.97 134.82,570.42 134.95,568.48 135.08,569.55 135.2,571.85 135.33,570.68 135.45,570.4 135.58,571.86 135.7,571.72 135.83,570.83 135.95,569.98 136.08,571.35 136.2,572.72 136.33,569.74 136.45,567.04 136.58,569.85 136.7,571.12 136.83,570.56 136.95,572.14 137.08,572.02 137.2,571.56 137.33,569.58 137.45,568.38 137.58,569.36 137.7,570.49 137.83,570.55 137.95,570.27 138.08,569.43 138.21,569.98 138.33,570.83 138.46,570.26 138.58,570.3 138.71,569.93 138.83,569.66 138.96,568.51 139.08,568.81 139.21,568.56 139.33,568.79 139.46,570.94 139.58,570.51 139.71,569.62 139.83,569.44 139.96,568.44 140.08,567.52 140.21,568.36 140.33,569.91 140.46,570.54 140.58,568.69 140.71,568.34 140.83,571.22 140.96,572.17 141.08,571.4 141.21,569.44 141.34,568.94 141.46,567.77 141.59,566.96 141.71,569.21 141.84,570.36 141.96,569.46 142.09,569.25 142.21,571.14 142.34,570.28 142.46,569.39 142.59,568.73 142.71,568.82 142.84,573.1 142.96,572.18 143.09,571.14 143.21,570.34 143.34,566.43 143.46,568.5 143.59,571.65 143.71,572.67 143.84,570.51 143.96,569.25 144.09,570.8 144.21,570.84 144.34,567.99 144.47,567.36 144.59,568.78 144.72,568.32 144.84,568.03 144.97,567.72 145.09,569.55 145.22,570.89 145.34,570.94 145.47,571.46 145.59,569.44 145.72,569.22 145.84,570.51 145.97,570.7 146.09,571.24 146.22,569.67 146.34,569.51 146.47,570.85 146.59,569.85 146.72,568.81 146.84,568.49 146.97,568.83 147.09,571.52 147.22,571.03 147.34,568.65 147.47,568.23 147.6,569.65 147.72,568.06 147.85,568.46 147.97,570.35 148.1,569 148.22,570.27 148.35,569.46 148.47,569.23 148.6,572.56 148.72,573.49 148.85,570.54 148.97,566.93 149.1,568.98 149.22,571.36 149.35,568.25 149.47,567.59 149.6,569.52 149.72,571.66 149.85,573.14 149.97,572.42 150.1,570.71 150.22,572.08 150.35,573.26 150.47,570.35 150.6,568.78 150.73,556.52 150.85,553.63 150.98,561.28 151.1,567.46 151.23,571.8 151.35,577.53 151.48,585.45 151.6,593.79 151.73,599.93 151.85,600.07 151.98,601.25 152.1,602.99 152.23,606.39 152.35,610.54 152.48,608.77 152.6,606.59 152.73,606.67 152.85,606.61 152.98,607.02 153.1,603.35 153.23,599.78 153.35,599.19 153.48,596.08 153.6,591.43 153.73,588.1 153.86,582.87 153.98,580.26 154.11,580.78 154.23,577.51 154.36,573.64 154.48,570.94 154.61,567.86 154.73,565.91 154.86,564.56 154.98,562.32 155.11,560.09 155.23,557.82 155.36,555.43 155.48,554.99 155.61,551.98 155.73,549.37 155.86,546.2 155.98,544.05 156.11,545.36 156.23,546.01 156.36,546.85 156.48,549.76 156.61,548.69 156.73,547.31 156.86,547.88 156.99,547.97 157.11,549.42 157.24,549.27 157.36,550.49 157.49,550.72 157.61,549.41 157.74,549.95 157.86,552.07 157.99,552.52 158.11,551.2 158.24,549.67 158.36,549.33 158.49,550.52 158.61,552.74 158.74,552.37 158.86,551.58 158.99,553.07 159.11,552.42 159.24,551.8 159.36,552.52 159.49,554.67 159.61,556.13 159.74,556.99 159.86,556.43 159.99,554.88 160.12,554.24 160.24,554.19 160.37,555.71 160.49,553.85 160.62,554.7 160.74,558.49 160.87,558.19 160.99,556.37 161.12,556.24 161.24,557.4 161.37,558.36 161.49,556.49 161.62,556.1 161.74,558.95 161.87,558.56 161.99,558.42 162.12,558.68 162.24,556.56 162.37,556.94 162.49,558.54 162.62,558.61 162.74,558.9 162.87,557.79 162.99,557.17 163.12,558.55 163.25,560.24 163.37,560.16 163.5,558.44 163.62,558.47 163.75,559.63 163.87,561.66 164,560.62 164.12,560.43 164.25,562.98 164.37,561.95 164.5,560.7 164.62,560.41 164.75,561.39 164.87,561.92 165,561.9 165.12,563.62 165.25,563.4 165.37,562.36 165.5,561.8 165.62,561.36 165.75,560.93 165.87,560.19 166,560.4 166.12,559.93 166.25,560.15 166.38,531.81 166.5,537.71 166.63,552.82 166.75,568.6 166.88,573.43 167,580.42 167.13,587.29 167.25,594.56 167.38,602.6 167.5,602.36 167.63,602.22 167.75,602.71 167.88,604.72 168,606.86 168.13,607.69 168.25,605.18 168.38,606.31 168.5,606.51 168.63,602.7 168.75,602.51 168.88,601.38 169,597.43 169.13,593.96 169.25,591.25 169.38,589.17 169.51,587.41 169.63,584.43 169.76,578.07 169.88,576.53 170.01,573.33 170.13,570.12 170.26,569.04 170.38,568.83 170.51,565.25 170.63,560.86 170.76,560.19 170.88,558.23 171.01,556.32 171.13,551.38 171.26,548.48 171.38,546.36 171.51,543.62 171.63,543.22 171.76,543.98 171.88,544.32 172.01,541.46 172.13,541.64 172.26,544.26 172.38,545.87 172.51,545.75 172.64,544.23 172.76,547.51 172.89,550.83 173.01,547.22 173.14,545.73 173.26,548.23 173.39,548.5 173.51,547.9 173.64,548.06 173.76,549.88 173.89,548.96 174.01,549.13 174.14,552.65 174.26,553.67 174.39,553.3 174.51,553.53 174.64,554 174.76,553.69 174.89,557.38 175.01,558.95 175.14,554.89 175.26,553.89 175.39,556.03 175.51,557.7 175.64,556.19 175.77,556.06 175.89,558.1 176.02,556.14 176.14,556.24 176.27,557.75 176.39,557.67 176.52,558.61 176.64,559.83 176.77,561.03 176.89,558.97 177.02,559.56 177.14,560.87 177.27,561.2 177.39,562.01 177.52,561.06 177.64,562.79 177.77,561.82 177.89,560.56 178.02,560.75 178.14,561.81 178.27,562.4 178.39,559.21 178.52,560.21 178.64,563.63 178.77,563.62 178.9,563.06 179.02,564.05 179.15,564.6 179.27,565.26 179.4,564.95 179.52,565.02 179.65,566.64 179.77,565.63 179.9,565.17 180.02,563.51 180.15,563.86 180.27,567.69 180.4,568.27 180.52,567.39 180.65,567.81 180.77,569.81 180.9,567.61 181.02,567.85 181.15,568.25 181.27,567.06 181.4,570.05 181.52,568.71 181.65,568.07 181.77,571.03 181.9,570.74 182.03,541.58 182.15,529.64 182.28,550.81 182.4,564.85 182.53,572.22 182.65,580.4 182.78,587.58 182.9,596.24 183.03,602.87 183.15,600.81 183.28,603.67 183.4,605.14 183.53,604.22 183.65,607.69 183.78,608.13 183.9,604.39 184.03,604.16 184.15,604.3 184.28,601.59 184.4,602.47 184.53,601.01 184.65,596.41 184.78,594.5 184.9,591.26 185.03,588.06 185.16,586.32 185.28,584.16 185.41,580.06 185.53,576.13 185.66,574.04 185.78,572.72 185.91,571.49 186.03,569.03 186.16,564.74 186.28,562.68 186.41,559.85 186.53,556.47 186.66,555.75 186.78,555.37 186.91,551.39 187.03,549.56 187.16,548.98 187.28,544.86 187.41,546.1 187.53,549.08 187.66,549.36 187.78,548.14 187.91,547.15 188.03,547.94 188.16,550.98 188.29,552.8 188.41,551.92 188.54,553.02 188.66,553.96 188.79,550.71 188.91,552.04 189.04,553.65 189.16,553.98 189.29,556.03 189.41,555.59 189.54,557.29 189.66,557.79 189.79,555.3 189.91,554.89 190.04,555.99 190.16,558.07 190.29,559.43 190.41,558.83 190.54,558.43 190.66,557.69 190.79,559.93 190.91,560.02 191.04,559.73 191.16,562.26 191.29,563.7 191.42,563.73 191.54,562.92 191.67,564.38 191.79,564.67 191.92,563.46 192.04,563.81 192.17,563.34 192.29,564.21 192.42,564.31 192.54,563.65 192.67,564.42 192.79,566.4 192.92,566.88 193.04,565.22 193.17,564.59 193.29,565.99 193.42,565.76 193.54,565.89 193.67,566.16 193.79,564.63 193.92,567.04 194.04,565.58 194.17,566.27 194.29,568.97 194.42,567.71 194.55,567.2 194.67,567.4 194.8,567.33 194.92,567.31 195.05,568.35 195.17,570.04 195.3,570.66 195.42,568.95 195.55,570.04 195.67,571.1 195.8,572.25 195.92,573.33 196.05,573.1 196.17,571.28 196.3,571.71 196.42,573.5 196.55,571.03 196.67,570.36 196.8,570.53 196.92,570.28 197.05,570.82 197.17,571.28 197.3,572.06 197.42,573.08 197.55,574.89 197.68,530.18 197.8,536.14 197.93,552.07 198.05,569.61 198.18,576.42 198.3,581.68 198.43,588.2 198.55,598.68 198.68,606.06 198.8,607.46 198.93,608.83 199.05,611.7 199.18,612.2 199.3,611.42 199.43,612.57 199.55,611.18 199.68,611.59 199.8,609.94 199.93,608.45 200.05,608.83 200.18,607.15 200.3,601.15 200.43,598.99 200.55,594.31 200.68,590.6 200.81,588.03 200.93,583.04 201.06,578.42 201.18,574.33 201.31,569.98 201.43,569.34 201.56,570.07 201.68,566.51 201.81,562.33 201.93,562.52 202.06,561.39 202.18,559.61 202.31,560.13 202.43,556.77 202.56,552.89 202.68,552 202.81,548.71 202.93,546.63 203.06,549.56 203.18,552.71 203.31,554.5 203.43,553.79 203.56,552.66 203.68,552.75 203.81,552.8 203.94,554.34 204.06,555.25 204.19,556.67 204.31,555.41 204.44,554.8 204.56,555.91 204.69,556.51 204.81,557.55 204.94,556.66 205.06,557.49 205.19,559.48 205.31,557.2 205.44,557.02 205.56,559.34 205.69,559.69 205.81,561.57 205.94,560.56 206.06,559.8 206.19,561.29 206.31,564.58 206.44,565.1 206.56,562.28 206.69,562.75 206.81,564.26 206.94,563.77 207.07,563.52 207.19,564.33 207.32,563.66 207.44,563.39 207.57,566.04 207.69,566.91 207.82,566.49 207.94,569.14 208.07,568.2 208.19,568.08 208.32,569.04 208.44,570.03 208.57,570.78 208.69,568.79 208.82,567.89 208.94,568.13 209.07,569.27 209.19,569.82 209.32,567.39 209.44,567.1 209.57,568.99 209.69,566.67 209.82,568.58 209.94,572.92 210.07,572.33 210.2,570.73 210.32,571.03 210.45,570.82 210.57,569.87 210.7,571.63 210.82,571.54 210.95,571.58 211.07,571.18 211.2,569.6 211.32,568.19 211.45,567.73 211.57,570.43 211.7,571.11 211.82,570.9 211.95,572.22 212.07,574.08 212.2,572.3 212.32,569.33 212.45,571.15 212.57,573.19 212.7,573.38 212.82,572.21 212.95,570.58 213.07,572.66 213.2,574.29 213.33,538.31 213.45,544.52 213.58,554.85 213.7,565.65 213.83,573.26 213.95,581.93 214.08,587.57 214.2,592.41 214.33,599.85 214.45,601.68 214.58,602.31 214.7,602.94 214.83,604.62 214.95,607.69 215.08,606.58 215.2,607.31 215.33,605.94 215.45,604 215.58,602.81 215.7,603.36 215.83,603.24 215.95,598.5 216.08,596.44 216.2,593.78 216.33,589.3 216.46,586.46 216.58,583.12 216.71,581.9 216.83,578.45 216.96,572.88 217.08,570.16 217.21,567.07 217.33,566.16 217.46,565.06 217.58,566.31 217.71,565.07 217.83,559.72 217.96,557.73 218.08,557 218.21,556.65 218.33,555.64 218.46,553.59 218.58,552.17 218.71,552.08 218.83,553.12 218.96,555.54 219.08,554 219.21,554.07 219.33,559.32 219.46,557.39 219.59,553.97 219.71,555.77 219.84,556.3 219.96,556.52 220.09,558.91 220.21,559.75 220.34,560.66 220.46,561.96 220.59,562.06 220.71,561.69 220.84,560.14 220.96,561.47 221.09,562.46 221.21,564.25 221.34,566.09 221.46,563.49 221.59,561.56 221.71,561.34 221.84,561.44 221.96,564.39 222.09,566.29 222.21,567.5 222.34,567.33 222.46,564.57 222.59,564.98 222.72,566.43 222.84,565.83 222.97,564.5 223.09,565.03 223.22,566.45 223.34,566.76 223.47,566.25 223.59,566.23 223.72,565.88 223.84,566.41 223.97,568.81 224.09,569.29 224.22,567.56 224.34,567.9 224.47,568.22 224.59,568.64 224.72,567.62 224.84,566.63 224.97,568.06 225.09,567.85 225.22,567.36 225.34,568.22 225.47,568.13 225.59,567.7 225.72,568.69 225.85,569.55 225.97,571.11 226.1,571.07 226.22,569.87 226.35,571.12 226.47,570.03 226.6,569.32 226.72,572.05 226.85,572.65 226.97,571.72 227.1,571.48 227.22,572.43 227.35,572.51 227.47,573.39 227.6,574.05 227.72,572.21 227.85,572.63 227.97,572.57 228.1,571.17 228.22,572.65 228.35,576.19 228.47,574.79 228.6,571 228.72,573.77 228.85,575.14 228.98,573.27 229.1,575.36" fill="none" stroke="#f99" stroke-width="2.8" stroke-linejoin="round" opacity="0.45"/>
<polyline points="134.32,569.82 134.45,570.17 134.57,568.06 134.7,567.97 134.82,570.42 134.95,568.48 135.08,569.55 135.2,571.85 135.33,570.68 135.45,570.4 135.58,571.86 135.7,571.72 135.83,570.83 135.95,569.98 136.08,571.35 136.2,572.72 136.33,569.74 136.45,567.04 136.58,569.85 136.7,571.12 136.83,570.56 136.95,572.14 137.08,572.02 137.2,571.56 137.33,569.58 137.45,568.38 137.58,569.36 137.7,570.49 137.83,570.55 137.95,570.27 138.08,569.43 138.21,569.98 138.33,570.83 138.46,570.26 138.58,570.3 138.71,569.93 138.83,569.66 138.96,568.51 139.08,568.81 139.21,568.56 139.33,568.79 139.46,570.94 139.58,570.51 139.71,569.62 139.83,569.44 139.96,568.44 140.08,567.52 140.21,568.36 140.33,569.91 140.46,570.54 140.58,568.69 140.71,568.34 140.83,571.22 140.96,572.17 141.08,571.4 141.21,569.44 141.34,568.94 141.46,567.77 141.59,566.96 141.71,569.21 141.84,570.36 141.96,569.46 142.09,569.25 142.21,571.14 142.34,570.28 142.46,569.39 142.59,568.73 142.71,568.82 142.84,573.1 142.96,572.18 143.09,571.14 143.21,570.34 143.34,566.43 143.46,568.5 143.59,571.65 143.71,572.67 143.84,570.51 143.96,569.25 144.09,570.8 144.21,570.84 144.34,567.99 144.47,567.36 144.59,568.78 144.72,568.32 144.84,568.03 144.97,567.72 145.09,569.55 145.22,570.89 145.34,570.94 145.47,571.46 145.59,569.44 145.72,569.22 145.84,570.51 145.97,570.7 146.09,571.24 146.22,569.67 146.34,569.51 146.47,570.85 146.59,569.85 146.72,568.81 146.84,568.49 146.97,568.83 147.09,571.52 147.22,571.03 147.34,568.65 147.47,568.23 147.6,569.65 147.72,568.06 147.85,568.46 147.97,570.35 148.1,569 148.22,570.27 148.35,569.46 148.47,569.23 148.6,572.56 148.72,573.49 148.85,570.54 148.97,566.93 149.1,568.98 149.22,571.36 149.35,568.25 149.47,567.59 149.6,569.52 149.72,571.66 149.85,573.14 149.97,572.42 150.1,570.71 150.22,572.08 150.35,573.26 150.47,570.35 150.6,568.78 150.73,556.52 150.85,553.63 150.98,561.28 151.1,567.46 151.23,571.8 151.35,577.53 151.48,585.45 151.6,593.79 151.73,599.93 151.85,600.07 151.98,601.25 152.1,602.99 152.23,606.39 152.35,610.54 152.48,608.77 152.6,606.59 152.73,606.67 152.85,606.61 152.98,607.02 153.1,603.35 153.23,599.78 153.35,599.19 153.48,596.08 153.6,591.43 153.73,588.1 153.86,582.87 153.98,580.26 154.11,580.78 154.23,577.51 154.36,573.64 154.48,570.94 154.61,567.86 154.73,565.91 154.86,564.56 154.98,562.32 155.11,560.09 155.23,557.82 155.36,555.43 155.48,554.99 155.61,551.98 155.73,549.37 155.86,546.2 155.98,544.05 156.11,545.36 156.23,546.01 156.36,546.85 156.48,549.76 156.61,548.69 156.73,547.31 156.86,547.88 156.99,547.97 157.11,549.42 157.24,549.27 157.36,550.49 157.49,550.72 157.61,549.41 157.74,549.95 157.86,552.07 157.99,552.52 158.11,551.2 158.24,549.67 158.36,549.33 158.49,550.52 158.61,552.74 158.74,552.37 158.86,551.58 158.99,553.07 159.11,552.42 159.24,551.8 159.36,552.52 159.49,554.67 159.61,556.13 159.74,556.99 159.86,556.43 159.99,554.88 160.12,554.24 160.24,554.19 160.37,555.71 160.49,553.85 160.62,554.7 160.74,558.49 160.87,558.19 160.99,556.37 161.12,556.24 161.24,557.4 161.37,558.36 161.49,556.49 161.62,556.1 161.74,558.95 161.87,558.56 161.99,558.42 162.12,558.68 162.24,556.56 162.37,556.94 162.49,558.54 162.62,558.61 162.74,558.9 162.87,557.79 162.99,557.17 163.12,558.55 163.25,560.24 163.37,560.16 163.5,558.44 163.62,558.47 163.75,559.63 163.87,561.66 164,560.62 164.12,560.43 164.25,562.98 164.37,561.95 164.5,560.7 164.62,560.41 164.75,561.39 164.87,561.92 165,561.9 165.12,563.62 165.25,563.4 165.37,562.36 165.5,561.8 165.62,561.36 165.75,560.93 165.87,560.19 166,560.4 166.12,559.93 166.25,560.15 166.38,531.81 166.5,537.71 166.63,552.82 166.75,568.6 166.88,573.43 167,580.42 167.13,587.29 167.25,594.56 167.38,602.6 167.5,602.36 167.63,602.22 167.75,602.71 167.88,604.72 168,606.86 168.13,607.69 168.25,605.18 168.38,606.31 168.5,606.51 168.63,602.7 168.75,602.51 168.88,601.38 169,597.43 169.13,593.96 169.25,591.25 169.38,589.17 169.51,587.41 169.63,584.43 169.76,578.07 169.88,576.53 170.01,573.33 170.13,570.12 170.26,569.04 170.38,568.83 170.51,565.25 170.63,560.86 170.76,560.19 170.88,558.23 171.01,556.32 171.13,551.38 171.26,548.48 171.38,546.36 171.51,543.62 171.63,543.22 171.76,543.98 171.88,544.32 172.01,541.46 172.13,541.64 172.26,544.26 172.38,545.87 172.51,545.75 172.64,544.23 172.76,547.51 172.89,550.83 173.01,547.22 173.14,545.73 173.26,548.23 173.39,548.5 173.51,547.9 173.64,548.06 173.76,549.88 173.89,548.96 174.01,549.13 174.14,552.65 174.26,553.67 174.39,553.3 174.51,553.53 174.64,554 174.76,553.69 174.89,557.38 175.01,558.95 175.14,554.89 175.26,553.89 175.39,556.03 175.51,557.7 175.64,556.19 175.77,556.06 175.89,558.1 176.02,556.14 176.14,556.24 176.27,557.75 176.39,557.67 176.52,558.61 176.64,559.83 176.77,561.03 176.89,558.97 177.02,559.56 177.14,560.87 177.27,561.2 177.39,562.01 177.52,561.06 177.64,562.79 177.77,561.82 177.89,560.56 178.02,560.75 178.14,561.81 178.27,562.4 178.39,559.21 178.52,560.21 178.64,563.63 178.77,563.62 178.9,563.06 179.02,564.05 179.15,564.6 179.27,565.26 179.4,564.95 179.52,565.02 179.65,566.64 179.77,565.63 179.9,565.17 180.02,563.51 180.15,563.86 180.27,567.69 180.4,568.27 180.52,567.39 180.65,567.81 180.77,569.81 180.9,567.61 181.02,567.85 181.15,568.25 181.27,567.06 181.4,570.05 181.52,568.71 181.65,568.07 181.77,571.03 181.9,570.74 182.03,541.58 182.15,529.64 182.28,550.81 182.4,564.85 182.53,572.22 182.65,580.4 182.78,587.58 182.9,596.24 183.03,602.87 183.15,600.81 183.28,603.67 183.4,605.14 183.53,604.22 183.65,607.69 183.78,608.13 183.9,604.39 184.03,604.16 184.15,604.3 184.28,601.59 184.4,602.47 184.53,601.01 184.65,596.41 184.78,594.5 184.9,591.26 185.03,588.06 185.16,586.32 185.28,584.16 185.41,580.06 185.53,576.13 185.66,574.04 185.78,572.72 185.91,571.49 186.03,569.03 186.16,564.74 186.28,562.68 186.41,559.85 186.53,556.47 186.66,555.75 186.78,555.37 186.91,551.39 187.03,549.56 187.16,548.98 187.28,544.86 187.41,546.1 187.53,549.08 187.66,549.36 187.78,548.14 187.91,547.15 188.03,547.94 188.16,550.98 188.29,552.8 188.41,551.92 188.54,553.02 188.66,553.96 188.79,550.71 188.91,552.04 189.04,553.65 189.16,553.98 189.29,556.03 189.41,555.59 189.54,557.29 189.66,557.79 189.79,555.3 189.91,554.89 190.04,555.99 190.16,558.07 190.29,559.43 190.41,558.83 190.54,558.43 190.66,557.69 190.79,559.93 190.91,560.02 191.04,559.73 191.16,562.26 191.29,563.7 191.42,563.73 191.54,562.92 191.67,564.38 191.79,564.67 191.92,563.46 192.04,563.81 192.17,563.34 192.29,564.21 192.42,564.31 192.54,563.65 192.67,564.42 192.79,566.4 192.92,566.88 193.04,565.22 193.17,564.59 193.29,565.99 193.42,565.76 193.54,565.89 193.67,566.16 193.79,564.63 193.92,567.04 194.04,565.58 194.17,566.27 194.29,568.97 194.42,567.71 194.55,567.2 194.67,567.4 194.8,567.33 194.92,567.31 195.05,568.35 195.17,570.04 195.3,570.66 195.42,568.95 195.55,570.04 195.67,571.1 195.8,572.25 195.92,573.33 196.05,573.1 196.17,571.28 196.3,571.71 196.42,573.5 196.55,571.03 196.67,570.36 196.8,570.53 196.92,570.28 197.05,570.82 197.17,571.28 197.3,572.06 197.42,573.08 197.55,574.89 197.68,530.18 197.8,536.14 197.93,552.07 198.05,569.61 198.18,576.42 198.3,581.68 198.43,588.2 198.55,598.68 198.68,606.06 198.8,607.46 198.93,608.83 199.05,611.7 199.18,612.2 199.3,611.42 199.43,612.57 199.55,611.18 199.68,611.59 199.8,609.94 199.93,608.45 200.05,608.83 200.18,607.15 200.3,601.15 200.43,598.99 200.55,594.31 200.68,590.6 200.81,588.03 200.93,583.04 201.06,578.42 201.18,574.33 201.31,569.98 201.43,569.34 201.56,570.07 201.68,566.51 201.81,562.33 201.93,562.52 202.06,561.39 202.18,559.61 202.31,560.13 202.43,556.77 202.56,552.89 202.68,552 202.81,548.71 202.93,546.63 203.06,549.56 203.18,552.71 203.31,554.5 203.43,553.79 203.56,552.66 203.68,552.75 203.81,552.8 203.94,554.34 204.06,555.25 204.19,556.67 204.31,555.41 204.44,554.8 204.56,555.91 204.69,556.51 204.81,557.55 204.94,556.66 205.06,557.49 205.19,559.48 205.31,557.2 205.44,557.02 205.56,559.34 205.69,559.69 205.81,561.57 205.94,560.56 206.06,559.8 206.19,561.29 206.31,564.58 206.44,565.1 206.56,562.28 206.69,562.75 206.81,564.26 206.94,563.77 207.07,563.52 207.19,564.33 207.32,563.66 207.44,563.39 207.57,566.04 207.69,566.91 207.82,566.49 207.94,569.14 208.07,568.2 208.19,568.08 208.32,569.04 208.44,570.03 208.57,570.78 208.69,568.79 208.82,567.89 208.94,568.13 209.07,569.27 209.19,569.82 209.32,567.39 209.44,567.1 209.57,568.99 209.69,566.67 209.82,568.58 209.94,572.92 210.07,572.33 210.2,570.73 210.32,571.03 210.45,570.82 210.57,569.87 210.7,571.63 210.82,571.54 210.95,571.58 211.07,571.18 211.2,569.6 211.32,568.19 211.45,567.73 211.57,570.43 211.7,571.11 211.82,570.9 211.95,572.22 212.07,574.08 212.2,572.3 212.32,569.33 212.45,571.15 212.57,573.19 212.7,573.38 212.82,572.21 212.95,570.58 213.07,572.66 213.2,574.29 213.33,538.31 213.45,544.52 213.58,554.85 213.7,565.65 213.83,573.26 213.95,581.93 214.08,587.57 214.2,592.41 214.33,599.85 214.45,601.68 214.58,602.31 214.7,602.94 214.83,604.62 214.95,607.69 215.08,606.58 215.2,607.31 215.33,605.94 215.45,604 215.58,602.81 215.7,603.36 215.83,603.24 215.95,598.5 216.08,596.44 216.2,593.78 216.33,589.3 216.46,586.46 216.58,583.12 216.71,581.9 216.83,578.45 216.96,572.88 217.08,570.16 217.21,567.07 217.33,566.16 217.46,565.06 217.58,566.31 217.71,565.07 217.83,559.72 217.96,557.73 218.08,557 218.21,556.65 218.33,555.64 218.46,553.59 218.58,552.17 218.71,552.08 218.83,553.12 218.96,555.54 219.08,554 219.21,554.07 219.33,559.32 219.46,557.39 219.59,553.97 219.71,555.77 219.84,556.3 219.96,556.52 220.09,558.91 220.21,559.75 220.34,560.66 220.46,561.96 220.59,562.06 220.71,561.69 220.84,560.14 220.96,561.47 221.09,562.46 221.21,564.25 221.34,566.09 221.46,563.49 221.59,561.56 221.71,561.34 221.84,561.44 221.96,564.39 222.09,566.29 222.21,567.5 222.34,567.33 222.46,564.57 222.59,564.98 222.72,566.43 222.84,565.83 222.97,564.5 223.09,565.03 223.22,566.45 223.34,566.76 223.47,566.25 223.59,566.23 223.72,565.88 223.84,566.41 223.97,568.81 224.09,569.29 224.22,567.56 224.34,567.9 224.47,568.22 224.59,568.64 224.72,567.62 224.84,566.63 224.97,568.06 225.09,567.85 225.22,567.36 225.34,568.22 225.47,568.13 225.59,567.7 225.72,568.69 225.85,569.55 225.97,571.11 226.1,571.07 226.22,569.87 226.35,571.12 226.47,570.03 226.6,569.32 226.72,572.05 226.85,572.65 226.97,571.72 227.1,571.48 227.22,572.43 227.35,572.51 227.47,573.39 227.6,574.05 227.72,572.21 227.85,572.63 227.97,572.57 228.1,571.17 228.22,572.65 228.35,576.19 228.47,574.79 228.6,571 228.72,573.77 228.85,575.14 228.98,573.27 229.1,575.36" fill="none" stroke="#f22" stroke-width="0.95" stroke-linejoin="round"/>
<circle cx="48" cy="625.9" r="2" fill="#ff1f1f"/>
<circle cx="150.6" cy="625.9" r="2" fill="#ff1f1f"/>
<circle cx="57.33" cy="625.9" r="2" fill="#ff1f1f"/>
<circle cx="166.25" cy="625.9" r="2" fill="#ff1f1f"/>
<circle cx="66.66" cy="625.9" r="2" fill="#ff1f1f"/>
<circle cx="181.9" cy="625.9" r="2" fill="#ff1f1f"/>
<circle cx="75.99" cy="625.9" r="2" fill="#ff1f1f"/>
<circle cx="197.55" cy="625.9" r="2" fill="#ff1f1f"/>
<circle cx="85.32" cy="625.9" r="2" fill="#ff1f1f"/>
<circle cx="213.2" cy="625.9" r="2" fill="#ff1f1f"/>
<line x1="48" y1="627.9" x2="48" y2="629.5" stroke="#888" stroke-width="0.7"/>
<text x="48" y="641.2" font-size="10.2" text-anchor="middle" fill="#1a1a1a" stroke="#1a1a1a" stroke-width="0.1">0</text>
<line x1="66.6" y1="627.9" x2="66.6" y2="629.5" stroke="#888" stroke-width="0.7"/>
<text x="66.6" y="641.2" font-size="10.2" text-anchor="middle" fill="#1a1a1a" stroke="#1a1a1a" stroke-width="0.1">0.6</text>
<line x1="85.3" y1="627.9" x2="85.3" y2="629.5" stroke="#888" stroke-width="0.7"/>
<text x="85.3" y="641.2" font-size="10.2" text-anchor="middle" fill="#1a1a1a" stroke="#1a1a1a" stroke-width="0.1">1.2</text>
<line x1="110.4" y1="627.9" x2="110.4" y2="629.5" stroke="#888" stroke-width="0.7"/>
<text x="110.4" y="641.2" font-size="10.2" text-anchor="middle" fill="#1a1a1a" stroke="#1a1a1a" stroke-width="0.1">2</text>
<line x1="150.6" y1="627.9" x2="150.6" y2="629.5" stroke="#888" stroke-width="0.7"/>
<text x="150.6" y="641.2" font-size="10.2" text-anchor="middle" fill="#1a1a1a" stroke="#1a1a1a" stroke-width="0.1">0</text>
<line x1="166.3" y1="627.9" x2="166.3" y2="629.5" stroke="#888" stroke-width="0.7"/>
<text x="166.3" y="641.2" font-size="10.2" text-anchor="middle" fill="#1a1a1a" stroke="#1a1a1a" stroke-width="0.1">0.5</text>
<line x1="181.9" y1="627.9" x2="181.9" y2="629.5" stroke="#888" stroke-width="0.7"/>
<text x="181.9" y="641.2" font-size="10.2" text-anchor="middle" fill="#1a1a1a" stroke="#1a1a1a" stroke-width="0.1">1</text>
<line x1="197.5" y1="627.9" x2="197.5" y2="629.5" stroke="#888" stroke-width="0.7"/>
<text x="197.5" y="641.2" font-size="10.2" text-anchor="middle" fill="#1a1a1a" stroke="#1a1a1a" stroke-width="0.1">1.5</text>
<line x1="213.2" y1="627.9" x2="213.2" y2="629.5" stroke="#888" stroke-width="0.7"/>
<text x="213.2" y="641.2" font-size="10.2" text-anchor="middle" fill="#1a1a1a" stroke="#1a1a1a" stroke-width="0.1">2</text>
<text x="79" y="652.5" font-size="10.2" text-anchor="middle" fill="#1a1a1a" stroke="#1a1a1a" stroke-width="0.1">Time (s)</text>
<text x="181" y="652.6" font-size="10.2" text-anchor="middle" fill="#1a1a1a" stroke="#1a1a1a" stroke-width="0.1">Time (s)</text>
<text x="102" y="520.2" font-size="10.2" text-anchor="start" fill="#f02a2a" stroke="#f02a2a" stroke-width="0.1">500 ms ISI</text>
<text x="102" y="531" font-size="10.2" text-anchor="start" fill="#3fba98" stroke="#3fba98" stroke-width="0.1">300 ms ISI</text>
<text x="239.2" y="504.8" font-size="15" text-anchor="start" fill="#1a1a1a" stroke="#1a1a1a" stroke-width="0.1">k</text>
<text x="318.8" y="509.6" font-size="7.7" text-anchor="middle" fill="#222" stroke="#222" stroke-width="0.1">Short-latency increase</text>
<line x1="261.8" y1="514.9" x2="261.8" y2="628.3" stroke="#888" stroke-width="0.9"/>
<line x1="260" y1="625" x2="261.8" y2="625" stroke="#888" stroke-width="0.7"/>
<text x="257.2" y="628.8" font-size="10.4" text-anchor="end" fill="#1a1a1a" stroke="#1a1a1a" stroke-width="0.1">0</text>
<line x1="260" y1="607.2" x2="261.8" y2="607.2" stroke="#888" stroke-width="0.7"/>
<text x="257.2" y="611" font-size="10.4" text-anchor="end" fill="#1a1a1a" stroke="#1a1a1a" stroke-width="0.1">1</text>
<line x1="260" y1="589.3" x2="261.8" y2="589.3" stroke="#888" stroke-width="0.7"/>
<text x="257.2" y="593.1" font-size="10.4" text-anchor="end" fill="#1a1a1a" stroke="#1a1a1a" stroke-width="0.1">2</text>
<line x1="260" y1="570.5" x2="261.8" y2="570.5" stroke="#888" stroke-width="0.7"/>
<text x="257.2" y="574.3" font-size="10.4" text-anchor="end" fill="#1a1a1a" stroke="#1a1a1a" stroke-width="0.1">3</text>
<line x1="260" y1="552" x2="261.8" y2="552" stroke="#888" stroke-width="0.7"/>
<text x="257.2" y="555.8" font-size="10.4" text-anchor="end" fill="#1a1a1a" stroke="#1a1a1a" stroke-width="0.1">4</text>
<line x1="260" y1="533.8" x2="261.8" y2="533.8" stroke="#888" stroke-width="0.7"/>
<text x="257.2" y="537.6" font-size="10.4" text-anchor="end" fill="#1a1a1a" stroke="#1a1a1a" stroke-width="0.1">5</text>
<line x1="260" y1="518.9" x2="261.8" y2="518.9" stroke="#888" stroke-width="0.7"/>
<text x="257.2" y="522.7" font-size="10.4" text-anchor="end" fill="#1a1a1a" stroke="#1a1a1a" stroke-width="0.1">6</text>
<text transform="translate(248,572.6) rotate(-90)" font-size="10.4" text-anchor="middle" fill="#1a1a1a" stroke="#1a1a1a" stroke-width="0.1">Zscore</text>
<line x1="272" y1="570.5" x2="272" y2="598.1" stroke="#5cc4a6" stroke-width="0.9" stroke-dasharray="4,2.6" stroke-opacity="0.8"/>
<line x1="272" y1="620.1" x2="272" y2="625.8" stroke="#5cc4a6" stroke-width="0.9" stroke-dasharray="4,2.6" stroke-opacity="0.8"/>
<line x1="270.1" y1="570.5" x2="273.9" y2="570.5" stroke="#5cc4a6" stroke-width="0.9" stroke-opacity="0.85"/>
<line x1="270.1" y1="625.8" x2="273.9" y2="625.8" stroke="#5cc4a6" stroke-width="0.9" stroke-opacity="0.85"/>
<rect x="268.1" y="598.1" width="7.8" height="22" fill="#88dcc8" stroke="#5cc4a6" stroke-width="0.9"/>
<line x1="268.1" y1="612.1" x2="275.9" y2="612.1" stroke="#4fb899" stroke-width="1"/>
<line x1="282.8" y1="536.9" x2="282.8" y2="583.4" stroke="#5cc4a6" stroke-width="0.9" stroke-dasharray="4,2.6" stroke-opacity="0.8"/>
<line x1="282.8" y1="615.6" x2="282.8" y2="625.8" stroke="#5cc4a6" stroke-width="0.9" stroke-dasharray="4,2.6" stroke-opacity="0.8"/>
<line x1="280.9" y1="536.9" x2="284.7" y2="536.9" stroke="#5cc4a6" stroke-width="0.9" stroke-opacity="0.85"/>
<line x1="280.9" y1="625.8" x2="284.7" y2="625.8" stroke="#5cc4a6" stroke-width="0.9" stroke-opacity="0.85"/>
<rect x="278.9" y="583.4" width="7.8" height="32.2" fill="#88dcc8" stroke="#5cc4a6" stroke-width="0.9"/>
<line x1="278.9" y1="605.4" x2="286.7" y2="605.4" stroke="#4fb899" stroke-width="1"/>
<line x1="294" y1="542.3" x2="294" y2="585.5" stroke="#5cc4a6" stroke-width="0.9" stroke-dasharray="4,2.6" stroke-opacity="0.8"/>
<line x1="294" y1="616.4" x2="294" y2="625.8" stroke="#5cc4a6" stroke-width="0.9" stroke-dasharray="4,2.6" stroke-opacity="0.8"/>
<line x1="292.1" y1="542.3" x2="295.9" y2="542.3" stroke="#5cc4a6" stroke-width="0.9" stroke-opacity="0.85"/>
<line x1="292.1" y1="625.8" x2="295.9" y2="625.8" stroke="#5cc4a6" stroke-width="0.9" stroke-opacity="0.85"/>
<rect x="290.1" y="585.5" width="7.8" height="30.9" fill="#88dcc8" stroke="#5cc4a6" stroke-width="0.9"/>
<line x1="290.1" y1="606.2" x2="297.9" y2="606.2" stroke="#4fb899" stroke-width="1"/>
<line x1="304.8" y1="537.2" x2="304.8" y2="585.2" stroke="#5cc4a6" stroke-width="0.9" stroke-dasharray="4,2.6" stroke-opacity="0.8"/>
<line x1="304.8" y1="617.7" x2="304.8" y2="625.8" stroke="#5cc4a6" stroke-width="0.9" stroke-dasharray="4,2.6" stroke-opacity="0.8"/>
<line x1="302.9" y1="537.2" x2="306.7" y2="537.2" stroke="#5cc4a6" stroke-width="0.9" stroke-opacity="0.85"/>
<line x1="302.9" y1="625.8" x2="306.7" y2="625.8" stroke="#5cc4a6" stroke-width="0.9" stroke-opacity="0.85"/>
<rect x="300.9" y="585.2" width="7.8" height="32.5" fill="#88dcc8" stroke="#5cc4a6" stroke-width="0.9"/>
<line x1="300.9" y1="605.4" x2="308.7" y2="605.4" stroke="#4fb899" stroke-width="1"/>
<line x1="315.5" y1="550.3" x2="315.5" y2="589.3" stroke="#5cc4a6" stroke-width="0.9" stroke-dasharray="4,2.6" stroke-opacity="0.8"/>
<line x1="315.5" y1="617.7" x2="315.5" y2="625.8" stroke="#5cc4a6" stroke-width="0.9" stroke-dasharray="4,2.6" stroke-opacity="0.8"/>
<line x1="313.6" y1="550.3" x2="317.4" y2="550.3" stroke="#5cc4a6" stroke-width="0.9" stroke-opacity="0.85"/>
<line x1="313.6" y1="625.8" x2="317.4" y2="625.8" stroke="#5cc4a6" stroke-width="0.9" stroke-opacity="0.85"/>
<rect x="311.6" y="589.3" width="7.8" height="28.4" fill="#88dcc8" stroke="#5cc4a6" stroke-width="0.9"/>
<line x1="311.6" y1="606.2" x2="319.4" y2="606.2" stroke="#4fb899" stroke-width="1"/>
<line x1="329.1" y1="568.1" x2="329.1" y2="598.7" stroke="#e2444a" stroke-width="0.9" stroke-dasharray="4,2.6" stroke-opacity="0.8"/>
<line x1="329.1" y1="619.1" x2="329.1" y2="625.8" stroke="#e2444a" stroke-width="0.9" stroke-dasharray="4,2.6" stroke-opacity="0.8"/>
<line x1="327.2" y1="568.1" x2="331" y2="568.1" stroke="#e2444a" stroke-width="0.9" stroke-opacity="0.85"/>
<line x1="327.2" y1="625.8" x2="331" y2="625.8" stroke="#e2444a" stroke-width="0.9" stroke-opacity="0.85"/>
<rect x="325.2" y="598.7" width="7.8" height="20.4" fill="#ec6a70" stroke="#e2444a" stroke-width="0.9"/>
<line x1="325.2" y1="611" x2="333" y2="611" stroke="#e02a2f" stroke-width="1"/>
<line x1="340" y1="551.1" x2="340" y2="590.9" stroke="#e2444a" stroke-width="0.9" stroke-dasharray="4,2.6" stroke-opacity="0.8"/>
<line x1="340" y1="618.3" x2="340" y2="625.8" stroke="#e2444a" stroke-width="0.9" stroke-dasharray="4,2.6" stroke-opacity="0.8"/>
<line x1="338.1" y1="551.1" x2="341.9" y2="551.1" stroke="#e2444a" stroke-width="0.9" stroke-opacity="0.85"/>
<line x1="338.1" y1="625.8" x2="341.9" y2="625.8" stroke="#e2444a" stroke-width="0.9" stroke-opacity="0.85"/>
<rect x="336.1" y="590.9" width="7.8" height="27.4" fill="#ec6a70" stroke="#e2444a" stroke-width="0.9"/>
<line x1="336.1" y1="609.4" x2="343.9" y2="609.4" stroke="#e02a2f" stroke-width="1"/>
<line x1="351.1" y1="543.1" x2="351.1" y2="587.9" stroke="#e2444a" stroke-width="0.9" stroke-dasharray="4,2.6" stroke-opacity="0.8"/>
<line x1="351.1" y1="617.7" x2="351.1" y2="625.8" stroke="#e2444a" stroke-width="0.9" stroke-dasharray="4,2.6" stroke-opacity="0.8"/>
<line x1="349.2" y1="543.1" x2="353" y2="543.1" stroke="#e2444a" stroke-width="0.9" stroke-opacity="0.85"/>
<line x1="349.2" y1="625.8" x2="353" y2="625.8" stroke="#e2444a" stroke-width="0.9" stroke-opacity="0.85"/>
<rect x="347.2" y="587.9" width="7.8" height="29.8" fill="#ec6a70" stroke="#e2444a" stroke-width="0.9"/>
<line x1="347.2" y1="607.5" x2="355" y2="607.5" stroke="#e02a2f" stroke-width="1"/>
<line x1="362" y1="543.6" x2="362" y2="588.2" stroke="#e2444a" stroke-width="0.9" stroke-dasharray="4,2.6" stroke-opacity="0.8"/>
<line x1="362" y1="619.1" x2="362" y2="625.8" stroke="#e2444a" stroke-width="0.9" stroke-dasharray="4,2.6" stroke-opacity="0.8"/>
<line x1="360.1" y1="543.6" x2="363.9" y2="543.6" stroke="#e2444a" stroke-width="0.9" stroke-opacity="0.85"/>
<line x1="360.1" y1="625.8" x2="363.9" y2="625.8" stroke="#e2444a" stroke-width="0.9" stroke-opacity="0.85"/>
<rect x="358.1" y="588.2" width="7.8" height="30.9" fill="#ec6a70" stroke="#e2444a" stroke-width="0.9"/>
<line x1="358.1" y1="608.3" x2="365.9" y2="608.3" stroke="#e02a2f" stroke-width="1"/>
<line x1="372.7" y1="555.7" x2="372.7" y2="592.2" stroke="#e2444a" stroke-width="0.9" stroke-dasharray="4,2.6" stroke-opacity="0.8"/>
<line x1="372.7" y1="617.7" x2="372.7" y2="625.8" stroke="#e2444a" stroke-width="0.9" stroke-dasharray="4,2.6" stroke-opacity="0.8"/>
<line x1="370.8" y1="555.7" x2="374.6" y2="555.7" stroke="#e2444a" stroke-width="0.9" stroke-opacity="0.85"/>
<line x1="370.8" y1="625.8" x2="374.6" y2="625.8" stroke="#e2444a" stroke-width="0.9" stroke-opacity="0.85"/>
<rect x="368.8" y="592.2" width="7.8" height="25.5" fill="#ec6a70" stroke="#e2444a" stroke-width="0.9"/>
<line x1="368.8" y1="607" x2="376.6" y2="607" stroke="#e02a2f" stroke-width="1"/>
<text x="272.6" y="638.8" font-size="10.4" text-anchor="middle" fill="#1a1a1a" stroke="#1a1a1a" stroke-width="0.1">1</text>
<text x="282.8" y="638.8" font-size="10.4" text-anchor="middle" fill="#1a1a1a" stroke="#1a1a1a" stroke-width="0.1">2</text>
<text x="293.5" y="638.8" font-size="10.4" text-anchor="middle" fill="#1a1a1a" stroke="#1a1a1a" stroke-width="0.1">3</text>
<text x="304.3" y="638.8" font-size="10.4" text-anchor="middle" fill="#1a1a1a" stroke="#1a1a1a" stroke-width="0.1">4</text>
<text x="315" y="638.8" font-size="10.4" text-anchor="middle" fill="#1a1a1a" stroke="#1a1a1a" stroke-width="0.1">5</text>
<text x="329.5" y="638.8" font-size="10.4" text-anchor="middle" fill="#1a1a1a" stroke="#1a1a1a" stroke-width="0.1">1</text>
<text x="340.2" y="638.8" font-size="10.4" text-anchor="middle" fill="#1a1a1a" stroke="#1a1a1a" stroke-width="0.1">2</text>
<text x="351" y="638.8" font-size="10.4" text-anchor="middle" fill="#1a1a1a" stroke="#1a1a1a" stroke-width="0.1">3</text>
<text x="361.7" y="638.8" font-size="10.4" text-anchor="middle" fill="#1a1a1a" stroke="#1a1a1a" stroke-width="0.1">4</text>
<text x="372.4" y="638.8" font-size="10.4" text-anchor="middle" fill="#1a1a1a" stroke="#1a1a1a" stroke-width="0.1">5</text>
<text x="318.2" y="654.5" font-size="10.4" text-anchor="middle" fill="#1a1a1a" stroke="#1a1a1a" stroke-width="0.1">Stimulus #</text>
<text x="272.4" y="533.8" font-size="15" text-anchor="middle" fill="#222" stroke="#222" stroke-width="0.1">*</text>
<line x1="276.6" y1="525.2" x2="315.5" y2="525.2" stroke="#8a8a8a" stroke-width="0.7"/>
<line x1="276.6" y1="527" x2="305" y2="527" stroke="#c0c0c0" stroke-width="1.2"/>
<line x1="276.6" y1="528.4" x2="283" y2="528.4" stroke="#9a9a9a" stroke-width="0.9"/>
<text x="387" y="504.8" font-size="15" text-anchor="start" fill="#1a1a1a" stroke="#1a1a1a" stroke-width="0.1">l</text>
<text x="476.8" y="509.6" font-size="7.7" text-anchor="middle" fill="#222" stroke="#222" stroke-width="0.1">Decrease</text>
<line x1="421.6" y1="514.9" x2="421.6" y2="628.3" stroke="#888" stroke-width="0.9"/>
<line x1="419.8" y1="522.9" x2="421.6" y2="522.9" stroke="#888" stroke-width="0.7"/>
<text x="417" y="526.7" font-size="10.4" text-anchor="end" fill="#1a1a1a" stroke="#1a1a1a" stroke-width="0.1">0</text>
<line x1="419.8" y1="544.4" x2="421.6" y2="544.4" stroke="#888" stroke-width="0.7"/>
<text x="417" y="548.2" font-size="10.4" text-anchor="end" fill="#1a1a1a" stroke="#1a1a1a" stroke-width="0.1">-0.5</text>
<line x1="419.8" y1="565.8" x2="421.6" y2="565.8" stroke="#888" stroke-width="0.7"/>
<text x="417" y="569.6" font-size="10.4" text-anchor="end" fill="#1a1a1a" stroke="#1a1a1a" stroke-width="0.1">-1.0</text>
<line x1="419.8" y1="587.2" x2="421.6" y2="587.2" stroke="#888" stroke-width="0.7"/>
<text x="417" y="591" font-size="10.4" text-anchor="end" fill="#1a1a1a" stroke="#1a1a1a" stroke-width="0.1">-1.5</text>
<line x1="419.8" y1="608.6" x2="421.6" y2="608.6" stroke="#888" stroke-width="0.7"/>
<text x="417" y="612.4" font-size="10.4" text-anchor="end" fill="#1a1a1a" stroke="#1a1a1a" stroke-width="0.1">-2.0</text>
<line x1="419.8" y1="627.6" x2="421.6" y2="627.6" stroke="#888" stroke-width="0.7"/>
<text x="417" y="631.4" font-size="10.4" text-anchor="end" fill="#1a1a1a" stroke="#1a1a1a" stroke-width="0.1">-2.5</text>
<text transform="translate(395.6,572.6) rotate(-90)" font-size="10.4" text-anchor="middle" fill="#1a1a1a" stroke="#1a1a1a" stroke-width="0.1">Zscore</text>
<line x1="431.2" y1="524.2" x2="431.2" y2="542.5" stroke="#5cc4a6" stroke-width="0.9" stroke-dasharray="4,2.6" stroke-opacity="0.8"/>
<line x1="431.2" y1="570.6" x2="431.2" y2="612.2" stroke="#5cc4a6" stroke-width="0.9" stroke-dasharray="4,2.6" stroke-opacity="0.8"/>
<line x1="429.3" y1="524.2" x2="433.1" y2="524.2" stroke="#5cc4a6" stroke-width="0.9" stroke-opacity="0.85"/>
<line x1="429.3" y1="612.2" x2="433.1" y2="612.2" stroke="#5cc4a6" stroke-width="0.9" stroke-opacity="0.85"/>
<rect x="427.3" y="542.5" width="7.8" height="28.1" fill="#88dcc8" stroke="#5cc4a6" stroke-width="0.9"/>
<line x1="427.3" y1="554.3" x2="435.1" y2="554.3" stroke="#4fb899" stroke-width="1"/>
<line x1="442" y1="522.9" x2="442" y2="541.1" stroke="#5cc4a6" stroke-width="0.9" stroke-dasharray="4,2.6" stroke-opacity="0.8"/>
<line x1="442" y1="567.2" x2="442" y2="605.5" stroke="#5cc4a6" stroke-width="0.9" stroke-dasharray="4,2.6" stroke-opacity="0.8"/>
<line x1="440.1" y1="522.9" x2="443.9" y2="522.9" stroke="#5cc4a6" stroke-width="0.9" stroke-opacity="0.85"/>
<line x1="440.1" y1="605.5" x2="443.9" y2="605.5" stroke="#5cc4a6" stroke-width="0.9" stroke-opacity="0.85"/>
<rect x="438.1" y="541.1" width="7.8" height="26.1" fill="#88dcc8" stroke="#5cc4a6" stroke-width="0.9"/>
<line x1="438.1" y1="552.9" x2="445.9" y2="552.9" stroke="#4fb899" stroke-width="1"/>
<line x1="453" y1="522.9" x2="453" y2="541.1" stroke="#5cc4a6" stroke-width="0.9" stroke-dasharray="4,2.6" stroke-opacity="0.8"/>
<line x1="453" y1="569.8" x2="453" y2="604.7" stroke="#5cc4a6" stroke-width="0.9" stroke-dasharray="4,2.6" stroke-opacity="0.8"/>
<line x1="451.1" y1="522.9" x2="454.9" y2="522.9" stroke="#5cc4a6" stroke-width="0.9" stroke-opacity="0.85"/>
<line x1="451.1" y1="604.7" x2="454.9" y2="604.7" stroke="#5cc4a6" stroke-width="0.9" stroke-opacity="0.85"/>
<rect x="449.1" y="541.1" width="7.8" height="28.7" fill="#88dcc8" stroke="#5cc4a6" stroke-width="0.9"/>
<line x1="449.1" y1="552.9" x2="456.9" y2="552.9" stroke="#4fb899" stroke-width="1"/>
<line x1="463.7" y1="522.9" x2="463.7" y2="542.2" stroke="#5cc4a6" stroke-width="0.9" stroke-dasharray="4,2.6" stroke-opacity="0.8"/>
<line x1="463.7" y1="570.4" x2="463.7" y2="612.2" stroke="#5cc4a6" stroke-width="0.9" stroke-dasharray="4,2.6" stroke-opacity="0.8"/>
<line x1="461.8" y1="522.9" x2="465.6" y2="522.9" stroke="#5cc4a6" stroke-width="0.9" stroke-opacity="0.85"/>
<line x1="461.8" y1="612.2" x2="465.6" y2="612.2" stroke="#5cc4a6" stroke-width="0.9" stroke-opacity="0.85"/>
<rect x="459.8" y="542.2" width="7.8" height="28.2" fill="#88dcc8" stroke="#5cc4a6" stroke-width="0.9"/>
<line x1="459.8" y1="552.9" x2="467.6" y2="552.9" stroke="#4fb899" stroke-width="1"/>
<line x1="474.5" y1="522.9" x2="474.5" y2="541.1" stroke="#5cc4a6" stroke-width="0.9" stroke-dasharray="4,2.6" stroke-opacity="0.8"/>
<line x1="474.5" y1="568.5" x2="474.5" y2="598" stroke="#5cc4a6" stroke-width="0.9" stroke-dasharray="4,2.6" stroke-opacity="0.8"/>
<line x1="472.6" y1="522.9" x2="476.4" y2="522.9" stroke="#5cc4a6" stroke-width="0.9" stroke-opacity="0.85"/>
<line x1="472.6" y1="598" x2="476.4" y2="598" stroke="#5cc4a6" stroke-width="0.9" stroke-opacity="0.85"/>
<rect x="470.6" y="541.1" width="7.8" height="27.4" fill="#88dcc8" stroke="#5cc4a6" stroke-width="0.9"/>
<line x1="470.6" y1="552.4" x2="478.4" y2="552.4" stroke="#4fb899" stroke-width="1"/>
<line x1="488.4" y1="522.9" x2="488.4" y2="544.4" stroke="#e2444a" stroke-width="0.9" stroke-dasharray="4,2.6" stroke-opacity="0.8"/>
<line x1="488.4" y1="573.9" x2="488.4" y2="617.3" stroke="#e2444a" stroke-width="0.9" stroke-dasharray="4,2.6" stroke-opacity="0.8"/>
<line x1="486.5" y1="522.9" x2="490.3" y2="522.9" stroke="#e2444a" stroke-width="0.9" stroke-opacity="0.85"/>
<line x1="486.5" y1="617.3" x2="490.3" y2="617.3" stroke="#e2444a" stroke-width="0.9" stroke-opacity="0.85"/>
<rect x="484.5" y="544.4" width="7.8" height="29.5" fill="#ec6a70" stroke="#e2444a" stroke-width="0.9"/>
<line x1="484.5" y1="557.2" x2="492.3" y2="557.2" stroke="#e02a2f" stroke-width="1"/>
<line x1="499.2" y1="524.2" x2="499.2" y2="545.2" stroke="#e2444a" stroke-width="0.9" stroke-dasharray="4,2.6" stroke-opacity="0.8"/>
<line x1="499.2" y1="572.5" x2="499.2" y2="614.1" stroke="#e2444a" stroke-width="0.9" stroke-dasharray="4,2.6" stroke-opacity="0.8"/>
<line x1="497.3" y1="524.2" x2="501.1" y2="524.2" stroke="#e2444a" stroke-width="0.9" stroke-opacity="0.85"/>
<line x1="497.3" y1="614.1" x2="501.1" y2="614.1" stroke="#e2444a" stroke-width="0.9" stroke-opacity="0.85"/>
<rect x="495.3" y="545.2" width="7.8" height="27.3" fill="#ec6a70" stroke="#e2444a" stroke-width="0.9"/>
<line x1="495.3" y1="557" x2="503.1" y2="557" stroke="#e02a2f" stroke-width="1"/>
<line x1="509.9" y1="523.4" x2="509.9" y2="544.4" stroke="#e2444a" stroke-width="0.9" stroke-dasharray="4,2.6" stroke-opacity="0.8"/>
<line x1="509.9" y1="574.4" x2="509.9" y2="619.4" stroke="#e2444a" stroke-width="0.9" stroke-dasharray="4,2.6" stroke-opacity="0.8"/>
<line x1="508" y1="523.4" x2="511.8" y2="523.4" stroke="#e2444a" stroke-width="0.9" stroke-opacity="0.85"/>
<line x1="508" y1="619.4" x2="511.8" y2="619.4" stroke="#e2444a" stroke-width="0.9" stroke-opacity="0.85"/>
<rect x="506" y="544.4" width="7.8" height="30" fill="#ec6a70" stroke="#e2444a" stroke-width="0.9"/>
<line x1="506" y1="558.3" x2="513.8" y2="558.3" stroke="#e02a2f" stroke-width="1"/>
<line x1="520.9" y1="524.2" x2="520.9" y2="544.4" stroke="#e2444a" stroke-width="0.9" stroke-dasharray="4,2.6" stroke-opacity="0.8"/>
<line x1="520.9" y1="572.5" x2="520.9" y2="614.1" stroke="#e2444a" stroke-width="0.9" stroke-dasharray="4,2.6" stroke-opacity="0.8"/>
<line x1="519" y1="524.2" x2="522.8" y2="524.2" stroke="#e2444a" stroke-width="0.9" stroke-opacity="0.85"/>
<line x1="519" y1="614.1" x2="522.8" y2="614.1" stroke="#e2444a" stroke-width="0.9" stroke-opacity="0.85"/>
<rect x="517" y="544.4" width="7.8" height="28.1" fill="#ec6a70" stroke="#e2444a" stroke-width="0.9"/>
<line x1="517" y1="557.2" x2="524.8" y2="557.2" stroke="#e02a2f" stroke-width="1"/>
<line x1="531.8" y1="523.4" x2="531.8" y2="542.2" stroke="#e2444a" stroke-width="0.9" stroke-dasharray="4,2.6" stroke-opacity="0.8"/>
<line x1="531.8" y1="573.9" x2="531.8" y2="610.6" stroke="#e2444a" stroke-width="0.9" stroke-dasharray="4,2.6" stroke-opacity="0.8"/>
<line x1="529.9" y1="523.4" x2="533.7" y2="523.4" stroke="#e2444a" stroke-width="0.9" stroke-opacity="0.85"/>
<line x1="529.9" y1="610.6" x2="533.7" y2="610.6" stroke="#e2444a" stroke-width="0.9" stroke-opacity="0.85"/>
<rect x="527.9" y="542.2" width="7.8" height="31.7" fill="#ec6a70" stroke="#e2444a" stroke-width="0.9"/>
<line x1="527.9" y1="555.1" x2="535.7" y2="555.1" stroke="#e02a2f" stroke-width="1"/>
<text x="431.6" y="638.8" font-size="10.4" text-anchor="middle" fill="#1a1a1a" stroke="#1a1a1a" stroke-width="0.1">1</text>
<text x="442.3" y="638.8" font-size="10.4" text-anchor="middle" fill="#1a1a1a" stroke="#1a1a1a" stroke-width="0.1">2</text>
<text x="453" y="638.8" font-size="10.4" text-anchor="middle" fill="#1a1a1a" stroke="#1a1a1a" stroke-width="0.1">3</text>
<text x="463.7" y="638.8" font-size="10.4" text-anchor="middle" fill="#1a1a1a" stroke="#1a1a1a" stroke-width="0.1">4</text>
<text x="474.5" y="638.8" font-size="10.4" text-anchor="middle" fill="#1a1a1a" stroke="#1a1a1a" stroke-width="0.1">5</text>
<text x="488.7" y="638.8" font-size="10.4" text-anchor="middle" fill="#1a1a1a" stroke="#1a1a1a" stroke-width="0.1">1</text>
<text x="499.4" y="638.8" font-size="10.4" text-anchor="middle" fill="#1a1a1a" stroke="#1a1a1a" stroke-width="0.1">2</text>
<text x="510.1" y="638.8" font-size="10.4" text-anchor="middle" fill="#1a1a1a" stroke="#1a1a1a" stroke-width="0.1">3</text>
<text x="520.9" y="638.8" font-size="10.4" text-anchor="middle" fill="#1a1a1a" stroke="#1a1a1a" stroke-width="0.1">4</text>
<text x="531.6" y="638.8" font-size="10.4" text-anchor="middle" fill="#1a1a1a" stroke="#1a1a1a" stroke-width="0.1">5</text>
<text x="477.4" y="654.5" font-size="10.4" text-anchor="middle" fill="#1a1a1a" stroke="#1a1a1a" stroke-width="0.1">Stimulus #</text>
<text x="546" y="504.8" font-size="15" text-anchor="start" fill="#1a1a1a" stroke="#1a1a1a" stroke-width="0.1">m</text>
<text x="625.2" y="509.6" font-size="7.7" text-anchor="middle" fill="#222" stroke="#222" stroke-width="0.1">Long-latency increase</text>
<line x1="569.7" y1="514.9" x2="569.7" y2="628.3" stroke="#888" stroke-width="0.9"/>
<line x1="567.9" y1="623.5" x2="569.7" y2="623.5" stroke="#888" stroke-width="0.7"/>
<text x="565.1" y="627.3" font-size="10.4" text-anchor="end" fill="#1a1a1a" stroke="#1a1a1a" stroke-width="0.1">0</text>
<line x1="567.9" y1="596.7" x2="569.7" y2="596.7" stroke="#888" stroke-width="0.7"/>
<text x="565.1" y="600.5" font-size="10.4" text-anchor="end" fill="#1a1a1a" stroke="#1a1a1a" stroke-width="0.1">1</text>
<line x1="567.9" y1="569.3" x2="569.7" y2="569.3" stroke="#888" stroke-width="0.7"/>
<text x="565.1" y="573.1" font-size="10.4" text-anchor="end" fill="#1a1a1a" stroke="#1a1a1a" stroke-width="0.1">2</text>
<line x1="567.9" y1="543" x2="569.7" y2="543" stroke="#888" stroke-width="0.7"/>
<text x="565.1" y="546.8" font-size="10.4" text-anchor="end" fill="#1a1a1a" stroke="#1a1a1a" stroke-width="0.1">3</text>
<line x1="567.9" y1="518.3" x2="569.7" y2="518.3" stroke="#888" stroke-width="0.7"/>
<text x="565.1" y="522.1" font-size="10.4" text-anchor="end" fill="#1a1a1a" stroke="#1a1a1a" stroke-width="0.1">4</text>
<text transform="translate(555.9,572.6) rotate(-90)" font-size="10.4" text-anchor="middle" fill="#1a1a1a" stroke="#1a1a1a" stroke-width="0.1">Zscore</text>
<line x1="579.1" y1="537.7" x2="579.1" y2="584" stroke="#5cc4a6" stroke-width="0.9" stroke-dasharray="4,2.6" stroke-opacity="0.8"/>
<line x1="579.1" y1="615.4" x2="579.1" y2="623.5" stroke="#5cc4a6" stroke-width="0.9" stroke-dasharray="4,2.6" stroke-opacity="0.8"/>
<line x1="577.2" y1="537.7" x2="581" y2="537.7" stroke="#5cc4a6" stroke-width="0.9" stroke-opacity="0.85"/>
<line x1="577.2" y1="623.5" x2="581" y2="623.5" stroke="#5cc4a6" stroke-width="0.9" stroke-opacity="0.85"/>
<rect x="575.2" y="584" width="7.8" height="31.4" fill="#88dcc8" stroke="#5cc4a6" stroke-width="0.9"/>
<line x1="575.2" y1="604.2" x2="583" y2="604.2" stroke="#4fb899" stroke-width="1"/>
<line x1="589.8" y1="527.7" x2="589.8" y2="579.8" stroke="#5cc4a6" stroke-width="0.9" stroke-dasharray="4,2.6" stroke-opacity="0.8"/>
<line x1="589.8" y1="615.4" x2="589.8" y2="623.5" stroke="#5cc4a6" stroke-width="0.9" stroke-dasharray="4,2.6" stroke-opacity="0.8"/>
<line x1="587.9" y1="527.7" x2="591.7" y2="527.7" stroke="#5cc4a6" stroke-width="0.9" stroke-opacity="0.85"/>
<line x1="587.9" y1="623.5" x2="591.7" y2="623.5" stroke="#5cc4a6" stroke-width="0.9" stroke-opacity="0.85"/>
<rect x="585.9" y="579.8" width="7.8" height="35.6" fill="#88dcc8" stroke="#5cc4a6" stroke-width="0.9"/>
<line x1="585.9" y1="602" x2="593.7" y2="602" stroke="#4fb899" stroke-width="1"/>
<line x1="601" y1="545.2" x2="601" y2="586.5" stroke="#5cc4a6" stroke-width="0.9" stroke-dasharray="4,2.6" stroke-opacity="0.8"/>
<line x1="601" y1="614.9" x2="601" y2="623.5" stroke="#5cc4a6" stroke-width="0.9" stroke-dasharray="4,2.6" stroke-opacity="0.8"/>
<line x1="599.1" y1="545.2" x2="602.9" y2="545.2" stroke="#5cc4a6" stroke-width="0.9" stroke-opacity="0.85"/>
<line x1="599.1" y1="623.5" x2="602.9" y2="623.5" stroke="#5cc4a6" stroke-width="0.9" stroke-opacity="0.85"/>
<rect x="597.1" y="586.5" width="7.8" height="28.4" fill="#88dcc8" stroke="#5cc4a6" stroke-width="0.9"/>
<line x1="597.1" y1="605.2" x2="604.9" y2="605.2" stroke="#4fb899" stroke-width="1"/>
<line x1="611.8" y1="558.3" x2="611.8" y2="592.6" stroke="#5cc4a6" stroke-width="0.9" stroke-dasharray="4,2.6" stroke-opacity="0.8"/>
<line x1="611.8" y1="617.3" x2="611.8" y2="623.5" stroke="#5cc4a6" stroke-width="0.9" stroke-dasharray="4,2.6" stroke-opacity="0.8"/>
<line x1="609.9" y1="558.3" x2="613.7" y2="558.3" stroke="#5cc4a6" stroke-width="0.9" stroke-opacity="0.85"/>
<line x1="609.9" y1="623.5" x2="613.7" y2="623.5" stroke="#5cc4a6" stroke-width="0.9" stroke-opacity="0.85"/>
<rect x="607.9" y="592.6" width="7.8" height="24.7" fill="#88dcc8" stroke="#5cc4a6" stroke-width="0.9"/>
<line x1="607.9" y1="606" x2="615.7" y2="606" stroke="#4fb899" stroke-width="1"/>
<line x1="623" y1="572.5" x2="623" y2="597.2" stroke="#5cc4a6" stroke-width="0.9" stroke-dasharray="4,2.6" stroke-opacity="0.8"/>
<line x1="623" y1="617.3" x2="623" y2="623.5" stroke="#5cc4a6" stroke-width="0.9" stroke-dasharray="4,2.6" stroke-opacity="0.8"/>
<line x1="621.1" y1="572.5" x2="624.9" y2="572.5" stroke="#5cc4a6" stroke-width="0.9" stroke-opacity="0.85"/>
<line x1="621.1" y1="623.5" x2="624.9" y2="623.5" stroke="#5cc4a6" stroke-width="0.9" stroke-opacity="0.85"/>
<rect x="619.1" y="597.2" width="7.8" height="20.1" fill="#88dcc8" stroke="#5cc4a6" stroke-width="0.9"/>
<line x1="619.1" y1="609.3" x2="626.9" y2="609.3" stroke="#4fb899" stroke-width="1"/>
<line x1="637" y1="535" x2="637" y2="583.2" stroke="#e2444a" stroke-width="0.9" stroke-dasharray="4,2.6" stroke-opacity="0.8"/>
<line x1="637" y1="615.4" x2="637" y2="623.5" stroke="#e2444a" stroke-width="0.9" stroke-dasharray="4,2.6" stroke-opacity="0.8"/>
<line x1="635.1" y1="535" x2="638.9" y2="535" stroke="#e2444a" stroke-width="0.9" stroke-opacity="0.85"/>
<line x1="635.1" y1="623.5" x2="638.9" y2="623.5" stroke="#e2444a" stroke-width="0.9" stroke-opacity="0.85"/>
<rect x="633.1" y="583.2" width="7.8" height="32.2" fill="#ec6a70" stroke="#e2444a" stroke-width="0.9"/>
<line x1="633.1" y1="605.2" x2="640.9" y2="605.2" stroke="#e02a2f" stroke-width="1"/>
<line x1="647.7" y1="551.1" x2="647.7" y2="590" stroke="#e2444a" stroke-width="0.9" stroke-dasharray="4,2.6" stroke-opacity="0.8"/>
<line x1="647.7" y1="616.8" x2="647.7" y2="623.5" stroke="#e2444a" stroke-width="0.9" stroke-dasharray="4,2.6" stroke-opacity="0.8"/>
<line x1="645.8" y1="551.1" x2="649.6" y2="551.1" stroke="#e2444a" stroke-width="0.9" stroke-opacity="0.85"/>
<line x1="645.8" y1="623.5" x2="649.6" y2="623.5" stroke="#e2444a" stroke-width="0.9" stroke-opacity="0.85"/>
<rect x="643.8" y="590" width="7.8" height="26.8" fill="#ec6a70" stroke="#e2444a" stroke-width="0.9"/>
<line x1="643.8" y1="606" x2="651.6" y2="606" stroke="#e02a2f" stroke-width="1"/>
<line x1="658.7" y1="566.6" x2="658.7" y2="596.1" stroke="#e2444a" stroke-width="0.9" stroke-dasharray="4,2.6" stroke-opacity="0.8"/>
<line x1="658.7" y1="616.8" x2="658.7" y2="623.5" stroke="#e2444a" stroke-width="0.9" stroke-dasharray="4,2.6" stroke-opacity="0.8"/>
<line x1="656.8" y1="566.6" x2="660.6" y2="566.6" stroke="#e2444a" stroke-width="0.9" stroke-opacity="0.85"/>
<line x1="656.8" y1="623.5" x2="660.6" y2="623.5" stroke="#e2444a" stroke-width="0.9" stroke-opacity="0.85"/>
<rect x="654.8" y="596.1" width="7.8" height="20.7" fill="#ec6a70" stroke="#e2444a" stroke-width="0.9"/>
<line x1="654.8" y1="608.2" x2="662.6" y2="608.2" stroke="#e02a2f" stroke-width="1"/>
<line x1="669.4" y1="565.3" x2="669.4" y2="596.1" stroke="#e2444a" stroke-width="0.9" stroke-dasharray="4,2.6" stroke-opacity="0.8"/>
<line x1="669.4" y1="616.8" x2="669.4" y2="623.5" stroke="#e2444a" stroke-width="0.9" stroke-dasharray="4,2.6" stroke-opacity="0.8"/>
<line x1="667.5" y1="565.3" x2="671.3" y2="565.3" stroke="#e2444a" stroke-width="0.9" stroke-opacity="0.85"/>
<line x1="667.5" y1="623.5" x2="671.3" y2="623.5" stroke="#e2444a" stroke-width="0.9" stroke-opacity="0.85"/>
<rect x="665.5" y="596.1" width="7.8" height="20.7" fill="#ec6a70" stroke="#e2444a" stroke-width="0.9"/>
<line x1="665.5" y1="608.2" x2="673.3" y2="608.2" stroke="#e02a2f" stroke-width="1"/>
<line x1="680.2" y1="565.3" x2="680.2" y2="596.1" stroke="#e2444a" stroke-width="0.9" stroke-dasharray="4,2.6" stroke-opacity="0.8"/>
<line x1="680.2" y1="617.3" x2="680.2" y2="623.5" stroke="#e2444a" stroke-width="0.9" stroke-dasharray="4,2.6" stroke-opacity="0.8"/>
<line x1="678.3" y1="565.3" x2="682.1" y2="565.3" stroke="#e2444a" stroke-width="0.9" stroke-opacity="0.85"/>
<line x1="678.3" y1="623.5" x2="682.1" y2="623.5" stroke="#e2444a" stroke-width="0.9" stroke-opacity="0.85"/>
<rect x="676.3" y="596.1" width="7.8" height="21.2" fill="#ec6a70" stroke="#e2444a" stroke-width="0.9"/>
<line x1="676.3" y1="609.3" x2="684.1" y2="609.3" stroke="#e02a2f" stroke-width="1"/>
<text x="579.6" y="638.8" font-size="10.4" text-anchor="middle" fill="#1a1a1a" stroke="#1a1a1a" stroke-width="0.1">1</text>
<text x="590.3" y="638.8" font-size="10.4" text-anchor="middle" fill="#1a1a1a" stroke="#1a1a1a" stroke-width="0.1">2</text>
<text x="601.1" y="638.8" font-size="10.4" text-anchor="middle" fill="#1a1a1a" stroke="#1a1a1a" stroke-width="0.1">3</text>
<text x="611.8" y="638.8" font-size="10.4" text-anchor="middle" fill="#1a1a1a" stroke="#1a1a1a" stroke-width="0.1">4</text>
<text x="622.5" y="638.8" font-size="10.4" text-anchor="middle" fill="#1a1a1a" stroke="#1a1a1a" stroke-width="0.1">5</text>
<text x="637.3" y="638.8" font-size="10.4" text-anchor="middle" fill="#1a1a1a" stroke="#1a1a1a" stroke-width="0.1">1</text>
<text x="647.5" y="638.8" font-size="10.4" text-anchor="middle" fill="#1a1a1a" stroke="#1a1a1a" stroke-width="0.1">2</text>
<text x="658.2" y="638.8" font-size="10.4" text-anchor="middle" fill="#1a1a1a" stroke="#1a1a1a" stroke-width="0.1">3</text>
<text x="668.9" y="638.8" font-size="10.4" text-anchor="middle" fill="#1a1a1a" stroke="#1a1a1a" stroke-width="0.1">4</text>
<text x="679.6" y="638.8" font-size="10.4" text-anchor="middle" fill="#1a1a1a" stroke="#1a1a1a" stroke-width="0.1">5</text>
<text x="625.6" y="654.5" font-size="10.4" text-anchor="middle" fill="#1a1a1a" stroke="#1a1a1a" stroke-width="0.1">Stimulus #</text>
<text x="579.6" y="524" font-size="15" text-anchor="middle" fill="#222" stroke="#222" stroke-width="0.1">*</text>
<line x1="583.6" y1="517" x2="622.5" y2="517" stroke="#999" stroke-width="0.9"/>
<text x="591.1" y="529.4" font-size="15" text-anchor="middle" fill="#222" stroke="#222" stroke-width="0.1">*</text>
<line x1="594.4" y1="521.6" x2="622.5" y2="521.6" stroke="#999" stroke-width="0.9"/>
<line x1="594.4" y1="523.4" x2="612" y2="523.4" stroke="#888" stroke-width="1"/>
<text x="637.3" y="535.3" font-size="15" text-anchor="middle" fill="#222" stroke="#222" stroke-width="0.1">*</text>
<line x1="641.3" y1="527.7" x2="680.2" y2="527.7" stroke="#999" stroke-width="0.9"/>
<line x1="641.3" y1="529" x2="659" y2="529" stroke="#aaa" stroke-width="1.1"/></svg>
</body></html>
